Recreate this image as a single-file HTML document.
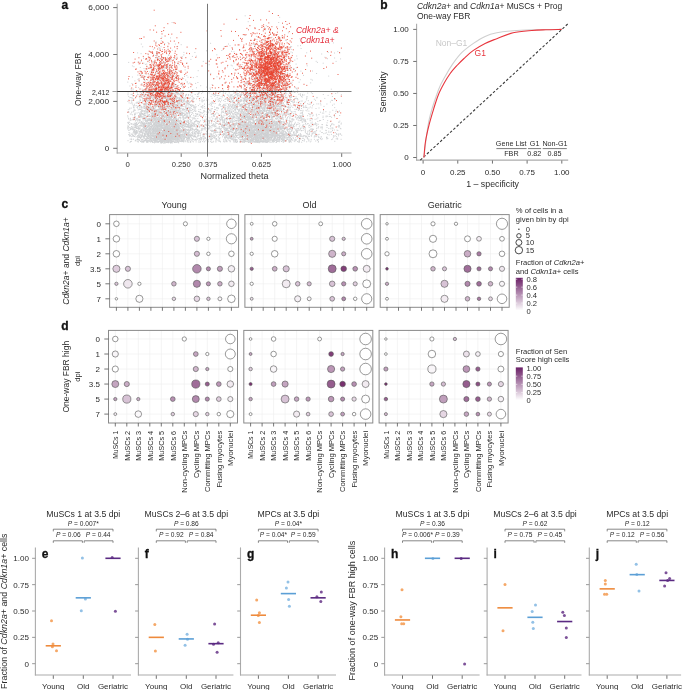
<!DOCTYPE html>
<html><head><meta charset="utf-8"><style>
html,body{margin:0;padding:0;background:#fff;}
svg{display:block;will-change:transform;font-family:"Liberation Sans", sans-serif;}
</style></head><body>
<svg width="685" height="690" viewBox="0 0 685 690" fill="#2b2b2b">
<path d="M244.8 127.9h1.0M134.2 109.9h1.0M243.8 117.5h1.0M179.5 129.0h1.0M155.8 129.4h1.0M179.8 124.4h1.0M155.5 106.9h1.0M245.2 100.4h1.0M273.6 134.4h1.0M239.9 139.6h1.0M152.0 126.0h1.0M174.1 109.7h1.0M138.6 125.5h1.0M251.3 104.4h1.0M252.2 133.7h1.0M234.9 140.3h1.0M272.4 129.4h1.0M233.2 124.2h1.0M297.4 107.7h1.0M336.5 130.1h1.0M167.9 132.0h1.0M188.8 114.2h1.0M253.5 122.7h1.0M188.4 117.2h1.0M175.5 104.8h1.0M238.1 127.7h1.0M233.4 107.4h1.0M160.0 140.5h1.0M282.9 127.0h1.0M240.5 128.3h1.0M245.8 131.6h1.0M170.6 118.2h1.0M147.6 108.1h1.0M165.3 112.7h1.0M233.3 118.2h1.0M158.0 113.7h1.0M165.4 117.9h1.0M267.8 136.3h1.0M143.7 127.2h1.0M221.9 117.0h1.0M231.6 132.7h1.0M294.0 124.4h1.0M276.1 105.6h1.0M283.6 114.1h1.0M146.5 116.3h1.0M249.1 133.0h1.0M243.0 140.1h1.0M266.9 117.3h1.0M145.5 128.8h1.0M209.7 120.2h1.0M146.5 111.4h1.0M174.4 119.4h1.0M176.2 104.4h1.0M134.9 114.3h1.0M225.0 138.8h1.0M142.7 129.3h1.0M296.4 102.3h1.0M236.9 137.6h1.0M256.6 119.4h1.0M244.0 128.0h1.0M262.3 108.6h1.0M173.8 117.6h1.0M311.5 134.6h1.0M153.7 133.3h1.0M164.0 131.7h1.0M159.6 138.1h1.0M235.4 130.1h1.0M178.6 117.7h1.0M250.0 122.8h1.0M176.2 123.6h1.0M297.8 108.0h1.0M243.0 131.0h1.0M195.5 121.0h1.0M285.1 106.2h1.0M299.4 117.7h1.0M214.4 138.3h1.0M263.5 116.3h1.0M171.0 104.2h1.0M164.6 97.7h1.0M217.6 140.6h1.0M279.6 115.0h1.0M135.2 126.0h1.0M340.4 128.8h1.0M268.8 130.0h1.0M190.2 110.1h1.0M191.1 124.7h1.0M186.1 135.3h1.0M169.2 123.2h1.0M181.9 114.3h1.0M181.3 141.7h1.0M230.3 126.6h1.0M309.6 104.3h1.0M147.1 110.8h1.0M252.5 127.6h1.0M154.0 97.7h1.0M142.2 114.6h1.0M142.9 142.2h1.0M171.5 101.6h1.0M200.6 125.0h1.0M254.7 112.2h1.0M262.9 130.2h1.0M287.1 134.1h1.0M156.5 120.8h1.0M155.2 118.5h1.0M234.9 105.7h1.0M268.4 122.4h1.0M156.7 130.2h1.0M286.6 110.0h1.0M263.6 124.2h1.0M141.2 116.4h1.0M166.2 125.2h1.0M266.1 97.7h1.0M169.2 131.3h1.0M249.6 125.7h1.0M220.6 106.5h1.0M176.8 125.0h1.0M166.2 90.2h1.0M275.7 126.7h1.0M159.5 108.6h1.0M246.8 116.5h1.0M215.3 99.2h1.0M242.0 136.5h1.0M340.9 94.7h1.0M149.9 106.2h1.0M150.3 122.3h1.0M160.2 94.3h1.0M188.8 115.8h1.0M169.7 97.9h1.0M131.7 127.0h1.0M248.9 108.6h1.0M179.6 115.3h1.0M168.8 130.8h1.0M311.7 133.2h1.0M287.9 107.3h1.0M136.8 118.3h1.0M271.4 107.0h1.0M216.8 132.3h1.0M161.3 136.1h1.0M291.1 119.1h1.0M255.5 108.4h1.0M262.5 113.1h1.0M274.4 122.8h1.0M158.7 117.1h1.0M173.5 93.6h1.0M172.9 112.7h1.0M252.2 117.2h1.0M265.0 130.2h1.0M334.2 107.6h1.0M257.0 125.0h1.0M239.1 125.8h1.0M267.6 133.4h1.0M280.6 114.0h1.0M162.1 101.3h1.0M188.4 118.4h1.0M132.5 111.9h1.0M167.0 98.3h1.0M162.2 125.4h1.0M129.2 109.0h1.0M186.2 102.1h1.0M250.8 125.5h1.0M154.3 94.9h1.0M253.8 117.9h1.0M245.1 119.1h1.0M270.2 102.9h1.0M249.1 138.9h1.0M146.6 115.9h1.0M242.7 116.8h1.0M210.9 102.1h1.0M251.4 126.8h1.0M221.2 109.3h1.0M173.4 108.6h1.0M154.8 119.6h1.0M138.8 117.3h1.0M266.3 123.8h1.0M220.8 119.2h1.0M201.5 129.6h1.0M172.4 120.4h1.0M215.1 118.9h1.0M219.2 134.6h1.0M264.5 126.9h1.0M263.2 126.3h1.0M157.3 130.5h1.0M172.1 130.1h1.0M176.8 102.9h1.0M146.2 134.1h1.0M167.0 121.7h1.0M166.6 120.5h1.0M155.0 114.8h1.0M287.6 111.1h1.0M182.3 94.3h1.0M250.2 118.1h1.0M160.1 108.6h1.0M206.3 114.6h1.0M143.5 107.9h1.0M251.6 132.5h1.0M279.3 116.3h1.0M260.7 130.8h1.0M272.6 142.2h1.0M233.7 125.8h1.0M177.3 103.6h1.0M218.6 141.5h1.0M159.6 140.4h1.0M269.1 117.6h1.0M338.2 127.1h1.0M168.1 140.3h1.0M163.2 102.2h1.0M143.0 124.1h1.0M177.1 113.5h1.0M194.5 109.6h1.0M239.9 106.1h1.0M315.9 125.8h1.0M146.0 136.6h1.0M142.5 110.7h1.0M274.7 139.7h1.0M162.6 95.2h1.0M259.5 119.2h1.0M159.4 105.2h1.0M178.9 128.4h1.0M259.8 108.2h1.0M252.3 112.7h1.0M222.8 112.5h1.0M171.3 128.6h1.0M270.6 133.1h1.0M244.7 99.2h1.0M264.4 135.3h1.0M252.6 132.3h1.0M154.4 118.9h1.0M234.3 126.7h1.0M305.0 120.8h1.0M133.9 130.2h1.0M165.2 140.4h1.0M159.8 98.6h1.0M229.9 114.4h1.0M153.8 130.7h1.0M272.7 141.0h1.0M230.4 135.4h1.0M146.8 101.2h1.0M192.5 109.6h1.0M291.5 121.1h1.0M270.4 131.7h1.0M139.0 122.3h1.0M170.4 134.5h1.0M141.9 128.9h1.0M241.5 97.7h1.0M239.0 120.4h1.0M173.8 136.3h1.0M293.8 128.7h1.0M141.3 136.0h1.0M182.0 131.0h1.0M160.8 136.6h1.0M282.2 115.1h1.0M172.5 141.7h1.0M279.4 127.4h1.0M253.6 102.1h1.0M157.6 111.6h1.0M171.5 110.9h1.0M260.2 126.0h1.0M166.4 106.1h1.0M173.3 139.4h1.0M162.7 118.9h1.0M156.6 117.8h1.0M158.2 109.5h1.0M168.2 125.5h1.0M158.1 117.7h1.0M241.6 119.1h1.0M289.3 137.1h1.0M172.5 128.5h1.0M248.7 109.9h1.0M237.0 130.8h1.0M173.7 127.3h1.0M265.3 134.7h1.0M148.9 119.4h1.0M289.1 122.8h1.0M296.3 131.1h1.0M281.4 123.3h1.0M242.5 124.0h1.0M142.9 141.3h1.0M163.8 96.1h1.0M214.1 109.6h1.0M300.2 105.1h1.0M137.0 139.2h1.0M130.3 129.3h1.0M261.3 130.5h1.0M305.4 135.6h1.0M211.9 120.1h1.0M177.3 130.5h1.0M201.3 137.7h1.0M252.9 132.8h1.0M210.1 139.6h1.0M278.8 139.0h1.0M152.4 126.5h1.0M320.7 139.6h1.0M262.0 128.7h1.0M258.9 128.1h1.0M164.1 96.3h1.0M240.3 122.3h1.0M169.6 124.6h1.0M263.3 116.0h1.0M257.2 121.0h1.0M273.1 130.2h1.0M250.4 114.4h1.0M168.4 138.5h1.0M179.4 108.4h1.0M199.1 111.9h1.0M255.6 116.3h1.0M285.2 135.8h1.0M143.4 141.9h1.0M241.4 117.2h1.0M248.2 113.9h1.0M152.8 123.4h1.0M252.4 135.1h1.0M129.2 122.3h1.0M129.6 142.3h1.0M177.1 113.2h1.0M270.7 127.5h1.0M240.9 135.6h1.0M156.0 120.1h1.0M267.5 126.9h1.0M292.3 107.4h1.0M220.6 96.7h1.0M142.7 140.8h1.0M151.7 131.6h1.0M330.9 134.4h1.0M141.6 107.2h1.0M150.5 118.3h1.0M232.1 135.1h1.0M251.4 133.5h1.0M209.5 137.7h1.0M171.9 109.5h1.0M147.4 129.5h1.0M156.0 126.0h1.0M290.9 99.7h1.0M174.8 131.7h1.0M240.6 132.8h1.0M185.9 134.2h1.0M154.6 111.1h1.0M147.7 134.4h1.0M242.5 98.9h1.0M231.4 122.6h1.0M173.7 106.4h1.0M226.1 136.5h1.0M250.2 132.5h1.0M240.8 115.3h1.0M139.1 119.5h1.0M183.3 117.6h1.0M135.4 96.9h1.0M129.7 139.1h1.0M169.2 117.5h1.0M283.9 129.0h1.0M165.5 130.7h1.0M141.5 142.2h1.0M146.9 119.9h1.0M253.6 130.7h1.0M155.1 113.5h1.0M256.6 91.2h1.0M156.7 127.5h1.0M266.9 120.3h1.0M152.0 135.4h1.0M294.4 109.3h1.0M280.5 105.4h1.0M246.9 115.2h1.0M142.4 133.2h1.0M269.6 119.2h1.0M213.9 121.4h1.0M169.2 137.7h1.0M128.4 99.9h1.0M176.7 89.9h1.0M214.3 126.8h1.0M146.4 109.0h1.0M138.4 112.4h1.0M321.9 138.9h1.0M153.8 111.3h1.0M233.7 126.2h1.0M285.5 123.8h1.0M319.9 112.2h1.0M155.7 134.9h1.0M189.8 116.7h1.0M225.0 130.9h1.0M145.1 108.9h1.0M172.5 141.7h1.0M252.7 109.5h1.0M269.3 99.7h1.0M250.4 125.1h1.0M242.7 121.9h1.0M226.8 138.8h1.0M246.7 119.0h1.0M256.1 139.5h1.0M256.2 106.9h1.0M269.6 116.9h1.0M202.7 120.7h1.0M163.7 125.5h1.0M275.7 122.4h1.0M180.5 114.5h1.0M192.3 101.6h1.0M263.9 122.4h1.0M196.1 115.0h1.0M186.8 108.7h1.0M182.9 136.5h1.0M262.9 102.1h1.0M163.6 123.3h1.0M267.7 120.4h1.0M254.9 117.4h1.0M273.5 128.6h1.0M196.1 131.5h1.0M275.7 135.1h1.0M194.8 116.5h1.0M247.2 140.0h1.0M206.2 125.4h1.0M267.9 113.3h1.0M131.5 98.9h1.0M276.5 109.9h1.0M283.3 134.4h1.0M139.7 99.6h1.0M251.1 118.5h1.0M197.9 131.6h1.0M259.9 110.1h1.0M285.1 116.8h1.0M245.2 134.8h1.0M170.6 124.2h1.0M328.8 114.3h1.0M280.4 128.4h1.0M219.7 101.6h1.0M263.8 120.9h1.0M268.2 115.0h1.0M265.7 132.8h1.0M157.8 118.0h1.0M231.4 138.5h1.0M241.6 109.6h1.0M223.6 131.4h1.0M167.9 110.8h1.0M247.6 111.5h1.0M246.5 94.0h1.0M289.6 121.9h1.0M155.1 139.0h1.0M261.9 121.4h1.0M177.7 111.2h1.0M145.6 138.5h1.0M299.4 135.3h1.0M199.7 138.4h1.0M236.8 107.4h1.0M277.1 133.3h1.0M228.9 127.1h1.0M246.6 92.0h1.0M272.4 114.1h1.0M253.9 97.6h1.0M268.5 140.1h1.0M276.7 135.9h1.0M216.6 128.6h1.0M246.7 120.1h1.0M154.3 128.9h1.0M289.1 142.1h1.0M178.7 107.2h1.0M268.5 124.1h1.0M178.4 112.0h1.0M248.0 113.5h1.0M258.4 114.1h1.0M266.4 113.4h1.0M195.6 129.5h1.0M286.8 104.4h1.0M161.7 122.3h1.0M280.7 133.3h1.0M257.7 108.4h1.0M248.3 139.8h1.0M248.0 134.9h1.0M173.7 110.0h1.0M172.5 127.0h1.0M326.8 125.5h1.0M276.1 111.0h1.0M256.3 120.2h1.0M244.7 130.5h1.0M257.4 132.5h1.0M262.0 109.3h1.0M264.4 137.4h1.0M188.0 137.1h1.0M184.6 136.6h1.0M151.7 119.5h1.0M273.1 109.7h1.0M131.5 102.9h1.0M169.3 118.0h1.0M232.0 118.0h1.0M273.4 114.0h1.0M246.4 135.3h1.0M331.1 117.3h1.0M144.0 127.1h1.0M169.6 120.9h1.0M177.6 119.1h1.0M262.4 140.2h1.0M267.1 115.0h1.0M141.3 131.5h1.0M236.7 95.1h1.0M139.4 134.5h1.0M214.4 124.9h1.0M157.8 109.2h1.0M236.9 117.0h1.0M219.8 131.3h1.0M268.6 110.3h1.0M280.2 126.7h1.0M249.2 133.1h1.0M253.2 138.7h1.0M178.5 121.1h1.0M250.3 141.0h1.0M154.2 120.1h1.0M245.5 115.8h1.0M237.7 113.7h1.0M168.4 115.5h1.0M275.5 136.4h1.0M246.5 93.4h1.0M291.0 125.8h1.0M157.5 115.2h1.0M289.0 92.8h1.0M152.2 92.3h1.0M240.0 132.0h1.0M157.9 139.1h1.0M268.1 99.4h1.0M154.6 103.7h1.0M304.9 132.7h1.0M258.1 117.2h1.0M263.3 134.5h1.0M161.4 113.1h1.0M274.6 138.2h1.0M132.1 95.2h1.0M171.1 129.5h1.0M148.9 129.8h1.0M172.5 133.3h1.0M245.4 138.3h1.0M265.7 141.6h1.0M278.1 94.5h1.0M136.2 105.7h1.0M162.0 116.3h1.0M157.6 124.8h1.0M260.3 133.9h1.0M248.6 122.3h1.0M213.9 116.1h1.0M240.6 100.5h1.0M226.3 129.3h1.0M279.8 106.5h1.0M258.9 111.4h1.0M171.8 136.6h1.0M177.6 93.4h1.0M225.9 140.1h1.0M178.7 122.4h1.0M164.7 98.6h1.0M284.1 114.9h1.0M221.5 118.2h1.0M163.8 122.7h1.0M159.3 115.2h1.0M157.0 135.1h1.0M163.0 130.3h1.0M214.7 124.1h1.0M143.0 118.9h1.0M127.6 122.6h1.0M169.0 112.5h1.0M250.9 103.5h1.0M168.3 91.4h1.0M256.9 142.0h1.0M184.6 136.4h1.0M194.0 106.9h1.0M215.3 120.0h1.0M153.5 123.9h1.0M264.3 117.4h1.0M149.2 135.1h1.0M164.3 128.8h1.0M286.1 133.8h1.0M164.9 102.4h1.0M266.1 95.4h1.0M316.4 97.9h1.0M244.6 111.2h1.0M165.4 122.4h1.0M286.6 102.9h1.0M239.5 100.4h1.0M245.0 106.6h1.0M165.8 115.4h1.0M272.0 134.3h1.0M268.3 112.6h1.0M170.2 131.8h1.0M145.7 132.4h1.0M189.6 122.1h1.0M267.5 140.2h1.0M147.9 126.3h1.0M298.0 134.6h1.0M295.1 113.2h1.0M245.6 141.7h1.0M271.9 112.9h1.0M260.0 141.7h1.0M277.2 113.1h1.0M210.1 136.6h1.0M156.7 129.7h1.0M238.4 120.9h1.0M156.2 95.5h1.0M281.2 118.0h1.0M257.9 126.8h1.0M300.9 130.5h1.0M294.8 122.3h1.0M272.8 106.1h1.0M163.8 140.3h1.0M185.1 140.8h1.0M132.8 129.7h1.0M165.9 118.0h1.0M245.1 139.6h1.0M231.2 126.7h1.0M139.9 92.2h1.0M286.3 113.4h1.0M215.0 109.7h1.0M161.5 101.0h1.0M149.0 136.9h1.0M265.9 116.5h1.0M160.6 135.5h1.0M147.9 135.0h1.0M276.1 124.4h1.0M299.1 107.2h1.0M156.8 114.0h1.0M185.3 108.1h1.0M227.1 112.8h1.0M175.3 94.1h1.0M263.3 121.9h1.0M144.9 115.5h1.0M240.0 130.7h1.0M166.5 114.2h1.0M252.4 88.8h1.0M149.7 109.1h1.0M282.0 96.9h1.0M256.4 131.0h1.0M164.4 132.3h1.0M175.5 136.3h1.0M231.9 104.2h1.0M273.6 121.1h1.0M175.2 99.1h1.0M271.6 120.1h1.0M251.9 111.5h1.0M185.0 96.1h1.0M170.2 123.9h1.0M253.0 111.8h1.0M262.8 128.0h1.0M276.3 116.9h1.0M195.2 139.8h1.0M247.0 112.9h1.0M236.5 133.4h1.0M197.0 133.1h1.0M179.1 99.5h1.0M316.2 123.8h1.0M256.3 115.9h1.0M169.5 124.2h1.0M253.5 134.8h1.0M166.4 133.1h1.0M250.6 117.2h1.0M312.7 129.4h1.0M218.9 132.4h1.0M172.4 130.9h1.0M176.8 121.5h1.0M150.4 134.4h1.0M155.7 98.4h1.0M156.6 111.2h1.0M152.5 118.2h1.0M169.9 123.6h1.0M265.0 106.7h1.0M198.0 111.6h1.0M290.7 96.5h1.0M251.8 135.7h1.0M184.4 129.0h1.0M251.2 98.4h1.0M265.5 121.1h1.0M176.2 123.2h1.0M169.4 91.6h1.0M333.9 99.6h1.0M254.1 110.0h1.0M315.2 134.7h1.0M158.7 106.4h1.0M258.9 130.8h1.0M309.0 130.5h1.0M172.2 125.1h1.0M165.5 139.6h1.0M260.7 137.7h1.0M176.8 140.4h1.0M246.7 97.9h1.0M161.6 117.8h1.0M134.3 113.3h1.0M242.7 142.3h1.0M291.7 134.7h1.0M269.5 130.2h1.0M194.3 132.2h1.0M172.2 133.8h1.0M190.5 130.2h1.0M155.3 127.8h1.0M193.2 139.7h1.0M197.2 114.6h1.0M266.7 129.4h1.0M299.3 130.3h1.0M303.1 119.8h1.0M282.9 119.7h1.0M173.1 124.9h1.0M287.0 117.8h1.0M221.4 109.8h1.0M247.3 97.3h1.0M244.1 99.5h1.0M283.6 99.4h1.0M163.2 107.6h1.0M248.5 93.5h1.0M291.2 136.4h1.0M159.4 139.3h1.0M247.0 107.4h1.0M299.6 118.4h1.0M138.1 126.9h1.0M266.5 110.6h1.0M250.6 130.6h1.0M201.6 138.1h1.0M183.0 95.8h1.0M197.0 129.5h1.0M260.9 121.4h1.0M225.3 107.2h1.0M268.2 141.7h1.0M163.9 135.5h1.0M277.3 124.6h1.0M241.3 140.9h1.0M193.5 135.1h1.0M169.9 91.8h1.0M184.4 114.9h1.0M207.8 139.7h1.0M244.6 118.1h1.0M155.2 97.2h1.0M156.7 129.9h1.0M185.9 117.8h1.0M270.8 133.9h1.0M244.4 118.7h1.0M157.5 101.8h1.0M161.3 103.1h1.0M234.0 133.2h1.0M235.8 139.7h1.0M202.2 108.0h1.0M230.4 125.3h1.0M171.0 121.4h1.0M142.1 123.4h1.0M163.3 96.0h1.0M226.5 124.5h1.0M180.7 115.2h1.0M273.7 135.6h1.0M159.1 124.1h1.0M274.6 131.0h1.0M153.5 114.0h1.0M181.2 124.4h1.0M131.9 104.1h1.0M234.7 112.3h1.0M255.7 102.0h1.0M247.5 128.6h1.0M202.3 107.2h1.0M162.3 96.5h1.0M174.2 139.9h1.0M164.5 141.5h1.0M185.7 131.6h1.0M173.3 131.0h1.0M229.8 117.4h1.0M159.5 135.1h1.0M237.6 113.5h1.0M185.3 133.2h1.0M161.8 117.1h1.0M275.0 133.7h1.0M158.7 119.7h1.0M128.2 119.1h1.0M241.5 134.8h1.0M148.8 109.3h1.0M295.8 131.1h1.0M213.1 141.3h1.0M133.8 104.2h1.0M273.5 97.5h1.0M130.7 114.0h1.0M147.0 141.8h1.0M267.1 138.8h1.0M215.5 140.3h1.0M244.8 118.0h1.0M161.7 137.2h1.0M283.2 141.9h1.0M261.3 132.5h1.0M142.0 123.0h1.0M238.7 109.2h1.0M243.1 101.6h1.0M161.0 129.9h1.0M155.5 124.0h1.0M148.6 124.7h1.0M194.2 121.7h1.0M165.0 103.4h1.0M196.9 121.5h1.0M159.6 106.8h1.0M206.1 131.2h1.0M269.2 128.6h1.0M172.9 121.8h1.0M280.2 102.4h1.0M261.9 123.8h1.0M251.2 119.4h1.0M269.0 126.3h1.0M289.6 105.9h1.0M289.4 135.1h1.0M133.0 128.9h1.0M304.9 121.5h1.0M153.3 114.8h1.0M290.5 129.5h1.0M335.8 136.6h1.0M234.3 128.8h1.0M186.1 132.8h1.0M270.5 130.6h1.0M178.5 93.7h1.0M280.0 137.6h1.0M143.0 141.5h1.0M154.1 137.5h1.0M138.0 115.5h1.0M188.2 103.0h1.0M234.3 123.6h1.0M227.3 130.6h1.0M242.1 92.0h1.0M163.0 107.2h1.0M256.5 136.5h1.0M129.9 118.3h1.0M182.4 113.2h1.0M243.2 98.1h1.0M276.2 121.8h1.0M223.8 121.7h1.0M270.1 142.1h1.0M192.9 123.9h1.0M172.2 98.2h1.0M165.1 138.7h1.0M155.1 116.3h1.0M246.3 129.5h1.0M153.5 131.5h1.0M165.6 130.4h1.0M287.7 139.2h1.0M165.7 121.6h1.0M177.9 135.1h1.0M205.8 119.3h1.0M235.0 129.7h1.0M176.3 125.7h1.0M295.9 109.5h1.0M163.8 138.5h1.0M172.9 134.3h1.0M207.7 123.9h1.0M187.2 107.7h1.0M141.0 95.3h1.0M254.8 139.4h1.0M191.9 132.3h1.0M184.6 130.9h1.0M274.6 129.6h1.0M147.3 134.6h1.0M262.1 131.7h1.0M167.8 99.6h1.0M166.6 133.5h1.0M166.0 131.7h1.0M310.4 123.0h1.0M179.4 115.2h1.0M244.4 122.6h1.0M334.6 135.6h1.0M338.8 125.6h1.0M166.4 140.0h1.0M322.8 94.5h1.0M259.2 112.7h1.0M263.7 106.8h1.0M186.3 103.9h1.0M162.5 141.2h1.0M164.0 103.4h1.0M167.4 123.5h1.0M219.7 141.3h1.0M182.0 113.9h1.0M172.3 130.8h1.0M159.4 125.7h1.0M143.8 111.9h1.0M168.5 116.8h1.0M221.1 115.3h1.0M269.9 128.0h1.0M145.3 114.0h1.0M269.5 126.0h1.0M135.5 127.3h1.0M161.2 106.9h1.0M127.2 115.8h1.0M268.7 130.4h1.0M154.6 109.6h1.0M170.7 120.6h1.0M160.6 124.8h1.0M153.7 111.3h1.0M156.3 137.1h1.0M176.1 115.3h1.0M244.6 106.8h1.0M181.1 138.8h1.0M177.3 134.6h1.0M309.7 103.0h1.0M146.4 98.3h1.0M158.9 129.5h1.0M168.4 115.0h1.0M278.3 104.0h1.0M267.4 128.3h1.0M272.9 105.3h1.0M254.0 103.6h1.0M167.6 119.9h1.0M158.4 110.4h1.0M301.7 101.0h1.0M298.5 142.1h1.0M266.0 115.9h1.0M251.7 107.9h1.0M244.8 123.0h1.0M162.6 115.1h1.0M172.5 125.5h1.0M187.6 122.4h1.0M144.9 134.3h1.0M229.0 136.3h1.0M225.7 132.8h1.0M239.0 119.0h1.0M247.5 114.5h1.0M186.2 112.8h1.0M161.2 118.8h1.0M303.3 135.4h1.0M267.5 122.0h1.0M200.9 138.6h1.0M315.2 141.0h1.0M174.8 102.9h1.0M164.9 131.0h1.0M275.5 135.6h1.0M157.7 123.3h1.0M241.8 116.3h1.0M183.7 100.4h1.0M246.1 114.3h1.0M258.1 128.8h1.0M232.4 96.6h1.0M313.7 137.0h1.0M176.9 128.3h1.0M168.2 139.7h1.0M224.6 101.5h1.0M260.6 103.4h1.0M184.1 134.2h1.0M164.4 117.1h1.0M230.7 98.4h1.0M236.0 142.3h1.0M204.0 128.2h1.0M256.9 120.9h1.0M249.7 127.3h1.0M258.5 136.8h1.0M140.0 116.3h1.0M266.8 134.4h1.0M173.0 129.6h1.0M138.1 123.5h1.0M140.0 125.7h1.0M301.9 105.3h1.0M311.7 119.7h1.0M256.5 91.2h1.0M251.2 137.1h1.0M169.5 111.0h1.0M282.5 126.4h1.0M172.6 124.7h1.0M235.7 112.5h1.0M158.3 99.4h1.0M287.9 100.5h1.0M295.5 135.2h1.0M307.6 131.0h1.0M188.1 129.5h1.0M266.0 108.7h1.0M254.8 136.7h1.0M134.4 125.0h1.0M176.7 135.2h1.0M180.2 124.5h1.0M280.4 104.5h1.0M179.6 117.9h1.0M273.6 116.8h1.0M166.7 111.0h1.0M251.7 96.9h1.0M170.6 105.1h1.0M222.7 93.0h1.0M196.3 138.9h1.0M245.3 133.9h1.0M261.1 129.4h1.0M200.8 107.1h1.0M157.0 115.6h1.0M251.3 135.1h1.0M164.3 96.3h1.0M260.4 126.9h1.0M182.7 116.5h1.0M282.3 141.2h1.0M287.7 104.1h1.0M169.4 116.7h1.0M248.6 99.3h1.0M246.7 118.1h1.0M193.1 115.3h1.0M161.8 104.0h1.0M170.7 102.5h1.0M260.5 131.1h1.0M145.1 90.4h1.0M238.6 114.4h1.0M271.5 130.0h1.0M300.0 95.6h1.0M248.6 131.0h1.0M222.1 105.9h1.0M143.1 116.1h1.0M194.2 123.8h1.0M149.5 135.9h1.0M290.1 121.5h1.0M268.6 129.6h1.0M273.0 138.2h1.0M253.1 120.6h1.0M145.1 129.1h1.0M245.9 113.8h1.0M192.1 119.1h1.0M161.1 109.1h1.0M181.8 109.4h1.0M247.7 136.8h1.0M310.2 120.2h1.0M206.9 135.6h1.0M139.4 128.6h1.0M187.4 134.2h1.0M186.3 129.7h1.0M130.8 139.4h1.0M240.0 135.7h1.0M224.7 104.1h1.0M217.7 134.8h1.0M157.2 135.3h1.0M211.8 108.6h1.0M177.8 107.3h1.0M167.1 97.3h1.0M248.7 133.3h1.0M183.6 130.1h1.0M185.4 126.6h1.0M256.2 141.8h1.0M195.4 110.9h1.0M181.5 139.6h1.0M150.5 113.1h1.0M254.4 128.5h1.0M206.3 139.2h1.0M241.0 129.7h1.0M169.0 108.1h1.0M140.4 125.0h1.0M179.7 112.7h1.0M179.3 112.4h1.0M149.2 100.7h1.0M304.7 120.0h1.0M158.0 111.3h1.0M200.1 109.5h1.0M163.2 107.6h1.0M143.5 110.7h1.0M243.3 132.8h1.0M310.1 114.3h1.0M167.2 134.2h1.0M164.8 140.4h1.0M249.5 119.5h1.0M290.0 140.3h1.0M241.7 111.6h1.0M170.7 141.5h1.0M246.1 121.9h1.0M226.9 135.6h1.0M261.2 108.1h1.0M168.3 99.1h1.0M154.9 115.7h1.0M235.3 140.8h1.0M150.1 134.2h1.0M278.4 121.5h1.0M266.6 136.1h1.0M261.3 102.7h1.0M172.9 98.2h1.0M139.2 128.8h1.0M267.0 131.3h1.0M241.5 100.8h1.0M189.9 92.3h1.0M239.2 127.6h1.0M188.8 102.1h1.0M257.8 120.5h1.0M280.6 123.4h1.0M216.0 135.4h1.0M133.9 125.0h1.0M265.0 114.7h1.0M233.1 117.7h1.0M166.1 139.0h1.0M259.8 99.5h1.0M164.5 124.1h1.0M282.1 119.0h1.0M168.5 131.2h1.0M264.8 129.0h1.0M181.0 134.4h1.0M148.3 108.6h1.0M266.5 136.4h1.0M238.4 128.6h1.0M168.5 130.2h1.0M262.1 127.3h1.0M166.9 127.6h1.0M284.9 127.1h1.0M150.3 116.2h1.0M154.2 133.7h1.0M172.5 103.4h1.0M201.2 112.8h1.0M241.1 130.2h1.0M142.6 121.8h1.0M151.8 129.6h1.0M243.6 89.8h1.0M167.7 131.6h1.0M166.1 136.4h1.0M212.9 137.7h1.0M164.7 139.9h1.0M184.1 134.1h1.0M262.0 128.8h1.0M163.3 133.5h1.0M237.4 101.5h1.0M147.1 135.0h1.0M330.0 126.7h1.0M175.7 99.3h1.0M142.2 98.3h1.0M262.7 138.4h1.0M261.2 140.2h1.0M141.7 132.2h1.0M250.4 109.4h1.0M172.5 141.2h1.0M278.5 113.4h1.0M262.0 133.6h1.0M321.9 127.0h1.0M169.0 112.1h1.0M256.3 115.2h1.0M154.4 118.5h1.0M277.1 123.1h1.0M264.0 101.6h1.0M147.7 112.3h1.0M315.3 131.3h1.0M266.2 138.4h1.0M190.0 129.0h1.0M257.0 137.1h1.0M253.5 110.9h1.0M146.4 130.0h1.0M284.2 134.9h1.0M155.4 103.3h1.0M144.3 99.7h1.0M162.9 133.8h1.0M271.5 102.7h1.0M269.4 131.5h1.0M188.1 130.8h1.0M144.4 106.2h1.0M171.7 120.1h1.0M152.6 114.3h1.0M234.2 117.4h1.0M235.6 118.1h1.0M274.4 99.3h1.0M288.5 141.0h1.0M245.5 124.5h1.0M148.0 109.9h1.0M166.7 99.8h1.0M243.7 113.9h1.0M229.2 113.4h1.0M275.6 108.0h1.0M165.0 119.9h1.0M254.0 133.1h1.0M290.6 116.4h1.0M241.5 119.7h1.0M205.3 140.7h1.0M131.1 124.1h1.0M173.1 118.5h1.0M258.2 139.3h1.0M183.4 109.7h1.0M268.5 124.8h1.0M257.6 111.8h1.0M223.4 140.2h1.0M201.7 128.2h1.0M145.8 131.8h1.0M192.1 105.3h1.0M135.3 120.6h1.0M256.3 131.0h1.0M160.7 142.0h1.0M269.1 140.0h1.0M249.6 125.8h1.0M256.2 131.8h1.0M149.9 99.9h1.0M270.9 129.6h1.0M173.3 106.0h1.0M295.3 139.9h1.0M328.3 128.5h1.0M203.0 138.8h1.0M154.5 104.7h1.0M201.6 117.1h1.0M210.7 120.3h1.0M157.3 114.7h1.0M289.4 121.2h1.0M154.6 117.8h1.0M151.3 110.3h1.0M261.2 130.5h1.0M315.5 108.5h1.0M257.8 90.2h1.0M169.8 130.1h1.0M234.3 132.5h1.0M252.1 109.0h1.0M154.2 136.7h1.0M182.9 93.3h1.0M264.6 134.7h1.0M184.2 115.4h1.0M185.0 130.8h1.0M166.1 118.7h1.0M256.2 113.8h1.0M149.7 128.2h1.0M313.9 139.3h1.0M148.3 133.6h1.0M164.7 138.7h1.0M131.4 129.2h1.0M275.1 111.4h1.0M171.8 131.8h1.0M272.9 97.9h1.0M132.9 119.2h1.0M333.6 115.5h1.0M161.4 121.3h1.0M185.2 117.2h1.0M185.7 101.2h1.0M267.5 125.1h1.0M134.7 110.3h1.0M260.8 132.3h1.0M145.5 139.2h1.0M209.9 139.7h1.0M243.9 135.6h1.0M127.6 127.0h1.0M264.5 126.1h1.0M171.3 97.7h1.0M146.9 112.7h1.0M270.0 119.5h1.0M182.2 125.0h1.0M168.5 136.0h1.0M309.4 131.1h1.0M229.5 108.5h1.0M211.0 114.2h1.0M192.8 118.7h1.0M187.8 138.9h1.0M248.4 118.4h1.0M260.1 138.2h1.0M151.1 102.7h1.0M191.1 121.0h1.0M161.8 138.6h1.0M218.8 129.1h1.0M164.3 92.6h1.0M168.6 110.0h1.0M325.6 116.8h1.0M258.5 110.3h1.0M231.4 137.4h1.0M245.0 137.3h1.0M175.9 126.2h1.0M157.7 141.8h1.0M257.9 140.8h1.0M145.3 140.7h1.0M288.9 141.0h1.0M271.6 124.5h1.0M278.2 135.2h1.0M261.1 121.6h1.0M185.0 118.1h1.0M134.4 129.1h1.0M268.6 137.8h1.0M148.0 119.2h1.0M265.4 121.1h1.0M164.8 128.0h1.0M185.3 109.2h1.0M188.6 140.3h1.0M203.7 126.3h1.0M277.8 131.1h1.0M258.9 119.6h1.0M289.4 118.1h1.0M250.5 135.4h1.0M146.9 111.2h1.0M191.7 99.0h1.0M283.1 128.3h1.0M310.7 139.4h1.0M157.3 134.6h1.0M248.6 121.0h1.0M151.6 91.0h1.0M215.6 139.2h1.0M297.0 106.5h1.0M279.4 108.6h1.0M220.3 128.6h1.0M213.0 130.8h1.0M135.6 118.9h1.0M302.3 111.2h1.0M275.1 128.4h1.0M204.6 129.9h1.0M169.4 117.1h1.0M261.1 131.3h1.0M176.7 100.7h1.0M150.0 108.1h1.0M206.0 134.0h1.0M176.0 106.2h1.0M266.9 94.1h1.0M258.8 114.6h1.0M178.0 119.0h1.0M270.1 105.1h1.0M332.9 135.7h1.0M170.0 132.9h1.0M213.1 135.8h1.0M251.8 97.8h1.0M224.7 118.5h1.0M151.2 117.5h1.0M144.4 129.0h1.0M180.1 138.4h1.0M230.5 137.0h1.0M254.9 139.9h1.0M236.3 92.2h1.0M304.8 127.9h1.0M182.1 134.9h1.0M264.7 110.9h1.0M150.7 133.2h1.0M273.1 112.7h1.0M252.2 131.6h1.0M175.6 120.1h1.0M217.9 108.6h1.0M258.8 118.2h1.0M213.7 132.2h1.0M318.2 126.6h1.0M171.2 126.8h1.0M257.7 115.3h1.0M164.0 134.3h1.0M243.9 126.5h1.0M264.8 129.6h1.0M243.3 136.7h1.0M245.3 114.3h1.0M159.5 122.1h1.0M233.6 101.9h1.0M227.8 106.8h1.0M297.7 120.0h1.0M171.4 120.9h1.0M149.0 114.6h1.0M259.8 137.9h1.0M288.9 121.1h1.0M128.1 118.4h1.0M139.2 135.7h1.0M171.8 129.7h1.0M263.2 95.1h1.0M180.1 123.0h1.0M212.9 94.8h1.0M150.9 126.5h1.0M154.7 124.4h1.0M254.2 129.7h1.0M272.8 131.6h1.0M252.7 108.0h1.0M254.4 130.1h1.0M269.6 113.4h1.0M140.4 115.1h1.0M260.7 134.9h1.0M152.0 138.5h1.0M241.0 117.4h1.0M266.2 111.8h1.0M249.5 117.7h1.0M177.4 134.1h1.0M270.6 124.0h1.0M154.1 125.9h1.0M190.4 141.9h1.0M175.5 140.8h1.0M276.2 135.4h1.0M171.3 130.5h1.0M176.7 93.5h1.0M165.1 103.3h1.0M236.8 96.7h1.0M175.6 119.2h1.0M338.5 111.6h1.0M175.0 126.8h1.0M162.6 124.9h1.0M275.3 97.1h1.0M144.6 119.8h1.0M175.4 125.3h1.0M186.1 109.8h1.0M280.6 132.5h1.0M285.9 100.1h1.0M187.8 135.5h1.0M227.4 110.6h1.0M156.6 124.7h1.0M278.8 136.2h1.0M244.1 95.8h1.0M167.5 134.0h1.0M255.8 135.2h1.0M259.7 96.5h1.0M159.6 129.8h1.0M180.8 108.2h1.0M264.4 107.8h1.0M263.5 127.6h1.0M247.9 129.2h1.0M197.6 121.3h1.0M298.6 142.1h1.0M287.8 125.9h1.0M271.8 137.0h1.0M147.9 115.3h1.0M167.3 138.2h1.0M277.0 124.0h1.0M315.1 123.8h1.0M166.6 120.4h1.0M166.9 117.8h1.0M146.2 120.2h1.0M225.6 137.5h1.0M254.7 97.5h1.0M264.1 141.8h1.0M187.3 113.1h1.0M248.2 98.4h1.0M261.4 92.5h1.0M251.2 132.1h1.0M162.4 136.4h1.0M171.7 124.2h1.0M244.4 96.1h1.0M195.2 113.5h1.0M143.9 136.0h1.0M219.9 131.4h1.0M160.4 107.6h1.0M261.1 100.4h1.0M231.9 100.4h1.0M132.5 91.1h1.0M235.9 114.0h1.0M247.0 124.8h1.0M167.1 126.9h1.0M307.2 103.7h1.0M247.2 128.0h1.0M241.3 111.9h1.0M271.6 136.8h1.0M243.7 124.0h1.0M195.6 124.5h1.0M201.7 101.9h1.0M261.8 123.4h1.0M194.3 133.7h1.0M154.0 113.1h1.0M153.6 131.1h1.0M249.1 118.2h1.0M182.5 108.6h1.0M223.8 134.3h1.0M302.9 128.7h1.0M241.4 122.2h1.0M218.9 100.3h1.0M167.1 128.5h1.0M149.0 118.6h1.0M239.8 126.7h1.0M165.3 98.1h1.0M192.4 141.3h1.0M229.4 137.5h1.0M154.3 130.6h1.0M258.9 109.6h1.0M129.8 135.7h1.0M256.4 111.7h1.0M279.2 104.1h1.0M294.8 98.6h1.0M160.5 114.2h1.0M271.7 130.6h1.0M156.1 141.9h1.0M133.2 124.3h1.0M205.4 121.4h1.0M163.2 119.1h1.0M149.3 130.5h1.0M218.9 134.1h1.0M169.5 94.0h1.0M130.6 97.6h1.0M309.4 125.2h1.0M260.8 133.4h1.0M277.4 129.5h1.0M201.2 139.6h1.0M150.3 139.0h1.0M170.7 131.4h1.0M153.2 140.5h1.0M177.6 132.0h1.0M229.4 106.9h1.0M311.9 130.6h1.0M336.7 138.1h1.0M266.8 135.1h1.0M184.7 130.1h1.0M246.7 99.0h1.0M174.4 125.9h1.0M154.5 97.7h1.0M222.3 106.7h1.0M170.8 92.2h1.0M168.9 139.6h1.0M152.7 129.8h1.0M269.3 109.8h1.0M277.7 128.1h1.0M152.5 130.0h1.0M261.0 114.0h1.0M159.5 136.5h1.0M256.7 114.7h1.0M284.6 114.1h1.0M260.7 115.9h1.0M250.5 141.1h1.0M281.0 141.5h1.0M241.2 134.4h1.0M298.1 128.5h1.0M182.8 123.8h1.0M262.3 115.7h1.0M135.3 127.4h1.0M150.0 128.4h1.0M179.6 99.9h1.0M158.5 91.3h1.0M296.9 98.8h1.0M233.4 136.7h1.0M266.0 110.9h1.0M298.6 140.1h1.0M174.8 114.9h1.0M148.4 104.2h1.0M208.1 109.3h1.0M158.7 125.3h1.0M249.0 103.8h1.0M258.1 139.1h1.0M159.0 91.5h1.0M139.1 114.3h1.0M201.3 100.1h1.0M258.6 108.5h1.0M217.7 121.1h1.0M190.0 141.6h1.0M154.5 121.0h1.0M180.5 122.8h1.0M159.6 135.8h1.0M174.2 124.6h1.0M230.3 129.1h1.0M255.9 125.3h1.0M230.0 121.1h1.0M195.1 134.3h1.0M162.8 98.9h1.0M211.2 121.9h1.0M190.4 130.6h1.0M301.1 106.5h1.0M162.8 90.0h1.0M146.1 129.9h1.0M249.7 130.4h1.0M312.1 115.9h1.0M162.1 119.8h1.0M180.6 124.9h1.0M180.2 108.7h1.0M168.0 122.3h1.0M326.9 116.2h1.0M233.3 113.9h1.0M143.8 130.6h1.0M173.6 139.4h1.0M163.4 112.5h1.0M225.0 134.1h1.0M259.6 105.0h1.0M177.6 141.9h1.0M194.7 94.5h1.0M250.3 117.6h1.0M225.9 129.5h1.0M287.7 133.8h1.0M157.4 134.9h1.0M204.1 141.4h1.0M294.4 139.8h1.0M249.4 98.7h1.0M218.1 124.3h1.0M185.6 113.7h1.0M174.5 137.3h1.0M165.6 110.2h1.0M127.8 109.7h1.0M143.3 100.8h1.0M166.6 91.4h1.0M175.5 111.1h1.0M144.9 140.4h1.0M288.7 136.8h1.0M171.8 131.5h1.0M129.0 135.8h1.0M198.9 131.8h1.0M259.5 127.0h1.0M287.8 102.5h1.0M154.7 97.5h1.0M309.5 116.1h1.0M163.8 135.4h1.0M247.0 109.5h1.0M268.9 119.7h1.0M161.5 139.3h1.0M168.1 114.9h1.0M280.2 97.3h1.0M153.9 115.5h1.0M241.8 141.8h1.0M202.7 134.5h1.0M225.4 141.7h1.0M206.4 118.9h1.0M259.8 104.0h1.0M239.4 138.0h1.0M244.3 90.3h1.0M145.6 139.1h1.0M261.0 141.5h1.0M153.8 135.9h1.0M273.2 108.1h1.0M279.3 107.9h1.0M182.5 127.8h1.0M157.6 122.5h1.0M165.6 100.6h1.0M246.8 126.9h1.0M145.0 128.8h1.0M142.4 90.1h1.0M287.7 123.9h1.0M211.3 127.8h1.0M263.5 126.6h1.0M145.8 117.7h1.0M161.7 100.5h1.0M139.3 107.4h1.0M255.6 129.8h1.0M180.3 120.5h1.0M146.9 126.6h1.0M195.7 128.4h1.0M137.6 119.8h1.0M231.1 112.5h1.0M142.3 133.0h1.0M166.5 102.6h1.0M290.1 114.4h1.0M309.8 107.0h1.0M263.4 99.0h1.0M308.3 141.0h1.0M172.6 121.9h1.0M292.2 127.5h1.0M271.7 119.6h1.0M283.8 137.6h1.0M164.9 125.8h1.0M162.8 122.5h1.0M202.9 100.8h1.0M151.1 141.4h1.0M130.8 108.1h1.0M204.0 100.2h1.0M159.2 118.3h1.0M232.0 105.4h1.0M169.6 90.2h1.0M195.7 121.1h1.0M301.9 122.1h1.0M274.0 132.2h1.0M172.0 106.7h1.0M283.3 111.6h1.0M233.8 139.3h1.0M221.7 119.8h1.0M255.9 123.3h1.0M277.5 98.8h1.0M216.4 112.9h1.0M276.5 135.1h1.0M275.6 137.8h1.0M243.1 133.4h1.0M157.5 121.2h1.0M248.5 128.6h1.0M160.6 107.9h1.0M175.9 117.0h1.0M165.3 138.2h1.0M166.3 109.4h1.0M137.8 106.2h1.0M276.8 125.3h1.0M208.0 112.0h1.0M210.6 105.6h1.0M168.2 118.6h1.0M241.1 115.4h1.0M238.6 132.5h1.0M175.0 112.1h1.0M151.1 90.8h1.0M147.8 134.6h1.0M237.8 128.9h1.0M164.3 133.5h1.0M266.5 134.2h1.0M282.0 137.0h1.0M201.9 106.1h1.0M315.0 100.3h1.0M156.6 115.0h1.0M269.0 131.3h1.0M276.9 100.2h1.0M255.0 138.2h1.0M162.1 100.2h1.0M220.0 119.8h1.0M212.9 123.8h1.0M154.2 106.6h1.0M282.5 110.4h1.0M241.9 125.5h1.0M214.4 136.7h1.0M172.2 122.7h1.0M156.4 133.0h1.0M165.2 131.7h1.0M281.5 106.7h1.0M268.4 111.6h1.0M152.0 128.8h1.0M207.1 140.8h1.0M167.1 124.3h1.0M164.7 112.5h1.0M204.3 129.0h1.0M194.2 118.8h1.0M251.4 136.9h1.0M176.8 107.2h1.0M166.8 140.2h1.0M177.9 114.3h1.0M325.3 130.3h1.0M200.1 134.1h1.0M159.2 99.7h1.0M140.8 139.7h1.0M165.4 124.6h1.0M286.2 133.4h1.0M256.0 140.6h1.0M278.6 137.4h1.0M296.5 89.2h1.0M187.2 138.6h1.0M137.7 137.0h1.0M262.9 123.0h1.0M247.6 95.5h1.0M202.2 118.9h1.0M248.0 117.7h1.0M200.0 137.3h1.0M150.8 123.7h1.0M148.5 133.7h1.0M181.2 101.4h1.0M316.5 97.4h1.0M131.8 100.6h1.0M174.6 137.3h1.0M174.6 104.5h1.0M249.3 137.5h1.0M167.0 139.1h1.0M218.7 126.8h1.0M154.2 97.5h1.0M248.7 106.2h1.0M150.9 113.9h1.0M341.2 135.2h1.0M139.0 102.3h1.0M272.2 114.0h1.0M244.4 128.8h1.0M164.3 119.8h1.0M161.5 102.0h1.0M288.7 113.6h1.0M298.3 94.3h1.0M260.3 129.1h1.0M252.6 127.4h1.0M295.6 128.9h1.0M267.0 92.2h1.0M239.3 110.0h1.0M222.9 133.6h1.0M152.2 113.6h1.0M162.9 102.5h1.0M188.0 101.5h1.0M172.8 123.3h1.0M155.5 142.0h1.0M250.2 102.2h1.0M155.5 136.0h1.0M173.6 101.6h1.0M264.6 127.0h1.0M143.9 124.6h1.0M162.9 118.5h1.0M156.0 101.7h1.0M260.9 131.1h1.0M239.4 129.8h1.0M251.1 127.1h1.0M199.5 133.4h1.0M251.5 109.4h1.0M248.8 125.4h1.0M168.7 112.6h1.0M172.4 122.6h1.0M334.3 141.3h1.0M156.1 131.0h1.0M171.2 130.7h1.0M289.2 110.0h1.0M282.8 98.0h1.0M163.0 108.9h1.0M306.7 96.8h1.0M144.4 113.5h1.0M277.4 141.5h1.0M175.6 128.1h1.0M165.3 89.8h1.0M163.1 135.6h1.0M162.2 134.7h1.0M188.7 139.2h1.0M306.1 133.7h1.0M189.1 113.2h1.0M260.4 126.1h1.0M181.5 130.7h1.0M165.0 122.5h1.0M241.7 131.8h1.0M169.0 137.0h1.0M299.1 109.3h1.0M141.2 139.9h1.0M182.6 110.1h1.0M148.2 104.8h1.0M176.1 130.6h1.0M243.3 100.6h1.0M138.1 135.9h1.0M305.2 107.0h1.0M243.5 95.2h1.0M157.7 117.8h1.0M223.7 95.5h1.0M258.4 123.2h1.0M145.6 139.1h1.0M252.3 115.9h1.0M212.6 94.9h1.0M279.3 117.3h1.0M136.8 126.0h1.0M211.2 131.6h1.0M242.1 132.5h1.0M169.4 138.3h1.0M144.4 117.9h1.0M198.5 140.4h1.0M232.7 115.3h1.0M145.7 109.5h1.0M304.2 120.9h1.0M165.4 106.6h1.0M150.2 123.0h1.0M144.5 129.3h1.0M146.7 140.2h1.0M148.8 100.0h1.0M167.9 135.5h1.0M245.4 136.7h1.0M157.8 135.8h1.0M268.1 116.5h1.0M162.5 117.5h1.0M189.6 124.8h1.0M159.4 102.9h1.0M244.7 97.1h1.0M162.8 139.2h1.0M149.3 141.0h1.0M250.0 135.0h1.0M163.8 121.1h1.0M270.8 121.3h1.0M217.6 128.1h1.0M265.6 139.2h1.0M148.4 123.7h1.0M158.9 137.8h1.0M179.8 136.5h1.0M182.6 124.9h1.0M179.5 114.1h1.0M261.8 131.2h1.0M307.0 123.8h1.0M156.5 97.7h1.0M286.8 137.7h1.0M219.1 135.5h1.0M161.9 122.1h1.0M129.8 114.1h1.0M190.3 126.8h1.0M150.3 129.2h1.0M265.9 137.1h1.0M184.9 98.3h1.0M149.8 112.1h1.0M260.7 123.4h1.0M158.4 109.8h1.0M267.5 135.1h1.0M303.6 94.9h1.0M237.9 127.3h1.0M252.3 142.4h1.0M269.1 106.9h1.0M282.3 139.1h1.0M157.2 119.2h1.0M241.9 125.8h1.0M152.5 140.9h1.0M165.5 131.6h1.0M270.4 100.3h1.0M237.9 125.7h1.0M266.4 121.7h1.0M156.0 117.2h1.0M234.8 110.6h1.0M191.8 128.3h1.0M172.9 105.8h1.0M291.2 130.7h1.0M296.9 130.7h1.0M267.9 101.4h1.0M166.8 128.5h1.0M288.5 104.8h1.0M246.3 93.1h1.0M149.1 119.4h1.0M243.6 117.3h1.0M262.9 134.4h1.0M260.2 139.1h1.0M321.5 124.6h1.0M185.7 124.3h1.0M229.8 121.2h1.0M228.4 96.3h1.0M137.1 128.1h1.0M223.2 128.2h1.0M253.2 131.1h1.0M263.1 119.9h1.0M157.4 122.1h1.0M163.4 135.5h1.0M134.6 116.8h1.0M140.5 111.5h1.0M212.4 118.4h1.0M263.8 130.9h1.0M192.6 131.2h1.0M274.6 125.3h1.0M265.4 133.6h1.0M247.2 132.8h1.0M225.6 99.0h1.0M251.9 135.1h1.0M182.4 122.5h1.0M272.2 122.0h1.0M252.3 107.6h1.0M172.0 133.5h1.0M178.0 127.1h1.0M279.1 111.5h1.0M283.8 122.5h1.0M144.8 112.2h1.0M178.8 129.7h1.0M180.0 108.2h1.0M211.4 108.8h1.0M159.9 135.1h1.0M192.0 132.0h1.0M141.5 142.0h1.0M253.1 100.4h1.0M217.8 128.3h1.0M231.7 124.2h1.0M147.4 142.4h1.0M153.3 119.1h1.0M191.6 126.1h1.0M236.4 133.1h1.0M233.0 117.4h1.0M236.4 123.2h1.0M235.7 116.3h1.0M136.7 126.4h1.0M168.7 91.3h1.0M261.4 135.8h1.0M273.8 103.4h1.0M164.2 129.6h1.0M143.7 105.1h1.0M242.2 113.2h1.0M183.5 125.2h1.0M236.8 141.8h1.0M244.2 130.1h1.0M255.7 131.2h1.0M305.3 105.8h1.0M155.3 125.4h1.0M253.1 139.3h1.0M298.8 123.4h1.0M205.4 123.0h1.0M244.0 136.1h1.0M276.3 123.2h1.0M151.1 109.9h1.0M288.8 131.0h1.0M265.5 108.2h1.0M223.3 112.3h1.0M215.0 114.0h1.0M316.3 118.9h1.0M251.8 117.6h1.0M130.1 141.5h1.0M282.7 134.5h1.0M250.9 105.7h1.0M235.1 139.2h1.0M167.9 126.0h1.0M231.2 136.7h1.0M273.5 108.3h1.0M158.2 92.3h1.0M135.5 124.8h1.0M226.4 120.1h1.0M289.7 109.2h1.0M165.7 96.5h1.0M303.1 136.3h1.0M161.2 135.9h1.0M174.9 142.0h1.0M272.5 124.0h1.0M274.6 135.0h1.0M217.2 95.7h1.0M197.6 133.3h1.0M164.2 137.7h1.0M235.6 131.3h1.0M227.7 114.2h1.0M188.9 113.1h1.0M290.8 127.8h1.0M261.5 127.7h1.0M278.1 110.6h1.0M152.4 110.0h1.0M184.6 120.8h1.0M184.4 137.0h1.0M245.7 94.2h1.0M149.7 108.4h1.0M259.8 140.0h1.0M261.0 132.0h1.0M170.3 104.9h1.0M263.0 141.5h1.0M239.3 101.3h1.0M178.7 128.3h1.0M168.8 134.0h1.0M229.3 106.3h1.0M185.4 134.0h1.0M256.7 129.1h1.0M283.3 125.7h1.0M139.7 137.6h1.0M263.3 120.7h1.0M172.8 128.3h1.0M228.4 140.1h1.0M144.4 133.6h1.0M158.2 141.4h1.0M177.3 119.3h1.0M156.7 124.0h1.0M223.3 139.7h1.0M240.2 115.7h1.0M246.0 134.9h1.0M312.8 115.2h1.0M259.1 114.4h1.0M308.7 118.9h1.0M332.5 128.2h1.0M259.0 135.4h1.0M237.1 130.0h1.0M177.6 141.5h1.0M234.4 106.7h1.0M282.7 142.3h1.0M242.3 134.6h1.0M264.0 136.0h1.0M260.7 100.6h1.0M147.5 126.8h1.0M301.7 136.4h1.0M157.6 104.0h1.0M162.6 136.1h1.0M150.3 102.7h1.0M173.1 116.1h1.0M275.2 94.2h1.0M162.9 101.3h1.0M163.1 130.1h1.0M211.1 134.0h1.0M289.7 131.9h1.0M257.8 137.1h1.0M152.1 135.6h1.0M224.1 108.9h1.0M179.2 108.9h1.0M154.3 113.4h1.0M189.4 112.0h1.0M229.7 119.1h1.0M250.2 103.9h1.0M233.6 106.9h1.0M238.5 118.5h1.0M260.1 136.5h1.0M251.5 138.6h1.0M260.1 139.4h1.0M167.3 111.0h1.0M158.6 115.2h1.0M134.9 121.0h1.0M248.7 129.3h1.0M257.5 122.2h1.0M280.1 121.8h1.0M164.8 120.3h1.0M175.5 131.2h1.0M161.1 139.3h1.0M140.1 116.7h1.0M220.9 116.0h1.0M286.7 112.3h1.0M266.1 140.4h1.0M267.8 116.6h1.0M246.5 109.5h1.0M188.3 138.6h1.0M239.5 141.8h1.0M161.8 124.9h1.0M175.9 99.1h1.0M185.0 126.2h1.0M268.7 138.2h1.0M146.3 103.7h1.0M254.7 137.4h1.0M144.1 108.3h1.0M177.7 132.5h1.0M261.9 120.0h1.0M184.3 124.4h1.0M229.1 138.2h1.0M171.8 136.3h1.0M150.9 115.7h1.0M227.1 137.7h1.0M137.6 119.3h1.0M248.8 133.4h1.0M255.3 129.4h1.0M251.0 118.0h1.0M168.1 117.0h1.0M168.0 128.6h1.0M155.1 123.2h1.0M163.1 132.7h1.0M231.7 129.6h1.0M176.1 122.0h1.0M239.2 113.9h1.0M266.8 110.5h1.0M132.5 135.4h1.0M184.6 110.9h1.0M290.1 137.4h1.0M246.7 117.2h1.0M164.5 142.1h1.0M155.8 129.2h1.0M189.9 107.8h1.0M246.6 97.4h1.0M164.4 130.0h1.0M251.1 128.3h1.0M166.7 141.8h1.0M133.9 132.8h1.0M262.6 136.6h1.0M262.5 113.7h1.0M272.0 129.2h1.0M259.8 106.1h1.0M250.0 119.6h1.0M188.1 124.0h1.0M216.2 136.0h1.0M196.9 123.1h1.0M147.3 108.7h1.0M215.6 126.2h1.0M168.1 132.0h1.0M133.0 139.2h1.0M303.5 120.4h1.0M264.4 109.1h1.0M157.0 128.3h1.0M167.5 129.0h1.0M163.8 134.2h1.0M269.4 115.4h1.0M238.2 129.9h1.0M317.3 121.4h1.0M180.6 98.1h1.0M151.7 95.9h1.0M299.1 139.3h1.0M140.5 141.4h1.0M274.0 112.8h1.0M253.0 121.6h1.0M215.4 141.2h1.0M151.4 138.0h1.0M276.8 138.8h1.0M214.1 135.7h1.0M188.8 104.7h1.0M266.0 108.0h1.0M140.7 108.1h1.0M209.5 138.4h1.0M269.2 106.5h1.0M156.3 138.8h1.0M257.5 106.6h1.0M297.6 129.2h1.0M154.3 118.8h1.0M267.1 136.2h1.0M247.9 119.5h1.0M152.2 129.7h1.0M312.0 129.3h1.0M276.0 103.7h1.0M248.1 94.8h1.0M246.5 123.1h1.0M149.7 136.6h1.0M175.3 135.6h1.0M316.2 115.8h1.0M282.3 117.9h1.0M246.9 128.9h1.0M225.1 140.1h1.0M287.4 114.1h1.0M253.8 135.6h1.0M236.8 99.6h1.0M146.3 112.6h1.0M239.5 128.3h1.0M241.0 130.3h1.0M218.7 98.6h1.0M182.1 136.2h1.0M157.1 141.6h1.0M157.9 115.3h1.0M156.1 134.5h1.0M164.4 98.0h1.0M259.6 90.0h1.0M283.8 109.7h1.0M275.1 132.1h1.0M160.5 141.4h1.0M240.0 120.0h1.0M152.2 129.6h1.0M236.4 142.0h1.0M240.4 125.6h1.0M146.5 133.4h1.0M176.0 138.7h1.0M295.4 98.6h1.0M262.1 133.1h1.0M146.5 100.2h1.0M169.7 130.1h1.0M223.5 105.3h1.0M172.5 94.2h1.0M281.1 128.7h1.0M161.8 117.6h1.0M270.4 112.7h1.0M141.3 113.9h1.0M283.1 124.8h1.0M305.4 121.9h1.0M263.0 113.4h1.0M272.8 115.0h1.0M160.9 127.6h1.0M246.7 100.4h1.0M164.1 109.6h1.0M144.3 140.3h1.0M157.3 128.3h1.0M246.4 113.9h1.0M253.8 115.7h1.0M251.2 118.6h1.0M230.8 98.3h1.0M166.7 135.3h1.0M217.6 139.9h1.0M250.0 133.3h1.0M148.3 128.6h1.0M156.4 105.4h1.0M223.3 115.2h1.0M258.6 116.2h1.0M171.6 114.0h1.0M329.9 121.6h1.0M145.4 121.1h1.0M206.1 100.2h1.0M281.2 139.1h1.0M253.0 94.2h1.0M160.1 137.6h1.0M163.1 110.1h1.0M138.5 129.8h1.0M262.3 122.1h1.0M289.3 107.7h1.0M163.1 108.5h1.0M136.6 107.5h1.0M230.0 138.2h1.0M167.2 116.3h1.0M168.4 119.5h1.0M185.5 120.9h1.0M184.7 133.6h1.0M130.0 119.0h1.0M223.9 141.9h1.0M254.2 109.6h1.0M275.8 135.2h1.0M268.7 102.6h1.0M250.3 136.1h1.0M179.3 126.0h1.0M248.8 109.2h1.0M308.5 108.0h1.0M143.0 123.7h1.0M265.1 140.0h1.0M143.8 140.5h1.0M174.9 124.5h1.0M265.9 121.4h1.0M164.9 120.8h1.0M132.9 107.0h1.0M189.4 126.9h1.0M172.4 137.4h1.0M261.3 125.2h1.0M169.2 127.2h1.0M299.8 110.6h1.0M289.7 121.2h1.0M165.6 113.3h1.0M135.6 103.0h1.0M191.0 114.4h1.0M308.4 140.1h1.0M311.5 107.9h1.0M154.3 137.5h1.0M241.4 122.5h1.0M283.1 139.0h1.0M172.6 115.2h1.0M277.3 134.5h1.0M221.3 112.2h1.0M196.7 130.7h1.0M157.8 105.5h1.0M168.0 121.8h1.0M158.0 107.6h1.0M329.9 102.0h1.0M227.2 132.1h1.0M151.9 122.1h1.0M250.6 132.6h1.0M260.8 133.5h1.0M236.1 107.4h1.0M186.0 108.5h1.0M159.9 137.2h1.0M181.7 134.1h1.0M163.9 131.6h1.0M228.6 131.1h1.0M173.7 118.1h1.0M262.0 126.7h1.0M257.7 126.9h1.0M183.2 98.6h1.0M233.5 125.7h1.0M165.4 131.9h1.0M235.5 117.9h1.0M251.8 107.1h1.0M270.4 112.7h1.0M326.4 138.9h1.0M310.9 92.8h1.0M182.5 113.2h1.0M258.3 96.1h1.0M282.5 140.3h1.0M145.5 99.3h1.0M309.6 120.7h1.0M264.0 114.7h1.0M338.2 125.3h1.0M173.2 131.5h1.0M214.3 114.7h1.0M146.0 140.8h1.0M257.5 124.8h1.0M164.4 139.5h1.0M155.3 113.5h1.0M244.7 139.4h1.0M158.4 119.4h1.0M194.7 121.6h1.0M154.0 141.8h1.0M190.4 101.3h1.0M163.9 127.4h1.0M161.8 134.0h1.0M211.3 103.7h1.0M255.8 136.2h1.0M244.7 135.0h1.0M216.5 132.2h1.0M161.0 136.1h1.0M302.9 107.6h1.0M247.0 127.0h1.0M290.0 103.9h1.0M242.1 135.9h1.0M154.4 112.2h1.0M139.9 132.0h1.0M268.1 90.1h1.0M254.3 98.0h1.0M169.2 141.0h1.0M142.6 120.2h1.0M254.4 101.9h1.0M157.8 134.5h1.0M277.0 109.2h1.0M152.7 126.8h1.0M242.8 116.3h1.0M160.7 124.0h1.0M267.6 110.5h1.0M164.5 107.8h1.0M275.4 124.4h1.0M240.0 127.1h1.0M160.7 130.5h1.0M303.2 128.3h1.0M244.8 108.4h1.0M172.4 103.6h1.0M132.6 135.2h1.0M153.5 123.1h1.0M287.1 100.3h1.0M176.1 96.6h1.0M289.4 138.3h1.0M171.8 132.2h1.0M260.9 98.7h1.0M168.8 121.3h1.0M223.4 104.3h1.0M234.1 128.6h1.0M162.0 108.7h1.0M167.5 115.1h1.0M145.2 107.9h1.0M208.0 128.6h1.0M171.8 131.3h1.0M220.9 113.1h1.0M164.0 102.6h1.0M244.4 117.2h1.0M277.6 120.1h1.0M270.0 112.4h1.0M207.8 120.3h1.0M262.9 112.5h1.0M142.1 118.1h1.0M158.1 137.5h1.0M246.5 96.0h1.0M148.3 107.5h1.0M164.6 111.4h1.0M274.0 106.1h1.0M296.6 132.0h1.0M143.7 115.1h1.0M273.7 130.0h1.0M276.9 106.6h1.0M169.7 112.0h1.0M152.6 118.3h1.0M181.2 121.5h1.0M299.8 133.5h1.0M255.9 133.2h1.0M250.5 93.0h1.0M162.7 122.3h1.0M238.1 127.4h1.0M176.8 136.6h1.0M274.3 96.8h1.0M153.3 107.7h1.0M148.9 89.3h1.0M231.3 136.1h1.0M151.2 138.5h1.0M242.1 110.1h1.0M250.2 95.3h1.0M314.6 124.6h1.0M250.4 126.3h1.0M280.2 110.1h1.0M275.7 118.8h1.0M139.7 120.1h1.0M322.5 117.6h1.0M171.0 116.8h1.0M161.3 127.4h1.0M173.8 133.0h1.0M152.5 105.4h1.0M167.9 141.2h1.0M302.0 140.5h1.0M159.6 130.3h1.0M168.9 141.1h1.0M256.2 119.5h1.0M171.9 132.3h1.0M141.2 111.8h1.0M318.0 141.4h1.0M271.2 117.5h1.0M277.3 134.8h1.0M152.6 136.5h1.0M214.9 118.3h1.0M134.5 126.6h1.0M231.7 132.4h1.0M149.3 102.1h1.0M259.8 121.5h1.0M154.2 138.9h1.0M269.9 90.9h1.0M146.1 120.9h1.0M167.8 138.5h1.0M156.0 115.7h1.0M178.6 110.5h1.0M193.8 118.1h1.0M191.3 92.7h1.0M231.1 124.7h1.0M237.4 106.4h1.0M146.0 90.6h1.0M175.8 130.7h1.0M273.3 102.4h1.0M127.4 122.4h1.0M296.3 108.9h1.0M275.0 127.2h1.0M294.8 117.1h1.0M257.6 105.3h1.0M152.6 139.7h1.0M272.0 113.7h1.0M176.5 120.5h1.0M270.7 138.5h1.0M261.8 113.2h1.0M149.5 138.3h1.0M146.4 129.3h1.0M282.8 100.3h1.0M219.3 121.5h1.0M241.4 124.1h1.0M168.0 91.7h1.0M186.8 103.0h1.0M254.3 91.4h1.0M168.4 100.2h1.0M275.5 127.3h1.0M195.7 106.8h1.0M284.3 128.8h1.0M312.1 93.6h1.0M149.3 116.6h1.0M146.8 111.9h1.0M203.1 110.8h1.0M183.1 119.4h1.0M223.2 117.2h1.0M260.8 141.9h1.0M194.7 115.7h1.0M156.6 139.7h1.0M163.8 106.3h1.0M166.5 100.8h1.0M127.5 112.4h1.0M235.4 120.5h1.0M191.1 104.9h1.0M294.0 134.8h1.0M166.8 125.8h1.0M275.7 124.5h1.0M238.2 129.7h1.0M181.7 104.9h1.0M159.9 120.5h1.0M155.0 135.6h1.0M174.5 135.5h1.0M281.0 127.1h1.0M176.9 134.4h1.0M244.0 114.2h1.0M147.5 100.4h1.0M254.8 132.6h1.0M261.5 138.1h1.0M163.3 127.4h1.0M172.4 139.8h1.0M241.6 107.1h1.0M266.6 135.2h1.0M277.1 122.9h1.0M283.4 140.3h1.0M167.0 130.1h1.0M300.6 136.4h1.0M186.8 138.4h1.0M270.1 93.2h1.0M151.5 120.7h1.0M185.3 137.4h1.0M239.1 110.7h1.0M254.3 126.6h1.0M289.7 97.3h1.0M177.1 93.9h1.0M261.2 141.0h1.0M255.0 139.0h1.0M265.0 115.4h1.0M311.8 118.6h1.0M153.7 117.5h1.0M159.9 124.5h1.0M233.5 136.4h1.0M282.8 132.4h1.0M166.6 138.8h1.0M250.0 142.2h1.0M151.9 125.6h1.0M258.8 138.1h1.0M150.6 121.4h1.0M178.4 106.4h1.0M270.6 139.1h1.0M243.9 131.0h1.0M176.3 97.0h1.0M311.3 101.8h1.0M274.4 114.3h1.0M183.3 140.0h1.0M148.1 93.0h1.0M276.8 115.0h1.0M153.3 108.4h1.0M224.5 109.7h1.0M197.6 116.3h1.0M268.6 136.2h1.0M133.5 119.1h1.0M235.8 133.5h1.0M239.1 115.9h1.0M264.6 89.5h1.0M165.0 126.5h1.0M160.6 136.7h1.0M308.2 139.1h1.0M308.8 134.5h1.0M299.7 136.0h1.0M206.9 126.8h1.0M297.1 132.4h1.0M281.9 105.1h1.0M144.4 140.8h1.0M163.5 121.2h1.0M255.1 109.1h1.0M155.3 102.7h1.0M245.1 97.3h1.0M246.3 114.9h1.0M157.3 126.1h1.0M149.1 112.1h1.0M172.8 120.4h1.0M263.3 123.5h1.0M250.1 107.9h1.0M256.8 141.4h1.0M261.6 119.6h1.0M253.0 139.1h1.0M150.9 124.7h1.0M159.2 139.1h1.0M253.2 92.3h1.0M323.0 110.9h1.0M176.1 136.0h1.0M193.6 136.9h1.0M238.1 117.3h1.0M174.6 109.7h1.0M261.0 110.5h1.0M304.9 130.3h1.0M256.9 105.3h1.0M140.3 117.8h1.0M153.8 119.1h1.0M247.8 126.8h1.0M225.2 112.7h1.0M164.1 141.0h1.0M241.4 132.1h1.0M217.5 107.8h1.0M285.7 140.9h1.0M260.4 113.5h1.0M140.2 122.1h1.0M267.2 134.0h1.0M263.7 110.4h1.0M197.4 132.8h1.0M166.8 130.4h1.0M251.6 112.9h1.0M289.4 101.2h1.0M275.3 121.7h1.0M332.9 137.2h1.0M163.9 102.7h1.0M306.1 136.5h1.0M154.4 131.6h1.0M190.4 123.0h1.0M292.8 113.9h1.0M267.7 128.1h1.0M146.1 127.9h1.0M248.5 94.9h1.0M272.5 99.8h1.0M229.7 141.8h1.0M142.2 141.5h1.0M191.5 105.2h1.0M166.4 117.7h1.0M257.3 98.1h1.0M162.1 127.2h1.0M159.0 132.2h1.0M187.9 107.2h1.0M250.3 127.3h1.0M234.8 107.2h1.0M270.7 100.1h1.0M260.1 106.3h1.0M176.4 133.5h1.0M313.1 104.4h1.0M248.2 91.4h1.0M164.4 100.7h1.0M128.1 123.2h1.0M167.6 107.2h1.0M262.6 130.4h1.0M150.0 129.7h1.0M250.0 103.6h1.0M161.9 138.9h1.0M235.3 131.6h1.0M149.9 133.6h1.0M143.6 96.3h1.0M227.8 130.4h1.0M252.5 122.7h1.0M186.7 133.2h1.0M165.7 129.6h1.0M209.3 120.6h1.0M302.6 115.0h1.0M239.7 108.7h1.0M313.3 132.5h1.0M226.1 133.0h1.0M175.2 128.1h1.0M255.1 124.3h1.0M186.6 108.2h1.0M238.6 125.2h1.0M300.0 136.1h1.0M274.9 137.5h1.0M326.4 104.0h1.0M278.2 130.5h1.0M147.8 104.5h1.0M238.6 137.4h1.0M168.4 138.9h1.0M238.6 123.1h1.0M249.0 124.3h1.0M236.2 101.0h1.0M281.4 134.2h1.0M165.3 92.6h1.0M187.6 127.0h1.0M246.4 119.9h1.0M162.6 115.7h1.0M269.8 111.2h1.0M156.2 110.0h1.0M161.7 126.3h1.0M176.6 128.0h1.0M163.4 95.4h1.0M268.8 105.5h1.0M150.8 127.4h1.0M231.8 128.3h1.0M173.7 128.0h1.0M259.8 123.2h1.0M233.5 141.4h1.0M261.8 123.9h1.0M270.3 139.2h1.0M172.3 132.1h1.0M195.1 136.6h1.0M228.0 104.9h1.0M249.4 131.9h1.0M304.1 119.1h1.0M138.9 105.8h1.0M163.1 122.8h1.0M234.7 135.5h1.0M152.5 112.6h1.0M241.7 133.3h1.0M196.6 126.6h1.0M189.1 112.5h1.0M188.0 126.5h1.0M152.1 98.7h1.0M173.3 118.5h1.0M135.7 92.0h1.0M272.9 125.5h1.0M235.9 123.6h1.0M134.2 115.9h1.0M145.1 133.9h1.0M155.5 106.5h1.0M131.8 94.0h1.0M238.3 128.0h1.0M233.8 121.4h1.0M246.2 133.9h1.0M238.3 119.3h1.0M271.7 134.9h1.0M189.4 119.5h1.0M141.7 116.7h1.0M268.0 112.6h1.0M133.4 131.7h1.0M285.0 128.2h1.0M213.0 115.4h1.0M202.4 136.4h1.0M161.5 128.2h1.0M156.1 113.6h1.0M151.4 117.9h1.0M277.0 118.3h1.0M248.3 141.0h1.0M210.8 111.1h1.0M224.2 137.5h1.0M154.9 98.0h1.0M148.0 135.4h1.0M213.2 111.4h1.0M195.6 141.9h1.0M251.0 135.7h1.0M268.4 115.6h1.0M236.3 139.7h1.0M152.9 135.9h1.0M159.2 130.0h1.0M269.4 108.8h1.0M268.7 112.9h1.0M162.2 135.5h1.0M156.4 122.5h1.0M150.8 115.2h1.0M176.3 126.1h1.0M140.4 123.3h1.0M146.7 138.6h1.0M250.3 125.2h1.0M258.7 93.8h1.0M260.0 128.7h1.0M174.9 95.1h1.0M173.3 112.0h1.0M150.5 126.4h1.0M152.8 124.9h1.0M256.9 106.3h1.0M271.6 132.8h1.0M149.1 123.9h1.0M278.3 140.5h1.0M248.5 119.5h1.0M291.0 138.6h1.0M148.6 92.2h1.0M178.9 117.3h1.0M274.5 110.1h1.0M272.5 133.6h1.0M198.9 114.3h1.0M254.5 113.6h1.0M218.8 115.4h1.0M197.9 105.6h1.0M226.8 117.4h1.0M147.6 93.9h1.0M267.0 119.2h1.0M176.9 135.8h1.0M173.7 120.6h1.0M161.9 100.6h1.0M187.3 110.4h1.0M170.6 91.5h1.0M254.3 110.8h1.0M212.6 126.3h1.0M166.9 90.5h1.0M228.1 116.5h1.0M277.0 108.2h1.0M233.4 142.0h1.0M249.6 117.1h1.0M212.7 103.1h1.0M244.8 123.2h1.0M226.0 122.1h1.0M159.0 122.2h1.0M160.1 136.4h1.0M267.4 114.7h1.0M180.6 99.2h1.0M226.2 140.8h1.0M163.4 111.5h1.0M223.4 127.5h1.0M281.8 125.1h1.0M245.7 126.2h1.0M258.6 121.7h1.0M182.5 99.1h1.0M251.6 126.0h1.0M273.2 135.2h1.0M239.4 134.4h1.0M154.4 112.8h1.0M283.0 139.9h1.0M140.1 100.5h1.0M258.0 138.1h1.0M268.1 138.3h1.0M256.4 136.2h1.0M270.8 130.8h1.0M249.3 138.0h1.0M150.4 119.8h1.0M258.8 103.2h1.0M251.5 130.5h1.0M185.1 131.8h1.0M256.0 122.4h1.0M291.6 130.7h1.0M257.6 110.1h1.0M133.0 131.0h1.0M270.2 137.8h1.0M315.0 122.9h1.0M191.3 138.6h1.0M254.6 109.7h1.0M209.4 110.1h1.0M167.2 111.9h1.0M182.0 112.7h1.0M137.5 133.1h1.0M222.5 125.3h1.0M197.1 127.2h1.0M230.8 106.8h1.0M304.1 139.3h1.0M167.8 107.8h1.0M190.0 101.8h1.0M152.7 106.8h1.0M241.5 110.3h1.0M191.3 93.6h1.0M235.2 140.9h1.0M155.3 110.2h1.0M179.6 134.9h1.0M151.7 137.0h1.0M244.0 142.3h1.0M173.0 109.8h1.0M183.3 117.2h1.0M257.0 106.4h1.0M141.0 137.2h1.0M179.2 137.8h1.0M246.3 141.3h1.0M240.4 101.4h1.0M181.9 97.9h1.0M276.7 124.5h1.0M141.3 117.1h1.0M257.4 123.7h1.0M247.4 139.5h1.0M262.5 128.8h1.0M243.9 131.0h1.0M247.0 111.1h1.0M235.5 108.3h1.0M253.6 130.4h1.0M253.0 139.4h1.0M157.9 139.5h1.0M147.9 132.8h1.0M170.5 112.4h1.0M156.0 118.2h1.0M244.0 123.9h1.0M164.0 121.0h1.0M272.6 134.7h1.0M196.8 96.6h1.0M230.0 122.4h1.0M253.1 118.4h1.0M183.2 136.1h1.0M279.7 133.5h1.0M271.1 136.7h1.0M181.7 105.4h1.0M185.7 137.6h1.0M189.7 139.8h1.0M276.9 115.8h1.0M229.2 116.8h1.0M161.8 100.2h1.0M155.5 120.0h1.0M274.0 139.7h1.0M151.3 111.2h1.0M232.6 134.5h1.0M250.2 124.1h1.0M215.1 95.3h1.0M247.8 119.2h1.0M252.1 116.6h1.0M165.3 106.8h1.0M181.6 106.6h1.0M244.9 96.4h1.0M161.1 93.8h1.0M135.0 140.2h1.0M243.2 103.4h1.0M157.5 120.0h1.0M171.9 137.0h1.0M157.0 102.2h1.0M145.2 103.2h1.0M171.3 116.8h1.0M198.7 92.3h1.0M283.5 124.4h1.0M242.3 113.9h1.0M254.8 137.7h1.0M252.7 89.8h1.0M298.4 141.8h1.0M174.7 111.4h1.0M299.0 101.6h1.0M183.2 122.9h1.0M246.0 127.5h1.0M260.4 110.9h1.0M178.9 131.5h1.0M261.5 112.9h1.0M307.7 123.7h1.0M153.4 130.2h1.0M251.6 105.4h1.0M154.0 136.3h1.0M177.4 130.4h1.0M264.6 139.7h1.0M238.7 112.0h1.0M286.4 106.9h1.0M161.4 127.9h1.0M157.0 94.6h1.0M266.1 135.3h1.0M229.1 124.1h1.0M160.2 125.6h1.0M267.3 113.3h1.0M240.4 122.3h1.0M306.8 119.1h1.0M270.7 111.2h1.0M247.4 141.8h1.0M244.0 132.2h1.0M243.9 124.7h1.0M284.8 133.8h1.0M287.2 100.3h1.0M245.1 137.4h1.0M193.5 107.9h1.0M238.7 132.5h1.0M245.7 124.7h1.0M141.8 122.4h1.0M239.8 111.4h1.0M185.2 131.5h1.0M178.8 122.1h1.0M178.2 101.0h1.0M165.0 94.9h1.0M251.2 126.8h1.0M183.3 104.2h1.0M268.5 116.0h1.0M144.8 111.2h1.0M180.3 126.6h1.0M221.3 109.8h1.0M198.1 121.6h1.0M168.7 129.0h1.0M183.9 120.3h1.0M264.0 118.7h1.0M179.9 117.9h1.0M138.8 136.4h1.0M285.3 106.5h1.0M227.9 132.4h1.0M143.4 141.4h1.0M230.2 131.6h1.0M256.3 112.1h1.0M180.0 117.8h1.0M194.5 121.7h1.0M154.8 121.4h1.0M234.4 140.1h1.0M172.0 119.7h1.0M175.7 102.3h1.0M139.5 100.8h1.0M302.6 116.6h1.0M267.3 123.1h1.0M177.3 134.2h1.0M223.5 120.8h1.0M256.6 120.2h1.0M168.9 134.5h1.0M291.2 106.0h1.0M188.7 108.6h1.0M269.3 122.1h1.0M182.0 96.6h1.0M268.3 95.6h1.0M237.6 102.8h1.0M172.5 107.7h1.0M247.9 137.5h1.0M260.0 134.6h1.0M162.6 109.7h1.0M266.5 128.7h1.0M171.8 109.1h1.0M256.1 102.7h1.0M242.1 117.1h1.0M187.8 95.7h1.0M155.4 135.1h1.0M243.8 94.7h1.0M167.8 104.5h1.0M255.5 120.2h1.0M240.6 132.4h1.0M304.6 107.6h1.0M192.7 106.3h1.0M152.9 138.1h1.0M168.7 139.4h1.0M154.1 128.9h1.0M148.0 107.1h1.0M163.1 103.5h1.0M242.5 125.3h1.0M278.9 129.0h1.0M143.3 118.1h1.0M281.1 99.3h1.0M142.1 113.7h1.0M188.3 104.7h1.0M135.0 125.4h1.0M219.9 104.7h1.0M275.8 140.2h1.0M266.7 133.1h1.0M254.8 126.7h1.0M264.9 141.6h1.0M139.7 105.5h1.0M187.6 127.3h1.0M167.3 103.0h1.0M250.4 139.2h1.0M221.9 95.2h1.0M147.0 106.3h1.0M255.0 120.2h1.0M190.9 132.8h1.0M170.6 123.5h1.0M253.6 107.0h1.0M229.6 131.0h1.0M199.7 142.1h1.0M220.1 119.4h1.0M169.6 110.0h1.0M154.2 127.7h1.0M274.1 112.2h1.0M157.1 109.5h1.0M152.9 110.9h1.0M229.0 134.7h1.0M128.7 134.7h1.0M197.4 135.5h1.0M282.7 118.0h1.0M185.9 121.6h1.0M245.1 141.3h1.0M257.1 138.4h1.0M262.6 127.3h1.0M254.9 100.9h1.0M264.9 103.1h1.0M163.3 139.5h1.0M340.8 123.1h1.0M229.2 115.5h1.0M155.5 121.2h1.0M135.2 123.3h1.0M171.9 124.6h1.0M183.1 141.8h1.0M274.3 134.1h1.0M158.3 112.1h1.0M251.4 132.9h1.0M271.6 103.8h1.0M289.4 126.6h1.0M140.9 113.5h1.0M219.0 138.6h1.0M164.3 125.0h1.0M162.4 138.7h1.0M282.8 135.5h1.0M157.2 137.8h1.0M260.4 105.1h1.0M258.4 107.4h1.0M165.3 121.2h1.0M242.5 106.0h1.0M249.2 125.8h1.0M205.1 127.5h1.0M171.0 120.7h1.0M168.1 140.4h1.0M194.6 124.6h1.0M150.1 132.2h1.0M161.5 140.0h1.0M273.5 121.5h1.0M160.0 128.1h1.0M177.2 133.7h1.0M264.4 122.4h1.0M301.2 142.2h1.0M296.0 135.6h1.0M256.8 98.7h1.0M156.9 112.9h1.0M163.5 120.2h1.0M248.4 105.6h1.0M274.3 125.0h1.0M226.4 119.3h1.0M166.7 127.6h1.0M171.6 138.9h1.0M244.7 128.2h1.0M278.9 125.7h1.0M186.4 109.2h1.0M263.2 138.9h1.0M161.3 141.0h1.0M307.8 100.7h1.0M160.5 135.4h1.0M241.9 121.9h1.0M144.1 113.5h1.0M260.2 91.2h1.0M243.3 118.5h1.0M181.0 112.7h1.0M249.8 140.4h1.0M159.6 108.1h1.0M165.6 100.2h1.0M211.3 116.9h1.0M188.9 103.0h1.0M245.9 133.9h1.0M263.6 111.7h1.0M174.7 102.1h1.0M204.0 104.1h1.0M183.2 113.6h1.0M183.1 115.9h1.0M278.4 122.7h1.0M260.8 126.2h1.0M191.9 96.1h1.0M255.8 134.1h1.0M271.7 101.2h1.0M247.8 130.7h1.0M232.8 116.6h1.0M257.6 105.2h1.0M166.1 126.5h1.0M188.6 132.4h1.0M258.5 135.6h1.0M164.0 113.6h1.0M236.7 130.6h1.0M248.4 138.4h1.0M265.7 136.2h1.0M173.7 133.1h1.0M161.9 127.3h1.0M268.9 134.5h1.0M158.9 126.5h1.0M283.6 123.4h1.0M263.8 104.0h1.0M180.6 121.4h1.0M175.9 113.1h1.0M253.2 133.3h1.0M267.0 129.3h1.0M230.5 110.2h1.0M138.4 94.7h1.0M259.6 122.7h1.0M225.1 130.4h1.0M256.3 133.5h1.0M221.7 108.4h1.0M151.8 113.0h1.0M200.2 114.9h1.0M242.5 116.7h1.0M247.8 110.0h1.0M243.7 108.8h1.0M171.4 117.9h1.0M137.4 128.7h1.0M142.5 118.7h1.0M144.9 120.1h1.0M243.7 102.7h1.0M163.3 101.2h1.0M159.0 108.0h1.0M294.3 141.6h1.0M244.2 107.9h1.0M304.0 127.2h1.0M169.0 126.2h1.0M339.9 128.4h1.0M232.9 108.5h1.0M167.1 130.1h1.0M268.2 110.4h1.0M307.8 136.4h1.0M181.2 99.6h1.0M297.9 116.7h1.0M157.0 105.3h1.0M241.6 122.0h1.0M289.3 135.5h1.0M326.2 125.1h1.0M267.5 105.0h1.0M254.9 102.3h1.0M187.6 133.3h1.0M155.1 128.0h1.0M311.7 122.1h1.0M159.4 107.4h1.0M214.6 119.3h1.0M258.5 121.4h1.0M287.8 114.5h1.0M244.0 140.3h1.0M177.8 127.1h1.0M232.1 122.9h1.0M260.0 140.0h1.0M152.8 142.3h1.0M175.6 138.4h1.0M134.8 134.2h1.0M278.5 137.8h1.0M165.9 134.2h1.0M171.2 112.9h1.0M163.1 128.4h1.0M276.8 122.0h1.0M153.3 108.8h1.0M232.6 130.6h1.0M267.0 137.9h1.0M227.3 128.7h1.0M262.7 133.9h1.0M281.3 110.7h1.0M230.7 112.4h1.0M132.6 132.9h1.0M154.9 129.2h1.0M231.2 106.9h1.0M152.8 139.0h1.0M182.3 116.0h1.0M183.7 138.6h1.0M162.2 113.5h1.0M166.2 110.5h1.0M242.0 141.9h1.0M262.6 104.1h1.0M158.6 121.7h1.0M179.9 115.6h1.0M224.1 107.1h1.0M188.8 98.0h1.0M204.5 138.5h1.0M284.0 112.2h1.0M228.8 101.2h1.0M178.8 135.8h1.0M163.9 103.4h1.0M188.5 131.3h1.0M252.1 116.8h1.0M165.4 119.3h1.0M256.4 110.9h1.0M195.1 131.6h1.0M259.1 110.9h1.0M181.1 95.7h1.0M202.3 105.5h1.0M176.7 129.5h1.0M180.4 111.0h1.0M172.7 114.2h1.0M246.0 122.2h1.0M253.1 102.8h1.0M165.2 138.6h1.0M317.9 139.7h1.0M136.0 123.0h1.0M220.3 98.6h1.0M274.2 128.1h1.0M233.6 92.3h1.0M270.8 113.1h1.0M266.0 96.4h1.0M171.7 121.1h1.0M179.1 134.4h1.0M208.5 109.7h1.0M172.8 141.1h1.0M151.6 109.8h1.0M240.6 124.5h1.0M174.0 128.3h1.0M188.6 111.4h1.0M259.1 115.7h1.0M170.5 120.1h1.0M132.3 127.7h1.0M269.6 98.5h1.0M171.8 112.1h1.0M172.7 128.2h1.0M214.3 137.8h1.0M170.8 116.2h1.0M175.7 93.4h1.0M300.6 116.7h1.0M280.9 135.8h1.0M162.0 131.8h1.0M164.5 123.0h1.0M271.2 126.0h1.0M297.7 130.7h1.0M155.3 134.9h1.0M151.2 100.8h1.0M156.3 120.0h1.0M149.1 132.0h1.0M267.7 123.7h1.0M250.6 119.4h1.0M278.0 114.6h1.0M188.8 107.3h1.0M189.9 125.1h1.0M148.5 138.9h1.0M172.4 111.5h1.0M190.1 134.7h1.0M250.2 140.1h1.0M139.5 137.1h1.0M139.3 97.9h1.0M260.0 141.4h1.0M307.1 109.2h1.0M255.1 113.9h1.0M264.3 106.3h1.0M150.4 133.0h1.0M163.6 104.4h1.0M266.7 130.6h1.0M276.4 134.4h1.0M289.5 115.1h1.0M188.2 95.1h1.0M279.1 139.1h1.0M264.2 95.9h1.0M135.4 136.9h1.0M156.4 137.0h1.0M181.3 92.8h1.0M293.8 126.7h1.0M257.8 138.8h1.0M331.2 131.8h1.0M244.9 129.3h1.0M226.6 103.7h1.0M302.4 118.3h1.0M317.4 134.9h1.0M136.0 128.4h1.0M251.1 138.4h1.0M176.3 111.3h1.0M323.3 133.7h1.0M230.2 129.5h1.0M150.5 95.8h1.0M266.6 116.1h1.0M261.2 123.6h1.0M166.4 131.3h1.0M240.9 109.6h1.0M221.2 116.5h1.0M236.9 103.1h1.0M182.0 134.8h1.0M247.7 120.3h1.0M161.5 133.6h1.0M236.0 99.2h1.0M253.8 125.1h1.0M137.7 142.1h1.0M165.5 128.1h1.0M160.6 123.3h1.0M179.8 132.0h1.0M144.8 117.1h1.0M271.4 103.6h1.0M130.6 123.5h1.0M257.4 101.9h1.0M250.6 128.7h1.0M271.3 127.1h1.0M257.0 105.4h1.0M236.4 104.5h1.0M175.2 122.2h1.0M318.0 137.1h1.0M168.4 139.5h1.0M168.7 133.2h1.0M260.3 133.7h1.0M244.4 108.8h1.0M245.2 130.0h1.0M157.6 132.2h1.0M202.1 141.4h1.0M277.9 106.8h1.0M246.8 131.2h1.0M235.2 120.7h1.0M171.9 138.1h1.0M182.9 128.8h1.0M258.9 107.2h1.0M266.3 127.8h1.0M271.5 111.9h1.0M162.0 141.1h1.0M141.0 121.9h1.0M295.0 130.0h1.0M183.7 133.7h1.0M248.2 122.6h1.0M162.2 133.9h1.0M265.9 124.2h1.0M203.0 136.3h1.0M195.3 132.9h1.0M252.6 139.9h1.0M300.7 110.6h1.0M270.7 111.9h1.0M253.3 120.8h1.0M283.9 129.5h1.0M155.1 142.1h1.0M226.2 141.1h1.0M151.7 122.3h1.0M149.8 116.7h1.0M276.4 132.8h1.0M153.7 126.5h1.0M251.7 132.1h1.0M207.7 121.8h1.0M269.0 129.8h1.0M203.6 137.6h1.0M192.6 133.9h1.0M171.7 117.0h1.0M167.3 131.2h1.0M245.7 117.4h1.0M198.4 109.6h1.0M155.8 112.5h1.0M216.3 108.0h1.0M195.4 126.8h1.0M273.8 135.8h1.0M272.8 130.0h1.0M149.4 124.0h1.0M181.9 141.5h1.0M266.1 113.1h1.0M144.5 123.4h1.0M264.5 117.0h1.0M256.4 98.6h1.0M148.2 119.2h1.0M196.6 127.2h1.0M270.2 131.8h1.0M210.8 134.1h1.0M193.4 117.3h1.0M211.2 139.6h1.0M186.0 116.8h1.0M148.4 123.0h1.0M255.6 134.3h1.0M174.9 124.7h1.0M263.5 130.8h1.0M255.0 125.6h1.0M138.1 139.3h1.0M149.5 120.8h1.0M188.2 100.6h1.0M300.3 139.1h1.0M267.3 134.7h1.0M161.2 132.5h1.0M160.7 139.6h1.0M253.2 141.2h1.0M134.5 116.9h1.0M248.5 111.4h1.0M240.9 105.7h1.0M166.1 116.0h1.0M167.7 135.8h1.0M186.8 120.2h1.0M296.2 124.3h1.0M190.0 105.4h1.0M275.4 118.1h1.0M150.9 125.0h1.0M265.9 95.9h1.0M229.0 119.8h1.0M168.1 116.9h1.0M259.3 120.8h1.0M317.8 142.2h1.0M303.8 135.7h1.0M262.8 138.6h1.0M147.0 140.9h1.0M179.2 133.3h1.0M253.4 138.4h1.0M254.6 133.8h1.0M138.4 128.9h1.0M186.3 133.2h1.0M133.2 111.5h1.0M243.0 122.1h1.0M175.1 131.7h1.0M198.9 127.0h1.0M291.7 116.2h1.0M242.5 137.6h1.0M262.0 112.8h1.0M250.7 135.6h1.0M173.3 133.8h1.0M148.2 108.8h1.0M258.7 100.1h1.0M160.5 130.7h1.0M242.0 133.0h1.0M147.4 127.4h1.0M256.0 122.6h1.0M182.1 125.6h1.0M254.5 139.4h1.0M257.5 110.9h1.0M302.8 128.1h1.0M147.6 100.8h1.0M252.9 103.9h1.0M271.7 118.2h1.0M133.6 129.3h1.0M175.2 139.0h1.0M249.9 121.2h1.0M219.3 119.4h1.0M298.7 117.3h1.0M276.4 131.6h1.0M234.7 105.4h1.0M254.8 125.6h1.0M244.1 118.6h1.0M145.3 110.4h1.0M325.8 130.7h1.0M182.1 126.0h1.0M136.2 119.7h1.0M242.8 120.1h1.0M289.9 107.4h1.0M278.4 141.2h1.0M287.3 112.6h1.0M286.3 138.1h1.0M235.6 131.9h1.0M139.8 114.2h1.0M234.0 109.8h1.0M237.9 129.4h1.0M232.6 120.7h1.0M176.3 119.6h1.0M176.8 126.7h1.0M244.1 100.6h1.0M295.2 137.8h1.0M130.3 128.0h1.0M158.4 100.1h1.0M297.4 99.9h1.0M285.5 110.6h1.0M182.2 117.2h1.0M166.7 140.5h1.0M246.2 101.9h1.0M223.8 133.5h1.0M310.2 126.7h1.0M167.8 126.7h1.0M302.2 95.4h1.0M149.6 105.4h1.0M219.2 126.7h1.0M280.1 136.6h1.0M167.0 130.9h1.0M247.9 131.2h1.0M188.2 136.9h1.0M144.2 136.3h1.0M166.4 119.5h1.0M276.5 132.2h1.0M249.2 100.3h1.0M270.9 130.8h1.0M170.7 117.0h1.0M157.6 136.8h1.0M270.1 134.7h1.0M159.1 132.4h1.0M152.4 132.1h1.0M139.5 106.8h1.0M252.4 104.8h1.0M295.7 109.4h1.0M242.6 135.2h1.0M249.9 133.8h1.0M172.2 106.9h1.0M148.3 123.3h1.0M164.0 122.8h1.0M307.0 138.9h1.0M220.7 116.0h1.0M161.3 121.8h1.0M170.9 141.3h1.0M213.8 94.4h1.0M267.4 116.7h1.0M234.2 127.9h1.0M299.9 120.5h1.0M251.7 92.6h1.0M307.1 115.7h1.0M271.1 95.3h1.0M266.5 114.4h1.0M155.4 128.7h1.0M155.7 110.1h1.0M245.7 127.5h1.0M212.0 138.3h1.0M278.6 114.8h1.0M155.9 138.7h1.0M168.8 115.0h1.0M222.4 119.6h1.0M141.1 106.4h1.0M145.5 103.2h1.0M262.5 131.4h1.0M181.7 96.9h1.0M135.8 131.2h1.0M259.5 127.3h1.0M148.6 116.6h1.0M246.4 95.2h1.0M329.4 112.1h1.0M157.1 104.0h1.0M250.7 111.5h1.0M167.0 124.4h1.0M173.7 103.8h1.0M163.1 124.3h1.0M311.3 113.9h1.0M167.2 93.2h1.0M294.9 106.7h1.0M143.3 107.9h1.0M164.7 135.8h1.0M341.0 103.2h1.0M279.5 137.2h1.0M274.6 111.4h1.0M145.4 125.3h1.0M261.9 136.7h1.0M228.7 135.5h1.0M232.4 132.6h1.0M160.6 136.0h1.0M260.3 125.2h1.0M135.6 127.5h1.0M160.1 115.4h1.0M280.2 110.1h1.0M228.7 110.0h1.0M134.3 130.8h1.0M153.5 115.3h1.0M225.5 136.7h1.0M219.9 120.3h1.0M170.6 106.0h1.0M283.1 131.6h1.0M218.8 104.7h1.0M176.1 128.3h1.0M225.0 108.1h1.0M160.3 94.6h1.0M219.6 92.2h1.0M331.5 123.6h1.0M177.8 130.8h1.0M176.2 105.9h1.0M259.1 125.0h1.0M155.9 126.1h1.0M197.9 132.8h1.0M131.0 112.2h1.0M161.6 116.0h1.0M201.8 100.0h1.0M138.9 140.2h1.0M150.6 107.7h1.0M158.1 142.3h1.0M151.4 113.8h1.0M283.7 140.6h1.0M250.1 110.6h1.0M166.1 135.4h1.0M186.4 139.3h1.0M161.2 142.1h1.0M248.9 125.8h1.0M156.1 128.4h1.0M138.2 128.8h1.0M174.8 134.4h1.0M206.9 128.7h1.0M175.4 104.5h1.0M146.9 120.1h1.0M157.6 134.3h1.0M184.2 118.3h1.0M165.0 121.7h1.0M328.6 134.9h1.0M172.0 123.2h1.0M239.9 134.8h1.0M167.8 105.1h1.0M175.0 96.1h1.0M271.8 139.7h1.0M164.5 129.5h1.0M244.7 124.5h1.0M199.1 131.9h1.0M155.2 137.6h1.0M197.9 135.8h1.0M261.8 124.2h1.0M261.8 128.2h1.0M148.4 108.0h1.0M186.8 126.6h1.0M128.2 130.4h1.0M165.9 104.6h1.0M158.5 141.0h1.0M141.2 93.4h1.0M156.3 122.7h1.0M145.7 102.7h1.0M256.4 119.8h1.0M157.7 128.3h1.0M195.2 111.5h1.0M258.7 125.3h1.0M161.9 125.3h1.0M165.5 135.2h1.0M221.8 134.6h1.0M187.6 121.2h1.0M226.4 115.5h1.0M154.4 140.0h1.0M156.0 124.8h1.0M275.7 116.5h1.0M210.1 141.4h1.0M243.4 140.7h1.0M263.8 110.9h1.0M240.6 136.7h1.0M243.5 118.7h1.0M185.4 115.1h1.0M236.3 128.6h1.0M255.1 102.6h1.0M127.5 129.2h1.0M162.2 127.2h1.0M224.7 113.6h1.0M168.3 102.1h1.0M140.0 114.8h1.0M156.7 119.5h1.0M252.0 136.5h1.0M292.9 126.6h1.0M303.4 107.0h1.0M238.0 138.2h1.0M276.8 106.3h1.0M250.3 141.5h1.0M232.8 100.8h1.0M296.2 124.6h1.0M277.3 115.9h1.0M251.0 137.2h1.0M232.8 138.9h1.0M189.4 129.2h1.0M181.4 112.7h1.0M175.4 91.6h1.0M172.2 96.9h1.0M299.9 113.2h1.0M240.8 107.2h1.0M161.2 108.3h1.0M164.8 120.4h1.0M278.6 122.2h1.0M168.7 129.5h1.0M163.6 113.9h1.0M155.3 125.2h1.0M269.1 137.3h1.0M278.1 108.7h1.0M173.8 127.3h1.0M147.2 100.2h1.0M172.1 139.5h1.0M229.3 115.9h1.0M284.9 127.3h1.0M129.7 120.0h1.0M261.4 123.5h1.0M152.2 117.2h1.0M192.4 113.6h1.0M264.0 129.7h1.0M250.2 118.5h1.0M178.3 121.2h1.0M154.2 133.9h1.0M169.3 142.3h1.0M275.6 135.2h1.0M270.3 109.8h1.0M236.7 107.2h1.0M275.3 127.6h1.0M152.1 141.7h1.0M155.2 121.0h1.0M180.7 93.5h1.0M293.6 140.9h1.0M273.2 133.8h1.0M222.3 108.4h1.0M266.0 130.1h1.0M157.4 119.8h1.0M180.4 106.1h1.0M171.4 105.9h1.0M248.4 113.9h1.0M150.6 96.8h1.0M139.0 132.0h1.0M256.3 115.7h1.0M273.8 128.5h1.0M274.2 121.3h1.0M133.2 107.2h1.0M270.4 119.8h1.0M263.5 141.6h1.0M259.0 124.4h1.0M206.7 98.7h1.0M325.9 125.2h1.0M279.6 114.3h1.0M248.5 115.8h1.0M165.1 103.0h1.0M297.1 92.3h1.0M227.4 110.0h1.0M235.6 121.2h1.0M183.1 140.7h1.0M169.0 133.8h1.0M265.0 103.7h1.0M250.7 111.1h1.0M175.4 133.2h1.0M249.6 97.4h1.0M155.5 122.2h1.0M282.3 131.0h1.0M157.7 135.3h1.0M159.9 133.1h1.0M239.9 136.5h1.0M140.2 137.8h1.0M221.9 131.7h1.0M160.9 129.0h1.0M186.0 94.4h1.0M182.0 128.3h1.0M282.7 133.2h1.0M189.9 136.0h1.0M268.7 108.1h1.0M154.8 140.3h1.0M242.5 127.0h1.0M154.6 114.7h1.0M140.1 141.4h1.0M129.2 130.1h1.0M166.6 94.9h1.0M266.7 124.7h1.0M239.2 122.8h1.0M175.8 109.1h1.0M273.1 140.5h1.0M239.6 133.9h1.0M210.5 130.3h1.0M162.2 101.6h1.0M149.9 124.3h1.0M167.8 139.2h1.0M190.7 112.3h1.0M201.6 101.4h1.0M248.3 125.5h1.0M158.9 96.8h1.0M190.9 134.8h1.0M266.5 100.6h1.0M234.9 94.9h1.0M172.9 120.1h1.0M173.6 102.2h1.0M142.7 100.9h1.0M255.8 93.4h1.0M238.1 95.8h1.0M164.8 107.2h1.0M246.2 127.3h1.0M282.3 134.8h1.0M214.3 129.5h1.0M268.2 94.3h1.0M152.8 109.7h1.0M210.3 136.5h1.0M281.3 107.0h1.0M208.0 141.2h1.0M307.1 132.0h1.0M169.9 104.4h1.0M181.3 114.3h1.0M204.7 138.0h1.0M184.2 129.4h1.0M137.0 108.0h1.0M161.4 122.3h1.0M250.2 136.0h1.0M246.8 123.3h1.0M252.1 90.9h1.0M271.6 127.5h1.0M143.2 141.4h1.0M169.1 139.5h1.0M136.8 141.2h1.0M137.1 138.9h1.0M157.9 93.7h1.0M154.1 113.1h1.0M229.4 113.4h1.0M266.9 140.0h1.0M161.7 98.3h1.0M286.2 129.8h1.0M149.4 104.4h1.0M156.8 103.0h1.0M140.6 123.6h1.0M155.0 129.9h1.0M278.4 135.3h1.0M212.4 130.6h1.0M175.7 124.3h1.0M239.0 105.9h1.0M259.9 124.6h1.0M160.7 122.6h1.0M320.6 126.8h1.0M245.7 109.4h1.0M311.2 126.1h1.0M181.6 129.8h1.0M178.0 128.4h1.0M168.5 112.2h1.0M178.3 136.0h1.0M166.9 102.3h1.0M241.2 129.0h1.0M252.7 107.0h1.0M150.2 139.2h1.0M161.7 139.6h1.0M170.1 122.8h1.0M291.6 121.1h1.0M273.0 103.2h1.0M148.2 115.1h1.0M314.2 133.1h1.0M272.0 113.0h1.0M154.1 111.6h1.0M237.6 121.1h1.0M187.9 125.2h1.0M261.3 120.2h1.0M161.9 119.5h1.0M239.6 136.0h1.0M187.0 102.2h1.0M174.6 110.4h1.0M244.2 110.8h1.0M238.7 127.1h1.0M231.3 107.2h1.0M224.7 123.8h1.0M260.3 116.8h1.0M182.9 104.4h1.0M263.5 104.3h1.0M189.1 132.1h1.0M242.9 114.8h1.0M184.5 128.3h1.0M145.2 128.8h1.0M277.1 133.9h1.0M269.2 130.8h1.0M256.2 107.9h1.0M224.5 124.4h1.0M296.7 98.7h1.0M172.6 112.3h1.0M137.3 137.3h1.0M219.9 104.8h1.0M167.1 129.2h1.0M145.5 132.5h1.0M273.3 117.0h1.0M277.7 114.8h1.0M314.4 135.7h1.0M240.9 141.6h1.0M224.0 131.0h1.0M147.1 120.2h1.0M337.3 130.5h1.0M256.1 114.1h1.0M145.5 96.4h1.0M297.7 109.1h1.0M166.1 130.0h1.0M206.9 113.9h1.0M265.5 127.9h1.0M192.6 129.5h1.0M274.9 106.9h1.0M159.4 109.3h1.0M158.7 125.6h1.0M176.1 125.9h1.0M189.9 129.2h1.0M277.1 126.9h1.0M264.0 119.2h1.0M171.1 107.8h1.0M190.7 140.2h1.0M230.0 126.8h1.0M174.3 134.8h1.0M266.7 119.7h1.0M292.9 105.1h1.0M250.1 126.6h1.0M254.0 106.6h1.0M306.8 138.4h1.0M175.0 96.1h1.0M162.4 141.8h1.0M158.1 133.0h1.0M160.5 140.2h1.0M172.0 114.5h1.0M156.2 124.6h1.0M242.4 139.2h1.0M170.5 103.4h1.0M137.4 120.1h1.0M237.4 116.3h1.0M178.5 126.1h1.0M159.2 133.6h1.0M165.1 137.1h1.0M152.1 94.0h1.0M228.1 118.6h1.0M158.9 130.4h1.0M173.1 133.0h1.0M242.6 125.6h1.0M249.8 139.3h1.0M263.5 105.5h1.0M257.9 122.7h1.0M253.1 130.3h1.0M139.9 105.8h1.0M280.7 109.0h1.0M248.8 115.5h1.0M176.2 131.8h1.0M230.4 95.9h1.0M163.5 134.7h1.0M132.8 127.0h1.0M175.7 133.9h1.0M259.9 134.7h1.0M254.0 126.4h1.0M239.5 120.7h1.0M159.5 106.6h1.0M230.8 128.4h1.0M259.0 132.0h1.0M150.7 110.2h1.0M235.1 131.5h1.0M263.6 108.0h1.0M169.7 119.3h1.0M168.9 138.6h1.0M244.9 100.8h1.0M155.6 110.7h1.0M200.2 139.3h1.0M260.2 139.4h1.0M238.9 103.8h1.0M169.5 139.8h1.0M164.3 100.5h1.0M212.5 142.1h1.0M186.7 141.0h1.0M141.5 126.1h1.0M258.6 135.0h1.0M161.0 116.5h1.0M236.1 93.9h1.0M178.3 121.0h1.0M265.0 114.6h1.0M246.4 116.2h1.0M168.0 111.3h1.0M166.9 134.9h1.0M165.1 132.0h1.0M170.7 103.6h1.0M176.6 122.9h1.0M178.8 112.6h1.0M261.4 139.9h1.0M266.5 107.5h1.0M278.1 120.4h1.0M258.2 128.7h1.0M275.6 132.9h1.0M214.6 93.6h1.0M291.4 112.3h1.0M249.1 135.6h1.0M172.9 90.6h1.0M290.5 139.4h1.0M161.1 118.4h1.0M278.4 124.2h1.0M166.7 125.1h1.0M262.4 133.4h1.0M180.5 105.2h1.0M193.8 122.3h1.0M188.0 120.3h1.0M250.3 135.5h1.0M249.2 134.6h1.0M188.9 109.8h1.0M226.9 106.9h1.0M138.2 122.9h1.0M139.0 102.8h1.0M164.2 121.4h1.0M179.7 100.3h1.0M240.4 134.7h1.0M160.0 133.0h1.0M154.6 105.8h1.0M192.7 105.3h1.0M302.2 138.3h1.0M308.7 127.5h1.0M292.2 135.2h1.0M235.0 130.7h1.0M223.7 125.0h1.0M250.4 127.6h1.0M235.3 101.1h1.0M150.8 113.1h1.0M258.5 141.4h1.0M222.5 122.7h1.0M255.5 130.6h1.0M284.8 117.1h1.0M309.0 133.0h1.0M159.5 107.7h1.0M159.0 122.5h1.0M251.1 138.2h1.0M305.5 110.3h1.0M152.4 136.4h1.0M157.8 122.3h1.0M175.2 133.0h1.0M271.6 133.0h1.0M160.4 138.5h1.0M225.3 135.4h1.0M237.0 109.1h1.0M170.3 130.7h1.0M136.7 124.4h1.0M133.4 98.6h1.0M280.7 128.7h1.0M177.7 107.0h1.0M183.3 138.1h1.0M186.8 141.9h1.0M254.8 104.4h1.0M184.0 115.2h1.0M162.5 93.2h1.0M160.9 123.4h1.0M135.1 127.5h1.0M256.6 117.9h1.0M316.1 128.7h1.0M179.8 117.3h1.0M203.1 97.6h1.0M241.6 117.9h1.0M169.9 102.7h1.0M168.2 101.9h1.0M156.4 137.0h1.0M131.9 114.8h1.0M149.5 123.2h1.0M265.2 131.3h1.0M251.3 135.7h1.0M226.0 130.6h1.0M235.0 141.0h1.0M160.1 108.5h1.0M171.9 135.8h1.0M146.2 142.3h1.0M294.7 111.4h1.0M328.8 116.5h1.0M164.2 114.9h1.0M170.2 119.7h1.0M148.7 119.0h1.0M134.1 105.1h1.0M241.7 120.3h1.0M222.8 117.2h1.0M177.3 137.8h1.0M257.2 115.1h1.0M206.1 131.7h1.0M163.1 135.4h1.0M190.1 129.7h1.0M232.9 140.2h1.0M231.6 121.6h1.0M166.1 110.7h1.0M173.1 140.0h1.0M166.8 92.7h1.0M151.7 141.5h1.0M248.6 107.2h1.0M160.9 138.9h1.0M297.0 141.6h1.0M137.1 121.0h1.0M264.6 120.9h1.0M252.1 140.5h1.0M181.6 118.0h1.0M289.2 120.1h1.0M166.0 118.9h1.0M148.1 136.5h1.0M252.0 123.6h1.0M158.4 135.1h1.0M145.6 140.3h1.0M180.2 91.8h1.0M183.7 138.9h1.0M167.7 110.5h1.0M179.0 109.4h1.0M140.9 107.5h1.0M268.3 129.9h1.0M154.5 119.6h1.0M167.8 125.5h1.0M156.7 126.7h1.0M314.5 136.2h1.0M240.4 94.6h1.0M203.5 136.5h1.0M293.2 120.0h1.0M149.6 140.1h1.0M178.5 108.9h1.0M161.7 108.8h1.0M257.3 126.7h1.0M158.2 137.8h1.0M278.5 106.2h1.0M281.8 95.2h1.0M166.1 90.6h1.0M172.0 105.5h1.0M161.2 107.0h1.0M193.3 105.7h1.0M259.1 135.8h1.0M230.7 98.9h1.0M214.2 132.6h1.0M173.4 131.5h1.0M170.3 132.0h1.0M278.7 104.6h1.0M138.9 115.7h1.0M289.8 140.9h1.0M159.9 125.8h1.0M157.9 127.8h1.0M297.4 124.5h1.0M127.5 117.0h1.0M168.0 119.9h1.0M165.7 135.8h1.0M285.6 119.7h1.0M161.3 140.2h1.0M228.1 91.5h1.0M271.5 109.7h1.0M266.9 137.4h1.0M260.7 129.0h1.0M310.9 136.2h1.0M146.5 118.7h1.0M137.9 139.6h1.0M204.0 120.0h1.0M177.8 103.0h1.0M150.3 109.1h1.0M181.1 104.7h1.0M160.8 141.5h1.0M251.8 110.4h1.0M249.4 124.1h1.0M146.6 126.9h1.0M297.2 128.7h1.0M271.0 138.2h1.0M265.7 113.5h1.0M172.8 98.4h1.0M263.0 126.9h1.0M244.3 112.8h1.0M228.8 128.1h1.0M231.4 139.6h1.0M225.9 121.9h1.0M287.7 99.7h1.0M305.0 120.0h1.0M146.9 124.1h1.0M161.9 123.3h1.0M180.9 115.2h1.0M288.6 114.2h1.0M167.7 120.0h1.0M142.4 98.1h1.0M233.6 98.2h1.0M281.0 139.6h1.0M175.9 114.9h1.0M179.4 141.3h1.0M170.9 135.6h1.0M188.4 134.9h1.0M242.3 110.0h1.0M182.4 140.3h1.0M253.3 114.9h1.0M281.7 117.4h1.0M182.8 108.9h1.0M265.4 142.4h1.0M186.9 126.6h1.0M248.6 107.6h1.0M224.5 99.4h1.0M212.4 103.0h1.0M258.7 120.9h1.0M259.1 130.0h1.0M180.0 134.5h1.0M166.9 111.1h1.0M240.1 133.6h1.0M211.7 131.5h1.0M269.1 120.2h1.0M268.8 97.7h1.0M161.4 117.9h1.0M300.5 119.2h1.0M172.1 102.3h1.0M303.0 107.0h1.0M167.4 139.9h1.0M176.6 109.8h1.0M169.2 140.9h1.0M179.0 123.4h1.0M256.3 97.2h1.0M164.4 121.0h1.0M157.0 142.1h1.0M260.1 136.7h1.0M292.7 102.3h1.0M152.0 125.5h1.0M254.9 123.7h1.0M180.3 130.4h1.0M153.5 135.8h1.0M141.1 110.1h1.0M174.0 142.4h1.0M237.9 100.0h1.0M158.6 139.1h1.0M237.9 118.7h1.0M231.8 116.7h1.0M159.8 139.9h1.0M263.5 128.6h1.0M177.8 97.9h1.0M166.1 101.6h1.0M158.6 113.9h1.0M237.1 126.8h1.0M169.1 122.7h1.0M171.7 134.2h1.0M237.3 119.0h1.0M253.1 117.2h1.0M233.7 105.4h1.0M180.6 136.4h1.0M143.6 123.2h1.0M295.8 132.3h1.0M179.0 94.3h1.0M187.8 121.8h1.0M234.4 124.9h1.0M171.6 91.5h1.0M151.7 119.4h1.0M151.8 133.1h1.0M242.1 109.3h1.0M245.2 117.9h1.0M292.3 101.8h1.0M279.0 128.0h1.0M171.3 133.4h1.0M261.1 132.0h1.0M285.7 124.3h1.0M175.1 118.6h1.0M261.3 137.8h1.0M218.8 98.3h1.0M183.7 109.7h1.0M210.9 142.2h1.0M202.8 128.8h1.0M255.4 105.4h1.0M237.9 127.4h1.0M235.3 128.2h1.0M138.8 117.2h1.0M266.1 117.6h1.0M179.8 95.2h1.0M153.9 125.0h1.0M157.2 100.0h1.0M145.3 121.3h1.0M149.9 116.4h1.0M301.3 120.3h1.0M256.8 136.0h1.0M237.3 112.8h1.0M179.0 131.5h1.0M212.1 102.1h1.0M143.1 114.5h1.0M244.6 109.1h1.0M184.9 107.2h1.0M151.3 121.9h1.0M223.1 90.6h1.0M172.2 109.0h1.0M177.6 121.0h1.0M259.4 121.6h1.0M135.5 123.2h1.0M176.5 105.5h1.0M253.1 114.6h1.0M147.2 130.0h1.0M190.7 108.4h1.0M290.7 97.4h1.0M141.4 124.7h1.0M292.9 138.6h1.0M240.8 104.0h1.0M238.1 134.7h1.0M170.0 118.4h1.0M265.9 140.1h1.0M157.3 95.1h1.0M241.3 119.5h1.0M161.1 130.4h1.0M135.6 134.1h1.0M154.5 126.1h1.0M192.8 141.9h1.0M173.2 112.4h1.0M177.9 133.9h1.0M248.0 112.7h1.0M170.4 125.8h1.0M181.4 113.3h1.0M255.7 142.1h1.0M157.7 117.2h1.0M256.3 126.5h1.0M151.2 127.7h1.0M220.9 115.4h1.0M185.6 137.4h1.0M231.6 119.3h1.0M247.3 133.1h1.0M149.7 128.7h1.0M241.4 129.6h1.0M281.8 132.6h1.0M152.3 113.9h1.0M174.8 130.4h1.0M187.9 135.5h1.0M165.7 126.7h1.0M288.3 116.6h1.0M188.4 123.5h1.0M243.8 131.1h1.0M182.5 119.9h1.0M264.7 130.0h1.0M226.9 108.8h1.0M247.0 117.2h1.0M170.0 140.9h1.0M165.6 132.4h1.0M255.7 129.5h1.0M294.0 101.8h1.0M168.8 105.6h1.0M240.1 116.7h1.0M253.4 115.3h1.0M225.2 123.9h1.0M136.0 124.9h1.0M250.6 124.6h1.0M164.5 122.4h1.0M169.2 125.4h1.0M334.1 116.8h1.0M133.6 131.7h1.0M299.0 141.1h1.0M175.8 124.4h1.0M153.6 115.3h1.0M157.1 131.1h1.0M302.7 105.2h1.0M262.0 141.9h1.0M306.5 110.9h1.0M159.3 141.4h1.0M168.3 112.7h1.0M209.3 127.4h1.0M339.1 126.8h1.0M151.0 93.7h1.0M273.3 134.9h1.0M149.2 89.5h1.0M224.0 119.3h1.0M272.2 106.5h1.0M308.9 136.4h1.0M340.6 139.3h1.0M173.6 136.5h1.0M255.0 124.4h1.0M160.3 101.6h1.0M280.5 133.2h1.0M150.7 120.4h1.0M163.0 130.7h1.0M157.3 93.5h1.0M178.0 127.5h1.0M248.0 142.4h1.0M330.3 128.8h1.0M157.8 113.0h1.0M174.9 127.7h1.0M245.1 131.8h1.0M188.1 91.3h1.0M146.0 99.9h1.0M251.2 111.0h1.0M231.6 120.2h1.0M157.3 96.0h1.0M293.1 125.5h1.0M138.9 109.1h1.0M171.0 141.3h1.0M166.0 134.2h1.0M155.5 113.5h1.0M244.4 108.8h1.0M262.4 125.0h1.0M256.3 139.7h1.0M282.8 137.4h1.0M228.1 104.9h1.0M189.4 104.5h1.0M239.9 140.7h1.0M257.6 126.9h1.0M181.8 134.1h1.0M150.6 132.9h1.0M261.1 117.1h1.0M181.0 121.3h1.0M304.5 129.7h1.0M195.1 104.7h1.0M162.2 122.4h1.0M175.1 97.2h1.0M146.4 125.6h1.0M167.3 108.0h1.0M257.4 124.8h1.0M183.9 126.5h1.0M167.3 137.4h1.0M267.5 114.3h1.0M157.7 97.1h1.0M141.4 141.0h1.0M178.3 110.0h1.0M169.2 135.8h1.0M170.9 138.3h1.0M248.7 136.1h1.0M198.2 93.1h1.0M275.2 135.9h1.0M166.9 137.2h1.0M256.1 129.5h1.0M241.5 115.5h1.0M148.8 131.9h1.0M286.3 128.3h1.0M278.1 131.6h1.0M180.0 124.6h1.0M229.2 133.7h1.0M168.3 117.6h1.0M247.8 128.3h1.0M209.0 121.4h1.0M252.3 130.1h1.0M248.8 110.8h1.0M244.6 128.5h1.0M143.2 114.4h1.0M296.6 118.7h1.0M276.1 119.1h1.0M289.0 136.7h1.0M270.3 125.2h1.0M283.7 141.0h1.0M187.0 125.9h1.0M319.0 120.7h1.0M148.4 131.2h1.0M181.3 122.0h1.0M327.2 120.6h1.0M179.1 97.4h1.0M200.7 106.6h1.0M150.5 109.4h1.0M182.8 100.5h1.0M308.3 113.5h1.0M253.5 102.5h1.0M135.2 133.3h1.0M222.3 121.4h1.0M166.0 135.8h1.0M264.3 134.1h1.0M160.4 141.4h1.0M163.3 128.5h1.0M162.5 131.9h1.0M263.1 127.9h1.0M276.5 135.1h1.0M268.6 129.7h1.0M163.5 133.1h1.0M253.0 130.2h1.0M160.4 138.0h1.0M178.9 102.2h1.0M155.4 130.6h1.0M335.0 113.5h1.0M333.8 130.0h1.0M339.0 91.4h1.0M150.8 140.4h1.0M273.7 125.6h1.0M167.5 130.2h1.0M246.6 126.6h1.0M256.9 97.3h1.0M143.6 106.6h1.0M253.8 137.2h1.0M167.3 117.5h1.0M174.5 120.5h1.0M187.1 113.6h1.0M257.9 134.1h1.0M128.5 122.1h1.0M146.2 108.7h1.0M284.1 136.3h1.0M328.4 132.4h1.0M301.1 117.8h1.0M174.8 128.9h1.0M152.9 118.3h1.0M153.1 129.6h1.0M163.0 123.2h1.0M132.8 119.8h1.0M296.8 115.5h1.0M141.2 129.8h1.0M237.2 135.2h1.0M145.4 100.4h1.0M327.3 138.5h1.0M256.4 129.5h1.0M183.0 118.8h1.0M146.9 137.6h1.0M177.9 112.2h1.0M156.6 137.7h1.0M275.1 104.1h1.0M161.9 134.8h1.0M205.3 116.8h1.0M171.9 100.3h1.0M146.8 137.2h1.0M179.5 114.3h1.0M242.8 117.6h1.0M157.3 138.3h1.0M288.2 136.0h1.0M283.1 128.5h1.0M248.5 111.9h1.0M258.5 120.0h1.0M143.2 92.0h1.0M167.2 95.2h1.0M159.4 134.6h1.0M193.3 107.3h1.0M170.4 107.8h1.0M278.5 117.1h1.0M196.3 137.4h1.0M155.5 131.8h1.0M250.9 134.2h1.0M240.7 93.9h1.0M144.7 105.7h1.0M183.4 122.6h1.0M189.4 125.3h1.0M250.6 96.9h1.0M151.7 141.9h1.0M276.1 128.4h1.0M139.4 109.5h1.0M166.8 120.6h1.0M291.1 139.5h1.0M255.9 100.4h1.0M280.0 108.8h1.0M265.4 135.7h1.0M243.8 115.9h1.0M170.7 111.4h1.0M141.8 139.8h1.0M178.9 100.7h1.0M289.6 124.9h1.0M167.8 129.8h1.0M179.7 135.6h1.0M223.1 111.1h1.0M174.9 117.1h1.0M197.8 135.2h1.0M259.2 96.7h1.0M185.6 105.7h1.0M150.1 130.0h1.0M241.1 135.9h1.0M160.6 92.8h1.0M166.1 142.3h1.0M153.8 120.2h1.0M176.6 107.8h1.0M165.5 115.5h1.0M171.3 130.7h1.0M274.0 136.3h1.0M176.0 120.6h1.0M279.5 122.6h1.0M264.7 138.8h1.0M171.1 102.2h1.0M271.7 94.7h1.0M293.6 111.7h1.0M184.5 137.4h1.0M302.6 126.3h1.0M185.9 97.7h1.0M161.6 140.8h1.0M135.0 131.7h1.0M168.8 120.2h1.0M234.7 109.8h1.0M159.2 122.8h1.0M232.3 118.8h1.0M261.4 108.3h1.0M165.9 112.6h1.0M187.0 110.1h1.0M141.5 130.9h1.0M312.0 105.8h1.0M248.0 116.7h1.0M147.5 120.7h1.0M231.7 130.9h1.0M159.6 130.8h1.0M257.6 127.8h1.0M169.1 135.3h1.0M168.6 119.4h1.0M289.3 96.4h1.0M259.7 111.8h1.0M161.3 119.6h1.0M152.8 116.9h1.0M164.4 112.8h1.0M156.3 91.4h1.0M169.7 117.7h1.0M139.3 119.7h1.0M137.9 106.1h1.0M173.4 106.2h1.0M169.2 114.4h1.0M261.0 137.6h1.0M275.2 125.5h1.0M245.7 115.5h1.0M202.2 130.0h1.0M136.7 113.0h1.0M288.0 132.8h1.0M150.2 103.2h1.0M172.8 137.3h1.0M233.4 133.2h1.0M158.2 123.0h1.0M182.2 109.7h1.0M248.6 131.7h1.0M266.7 142.4h1.0M148.6 128.5h1.0M288.2 137.7h1.0M241.6 133.0h1.0M268.4 130.1h1.0M159.8 137.4h1.0M170.5 136.2h1.0M258.5 108.3h1.0M186.9 130.2h1.0M250.3 96.6h1.0M172.1 126.9h1.0M150.9 107.1h1.0M235.1 109.4h1.0M198.0 133.7h1.0M335.1 113.5h1.0M175.0 129.7h1.0M190.8 124.2h1.0M159.8 117.5h1.0M243.5 116.5h1.0M184.1 122.1h1.0M300.4 135.0h1.0M259.1 123.7h1.0M254.7 109.4h1.0M279.0 121.0h1.0M132.8 105.6h1.0M244.0 100.5h1.0M238.6 123.9h1.0M231.2 137.7h1.0M164.9 128.8h1.0M161.5 135.0h1.0M173.2 124.1h1.0M169.7 137.8h1.0M139.6 109.3h1.0M134.3 119.0h1.0M159.3 108.5h1.0M222.0 96.9h1.0M208.9 122.4h1.0M293.6 105.1h1.0M259.5 94.8h1.0M149.9 137.7h1.0M158.2 123.0h1.0M152.7 132.2h1.0M166.2 101.5h1.0M227.8 130.4h1.0M141.6 92.4h1.0M314.6 124.1h1.0M131.7 128.4h1.0M185.4 133.2h1.0M238.8 118.7h1.0M244.9 139.9h1.0M211.6 98.3h1.0M167.6 137.8h1.0M302.6 118.9h1.0M183.7 99.9h1.0M250.1 134.2h1.0M177.7 120.6h1.0M237.4 94.1h1.0M247.1 137.7h1.0M200.0 120.8h1.0M165.3 121.1h1.0M145.1 129.5h1.0M220.4 114.9h1.0M226.2 111.4h1.0M233.3 140.7h1.0M242.2 105.9h1.0M142.3 118.9h1.0M301.7 113.6h1.0M203.4 139.3h1.0M172.2 108.1h1.0M144.2 111.0h1.0M229.2 110.8h1.0M159.2 120.5h1.0M255.0 114.4h1.0M260.4 126.2h1.0M250.0 102.7h1.0M162.0 142.1h1.0M225.0 112.6h1.0M249.1 117.0h1.0M199.4 130.6h1.0M244.3 132.7h1.0M230.3 101.2h1.0M321.9 113.1h1.0M197.0 114.5h1.0M159.1 131.4h1.0M243.5 126.5h1.0M256.9 125.5h1.0M228.4 107.6h1.0M256.1 106.0h1.0M199.4 142.2h1.0M331.0 124.7h1.0M209.5 134.0h1.0M249.2 110.1h1.0M300.1 117.2h1.0M210.0 89.4h1.0M140.4 130.3h1.0M153.3 100.8h1.0M157.5 137.1h1.0M253.6 139.4h1.0M147.9 125.8h1.0M296.6 131.3h1.0M285.9 110.4h1.0M245.0 134.4h1.0M241.4 121.3h1.0M279.4 124.3h1.0M329.9 116.4h1.0M242.9 112.6h1.0M198.1 121.9h1.0M175.7 95.1h1.0M148.9 116.6h1.0M249.6 137.2h1.0M179.0 132.1h1.0M339.3 121.1h1.0M173.4 114.6h1.0M284.1 131.1h1.0M190.2 127.0h1.0M252.4 125.6h1.0M252.9 131.4h1.0M196.5 125.5h1.0M182.3 92.4h1.0M212.9 116.1h1.0M263.9 136.6h1.0M130.7 100.7h1.0M253.9 134.4h1.0M240.3 99.5h1.0M330.9 100.3h1.0M191.6 117.7h1.0M254.9 115.5h1.0M245.9 89.5h1.0M170.9 126.5h1.0M238.6 104.3h1.0M251.2 131.8h1.0M220.5 117.5h1.0M174.5 136.9h1.0M326.6 137.2h1.0M320.1 120.5h1.0M176.5 110.6h1.0M279.3 118.4h1.0M156.7 111.3h1.0M277.8 110.8h1.0M258.7 125.7h1.0M225.2 99.0h1.0M183.6 124.8h1.0M152.5 107.7h1.0M178.0 110.5h1.0M265.3 122.5h1.0M145.4 91.9h1.0M152.2 129.8h1.0M166.0 115.2h1.0M252.5 135.9h1.0M263.1 123.2h1.0M235.9 132.9h1.0M229.7 125.9h1.0M292.2 127.6h1.0M233.4 125.0h1.0M171.8 131.3h1.0M140.5 126.3h1.0M145.6 135.0h1.0M271.9 141.3h1.0M257.2 119.1h1.0M252.2 136.3h1.0M261.9 117.7h1.0M177.5 107.4h1.0M134.0 114.5h1.0M299.7 134.9h1.0M248.9 116.9h1.0M161.7 120.9h1.0M179.0 98.5h1.0M154.7 119.3h1.0M159.4 111.3h1.0M192.0 109.4h1.0M131.5 123.9h1.0M158.4 98.0h1.0M173.9 122.1h1.0M142.4 99.2h1.0M153.7 123.5h1.0M141.2 97.0h1.0M264.9 113.5h1.0M268.1 138.7h1.0M227.9 122.1h1.0M184.0 133.2h1.0M166.1 116.1h1.0M158.3 133.8h1.0M263.3 123.1h1.0M166.3 119.3h1.0M267.1 98.9h1.0M247.9 137.4h1.0M230.2 130.0h1.0M269.9 107.5h1.0M140.3 138.2h1.0M181.3 102.2h1.0M203.8 110.7h1.0M251.0 117.8h1.0M241.9 132.8h1.0M165.9 129.0h1.0M164.1 123.9h1.0M296.6 98.5h1.0M160.9 120.4h1.0M174.3 129.3h1.0M156.7 110.9h1.0M187.0 103.4h1.0M152.6 111.7h1.0M245.0 101.0h1.0M183.5 137.0h1.0M156.2 141.3h1.0M177.4 106.0h1.0M148.9 125.8h1.0M294.9 135.3h1.0M239.4 109.8h1.0M188.1 94.7h1.0M156.7 114.6h1.0M291.4 135.5h1.0M138.3 102.0h1.0M233.8 103.2h1.0M282.5 128.5h1.0M177.9 138.9h1.0M259.3 139.0h1.0M142.7 123.3h1.0M268.3 120.8h1.0M142.0 113.7h1.0M291.1 123.9h1.0M155.6 104.9h1.0M164.9 126.1h1.0M207.7 139.7h1.0M301.0 120.0h1.0M278.4 121.5h1.0M139.8 113.3h1.0M257.7 142.4h1.0M166.1 106.0h1.0M258.0 132.2h1.0M189.7 142.0h1.0M233.7 116.9h1.0M171.0 140.6h1.0M265.2 121.7h1.0M151.3 120.9h1.0M259.2 139.0h1.0M305.9 99.8h1.0M268.6 126.5h1.0M279.9 120.9h1.0M245.6 120.8h1.0M138.8 133.6h1.0M147.2 114.0h1.0M129.8 120.3h1.0M182.5 100.8h1.0M176.0 130.8h1.0M169.5 132.5h1.0M253.0 131.8h1.0M263.5 134.1h1.0M155.6 122.7h1.0M186.6 136.3h1.0M189.8 135.5h1.0M206.2 131.7h1.0M178.1 139.9h1.0M180.1 101.9h1.0M146.1 141.6h1.0M335.4 111.6h1.0M142.3 101.6h1.0M244.7 113.7h1.0M143.0 124.2h1.0M161.1 136.8h1.0M242.5 129.1h1.0M156.4 131.3h1.0M173.4 138.2h1.0M236.4 123.0h1.0M169.1 114.7h1.0M146.5 139.9h1.0M289.4 125.8h1.0M153.1 128.5h1.0M271.4 104.5h1.0M204.4 108.3h1.0M277.6 119.0h1.0M146.7 133.5h1.0M161.2 118.9h1.0M324.3 98.4h1.0M327.6 95.4h1.0M172.0 126.4h1.0M282.9 108.5h1.0M175.3 126.1h1.0M142.5 139.7h1.0M180.4 93.9h1.0M237.3 101.6h1.0M278.1 125.3h1.0M307.2 93.1h1.0M286.9 135.5h1.0M148.4 140.8h1.0M205.6 124.6h1.0M184.3 135.6h1.0M244.2 98.5h1.0M204.3 111.4h1.0M289.2 139.3h1.0M247.9 130.9h1.0M331.2 139.6h1.0M276.4 121.3h1.0M260.2 141.4h1.0M243.0 98.8h1.0M189.1 123.7h1.0M259.6 111.2h1.0M153.7 115.6h1.0M226.9 129.2h1.0M177.0 131.5h1.0M281.9 133.5h1.0M162.8 118.3h1.0M293.4 134.9h1.0M158.7 111.9h1.0M186.4 102.6h1.0M304.8 101.8h1.0M255.3 127.3h1.0M281.6 129.8h1.0M179.9 132.3h1.0M158.7 119.0h1.0M158.4 102.5h1.0M256.0 123.1h1.0M252.2 97.0h1.0M241.4 112.2h1.0M258.3 134.6h1.0M157.3 99.4h1.0M148.2 110.9h1.0M246.8 138.5h1.0M266.6 133.4h1.0M160.8 113.8h1.0M167.8 139.2h1.0M178.4 121.2h1.0M176.9 136.7h1.0M160.5 108.5h1.0M246.7 102.6h1.0M275.0 112.3h1.0M166.2 118.4h1.0M228.0 104.3h1.0M179.6 130.4h1.0M253.9 125.4h1.0M247.2 113.2h1.0M140.4 114.7h1.0M278.6 137.4h1.0M269.6 126.4h1.0M281.2 102.8h1.0M159.7 136.3h1.0M168.8 94.4h1.0M145.0 118.4h1.0M199.2 100.7h1.0M290.6 127.6h1.0M276.5 123.6h1.0M279.4 121.6h1.0M248.3 133.3h1.0M298.5 120.7h1.0M262.0 141.7h1.0M284.9 132.9h1.0M264.2 116.7h1.0M221.7 127.4h1.0M236.7 114.3h1.0M266.2 123.4h1.0M140.5 114.9h1.0M148.8 102.6h1.0M167.0 123.3h1.0M234.6 132.4h1.0M192.2 135.9h1.0M271.2 108.4h1.0M182.4 110.9h1.0M167.0 141.9h1.0M242.8 139.5h1.0M167.1 122.7h1.0M172.0 130.2h1.0M248.0 124.1h1.0M164.6 133.5h1.0M292.0 119.7h1.0M142.2 123.9h1.0M256.2 105.6h1.0M295.8 129.9h1.0M226.0 121.9h1.0M198.7 138.5h1.0M339.7 133.5h1.0M211.1 139.9h1.0M258.9 115.5h1.0M276.0 124.4h1.0M260.6 111.4h1.0M243.6 134.1h1.0M177.3 132.3h1.0M249.0 134.0h1.0M218.6 105.4h1.0M271.7 117.3h1.0M261.5 125.2h1.0M214.6 94.5h1.0M173.6 136.2h1.0M209.4 118.0h1.0M192.1 138.6h1.0M251.9 131.7h1.0M310.6 128.6h1.0M196.3 132.1h1.0M252.5 115.2h1.0M154.2 137.1h1.0M166.5 131.8h1.0M267.0 133.0h1.0M287.7 114.6h1.0M286.8 104.5h1.0M190.1 95.0h1.0M188.3 117.2h1.0M158.1 106.0h1.0M146.2 107.7h1.0M182.1 113.6h1.0M163.5 136.6h1.0M168.5 129.7h1.0M176.3 111.2h1.0M249.9 117.3h1.0M179.4 121.6h1.0M279.2 135.3h1.0M302.0 112.6h1.0M134.7 124.6h1.0M152.5 112.3h1.0M151.8 110.0h1.0M251.7 105.2h1.0M255.0 127.9h1.0M171.2 128.4h1.0M174.7 123.2h1.0M280.9 104.0h1.0M239.2 135.0h1.0M271.7 117.6h1.0M260.9 104.2h1.0M257.4 137.6h1.0M160.0 130.2h1.0M251.5 116.3h1.0M168.6 134.4h1.0M244.9 117.1h1.0M145.4 94.4h1.0M135.8 128.6h1.0M234.6 142.3h1.0M231.3 115.8h1.0M181.5 106.5h1.0M138.6 126.7h1.0M159.1 111.6h1.0M233.2 96.5h1.0M306.1 107.5h1.0M152.8 131.5h1.0M167.6 139.6h1.0M186.2 110.5h1.0M203.1 115.7h1.0M150.3 131.1h1.0M163.5 111.5h1.0M272.1 134.9h1.0M298.9 107.9h1.0M235.8 129.9h1.0M167.9 106.8h1.0M145.9 123.5h1.0M256.8 121.6h1.0M222.5 105.4h1.0M278.9 141.8h1.0M155.9 111.8h1.0M281.8 130.6h1.0M214.2 96.3h1.0M302.8 125.2h1.0M254.6 141.6h1.0M262.1 127.6h1.0M331.6 127.7h1.0M240.6 122.8h1.0M257.9 122.6h1.0M187.0 124.6h1.0M172.7 103.3h1.0M149.0 119.9h1.0M296.1 119.1h1.0M231.5 117.9h1.0M244.0 120.9h1.0M266.3 126.1h1.0M154.3 116.2h1.0M171.7 109.2h1.0M196.3 120.4h1.0M272.7 110.4h1.0M330.1 132.1h1.0M311.1 112.5h1.0M233.0 127.8h1.0M168.4 129.7h1.0M282.0 138.0h1.0M192.1 139.1h1.0M256.3 100.2h1.0M184.0 138.5h1.0M207.7 136.2h1.0M296.1 130.9h1.0M301.7 126.9h1.0M172.8 114.3h1.0M162.4 127.3h1.0M166.7 127.3h1.0M152.6 138.4h1.0M174.6 117.3h1.0M262.8 97.6h1.0M226.0 113.7h1.0M248.4 118.2h1.0M170.3 129.5h1.0M186.3 101.1h1.0M290.4 93.6h1.0M294.1 102.2h1.0M185.8 123.1h1.0M292.8 125.3h1.0M317.4 117.9h1.0M172.9 100.4h1.0M136.5 139.6h1.0M164.1 118.0h1.0M142.9 117.9h1.0M158.5 89.9h1.0M173.2 104.4h1.0M154.1 140.5h1.0M264.2 111.4h1.0M252.7 137.9h1.0M143.9 106.5h1.0M228.4 135.5h1.0M255.9 110.0h1.0M149.8 141.9h1.0M227.9 100.7h1.0M253.2 135.9h1.0M259.8 130.7h1.0M236.1 99.8h1.0M213.7 121.5h1.0M168.0 101.7h1.0M176.0 125.5h1.0M144.3 120.0h1.0M246.8 114.4h1.0M201.0 137.9h1.0M276.8 128.6h1.0M315.9 114.3h1.0M139.4 120.4h1.0M152.3 121.0h1.0M197.3 118.5h1.0M251.2 125.8h1.0M156.1 105.7h1.0M320.3 127.8h1.0M187.4 141.4h1.0M258.2 141.6h1.0M155.7 121.4h1.0M250.0 116.7h1.0M159.3 120.8h1.0M211.8 125.3h1.0M252.3 118.2h1.0M267.2 127.8h1.0M258.4 114.5h1.0M264.9 133.7h1.0M237.9 101.2h1.0M166.3 123.5h1.0M224.7 108.7h1.0M246.0 104.7h1.0M273.1 126.2h1.0M162.1 116.6h1.0M154.4 103.8h1.0M325.7 116.0h1.0M260.2 107.1h1.0M276.3 106.0h1.0M214.8 136.8h1.0M276.9 110.9h1.0M280.9 121.9h1.0M246.7 116.5h1.0M300.3 115.7h1.0M226.5 141.7h1.0M145.1 139.7h1.0M170.3 126.1h1.0M255.7 138.7h1.0M242.5 109.6h1.0M302.5 130.5h1.0M301.0 118.1h1.0M231.4 112.9h1.0M165.9 108.1h1.0M156.2 95.0h1.0M171.9 109.6h1.0M234.5 113.2h1.0M155.9 126.3h1.0M317.7 124.3h1.0M175.0 111.4h1.0M231.3 118.8h1.0M279.0 97.4h1.0M128.4 112.2h1.0M290.9 113.1h1.0M262.5 99.2h1.0M290.7 142.1h1.0M153.4 113.7h1.0M197.2 125.9h1.0M265.3 121.8h1.0M272.1 136.0h1.0M140.2 115.6h1.0M245.7 128.4h1.0M177.2 129.8h1.0M175.1 134.9h1.0M140.5 112.1h1.0M149.4 106.0h1.0M148.3 140.7h1.0M133.4 136.4h1.0M243.1 115.5h1.0M265.2 124.1h1.0M253.4 96.3h1.0M331.9 96.5h1.0M288.3 106.2h1.0M320.0 138.5h1.0M151.0 133.7h1.0M247.6 104.2h1.0M174.3 111.6h1.0M295.4 117.6h1.0M243.4 132.5h1.0M157.9 96.4h1.0M150.9 118.2h1.0M267.7 136.9h1.0M226.3 135.7h1.0M183.3 106.5h1.0M221.2 115.9h1.0M239.5 121.1h1.0M326.0 137.3h1.0M191.9 129.9h1.0M247.1 130.5h1.0M148.4 108.5h1.0M289.0 123.2h1.0M276.5 114.0h1.0M290.1 115.0h1.0M208.2 125.6h1.0M211.5 142.3h1.0M225.5 128.7h1.0M186.8 108.3h1.0M152.7 121.1h1.0M168.7 116.1h1.0M180.0 99.6h1.0M243.7 129.3h1.0M263.8 108.8h1.0M159.9 102.0h1.0M232.4 134.5h1.0M167.2 132.0h1.0M239.5 94.7h1.0M233.6 114.0h1.0M153.0 116.2h1.0M140.2 115.7h1.0M131.4 89.8h1.0M148.6 130.5h1.0M184.1 135.3h1.0M238.6 118.0h1.0M188.9 98.7h1.0M141.4 130.9h1.0M249.6 116.3h1.0M142.3 133.2h1.0M245.8 119.5h1.0M187.4 140.2h1.0M174.6 126.8h1.0M237.4 120.4h1.0M303.6 140.3h1.0M257.3 139.9h1.0M161.7 125.4h1.0M174.3 130.8h1.0M290.1 125.9h1.0M157.1 126.3h1.0M165.0 129.6h1.0M168.4 104.0h1.0M183.5 136.2h1.0M162.3 115.1h1.0M143.1 103.8h1.0M183.8 120.8h1.0M171.3 109.2h1.0M246.1 99.9h1.0M139.8 95.7h1.0M163.4 115.0h1.0M131.4 134.0h1.0M159.1 109.2h1.0M199.9 141.5h1.0M151.8 109.5h1.0M264.8 107.0h1.0M254.4 124.8h1.0M256.6 124.8h1.0M229.3 140.6h1.0M269.0 122.1h1.0M234.3 123.3h1.0M165.9 140.5h1.0M260.6 126.1h1.0M246.6 111.6h1.0M290.6 138.7h1.0M246.3 131.1h1.0M165.7 113.4h1.0M258.1 123.6h1.0M165.8 97.9h1.0M279.2 104.4h1.0M265.9 132.0h1.0M255.4 136.3h1.0M142.0 110.2h1.0M260.6 128.5h1.0M151.0 116.6h1.0M171.9 91.2h1.0M137.0 139.5h1.0M194.6 108.4h1.0M144.5 126.2h1.0M249.9 123.8h1.0M155.2 129.1h1.0M173.8 121.1h1.0M160.9 124.5h1.0M176.3 125.9h1.0M142.4 136.9h1.0M197.2 94.5h1.0M213.7 116.2h1.0M176.3 137.0h1.0M249.6 121.0h1.0M150.6 135.4h1.0M187.9 124.4h1.0M281.5 121.5h1.0M136.0 130.6h1.0M172.5 131.8h1.0M239.9 105.0h1.0M195.1 129.7h1.0M260.3 103.7h1.0M265.2 141.9h1.0M167.9 136.9h1.0M293.2 133.9h1.0M173.1 115.2h1.0M145.0 121.0h1.0M189.8 142.1h1.0M194.7 107.2h1.0M163.4 102.9h1.0M134.0 136.5h1.0M143.9 108.1h1.0M236.4 118.7h1.0M287.8 135.0h1.0M158.1 130.4h1.0M264.2 103.5h1.0M268.4 106.2h1.0M253.5 131.2h1.0M196.6 139.5h1.0M150.4 119.0h1.0M151.4 135.5h1.0M162.7 120.0h1.0M335.7 110.1h1.0M153.5 136.9h1.0M245.3 128.1h1.0M316.2 136.6h1.0M259.4 127.3h1.0M129.3 133.2h1.0M170.7 133.5h1.0M264.5 139.6h1.0M143.6 136.9h1.0M247.9 130.3h1.0M291.7 140.3h1.0M271.3 137.2h1.0M168.4 138.5h1.0M178.1 124.6h1.0M160.4 135.0h1.0M260.5 136.5h1.0M176.1 131.9h1.0M202.8 125.8h1.0M161.0 125.4h1.0M176.3 125.1h1.0M247.5 127.7h1.0M155.5 122.1h1.0M226.2 130.1h1.0M312.5 133.5h1.0M297.1 135.5h1.0M336.8 139.0h1.0M257.1 132.5h1.0M143.5 127.4h1.0M250.2 132.3h1.0M258.6 133.9h1.0M302.8 138.3h1.0M165.7 129.0h1.0M162.0 128.5h1.0M164.2 128.3h1.0M133.3 132.8h1.0M190.7 126.0h1.0M232.2 138.8h1.0M239.3 132.8h1.0M161.1 133.1h1.0M173.2 135.9h1.0M298.0 135.5h1.0M251.9 139.8h1.0M276.6 127.4h1.0M166.9 133.1h1.0M166.6 130.3h1.0M255.4 137.4h1.0M275.2 136.0h1.0M131.0 139.1h1.0M173.6 135.7h1.0M287.9 124.8h1.0M134.8 130.0h1.0M152.0 132.1h1.0M232.2 127.8h1.0M184.2 135.2h1.0M135.4 140.7h1.0M246.6 133.0h1.0M167.7 121.4h1.0M311.6 123.7h1.0M150.8 127.8h1.0M187.1 140.4h1.0M272.0 140.6h1.0M194.0 136.5h1.0M146.8 130.2h1.0M173.2 129.3h1.0M214.8 126.6h1.0M249.5 134.5h1.0M149.3 130.3h1.0M219.4 137.8h1.0M193.7 125.1h1.0M174.3 129.9h1.0M155.1 132.0h1.0M136.7 124.1h1.0M338.4 122.4h1.0M134.8 140.8h1.0M139.1 140.1h1.0M276.4 123.8h1.0M243.4 133.9h1.0M157.9 139.2h1.0M215.3 132.3h1.0M261.9 137.0h1.0M253.7 141.9h1.0M248.6 122.6h1.0M240.5 137.2h1.0M147.9 138.5h1.0M177.5 129.7h1.0M318.2 136.8h1.0M318.5 134.4h1.0M272.5 126.1h1.0M149.7 127.0h1.0M162.5 139.8h1.0M245.2 129.8h1.0M242.7 141.4h1.0M257.7 139.3h1.0M243.7 134.8h1.0M258.8 142.2h1.0M141.2 136.2h1.0M271.2 139.9h1.0M154.1 124.4h1.0M259.9 133.1h1.0M268.4 140.4h1.0M139.1 136.6h1.0M171.4 137.6h1.0M181.4 136.2h1.0M178.4 133.2h1.0M230.8 135.6h1.0M292.0 128.6h1.0M239.3 139.5h1.0M162.6 136.4h1.0M282.4 127.0h1.0M139.3 131.9h1.0M177.4 139.8h1.0M164.0 133.4h1.0M276.4 139.3h1.0M150.7 137.9h1.0M164.3 124.4h1.0M150.6 124.5h1.0M211.6 130.2h1.0M146.5 121.5h1.0M169.6 124.4h1.0M212.8 134.0h1.0M155.2 138.7h1.0M208.3 129.7h1.0M257.0 132.5h1.0M321.9 124.6h1.0M270.2 140.6h1.0M139.1 137.4h1.0M258.1 130.9h1.0M196.3 129.3h1.0M239.6 132.9h1.0M236.7 123.9h1.0M257.1 133.0h1.0M186.0 129.7h1.0M245.3 125.4h1.0M239.0 137.0h1.0M221.8 124.3h1.0M330.1 125.5h1.0M224.7 132.3h1.0M251.6 140.3h1.0M270.3 136.2h1.0M165.4 125.8h1.0M242.5 135.1h1.0M264.1 133.0h1.0M135.8 123.2h1.0M156.1 131.1h1.0M224.6 137.2h1.0M216.1 123.4h1.0M169.9 139.8h1.0M250.4 129.6h1.0M162.9 122.1h1.0M181.7 139.1h1.0M203.3 126.5h1.0M264.0 128.2h1.0M207.1 131.2h1.0M151.5 139.8h1.0M224.6 125.2h1.0M129.6 135.1h1.0M183.4 129.5h1.0M270.4 126.3h1.0M148.1 135.1h1.0M309.0 125.3h1.0M251.0 129.1h1.0M253.4 126.9h1.0M157.2 140.2h1.0M155.6 129.8h1.0M146.9 135.2h1.0M288.6 133.7h1.0M236.1 129.6h1.0M160.6 136.9h1.0M135.4 132.6h1.0M307.7 135.0h1.0M285.8 134.3h1.0M164.6 138.0h1.0M271.7 128.9h1.0M251.5 138.9h1.0M230.8 134.3h1.0M181.2 131.5h1.0M141.2 136.6h1.0M184.2 133.8h1.0M131.7 134.7h1.0M252.1 138.2h1.0M284.5 136.2h1.0M190.4 125.7h1.0M216.0 138.8h1.0M192.5 139.3h1.0M146.1 131.6h1.0M172.0 136.9h1.0M229.2 127.0h1.0M248.8 131.6h1.0M199.6 133.2h1.0M245.8 132.6h1.0M287.0 129.8h1.0M311.7 133.1h1.0M148.4 141.4h1.0M172.6 134.4h1.0M169.4 133.0h1.0M217.5 132.2h1.0M304.9 136.6h1.0M155.6 133.1h1.0M187.5 124.8h1.0M266.2 138.1h1.0M169.6 129.3h1.0M303.7 141.1h1.0M273.6 135.7h1.0M145.6 130.0h1.0M295.4 140.3h1.0M170.4 127.0h1.0M245.1 132.1h1.0M203.7 142.0h1.0M221.5 134.9h1.0M171.4 137.1h1.0M263.4 123.8h1.0M238.6 130.9h1.0M169.3 127.9h1.0M275.8 130.7h1.0M186.3 133.1h1.0M247.7 124.6h1.0M221.6 131.5h1.0M166.1 135.1h1.0M286.4 139.5h1.0M262.4 133.4h1.0M274.6 123.7h1.0M255.5 134.8h1.0M142.4 132.8h1.0M284.6 134.5h1.0M166.5 126.7h1.0M147.3 141.2h1.0M321.5 132.5h1.0M295.9 133.8h1.0M164.3 139.0h1.0M252.6 134.0h1.0M270.3 134.0h1.0M266.8 127.8h1.0M255.9 139.7h1.0M139.8 131.7h1.0M158.4 128.8h1.0M176.6 129.7h1.0M258.1 124.3h1.0M261.7 130.4h1.0M151.4 128.7h1.0M148.8 127.6h1.0M173.6 137.1h1.0M287.9 136.9h1.0M138.1 134.8h1.0M163.7 137.9h1.0M188.1 122.5h1.0M250.7 140.1h1.0M266.4 125.5h1.0M313.1 124.9h1.0M163.8 124.2h1.0M273.5 130.4h1.0M176.7 136.4h1.0M146.9 138.2h1.0M235.0 134.7h1.0M185.9 126.8h1.0M340.6 124.1h1.0M149.1 128.8h1.0M181.8 122.8h1.0M154.4 133.3h1.0M226.7 128.6h1.0M138.0 127.7h1.0M169.6 140.1h1.0M327.1 134.4h1.0M138.7 140.1h1.0M158.8 138.5h1.0M211.3 130.7h1.0M255.3 133.2h1.0M157.2 138.3h1.0M148.1 131.9h1.0M138.1 137.2h1.0M191.0 125.9h1.0M279.0 131.4h1.0M237.6 126.0h1.0M257.1 140.4h1.0M218.9 128.5h1.0M260.0 135.9h1.0M271.6 135.6h1.0M168.7 133.8h1.0M131.8 136.1h1.0M163.9 131.4h1.0M173.1 132.0h1.0M158.0 123.8h1.0M252.2 141.0h1.0M269.7 130.3h1.0M264.5 131.4h1.0M154.9 139.6h1.0M180.8 137.2h1.0M173.6 124.0h1.0M185.3 129.2h1.0M156.5 127.5h1.0M285.2 141.0h1.0M273.0 139.6h1.0M178.3 132.6h1.0M184.6 125.4h1.0M246.7 130.1h1.0M129.5 136.2h1.0M167.0 130.7h1.0M183.0 137.0h1.0M150.5 136.2h1.0M144.0 123.7h1.0M143.4 124.5h1.0M194.2 135.7h1.0M271.5 135.4h1.0M199.6 135.6h1.0M150.9 140.9h1.0M261.2 134.9h1.0M290.3 125.1h1.0M264.4 123.8h1.0M156.0 133.8h1.0M191.1 135.4h1.0M167.6 133.3h1.0M245.6 131.4h1.0M148.0 125.3h1.0M133.2 135.6h1.0M192.2 133.5h1.0M188.1 123.3h1.0M156.7 131.9h1.0M269.1 126.2h1.0M219.5 131.0h1.0M175.8 123.8h1.0M136.3 132.1h1.0M257.5 137.4h1.0M197.4 138.9h1.0M156.2 128.2h1.0M248.6 132.8h1.0M168.3 132.5h1.0M259.3 138.0h1.0M338.4 122.0h1.0M228.7 137.1h1.0M255.0 130.2h1.0M215.9 130.4h1.0M242.5 135.5h1.0M169.8 127.0h1.0M159.5 136.0h1.0M156.8 125.5h1.0M215.8 139.3h1.0M267.7 127.1h1.0M282.7 122.8h1.0M282.1 136.9h1.0M255.2 125.3h1.0M220.8 132.4h1.0M271.5 123.4h1.0M127.6 126.9h1.0M195.5 129.1h1.0M164.7 131.4h1.0M168.7 131.9h1.0M189.1 127.6h1.0M159.4 125.9h1.0M185.2 124.4h1.0M186.5 125.0h1.0M280.4 129.4h1.0M222.4 127.5h1.0M217.8 137.8h1.0M267.8 141.2h1.0M175.2 138.1h1.0M174.8 138.4h1.0M279.8 132.9h1.0M146.3 128.2h1.0M238.5 132.8h1.0M148.7 131.5h1.0M177.9 127.8h1.0M143.4 127.4h1.0M160.1 130.2h1.0M270.7 125.8h1.0M176.3 131.7h1.0M274.8 123.1h1.0M230.3 138.4h1.0M224.2 127.1h1.0M188.1 126.1h1.0M161.9 139.9h1.0M178.7 125.8h1.0M128.2 134.7h1.0M146.8 141.9h1.0M222.9 134.8h1.0M222.0 136.8h1.0M170.8 131.4h1.0M237.0 141.5h1.0M254.3 137.4h1.0M157.2 125.9h1.0M176.9 138.6h1.0M229.0 127.8h1.0M230.2 137.9h1.0M158.4 137.8h1.0M190.8 135.7h1.0M127.5 125.3h1.0M187.6 130.9h1.0M244.0 132.1h1.0M256.5 133.7h1.0M153.0 136.6h1.0M171.8 131.4h1.0M167.9 134.9h1.0M310.8 135.6h1.0M208.4 136.9h1.0M232.6 139.2h1.0M240.9 135.2h1.0M142.5 129.8h1.0M185.4 134.0h1.0M241.7 139.3h1.0M211.6 134.9h1.0M254.9 136.7h1.0M179.9 137.9h1.0M201.5 126.3h1.0M187.1 135.2h1.0M251.4 141.0h1.0M270.9 127.8h1.0M194.8 136.1h1.0M180.7 136.1h1.0M191.8 135.7h1.0M232.7 135.1h1.0M282.9 134.7h1.0M207.6 128.4h1.0M173.2 124.3h1.0M263.3 130.8h1.0M194.0 126.2h1.0M154.1 138.8h1.0M174.1 138.9h1.0M284.9 132.3h1.0M164.4 133.6h1.0M175.4 139.7h1.0M281.7 130.8h1.0M163.9 132.1h1.0M276.2 131.2h1.0M234.4 127.0h1.0M246.3 125.6h1.0M174.1 122.7h1.0M244.4 130.7h1.0M256.6 137.0h1.0M246.0 129.0h1.0M240.4 125.0h1.0M257.1 127.7h1.0M136.3 122.7h1.0M151.1 127.9h1.0M160.2 126.5h1.0M259.3 133.3h1.0M280.4 129.9h1.0M140.2 135.8h1.0M160.9 132.6h1.0M260.9 122.7h1.0M156.5 125.9h1.0M166.5 130.2h1.0M296.2 135.5h1.0M248.6 129.7h1.0M312.9 129.3h1.0M184.4 137.1h1.0M274.7 136.9h1.0M177.6 135.8h1.0M237.9 132.6h1.0M154.8 122.4h1.0M228.4 132.1h1.0M228.4 131.4h1.0M259.6 141.9h1.0M205.0 137.9h1.0M210.8 125.7h1.0M164.7 139.2h1.0M238.4 135.2h1.0M159.0 139.8h1.0M144.3 126.5h1.0M180.4 131.9h1.0M178.1 134.9h1.0M250.2 140.7h1.0M229.1 125.0h1.0M155.0 131.0h1.0M167.1 128.7h1.0M168.5 137.1h1.0M131.0 141.3h1.0M163.5 137.0h1.0M157.0 139.5h1.0M179.7 128.6h1.0M252.9 137.4h1.0M137.6 140.0h1.0M238.6 124.9h1.0M242.0 133.7h1.0M270.2 135.8h1.0M157.5 129.4h1.0M207.4 133.8h1.0M226.4 125.8h1.0M141.1 135.1h1.0M180.3 132.2h1.0M254.8 140.2h1.0M268.2 131.0h1.0M150.4 138.9h1.0M176.8 139.7h1.0M166.6 131.2h1.0M181.1 123.4h1.0M150.8 139.1h1.0M271.1 138.1h1.0M279.8 124.1h1.0M172.4 129.6h1.0M316.3 125.1h1.0M289.0 128.4h1.0M153.3 129.5h1.0M167.3 123.0h1.0M172.5 128.7h1.0M223.2 134.4h1.0M278.1 139.3h1.0M177.5 126.0h1.0M163.3 129.2h1.0M291.0 131.2h1.0M163.8 140.2h1.0M148.5 125.8h1.0M253.3 126.6h1.0M164.7 134.3h1.0M177.9 129.4h1.0M226.5 127.9h1.0M157.0 129.8h1.0M168.0 135.0h1.0M275.1 140.6h1.0M139.7 131.3h1.0M236.4 134.0h1.0M250.1 126.5h1.0M192.5 123.4h1.0M242.1 138.1h1.0M179.8 124.7h1.0M256.7 128.6h1.0M333.5 124.8h1.0M168.3 141.6h1.0M286.9 134.3h1.0M282.5 125.9h1.0M289.5 137.0h1.0M154.2 139.2h1.0M250.7 122.4h1.0M228.6 128.5h1.0M179.0 134.3h1.0M306.2 141.8h1.0M267.4 135.6h1.0M277.7 136.2h1.0M277.2 135.8h1.0M144.9 135.9h1.0M278.8 135.5h1.0M135.4 133.5h1.0M283.8 134.4h1.0M252.3 134.2h1.0M170.6 140.5h1.0M231.2 137.0h1.0M263.0 122.5h1.0M237.4 123.7h1.0M221.1 130.6h1.0M169.2 138.4h1.0M174.1 127.1h1.0M156.4 130.1h1.0M272.7 130.8h1.0M150.4 134.2h1.0M170.6 136.6h1.0M256.0 122.4h1.0M173.9 137.4h1.0M155.4 139.6h1.0M268.2 139.0h1.0M241.0 132.1h1.0M252.1 136.5h1.0M199.1 121.9h1.0M251.1 128.8h1.0M267.3 124.9h1.0M158.8 133.8h1.0M249.2 136.5h1.0M265.0 133.4h1.0M201.1 130.3h1.0M133.7 136.4h1.0M263.6 139.1h1.0M175.4 130.9h1.0M212.2 125.0h1.0M258.6 125.8h1.0M223.7 134.4h1.0M170.6 140.9h1.0M294.1 132.0h1.0M246.0 133.5h1.0M151.9 128.7h1.0M176.1 132.1h1.0M304.8 131.6h1.0M149.1 123.1h1.0M164.9 138.7h1.0M164.1 135.7h1.0M229.2 134.9h1.0M203.1 140.2h1.0M187.4 136.0h1.0M166.2 134.8h1.0M296.4 136.5h1.0M159.8 133.2h1.0M191.6 128.2h1.0M290.6 134.9h1.0M225.9 137.2h1.0M242.1 125.5h1.0M276.6 127.2h1.0M264.7 135.6h1.0M166.8 127.6h1.0M267.2 128.2h1.0M173.8 126.5h1.0M229.9 136.9h1.0M177.0 123.5h1.0M277.1 134.6h1.0M276.9 138.2h1.0M160.6 136.2h1.0M144.1 128.6h1.0M182.2 130.8h1.0M167.7 125.8h1.0M218.9 140.8h1.0M249.9 136.3h1.0M273.5 141.0h1.0M182.7 130.7h1.0M153.3 130.2h1.0M160.6 133.8h1.0M189.1 130.5h1.0M263.4 133.5h1.0M272.2 128.8h1.0M214.2 131.1h1.0M153.9 135.8h1.0M203.5 135.1h1.0M297.5 122.8h1.0M307.3 134.4h1.0M181.2 131.9h1.0M234.6 129.4h1.0M247.5 129.6h1.0M141.5 134.9h1.0M283.1 125.5h1.0M177.4 126.6h1.0M170.1 136.4h1.0M260.4 127.1h1.0M127.5 140.7h1.0M175.4 127.7h1.0M184.7 132.6h1.0M169.7 127.7h1.0M178.2 135.9h1.0M176.4 124.2h1.0M261.2 124.7h1.0M247.9 127.2h1.0M235.2 125.6h1.0M157.8 137.0h1.0M166.3 138.1h1.0M275.6 130.1h1.0M169.0 122.8h1.0M276.7 135.1h1.0M256.0 134.6h1.0M257.3 132.1h1.0M150.1 122.5h1.0M175.2 136.8h1.0M242.1 135.5h1.0M160.4 135.0h1.0M273.8 137.4h1.0M284.8 131.6h1.0M145.3 132.1h1.0M300.5 128.0h1.0M176.6 130.4h1.0M265.0 140.0h1.0M168.2 127.3h1.0M240.0 129.2h1.0M172.1 122.6h1.0M279.1 126.8h1.0M135.2 132.5h1.0M316.3 135.2h1.0M257.3 127.3h1.0M160.5 139.2h1.0M149.8 131.7h1.0M249.2 132.0h1.0M144.6 134.9h1.0M279.4 140.9h1.0M199.2 127.1h1.0M304.7 127.8h1.0M210.2 130.3h1.0M163.3 125.6h1.0M259.7 141.2h1.0M146.2 125.9h1.0M261.4 128.3h1.0M129.3 127.5h1.0M249.2 127.3h1.0M156.4 122.6h1.0M179.0 131.0h1.0M227.6 136.2h1.0M212.4 135.9h1.0M336.3 134.5h1.0M178.6 137.1h1.0M174.9 133.5h1.0M159.2 122.2h1.0M200.8 129.0h1.0M232.7 130.4h1.0M262.8 131.0h1.0M270.5 135.3h1.0M224.6 133.0h1.0M131.9 129.7h1.0M176.2 127.5h1.0M154.2 123.6h1.0M205.4 128.5h1.0M280.9 137.1h1.0M249.2 141.0h1.0M162.4 138.6h1.0M151.6 129.5h1.0M172.2 128.1h1.0M158.0 138.8h1.0M158.6 124.0h1.0M274.3 132.4h1.0M252.7 137.9h1.0M165.8 127.7h1.0M187.7 134.7h1.0M156.4 125.4h1.0M251.7 127.4h1.0M260.4 136.5h1.0M161.8 134.8h1.0M154.2 136.4h1.0M221.2 126.3h1.0M223.9 122.5h1.0M166.0 133.2h1.0M262.4 133.6h1.0M143.2 138.1h1.0M141.2 132.7h1.0M160.7 133.8h1.0M252.4 130.7h1.0M227.0 128.4h1.0M168.9 139.9h1.0M264.7 140.7h1.0M254.9 135.4h1.0M223.6 126.3h1.0M320.7 136.6h1.0M177.5 135.9h1.0M171.3 137.1h1.0M280.4 129.3h1.0M247.7 126.3h1.0M221.7 124.3h1.0M194.0 133.8h1.0M155.0 128.3h1.0M233.4 137.5h1.0M143.8 135.3h1.0M232.8 134.5h1.0M168.4 122.0h1.0M272.1 141.4h1.0M185.0 123.7h1.0M267.9 132.5h1.0M224.4 124.4h1.0M274.5 129.5h1.0M131.3 128.5h1.0M316.7 139.5h1.0M172.7 123.6h1.0M249.5 134.8h1.0M150.0 126.2h1.0M274.7 135.2h1.0M331.8 128.9h1.0M252.9 131.3h1.0M251.7 133.3h1.0M254.1 136.8h1.0M159.6 127.7h1.0M165.9 135.7h1.0M177.3 129.1h1.0M178.7 135.9h1.0M212.5 131.5h1.0M148.6 137.6h1.0M309.7 129.5h1.0M318.0 127.8h1.0M201.6 128.7h1.0M204.7 124.5h1.0M267.1 123.1h1.0M265.7 130.6h1.0M279.6 138.7h1.0M147.0 134.6h1.0M224.3 129.0h1.0M281.8 140.3h1.0M144.8 123.9h1.0M159.2 133.3h1.0M269.8 123.5h1.0M252.2 139.4h1.0M299.6 129.5h1.0M159.0 124.4h1.0M164.1 128.7h1.0M133.9 134.0h1.0M166.8 136.0h1.0M140.3 130.3h1.0M162.7 136.5h1.0M275.8 135.4h1.0M186.7 138.7h1.0M144.1 125.5h1.0M321.5 127.6h1.0M187.9 137.1h1.0M144.1 134.0h1.0M256.9 137.2h1.0M150.6 136.8h1.0M136.6 136.5h1.0M174.3 122.8h1.0M164.1 130.6h1.0M245.5 127.9h1.0M166.1 124.0h1.0M171.4 135.5h1.0M140.2 132.8h1.0M173.0 124.4h1.0M158.9 137.8h1.0M278.9 130.3h1.0M242.7 126.6h1.0M140.7 130.2h1.0M176.3 126.7h1.0M247.7 127.4h1.0M252.1 135.8h1.0M286.4 123.6h1.0M316.1 130.5h1.0M257.2 134.1h1.0M158.2 135.9h1.0M161.6 131.8h1.0M245.3 130.9h1.0M168.4 126.1h1.0M261.0 123.7h1.0M153.9 138.9h1.0M249.8 136.9h1.0M247.0 138.6h1.0M172.3 125.8h1.0M263.5 135.2h1.0M145.6 123.2h1.0M260.0 122.3h1.0M158.6 141.5h1.0M254.3 136.6h1.0M171.7 139.7h1.0M179.4 130.5h1.0M167.5 126.1h1.0M252.7 123.7h1.0M247.9 123.7h1.0M251.3 122.7h1.0M282.6 139.2h1.0M321.7 128.9h1.0M234.3 124.2h1.0M256.1 133.7h1.0M257.7 126.9h1.0M143.6 131.0h1.0M144.1 135.6h1.0M193.0 136.7h1.0M208.8 123.7h1.0M273.2 133.7h1.0M179.1 127.3h1.0M243.7 130.4h1.0M246.5 136.6h1.0M235.8 131.7h1.0M280.3 135.4h1.0M282.8 128.8h1.0M153.3 134.9h1.0M232.4 128.3h1.0M145.7 122.6h1.0M255.4 133.1h1.0M337.9 134.1h1.0M273.6 139.2h1.0M309.9 131.7h1.0M244.5 134.4h1.0M229.7 141.1h1.0M164.6 137.2h1.0M163.7 132.2h1.0M165.9 130.9h1.0M163.3 128.1h1.0M265.8 127.8h1.0M278.5 139.2h1.0M155.2 140.5h1.0M256.5 141.4h1.0M242.2 140.0h1.0M152.9 128.9h1.0M295.6 139.6h1.0M301.3 135.9h1.0M149.0 127.0h1.0M270.2 132.0h1.0M179.5 130.8h1.0M256.2 138.3h1.0M248.8 129.9h1.0M269.7 134.6h1.0M181.5 130.0h1.0M227.4 134.2h1.0M258.4 130.1h1.0M244.5 138.5h1.0M281.8 127.3h1.0M251.3 132.8h1.0M197.3 136.5h1.0M199.8 135.9h1.0M256.4 141.7h1.0M148.5 132.7h1.0M135.0 134.9h1.0M215.1 128.7h1.0M174.5 124.2h1.0M303.6 121.8h1.0M287.6 129.8h1.0M241.2 135.5h1.0M282.0 135.2h1.0M259.7 127.3h1.0M179.3 131.7h1.0M177.2 124.0h1.0M248.6 125.5h1.0M154.6 126.3h1.0M239.7 123.3h1.0M177.0 138.9h1.0M234.7 134.9h1.0M225.9 135.7h1.0M173.0 134.9h1.0M169.6 131.1h1.0M161.3 122.7h1.0M209.3 128.4h1.0M240.8 130.7h1.0M130.0 129.3h1.0M269.5 131.9h1.0M172.1 139.9h1.0M158.5 135.5h1.0M293.0 132.0h1.0M158.0 130.2h1.0M213.2 124.4h1.0M211.3 138.5h1.0M175.2 130.7h1.0M270.5 132.7h1.0M151.5 124.9h1.0M270.1 127.5h1.0M165.5 132.5h1.0M228.5 127.3h1.0M294.5 133.7h1.0M279.4 136.5h1.0M282.2 133.9h1.0M283.4 135.0h1.0M252.8 132.0h1.0M281.4 138.8h1.0M239.5 132.6h1.0M174.8 133.1h1.0M326.1 137.8h1.0M225.7 128.3h1.0M153.4 124.8h1.0M147.8 137.0h1.0M179.6 139.1h1.0M152.1 140.2h1.0M173.9 127.9h1.0M254.4 135.8h1.0M258.9 130.9h1.0M297.1 138.1h1.0M154.9 141.7h1.0M140.8 136.3h1.0M252.3 125.5h1.0M300.8 130.8h1.0M275.9 131.6h1.0M215.0 132.6h1.0M263.0 124.8h1.0M165.8 133.5h1.0M228.8 132.4h1.0M202.0 124.8h1.0M150.1 140.2h1.0M231.2 131.4h1.0M292.6 135.7h1.0M161.0 140.0h1.0M230.0 125.8h1.0M232.7 135.5h1.0M281.4 135.0h1.0M280.7 136.0h1.0M190.1 126.6h1.0M167.1 139.6h1.0M268.1 138.6h1.0M166.1 121.8h1.0M146.6 136.5h1.0M148.0 136.1h1.0M135.6 131.9h1.0M243.9 130.9h1.0M169.1 134.7h1.0M163.0 124.5h1.0M256.6 138.2h1.0M298.8 137.0h1.0M171.1 135.3h1.0M173.1 136.4h1.0M127.4 127.7h1.0M153.5 130.5h1.0M236.5 129.5h1.0M292.4 127.1h1.0M211.2 135.3h1.0M241.0 127.4h1.0M257.9 126.5h1.0M141.9 139.3h1.0M164.6 135.6h1.0M168.6 136.8h1.0M164.5 138.6h1.0M276.3 129.3h1.0M261.1 134.8h1.0M150.8 130.0h1.0M157.4 126.3h1.0M156.1 134.1h1.0M287.0 130.9h1.0M174.4 132.6h1.0M206.4 134.0h1.0M166.2 121.6h1.0M305.5 124.7h1.0M175.6 131.9h1.0M180.4 126.0h1.0M153.1 127.5h1.0M180.7 123.8h1.0M168.8 126.1h1.0M193.9 130.8h1.0M174.8 142.1h1.0M148.4 129.7h1.0M162.8 131.1h1.0M245.5 138.1h1.0M247.1 128.1h1.0M170.6 123.9h1.0M260.1 130.2h1.0M241.2 136.9h1.0M274.7 132.6h1.0M175.4 129.7h1.0M171.7 141.1h1.0M265.8 122.2h1.0M174.4 128.4h1.0M168.4 127.6h1.0M135.9 131.2h1.0M171.4 133.4h1.0M250.4 130.0h1.0M266.1 128.4h1.0M168.3 129.3h1.0M304.2 126.5h1.0M257.4 127.0h1.0M240.0 123.6h1.0M157.9 129.7h1.0M279.2 138.4h1.0M136.6 133.0h1.0M285.3 138.0h1.0M233.4 137.2h1.0M210.9 137.2h1.0M270.0 132.0h1.0M178.0 142.3h1.0M260.3 131.9h1.0M269.5 129.9h1.0M316.6 128.0h1.0M222.9 126.7h1.0M294.3 123.5h1.0M266.6 129.0h1.0M198.2 134.0h1.0M248.6 136.4h1.0M140.8 129.4h1.0M143.1 130.5h1.0M245.9 139.8h1.0M177.5 139.6h1.0M288.4 129.4h1.0M168.2 136.5h1.0M214.9 132.8h1.0M250.3 133.7h1.0M178.2 137.2h1.0M197.6 130.5h1.0M238.1 138.1h1.0M240.2 133.9h1.0M147.8 126.7h1.0M165.3 132.1h1.0M252.3 136.1h1.0M144.2 134.5h1.0M184.3 135.0h1.0M242.3 130.3h1.0M239.3 142.0h1.0M268.0 127.6h1.0M253.3 126.0h1.0M156.8 130.2h1.0M212.5 125.4h1.0M131.4 134.2h1.0M222.0 131.7h1.0M128.6 132.5h1.0M227.5 126.3h1.0M297.8 128.7h1.0M163.8 131.7h1.0M189.5 135.8h1.0M183.1 125.3h1.0M169.2 132.3h1.0M249.6 121.5h1.0M276.1 139.6h1.0M238.6 127.6h1.0M319.7 131.1h1.0M260.7 133.2h1.0M169.5 133.2h1.0M144.9 129.9h1.0M252.7 131.3h1.0M168.8 137.4h1.0M172.4 141.8h1.0M169.0 128.6h1.0M247.3 130.0h1.0M177.8 138.0h1.0M180.9 140.1h1.0M335.0 132.7h1.0M143.0 136.4h1.0M332.0 130.5h1.0M187.8 133.7h1.0M303.3 124.7h1.0M178.0 129.3h1.0M172.2 126.8h1.0M150.6 135.6h1.0M242.2 131.9h1.0M250.1 131.9h1.0M315.3 133.2h1.0M270.8 137.4h1.0M134.1 127.4h1.0M230.6 129.4h1.0M227.8 138.3h1.0M189.5 126.0h1.0M191.6 140.1h1.0M295.7 125.9h1.0M153.9 124.2h1.0M261.4 128.5h1.0M181.0 139.9h1.0M234.2 132.9h1.0M245.0 137.0h1.0M177.8 136.2h1.0M268.2 126.6h1.0M154.0 123.6h1.0M298.8 126.8h1.0M207.5 142.0h1.0M169.8 135.7h1.0M146.5 125.9h1.0M167.2 134.5h1.0M175.0 123.8h1.0M146.8 138.1h1.0M259.1 137.8h1.0M169.1 139.3h1.0M146.8 131.4h1.0M194.9 136.8h1.0M234.8 129.6h1.0M196.6 130.7h1.0M137.3 139.4h1.0M233.7 139.1h1.0M156.0 138.9h1.0M281.4 131.5h1.0M169.9 127.4h1.0M168.5 132.8h1.0M281.8 134.9h1.0M162.6 123.7h1.0M277.5 137.9h1.0M220.8 128.8h1.0M252.6 141.2h1.0M155.3 139.0h1.0M165.3 131.4h1.0M195.6 140.6h1.0M182.7 134.1h1.0M253.6 132.0h1.0M314.9 133.2h1.0M225.6 137.4h1.0M221.6 125.4h1.0M153.3 122.6h1.0M273.3 127.5h1.0M266.9 137.4h1.0M143.8 127.4h1.0M267.1 127.2h1.0M244.1 138.4h1.0M286.0 132.9h1.0M228.7 133.7h1.0M153.3 133.2h1.0M149.3 135.5h1.0M209.9 133.9h1.0M221.4 126.2h1.0M136.9 128.4h1.0M203.9 127.2h1.0M275.9 122.6h1.0M239.7 132.4h1.0M234.7 134.1h1.0M240.9 134.2h1.0M140.8 132.1h1.0M283.2 134.5h1.0M165.3 136.1h1.0M194.4 136.1h1.0M149.4 133.9h1.0M171.2 136.5h1.0M209.8 135.8h1.0M175.2 132.2h1.0M167.5 128.9h1.0M251.0 129.0h1.0M193.8 130.1h1.0M265.9 134.6h1.0M181.0 138.5h1.0M275.0 127.2h1.0M273.7 122.1h1.0M157.0 127.2h1.0M244.0 129.6h1.0M173.9 139.5h1.0M250.8 136.5h1.0M166.7 123.9h1.0M284.5 137.9h1.0M258.9 127.3h1.0M166.5 125.7h1.0M131.3 139.3h1.0M277.2 141.2h1.0M311.7 129.8h1.0M264.9 121.4h1.0M143.0 125.4h1.0M191.7 129.1h1.0M255.0 137.6h1.0M174.0 137.0h1.0M241.4 125.0h1.0M172.5 130.1h1.0M251.5 134.6h1.0M184.0 129.7h1.0M156.5 123.6h1.0M227.8 138.9h1.0M180.1 135.4h1.0M267.1 131.5h1.0M245.4 136.6h1.0M156.8 127.8h1.0M250.2 139.8h1.0M247.3 133.3h1.0M257.4 129.2h1.0M176.0 133.3h1.0M153.2 130.2h1.0M161.5 130.8h1.0M257.1 138.2h1.0M184.7 132.8h1.0M282.6 126.6h1.0M191.7 125.2h1.0M219.9 132.6h1.0M181.5 134.6h1.0M137.9 135.8h1.0M283.8 139.6h1.0M337.8 134.2h1.0M276.3 140.6h1.0M273.4 134.9h1.0M253.9 129.7h1.0M181.6 126.0h1.0M156.6 129.6h1.0M256.8 132.5h1.0M184.7 123.7h1.0M177.9 136.6h1.0M247.8 135.5h1.0M263.6 130.1h1.0M179.1 123.4h1.0M287.8 125.8h1.0M173.6 137.5h1.0M224.5 127.5h1.0M171.7 131.8h1.0M256.1 128.5h1.0M276.2 141.5h1.0M164.3 132.9h1.0M196.6 133.9h1.0M254.0 122.5h1.0M156.6 138.5h1.0M163.2 123.1h1.0M250.0 137.5h1.0M223.8 122.9h1.0M224.8 128.9h1.0M229.6 136.6h1.0M159.1 130.1h1.0M212.3 136.5h1.0M137.4 131.5h1.0M151.3 133.0h1.0M176.7 131.7h1.0M152.4 131.5h1.0M176.6 135.3h1.0M154.3 141.6h1.0M157.0 123.3h1.0M187.9 126.2h1.0M178.3 127.4h1.0M160.7 124.2h1.0M261.6 136.0h1.0M269.9 137.0h1.0M263.8 140.3h1.0M200.5 140.1h1.0M241.3 134.3h1.0M175.4 126.8h1.0M260.4 123.7h1.0M157.5 134.6h1.0M241.5 139.5h1.0M235.1 139.5h1.0M263.4 134.2h1.0M136.7 124.5h1.0M188.3 137.6h1.0M192.5 129.0h1.0M127.8 123.5h1.0M226.0 129.2h1.0M245.3 128.2h1.0M257.0 137.0h1.0M271.6 134.4h1.0M220.0 129.7h1.0M162.9 126.9h1.0M215.8 138.5h1.0M165.9 124.5h1.0M166.7 127.3h1.0M257.8 135.1h1.0M203.3 133.9h1.0M214.6 131.1h1.0M189.7 136.9h1.0M142.5 135.3h1.0M167.5 128.1h1.0M189.5 136.6h1.0M226.4 130.9h1.0M140.1 134.9h1.0M163.9 138.6h1.0M134.0 130.6h1.0M171.3 129.4h1.0M252.8 134.4h1.0M169.4 128.1h1.0M183.5 134.9h1.0M143.7 137.4h1.0M300.2 128.5h1.0M169.8 128.5h1.0M249.8 137.5h1.0M261.5 123.4h1.0M288.8 126.5h1.0M245.7 138.5h1.0M163.1 134.7h1.0M265.0 123.5h1.0M263.0 137.3h1.0M248.8 136.4h1.0M183.4 141.7h1.0M279.5 135.9h1.0M259.7 131.6h1.0M314.5 136.7h1.0M154.6 139.1h1.0M251.4 130.0h1.0M220.0 141.9h1.0M294.6 140.2h1.0M279.2 137.8h1.0M155.0 132.6h1.0M236.0 124.1h1.0M305.0 123.6h1.0M312.5 124.5h1.0M256.0 141.6h1.0M176.1 127.5h1.0M163.8 135.4h1.0M336.0 133.7h1.0M250.1 123.7h1.0M287.5 137.6h1.0M247.6 125.7h1.0M166.3 130.6h1.0M268.0 134.1h1.0M274.8 138.6h1.0M173.3 122.4h1.0M321.5 132.5h1.0M155.6 126.4h1.0M253.9 132.7h1.0M215.9 121.9h1.0M152.5 135.7h1.0M239.0 127.1h1.0M243.5 141.8h1.0M224.5 128.9h1.0M252.2 122.1h1.0M235.8 135.7h1.0M265.9 137.1h1.0M174.1 131.6h1.0M162.1 134.3h1.0M165.6 131.9h1.0M261.9 124.0h1.0M227.3 124.3h1.0M189.3 127.3h1.0M223.9 134.8h1.0M182.9 131.2h1.0M199.3 126.3h1.0M142.8 127.7h1.0M150.2 126.4h1.0M140.4 141.0h1.0M155.2 125.5h1.0M163.5 139.9h1.0M138.8 131.6h1.0M302.1 125.3h1.0M249.5 137.7h1.0M195.4 136.9h1.0M184.5 132.8h1.0M333.5 136.6h1.0M170.7 132.6h1.0M255.6 133.9h1.0M254.7 129.5h1.0M171.5 135.2h1.0M142.0 134.2h1.0M146.5 127.6h1.0M134.3 132.7h1.0M192.1 134.0h1.0M240.3 136.0h1.0M237.7 132.9h1.0M172.7 123.8h1.0M193.4 124.1h1.0M256.5 123.3h1.0M174.2 135.0h1.0M254.1 123.5h1.0M276.4 125.3h1.0M158.0 136.0h1.0M259.5 136.4h1.0M155.0 128.9h1.0M145.4 131.6h1.0M230.6 127.7h1.0M155.5 130.1h1.0M269.2 137.8h1.0M242.7 135.7h1.0M163.4 132.1h1.0M186.6 137.3h1.0M256.6 137.3h1.0M231.4 126.7h1.0M247.1 141.1h1.0M272.5 136.1h1.0M166.9 137.8h1.0M153.0 136.5h1.0M236.1 136.6h1.0M240.3 125.7h1.0M264.5 122.3h1.0M232.4 122.0h1.0M149.7 132.8h1.0M265.5 129.5h1.0M195.0 139.5h1.0M153.6 138.1h1.0M171.2 128.1h1.0M242.7 126.8h1.0M236.9 141.0h1.0M178.7 133.2h1.0M255.9 128.5h1.0M272.2 129.1h1.0M298.8 140.8h1.0M157.2 137.2h1.0M290.0 125.5h1.0M143.8 138.4h1.0M143.0 136.9h1.0M274.9 128.9h1.0M185.9 139.7h1.0M143.3 128.9h1.0M276.8 129.9h1.0M173.4 124.0h1.0M176.5 127.4h1.0M197.9 142.0h1.0M239.7 135.0h1.0M179.1 137.5h1.0M131.2 136.7h1.0M179.3 132.6h1.0M335.7 138.8h1.0M227.3 122.9h1.0M216.3 128.0h1.0M167.8 130.9h1.0M241.7 130.7h1.0M252.9 138.4h1.0M251.9 128.3h1.0M177.8 125.4h1.0M286.1 137.0h1.0M156.8 136.2h1.0M166.6 141.1h1.0M268.3 136.2h1.0M151.1 130.8h1.0M267.8 136.9h1.0M264.3 123.9h1.0M147.7 123.9h1.0M136.5 132.5h1.0M268.9 142.0h1.0M129.7 128.2h1.0M260.5 129.2h1.0M171.0 126.2h1.0M210.5 136.3h1.0M252.1 136.4h1.0M158.7 131.4h1.0M257.6 140.6h1.0M215.4 134.7h1.0M263.4 136.9h1.0M272.3 126.2h1.0M145.3 130.4h1.0M173.7 123.8h1.0M186.9 129.8h1.0M277.2 125.9h1.0M282.6 127.2h1.0M156.3 131.0h1.0M239.8 141.1h1.0M289.7 133.6h1.0M277.5 137.6h1.0M139.2 128.4h1.0M207.0 141.0h1.0M219.8 122.9h1.0M190.4 127.8h1.0M320.6 137.8h1.0M244.7 131.7h1.0M291.8 129.4h1.0M252.1 132.9h1.0M163.0 140.8h1.0M173.4 126.6h1.0M217.3 123.4h1.0M187.8 142.2h1.0M249.7 129.0h1.0M192.3 135.2h1.0M159.0 126.5h1.0M151.0 123.3h1.0M166.2 140.7h1.0M271.9 133.4h1.0M282.9 130.7h1.0M182.8 127.3h1.0M259.7 138.6h1.0M271.2 131.5h1.0M281.0 133.4h1.0M262.9 136.9h1.0M150.4 126.9h1.0M186.6 130.4h1.0M279.8 128.6h1.0M180.3 131.5h1.0M142.0 135.8h1.0M153.1 132.8h1.0M245.8 136.3h1.0M176.2 131.5h1.0M267.2 133.1h1.0M156.7 131.2h1.0M301.6 121.9h1.0M178.8 127.1h1.0M263.3 128.7h1.0M241.5 128.2h1.0M266.5 134.9h1.0M153.6 133.4h1.0M156.6 135.9h1.0M158.3 136.9h1.0M167.2 138.1h1.0M161.1 129.1h1.0M193.9 125.8h1.0M146.2 123.8h1.0M168.2 137.4h1.0M229.5 137.1h1.0M175.2 135.7h1.0M257.2 129.9h1.0M241.4 127.4h1.0M144.0 133.9h1.0M229.0 131.4h1.0M290.1 135.8h1.0M225.7 128.7h1.0M268.6 126.2h1.0M245.4 129.8h1.0M213.4 133.1h1.0M229.6 131.8h1.0M197.3 130.3h1.0M290.1 128.2h1.0M188.0 126.4h1.0M137.5 130.4h1.0M174.3 134.6h1.0M272.8 124.4h1.0M287.2 122.6h1.0M226.9 124.4h1.0M273.7 139.8h1.0M231.6 139.7h1.0M287.4 135.0h1.0M135.8 132.6h1.0M162.3 131.1h1.0M144.1 135.4h1.0M194.4 129.5h1.0M234.8 133.5h1.0M274.3 131.9h1.0M164.1 132.6h1.0M308.8 133.8h1.0M187.9 129.2h1.0M158.7 124.0h1.0M164.2 126.9h1.0M285.9 133.1h1.0M208.6 125.6h1.0M214.0 125.8h1.0M178.2 122.0h1.0M177.6 133.4h1.0M254.1 141.9h1.0M280.1 127.8h1.0M251.4 124.3h1.0M306.7 133.4h1.0M252.4 129.8h1.0M291.2 122.2h1.0M239.9 127.2h1.0M225.5 125.5h1.0M159.1 129.6h1.0M266.2 124.6h1.0M259.0 134.5h1.0M191.4 128.3h1.0M140.4 125.2h1.0M158.6 138.8h1.0M284.1 125.5h1.0M176.6 133.2h1.0M253.3 121.6h1.0M151.4 136.1h1.0M188.3 127.6h1.0M257.1 121.7h1.0M273.2 128.2h1.0M144.2 133.1h1.0M181.0 134.9h1.0M261.9 127.8h1.0M157.2 126.3h1.0M180.2 141.5h1.0M262.3 130.7h1.0M160.0 128.0h1.0M223.6 129.1h1.0M275.4 124.7h1.0M293.0 132.6h1.0M173.3 125.3h1.0M152.8 130.6h1.0M198.3 124.6h1.0M188.9 135.6h1.0M257.6 137.6h1.0M194.7 133.4h1.0M310.6 141.0h1.0M168.0 123.3h1.0M243.6 123.0h1.0M154.2 138.1h1.0M158.1 137.6h1.0M207.4 127.5h1.0M171.7 133.5h1.0M237.7 123.9h1.0M292.7 124.9h1.0M291.4 124.7h1.0M255.9 129.9h1.0M326.1 132.8h1.0M250.7 128.9h1.0M283.5 134.7h1.0M166.5 134.2h1.0M274.6 126.6h1.0M224.3 137.2h1.0M159.3 128.6h1.0M223.0 135.6h1.0M243.6 122.3h1.0M158.2 123.1h1.0M159.4 131.9h1.0M164.2 134.3h1.0M249.4 129.0h1.0M248.1 135.9h1.0M256.6 130.4h1.0M226.5 134.6h1.0M245.2 126.6h1.0M176.7 139.3h1.0M248.0 122.9h1.0M164.2 129.0h1.0M263.4 142.1h1.0M168.7 135.3h1.0M152.8 133.7h1.0M274.6 137.6h1.0M274.4 132.9h1.0M243.8 134.1h1.0M162.3 128.6h1.0M274.0 138.0h1.0M245.4 139.8h1.0M305.4 137.0h1.0M218.8 139.0h1.0M231.7 125.7h1.0M231.4 129.7h1.0M268.2 129.5h1.0M171.2 122.6h1.0M177.0 138.9h1.0M247.8 135.9h1.0M242.1 124.1h1.0M242.1 137.4h1.0M260.8 133.1h1.0M290.2 133.5h1.0M249.0 127.9h1.0M263.6 138.8h1.0M241.2 131.2h1.0M146.8 141.3h1.0M233.7 136.7h1.0M274.1 138.4h1.0M237.1 126.0h1.0M153.0 127.3h1.0M289.8 132.2h1.0M223.9 125.8h1.0M280.2 127.7h1.0M169.5 134.3h1.0M271.3 135.1h1.0M144.9 125.4h1.0M188.4 138.5h1.0M183.5 134.0h1.0M184.7 129.7h1.0M167.0 128.6h1.0M149.0 125.3h1.0M143.3 131.7h1.0M157.0 129.4h1.0M261.7 127.5h1.0M171.3 141.3h1.0M255.2 126.4h1.0M194.1 140.0h1.0M222.1 132.1h1.0M180.9 140.7h1.0M313.5 124.2h1.0M157.9 134.9h1.0M178.5 140.5h1.0M198.5 126.2h1.0M243.6 140.0h1.0M147.7 123.9h1.0M281.8 128.5h1.0M156.6 136.3h1.0M163.2 135.4h1.0M161.3 141.4h1.0M164.5 130.0h1.0M239.8 136.9h1.0M288.2 134.5h1.0M165.3 136.8h1.0M155.3 131.7h1.0M139.3 125.4h1.0M144.7 127.6h1.0M183.7 139.1h1.0M143.7 122.6h1.0M284.4 129.0h1.0M299.3 125.1h1.0M177.3 141.7h1.0M326.6 122.8h1.0M185.7 126.7h1.0M146.5 131.1h1.0M253.3 133.0h1.0M144.3 135.2h1.0M328.3 131.2h1.0M148.8 130.3h1.0M274.2 124.2h1.0M258.2 127.9h1.0M247.2 125.5h1.0M311.4 129.7h1.0M258.3 125.9h1.0M296.7 135.7h1.0M237.2 125.9h1.0M176.3 126.2h1.0M147.7 132.6h1.0M188.1 123.2h1.0M232.6 127.3h1.0M150.1 133.7h1.0M270.5 125.1h1.0M240.5 130.9h1.0M173.5 122.3h1.0M154.6 133.4h1.0M289.3 128.5h1.0M138.2 129.0h1.0M172.0 137.9h1.0M250.2 132.6h1.0M168.9 138.7h1.0M170.2 134.9h1.0M183.2 121.5h1.0M232.3 130.2h1.0M273.6 129.5h1.0M228.7 133.6h1.0M175.9 141.1h1.0M255.2 127.4h1.0M250.7 131.2h1.0M240.6 125.1h1.0M190.2 127.0h1.0M243.7 127.4h1.0M253.2 135.0h1.0M337.2 138.9h1.0M313.7 131.5h1.0M252.3 132.8h1.0M191.0 137.3h1.0M172.4 131.5h1.0M297.7 137.4h1.0M266.4 127.5h1.0M197.4 129.7h1.0M245.9 126.6h1.0M145.2 131.7h1.0M137.1 135.7h1.0M159.4 131.7h1.0M272.4 131.2h1.0M133.8 131.3h1.0M272.5 141.0h1.0M159.9 139.0h1.0M181.3 123.3h1.0M278.1 137.7h1.0M283.6 125.3h1.0M166.0 142.2h1.0M279.7 121.7h1.0M258.2 140.4h1.0M230.5 139.0h1.0M136.5 132.2h1.0M288.1 126.6h1.0M261.7 126.2h1.0M185.7 123.5h1.0M187.6 133.2h1.0M190.5 129.2h1.0M213.8 137.3h1.0M173.7 122.2h1.0M171.3 126.2h1.0M224.1 138.1h1.0M174.3 133.0h1.0M167.2 141.2h1.0M176.1 128.2h1.0M271.9 122.0h1.0M252.5 127.0h1.0M224.1 129.6h1.0M256.5 140.6h1.0M215.4 130.2h1.0M312.0 129.2h1.0M157.8 125.9h1.0M182.8 138.1h1.0M265.5 123.5h1.0M226.9 123.6h1.0M276.7 136.6h1.0M250.4 127.8h1.0M165.2 134.9h1.0M199.3 139.6h1.0M153.2 130.4h1.0M210.9 123.2h1.0M288.8 133.0h1.0M338.0 135.8h1.0M284.1 136.2h1.0M261.7 140.7h1.0M176.8 128.3h1.0M283.1 136.4h1.0M179.9 122.6h1.0M179.2 140.3h1.0M166.8 122.6h1.0M266.4 128.8h1.0M249.4 139.9h1.0M235.6 136.0h1.0M254.2 127.7h1.0M275.7 136.3h1.0M174.5 138.3h1.0M168.0 130.3h1.0M199.0 122.3h1.0M131.2 126.7h1.0M278.5 126.4h1.0M290.1 141.5h1.0M162.5 141.5h1.0M211.7 136.3h1.0M238.7 131.4h1.0M188.0 138.0h1.0M251.2 128.0h1.0M156.7 127.8h1.0M149.7 129.0h1.0M205.1 133.9h1.0M140.8 122.4h1.0M253.9 131.9h1.0M215.7 132.0h1.0M176.3 136.4h1.0M170.1 76.0h1.0M152.2 71.8h1.0M195.9 56.1h1.0M174.2 73.2h1.0M163.5 97.2h1.0M147.8 101.9h1.0M172.2 91.9h1.0M155.0 55.5h1.0M146.8 97.5h1.0M164.2 43.5h1.0M154.9 104.0h1.0M163.0 111.0h1.0M156.0 51.8h1.0M161.9 115.4h1.0M165.9 96.8h1.0M136.4 102.9h1.0M161.2 73.7h1.0M138.5 78.5h1.0M173.9 58.5h1.0M163.4 94.6h1.0M154.2 85.1h1.0M167.3 79.6h1.0M162.4 107.5h1.0M143.1 93.8h1.0M153.4 109.4h1.0M155.4 117.8h1.0M170.3 61.7h1.0M167.3 87.4h1.0M166.2 102.2h1.0M152.2 79.6h1.0M147.3 120.2h1.0M166.8 75.6h1.0M176.0 84.7h1.0M141.6 89.1h1.0M147.9 94.4h1.0M171.1 95.0h1.0M173.9 83.2h1.0M171.0 75.9h1.0M156.7 68.1h1.0M151.2 77.5h1.0M178.3 70.8h1.0M156.0 55.9h1.0M140.8 44.1h1.0M167.5 98.8h1.0M166.1 66.0h1.0M167.6 42.5h1.0M156.8 72.2h1.0M165.2 57.8h1.0M177.5 110.7h1.0M140.6 53.7h1.0M160.2 100.5h1.0M187.8 112.7h1.0M156.5 80.4h1.0M151.4 108.8h1.0M146.5 69.7h1.0M169.6 102.3h1.0M180.3 136.3h1.0M158.5 92.7h1.0M162.5 80.2h1.0M168.8 89.2h1.0M161.2 90.4h1.0M165.6 85.6h1.0M174.8 101.9h1.0M157.5 94.5h1.0M165.8 115.9h1.0M148.1 100.0h1.0M152.7 61.6h1.0M165.5 60.8h1.0M184.5 102.9h1.0M168.4 75.6h1.0M158.6 93.8h1.0M174.1 115.7h1.0M157.3 91.4h1.0M144.4 124.4h1.0M158.8 77.8h1.0M164.0 90.9h1.0M180.1 120.1h1.0M146.2 64.1h1.0M170.9 95.9h1.0M170.8 84.5h1.0M158.1 102.6h1.0M146.8 109.9h1.0M170.0 101.3h1.0M175.8 109.9h1.0M158.0 64.8h1.0M175.1 92.5h1.0M179.4 105.8h1.0M183.8 97.8h1.0M156.6 86.3h1.0M148.4 130.9h1.0M171.0 67.7h1.0M156.1 66.0h1.0M127.3 101.4h1.0M156.0 77.7h1.0M148.4 93.1h1.0M169.7 72.5h1.0M171.7 85.0h1.0M158.1 78.1h1.0M152.9 88.0h1.0M175.7 77.6h1.0M156.1 95.4h1.0M165.1 83.9h1.0M169.9 75.2h1.0M163.3 87.3h1.0M153.2 68.3h1.0M186.8 82.1h1.0M145.9 108.9h1.0M149.3 105.6h1.0M161.6 60.9h1.0M168.0 81.3h1.0M146.0 83.9h1.0M157.6 90.3h1.0M153.2 98.1h1.0M153.6 115.1h1.0M177.3 75.9h1.0M146.5 113.0h1.0M179.2 111.9h1.0M164.5 98.1h1.0M165.5 80.8h1.0M153.7 110.8h1.0M131.9 98.0h1.0M150.9 85.9h1.0M156.3 117.0h1.0M148.6 96.5h1.0M152.6 130.3h1.0M160.8 40.8h1.0M196.9 96.7h1.0M151.6 90.9h1.0M159.4 95.7h1.0M163.6 86.3h1.0M157.2 77.4h1.0M131.5 83.5h1.0M168.6 115.5h1.0M167.0 72.1h1.0M172.0 77.2h1.0M157.5 106.4h1.0M158.8 102.2h1.0M168.4 54.7h1.0M133.4 66.7h1.0M157.7 85.1h1.0M148.7 81.0h1.0M164.1 87.7h1.0M165.7 79.4h1.0M147.9 54.7h1.0M166.4 79.6h1.0M141.5 97.3h1.0M162.9 87.9h1.0M156.2 93.0h1.0M155.9 42.1h1.0M161.0 62.5h1.0M174.3 96.1h1.0M186.7 114.9h1.0M153.0 89.7h1.0M141.0 77.0h1.0M162.5 76.3h1.0M160.5 46.8h1.0M162.4 94.0h1.0M170.1 89.4h1.0M157.8 64.4h1.0M174.1 118.2h1.0M153.9 91.6h1.0M171.0 66.4h1.0M172.6 75.8h1.0M154.1 84.8h1.0M154.4 103.7h1.0M169.8 93.2h1.0M163.7 66.5h1.0M168.8 94.5h1.0M170.4 110.0h1.0M174.9 75.8h1.0M162.8 109.9h1.0M169.4 113.0h1.0M165.8 90.2h1.0M170.5 94.4h1.0M160.8 62.3h1.0M167.7 95.3h1.0M155.4 129.6h1.0M155.8 71.4h1.0M178.0 77.8h1.0M181.1 104.9h1.0M148.9 114.9h1.0M180.7 44.7h1.0M167.6 75.4h1.0M177.9 93.1h1.0M167.2 65.9h1.0M172.1 102.2h1.0M151.5 87.4h1.0M169.0 93.0h1.0M137.1 94.5h1.0M127.3 82.1h1.0M160.9 67.2h1.0M169.3 98.3h1.0M156.9 91.6h1.0M175.8 76.9h1.0M172.2 117.2h1.0M166.5 96.5h1.0M164.5 104.4h1.0M158.1 68.2h1.0M156.8 91.5h1.0M165.5 68.5h1.0M142.9 126.6h1.0M156.9 60.7h1.0M148.6 84.7h1.0M161.6 113.2h1.0M170.9 79.6h1.0M182.0 56.9h1.0M157.6 72.2h1.0M145.7 91.9h1.0M182.9 91.0h1.0M158.2 75.6h1.0M177.5 100.5h1.0M186.4 62.8h1.0M140.2 74.3h1.0M160.2 74.7h1.0M156.5 106.3h1.0M154.5 122.6h1.0M151.9 69.7h1.0M163.2 85.9h1.0M154.1 108.8h1.0M169.3 77.1h1.0M162.5 69.5h1.0M162.0 74.4h1.0M164.7 96.7h1.0M157.6 114.4h1.0M161.0 77.2h1.0M158.5 47.5h1.0M155.5 73.7h1.0M170.9 70.4h1.0M175.3 96.6h1.0M177.7 91.8h1.0M173.7 112.7h1.0M156.7 54.0h1.0M138.4 62.2h1.0M164.0 80.9h1.0M129.4 108.1h1.0M158.4 87.8h1.0M154.6 86.8h1.0M163.0 75.0h1.0M140.7 96.3h1.0M158.7 86.2h1.0M155.3 71.6h1.0M144.7 82.0h1.0M143.3 63.2h1.0M159.1 104.4h1.0M146.6 108.7h1.0M169.5 71.7h1.0M163.7 62.8h1.0M167.4 101.3h1.0M185.9 95.0h1.0M170.8 86.3h1.0M172.4 115.4h1.0M146.6 98.9h1.0M168.4 90.1h1.0M164.9 82.4h1.0M177.7 101.7h1.0M176.2 79.0h1.0M179.1 103.8h1.0M164.7 113.4h1.0M158.6 86.9h1.0M146.6 107.8h1.0M139.5 104.9h1.0M164.1 84.4h1.0M156.3 96.9h1.0M162.1 84.4h1.0M164.1 68.9h1.0M156.7 103.8h1.0M160.2 97.8h1.0M156.0 87.1h1.0M164.6 83.6h1.0M172.6 89.7h1.0M162.7 101.9h1.0M144.9 89.6h1.0M176.0 92.0h1.0M154.5 98.3h1.0M151.4 90.7h1.0M176.6 101.0h1.0M173.7 86.6h1.0M145.4 104.4h1.0M156.4 84.2h1.0M157.8 56.4h1.0M157.9 117.9h1.0M152.1 82.4h1.0M152.3 114.2h1.0M132.8 89.1h1.0M165.4 103.8h1.0M157.0 99.1h1.0M189.3 83.0h1.0M162.0 83.9h1.0M155.7 90.5h1.0M175.1 86.9h1.0M163.9 67.4h1.0M153.4 82.1h1.0M183.2 84.4h1.0M169.9 79.9h1.0M163.8 97.9h1.0M169.1 66.4h1.0M167.3 100.3h1.0M170.2 85.9h1.0M174.1 72.3h1.0M167.4 94.4h1.0M167.6 77.3h1.0M167.4 98.6h1.0M149.2 91.3h1.0M148.2 140.2h1.0M172.4 70.6h1.0M159.7 67.8h1.0M131.9 65.9h1.0M167.0 57.4h1.0M153.9 74.4h1.0M149.8 93.6h1.0M162.6 59.7h1.0M160.3 59.4h1.0M164.2 95.8h1.0M172.0 117.1h1.0M155.5 83.2h1.0M162.2 58.9h1.0M163.5 105.2h1.0M173.2 59.6h1.0M161.9 75.4h1.0M155.8 57.4h1.0M177.8 93.3h1.0M141.4 84.8h1.0M165.9 97.4h1.0M158.0 89.8h1.0M188.1 87.6h1.0M155.1 100.1h1.0M184.0 109.4h1.0M166.0 80.5h1.0M154.4 77.5h1.0M153.8 102.4h1.0M151.0 140.5h1.0M168.5 113.6h1.0M150.3 109.8h1.0M173.3 76.9h1.0M175.4 77.6h1.0M150.3 93.7h1.0M149.6 74.7h1.0M148.3 89.3h1.0M171.8 74.0h1.0M166.8 111.7h1.0M130.3 97.5h1.0M160.6 92.8h1.0M173.9 111.1h1.0M143.7 70.9h1.0M161.5 69.4h1.0M146.9 121.3h1.0M153.2 55.1h1.0M167.3 105.5h1.0M173.9 84.4h1.0M177.8 94.8h1.0M153.2 101.6h1.0M163.1 93.7h1.0M161.9 57.5h1.0M161.1 97.6h1.0M166.3 92.6h1.0M168.9 68.1h1.0M163.3 82.7h1.0M174.0 106.4h1.0M164.8 93.4h1.0M154.5 108.8h1.0M155.4 87.0h1.0M141.3 125.6h1.0M170.6 97.1h1.0M160.8 87.9h1.0M173.2 93.6h1.0M161.7 90.8h1.0M164.2 100.6h1.0M167.6 73.5h1.0M181.0 86.4h1.0M158.4 58.1h1.0M162.7 77.7h1.0M168.7 92.3h1.0M163.1 85.6h1.0M159.5 48.5h1.0M159.8 79.2h1.0M157.5 92.2h1.0M169.1 119.1h1.0M171.1 119.3h1.0M158.0 67.0h1.0M172.8 86.9h1.0M139.0 113.9h1.0M160.2 90.6h1.0M184.4 103.8h1.0M160.6 103.8h1.0M139.5 116.1h1.0M175.2 71.7h1.0M176.3 100.5h1.0M171.6 116.4h1.0M177.2 97.7h1.0M166.5 66.7h1.0M193.7 132.5h1.0M182.3 102.6h1.0M159.2 58.8h1.0M162.5 70.1h1.0M161.1 73.9h1.0M151.1 117.8h1.0M155.4 89.5h1.0M156.1 99.6h1.0M167.5 97.2h1.0M137.5 79.4h1.0M158.5 119.4h1.0M176.4 86.6h1.0M168.6 78.0h1.0M161.8 121.8h1.0M166.5 119.5h1.0M154.0 77.6h1.0M159.0 86.9h1.0M165.8 86.3h1.0M178.6 103.6h1.0M153.2 81.1h1.0M154.7 110.4h1.0M155.5 85.7h1.0M168.4 83.9h1.0M164.4 61.9h1.0M149.8 96.7h1.0M158.0 125.9h1.0M196.0 98.9h1.0M150.5 80.0h1.0M169.8 99.4h1.0M141.4 83.5h1.0M161.0 72.8h1.0M178.3 99.7h1.0M171.9 76.9h1.0M158.3 87.9h1.0M157.3 119.1h1.0M149.5 92.0h1.0M171.2 95.3h1.0M180.7 57.5h1.0M158.0 80.1h1.0M151.3 80.4h1.0M161.1 109.8h1.0M169.9 86.6h1.0M137.3 75.1h1.0M175.4 125.5h1.0M149.6 95.9h1.0M158.4 114.0h1.0M175.2 88.4h1.0M177.4 90.7h1.0M172.5 75.2h1.0M147.5 60.1h1.0M168.6 88.4h1.0M170.1 93.5h1.0M169.3 74.7h1.0M172.7 110.5h1.0M173.9 91.7h1.0M137.1 106.8h1.0M170.6 78.6h1.0M146.7 84.6h1.0M173.4 119.4h1.0M158.8 121.7h1.0M167.3 68.0h1.0M165.8 82.8h1.0M170.5 87.3h1.0M162.2 75.4h1.0M147.6 95.7h1.0M158.9 90.7h1.0M142.1 77.1h1.0M157.5 73.4h1.0M170.6 59.4h1.0M180.3 103.9h1.0M168.5 87.5h1.0M157.4 100.6h1.0M170.0 37.9h1.0M160.3 107.6h1.0M156.4 90.6h1.0M159.2 48.8h1.0M163.0 98.1h1.0M154.7 66.5h1.0M165.9 80.0h1.0M150.1 86.1h1.0M167.3 64.7h1.0M153.0 95.1h1.0M151.4 100.8h1.0M159.7 94.8h1.0M152.2 81.0h1.0M141.1 75.1h1.0M152.5 93.4h1.0M170.0 92.6h1.0M164.6 120.9h1.0M144.7 88.6h1.0M153.0 109.0h1.0M153.6 82.5h1.0M171.8 50.3h1.0M161.0 56.7h1.0M143.5 68.6h1.0M173.5 84.8h1.0M160.7 82.6h1.0M182.6 87.9h1.0M151.6 74.2h1.0M169.8 88.1h1.0M149.6 120.8h1.0M155.2 85.2h1.0M143.0 58.2h1.0M173.5 99.4h1.0M147.6 118.8h1.0M166.8 87.5h1.0M145.2 76.6h1.0M176.6 76.3h1.0M163.1 67.2h1.0M154.9 106.4h1.0M146.5 66.8h1.0M154.9 79.2h1.0M197.8 96.3h1.0M174.3 63.3h1.0M164.5 63.0h1.0M187.5 77.2h1.0M150.3 98.3h1.0M156.5 71.8h1.0M167.3 100.6h1.0M153.8 62.3h1.0M141.5 91.3h1.0M155.3 85.9h1.0M155.1 95.7h1.0M171.6 22.5h1.0M144.9 119.9h1.0M152.7 85.3h1.0M166.4 83.1h1.0M158.9 91.4h1.0M151.2 68.8h1.0M149.2 129.4h1.0M178.8 100.7h1.0M154.1 84.5h1.0M154.9 42.3h1.0M157.1 59.5h1.0M144.1 77.6h1.0M156.1 89.9h1.0M158.4 82.0h1.0M156.2 52.5h1.0M161.7 76.2h1.0M154.7 95.8h1.0M169.4 114.1h1.0M168.0 59.6h1.0M181.4 92.1h1.0M129.4 86.0h1.0M158.2 66.9h1.0M169.0 70.3h1.0M151.6 93.5h1.0M144.0 77.2h1.0M165.7 66.8h1.0M164.0 117.5h1.0M192.2 89.5h1.0M164.0 84.8h1.0M174.6 116.1h1.0M190.1 97.9h1.0M153.3 62.0h1.0M157.0 80.7h1.0M133.3 107.2h1.0M184.0 76.5h1.0M139.6 70.6h1.0M144.1 95.1h1.0M167.9 113.5h1.0M154.2 90.4h1.0M176.3 97.4h1.0M163.6 89.6h1.0M158.4 110.8h1.0M144.3 80.5h1.0M176.3 76.0h1.0M160.6 64.1h1.0M159.4 113.7h1.0M170.4 70.6h1.0M164.1 90.5h1.0M159.5 62.7h1.0M161.2 99.9h1.0M166.4 97.1h1.0M167.8 89.1h1.0M144.0 117.2h1.0M170.2 99.5h1.0M138.7 81.5h1.0M197.4 82.5h1.0M151.1 71.7h1.0M171.0 65.7h1.0M154.5 132.4h1.0M134.4 80.9h1.0M164.2 84.2h1.0M148.1 110.3h1.0M163.3 93.1h1.0M168.3 96.0h1.0M177.1 46.4h1.0M169.5 91.0h1.0M169.8 86.3h1.0M176.8 62.1h1.0M154.5 92.1h1.0M167.7 66.9h1.0M164.1 114.0h1.0M177.4 63.7h1.0M150.0 99.9h1.0M163.3 90.2h1.0M152.2 115.5h1.0M178.6 136.9h1.0M158.1 78.6h1.0M176.6 86.3h1.0M150.9 115.2h1.0M148.0 83.2h1.0M166.9 73.5h1.0M170.3 90.7h1.0M150.1 92.1h1.0M176.6 91.0h1.0M151.2 75.2h1.0M163.1 75.7h1.0M148.4 93.1h1.0M140.7 112.5h1.0M152.4 114.6h1.0M170.8 108.4h1.0M164.3 65.8h1.0M146.9 80.1h1.0M168.3 81.4h1.0M156.1 70.9h1.0M158.2 70.7h1.0M180.4 84.6h1.0M153.7 88.3h1.0M171.5 136.2h1.0M145.8 94.8h1.0M174.1 106.2h1.0M174.8 58.8h1.0M146.9 88.3h1.0M166.6 121.2h1.0M169.4 86.8h1.0M143.0 79.4h1.0M143.2 104.4h1.0M156.6 53.9h1.0M156.8 59.3h1.0M162.2 104.7h1.0M166.4 96.2h1.0M173.2 93.3h1.0M156.3 97.7h1.0M159.1 79.2h1.0M157.4 80.7h1.0M195.1 83.4h1.0M186.3 75.6h1.0M154.5 113.8h1.0M155.7 92.0h1.0M162.9 96.5h1.0M169.1 124.8h1.0M148.5 60.6h1.0M168.2 55.5h1.0M160.9 78.4h1.0M185.2 80.1h1.0M173.3 98.2h1.0M143.2 78.2h1.0M149.9 68.4h1.0M165.3 88.1h1.0M149.7 88.0h1.0M142.2 46.8h1.0M163.5 64.1h1.0M145.3 88.3h1.0M160.0 85.4h1.0M160.7 89.1h1.0M176.2 98.9h1.0M163.2 81.9h1.0M196.0 87.8h1.0M175.5 121.6h1.0M171.5 75.6h1.0M168.7 99.1h1.0M164.7 88.7h1.0M156.9 93.6h1.0M163.3 62.8h1.0M170.8 91.5h1.0M145.6 74.6h1.0M163.7 107.0h1.0M187.9 94.4h1.0M168.0 63.5h1.0M169.1 86.4h1.0M155.7 84.0h1.0M164.4 117.1h1.0M145.6 85.6h1.0M152.8 78.7h1.0M164.7 73.6h1.0M154.9 121.2h1.0M153.9 84.2h1.0M192.9 77.6h1.0M183.1 78.6h1.0M177.1 102.7h1.0M144.3 91.3h1.0M163.2 79.0h1.0M145.4 107.1h1.0M159.3 84.5h1.0M166.8 97.9h1.0M161.3 37.2h1.0M166.4 112.0h1.0M168.8 82.6h1.0M149.2 88.9h1.0M151.4 90.8h1.0M160.3 81.2h1.0M164.2 75.2h1.0M144.9 64.4h1.0M133.1 100.5h1.0M155.6 111.2h1.0M155.8 92.5h1.0M169.3 104.1h1.0M164.4 77.2h1.0M149.0 62.4h1.0M168.7 90.0h1.0M187.7 83.8h1.0M171.3 96.2h1.0M172.6 90.1h1.0M171.3 82.2h1.0M152.9 49.3h1.0M163.1 119.3h1.0M289.2 86.9h1.0M253.3 58.1h1.0M267.5 68.7h1.0M280.8 96.0h1.0M265.5 111.7h1.0M265.6 69.0h1.0M259.8 65.1h1.0M263.3 54.6h1.0M271.3 58.9h1.0M282.8 80.1h1.0M261.8 75.0h1.0M270.8 96.5h1.0M265.1 85.5h1.0M274.5 44.9h1.0M274.3 83.2h1.0M238.3 110.3h1.0M260.2 87.7h1.0M289.1 83.4h1.0M295.6 96.9h1.0M258.5 106.4h1.0M296.7 58.8h1.0M274.7 93.1h1.0M250.2 85.5h1.0M265.6 63.6h1.0M284.9 72.1h1.0M285.3 106.5h1.0M269.7 105.4h1.0M264.5 62.0h1.0M248.9 91.0h1.0M264.9 54.2h1.0M247.7 21.7h1.0M269.9 103.6h1.0M267.2 82.6h1.0M270.4 102.3h1.0M286.3 57.0h1.0M259.0 84.1h1.0M244.7 15.8h1.0M251.1 63.3h1.0M280.9 76.7h1.0M252.3 107.3h1.0M278.4 73.9h1.0M257.9 75.5h1.0M287.3 110.7h1.0M264.7 97.0h1.0M255.5 51.5h1.0M289.0 64.1h1.0M284.9 105.5h1.0M257.2 78.6h1.0M270.5 71.9h1.0M264.3 85.7h1.0M288.4 48.2h1.0M272.0 87.7h1.0M285.9 119.1h1.0M274.6 59.5h1.0M247.2 85.9h1.0M269.1 121.1h1.0M265.0 82.8h1.0M276.9 51.6h1.0M263.8 73.8h1.0M277.2 59.7h1.0M250.2 100.4h1.0M271.4 69.8h1.0M265.4 80.9h1.0M258.7 75.4h1.0M285.3 89.3h1.0M260.7 68.4h1.0M274.0 53.2h1.0M265.2 40.4h1.0M281.3 90.3h1.0M287.2 75.4h1.0M275.5 91.8h1.0M248.3 75.3h1.0M270.3 102.6h1.0M288.1 65.9h1.0M291.1 46.7h1.0M268.0 90.0h1.0M241.7 64.5h1.0M266.5 69.1h1.0M251.8 75.8h1.0M253.2 69.1h1.0M270.6 87.8h1.0M280.5 73.4h1.0M255.0 66.1h1.0M253.9 88.8h1.0M264.2 56.2h1.0M282.9 68.5h1.0M283.4 81.0h1.0M266.8 72.9h1.0M271.7 62.9h1.0M259.2 60.7h1.0M261.7 121.0h1.0M276.3 67.9h1.0M254.2 65.6h1.0M286.7 98.7h1.0M272.3 49.7h1.0M272.4 55.7h1.0M267.8 45.3h1.0M281.0 53.5h1.0M279.4 40.4h1.0M262.0 92.7h1.0M263.1 83.9h1.0M281.2 95.0h1.0M256.0 92.8h1.0M279.3 85.5h1.0M270.3 91.4h1.0M287.5 87.4h1.0M259.5 72.4h1.0M297.2 90.4h1.0M268.1 105.6h1.0M253.5 48.7h1.0M263.3 102.7h1.0M282.5 138.3h1.0M267.5 85.1h1.0M250.9 91.0h1.0M255.8 81.8h1.0M291.0 101.5h1.0M245.4 76.6h1.0M248.6 98.5h1.0M280.5 128.5h1.0M275.2 113.2h1.0M262.0 105.2h1.0M267.5 94.5h1.0M296.6 104.4h1.0M250.3 63.6h1.0M274.4 92.2h1.0M262.7 108.7h1.0M290.6 67.4h1.0M240.8 67.3h1.0M260.7 73.5h1.0M271.8 44.7h1.0M275.3 90.9h1.0M256.5 94.9h1.0M275.9 65.4h1.0M276.7 89.4h1.0M237.5 100.5h1.0M270.7 105.9h1.0M272.7 59.0h1.0M282.6 81.6h1.0M262.5 77.3h1.0M251.5 52.0h1.0M250.2 60.6h1.0M262.4 74.7h1.0M272.4 120.9h1.0M259.0 130.7h1.0M257.2 100.2h1.0M254.2 90.9h1.0M271.0 87.9h1.0M266.8 98.4h1.0M241.5 76.8h1.0M282.9 64.3h1.0M262.7 112.1h1.0M273.6 87.8h1.0M265.6 68.1h1.0M251.6 103.5h1.0M259.0 77.4h1.0M260.7 93.5h1.0M255.2 72.9h1.0M287.9 90.4h1.0M255.5 91.2h1.0M277.7 105.5h1.0M252.8 120.4h1.0M270.1 89.9h1.0M273.1 105.7h1.0M280.4 52.1h1.0M268.4 81.3h1.0M265.2 43.9h1.0M287.2 102.5h1.0M275.5 62.4h1.0M259.9 84.6h1.0M267.6 105.0h1.0M265.1 83.6h1.0M276.4 115.1h1.0M290.8 83.5h1.0M257.8 60.7h1.0M283.8 74.5h1.0M271.6 60.2h1.0M270.3 53.0h1.0M267.4 96.5h1.0M280.4 75.1h1.0M266.1 75.0h1.0M248.6 83.1h1.0M274.1 129.1h1.0M258.5 80.9h1.0M285.4 85.8h1.0M254.5 85.1h1.0M276.0 85.8h1.0M258.9 58.6h1.0M252.6 48.7h1.0M290.5 97.0h1.0M278.1 60.5h1.0M264.6 93.0h1.0M260.3 84.3h1.0M246.6 84.2h1.0M271.4 95.1h1.0M252.3 72.5h1.0M240.9 59.1h1.0M266.9 65.4h1.0M249.8 94.2h1.0M259.7 81.6h1.0M270.4 85.1h1.0M274.5 61.1h1.0M255.9 70.0h1.0M270.5 77.8h1.0M276.9 73.2h1.0M244.1 84.0h1.0M259.1 85.2h1.0M289.1 53.4h1.0M269.8 59.8h1.0M284.2 99.7h1.0M272.1 85.9h1.0M288.7 67.2h1.0M255.3 97.0h1.0M262.3 48.5h1.0M280.2 80.9h1.0M262.4 88.7h1.0M258.9 62.3h1.0M269.5 73.7h1.0M279.6 104.6h1.0M265.5 52.5h1.0M285.1 92.7h1.0M252.7 44.3h1.0M242.3 67.0h1.0M279.5 54.8h1.0M233.5 63.0h1.0M273.9 90.8h1.0M289.6 98.8h1.0M279.6 72.3h1.0M294.3 60.1h1.0M241.9 127.2h1.0M258.9 45.9h1.0M286.9 130.9h1.0M258.6 95.0h1.0M261.9 40.9h1.0M269.7 75.4h1.0M257.3 87.2h1.0M278.7 73.9h1.0M277.0 34.4h1.0M277.2 84.9h1.0M270.7 73.8h1.0M263.5 82.2h1.0M269.5 48.6h1.0M258.0 72.2h1.0M271.7 92.8h1.0M289.3 117.9h1.0M299.5 38.7h1.0M276.1 90.5h1.0M295.6 64.1h1.0M266.7 93.3h1.0M280.5 92.0h1.0M246.7 81.2h1.0M288.6 81.0h1.0M251.5 100.4h1.0M258.2 60.0h1.0M286.4 67.4h1.0M285.0 93.8h1.0M267.6 95.9h1.0M284.6 80.1h1.0M256.5 95.1h1.0M289.0 93.3h1.0M266.2 96.2h1.0M259.0 131.4h1.0M295.2 116.4h1.0M274.0 69.0h1.0M285.5 113.2h1.0M262.9 109.9h1.0M271.2 118.7h1.0M256.3 100.0h1.0M286.3 102.7h1.0M285.0 58.3h1.0M280.1 74.7h1.0M278.9 82.5h1.0M240.5 80.4h1.0M281.2 97.1h1.0M281.2 122.2h1.0M267.1 90.2h1.0M275.1 93.0h1.0M262.0 43.3h1.0M278.9 85.7h1.0M276.4 104.7h1.0M266.2 78.8h1.0M276.0 76.0h1.0M276.5 74.0h1.0M271.8 85.9h1.0M281.3 71.1h1.0M278.2 22.5h1.0M275.0 62.4h1.0M263.6 103.0h1.0M267.7 37.7h1.0M280.5 71.2h1.0M283.6 90.9h1.0M251.9 85.2h1.0M278.6 79.9h1.0M268.1 67.0h1.0M267.8 121.2h1.0M259.0 98.5h1.0M262.7 104.3h1.0M259.8 49.2h1.0M251.7 97.7h1.0M262.6 104.2h1.0M259.8 57.5h1.0M255.9 36.4h1.0M284.3 49.1h1.0M268.0 64.4h1.0M259.3 70.2h1.0M259.2 107.4h1.0M276.4 87.0h1.0M271.2 101.9h1.0M263.5 86.1h1.0M275.3 93.5h1.0M269.2 116.4h1.0M277.8 82.8h1.0M291.3 92.2h1.0M276.3 105.7h1.0M267.5 113.4h1.0M285.2 95.6h1.0M264.7 117.5h1.0M275.8 126.1h1.0M263.4 80.6h1.0M280.2 85.5h1.0M288.5 79.6h1.0M266.0 43.9h1.0M261.4 81.8h1.0M272.3 58.0h1.0M266.0 128.4h1.0M264.1 27.8h1.0M255.8 90.5h1.0M271.4 37.2h1.0M288.0 63.0h1.0M259.7 92.3h1.0M276.3 92.4h1.0M289.9 46.4h1.0M250.3 125.5h1.0M272.2 71.4h1.0M257.2 105.7h1.0M275.5 69.4h1.0M279.8 64.1h1.0M269.9 94.4h1.0M264.8 102.9h1.0M261.9 54.1h1.0M266.6 89.0h1.0M269.8 71.7h1.0M293.2 96.3h1.0M280.9 119.2h1.0M274.0 67.2h1.0M280.7 102.9h1.0M280.9 100.5h1.0M291.9 52.8h1.0M269.5 67.0h1.0M262.2 87.3h1.0M274.3 70.8h1.0M252.5 89.6h1.0M267.6 129.2h1.0M251.7 108.2h1.0M243.7 85.3h1.0M279.1 78.5h1.0M268.4 73.7h1.0M275.3 57.4h1.0M269.3 72.6h1.0M275.3 43.8h1.0M282.3 62.5h1.0M277.8 64.6h1.0M266.9 88.2h1.0M276.1 102.1h1.0M260.7 93.1h1.0M262.9 110.4h1.0M276.5 95.1h1.0M276.7 96.9h1.0M246.4 64.0h1.0M254.9 80.1h1.0M277.8 54.6h1.0M262.9 59.1h1.0M263.7 100.8h1.0M274.0 60.3h1.0M273.5 96.0h1.0M265.8 25.7h1.0M256.2 71.7h1.0M283.4 106.4h1.0M273.1 125.9h1.0M269.4 86.7h1.0M246.4 103.8h1.0M275.8 87.3h1.0M231.7 65.8h1.0M273.9 73.1h1.0M260.8 80.4h1.0M254.3 69.7h1.0M265.7 80.8h1.0M271.4 86.8h1.0M260.0 76.0h1.0M273.4 112.5h1.0M273.1 99.7h1.0M273.3 87.5h1.0M268.6 81.9h1.0M256.6 118.1h1.0M261.6 72.1h1.0M260.1 97.8h1.0M257.0 107.1h1.0M254.7 112.4h1.0M273.9 71.7h1.0M280.6 94.8h1.0M258.2 77.7h1.0M254.0 72.2h1.0M261.1 77.3h1.0M261.8 69.2h1.0M269.9 101.0h1.0M253.2 81.6h1.0M258.7 111.4h1.0M281.6 36.9h1.0M255.8 72.8h1.0M276.5 73.0h1.0M272.7 72.4h1.0M293.4 99.7h1.0M253.1 72.7h1.0M267.5 87.0h1.0M272.8 57.6h1.0M248.4 62.7h1.0M263.4 100.1h1.0M272.1 90.4h1.0M255.9 105.1h1.0M274.4 102.1h1.0M249.7 90.6h1.0M287.7 77.4h1.0M267.0 71.7h1.0M272.9 103.2h1.0M287.9 32.8h1.0M291.5 139.8h1.0M250.4 140.7h1.0M257.5 101.5h1.0M258.4 74.9h1.0M249.7 84.4h1.0M276.1 89.5h1.0M285.2 88.0h1.0M251.4 73.3h1.0M287.8 70.7h1.0M259.4 70.2h1.0M270.0 33.6h1.0M283.5 96.7h1.0M266.4 86.0h1.0M287.0 117.3h1.0M270.6 53.7h1.0M267.2 112.9h1.0M274.8 115.1h1.0M275.6 110.2h1.0M273.5 52.8h1.0M299.8 79.7h1.0M273.0 93.5h1.0M284.4 89.0h1.0M259.5 102.1h1.0M272.0 73.1h1.0M277.6 124.8h1.0M263.2 107.2h1.0M281.9 64.1h1.0M255.7 66.2h1.0M272.7 110.6h1.0M267.5 98.7h1.0M270.6 45.9h1.0M262.2 60.8h1.0M253.4 90.2h1.0M268.7 98.0h1.0M271.6 79.1h1.0M273.2 98.9h1.0M271.3 54.9h1.0M256.8 107.3h1.0M272.9 100.7h1.0M284.6 79.5h1.0M259.8 86.1h1.0M289.2 86.8h1.0M274.9 72.9h1.0M278.6 91.1h1.0M269.1 78.3h1.0M261.4 84.2h1.0M286.1 84.0h1.0M270.9 70.8h1.0M259.6 113.1h1.0M272.3 105.0h1.0M257.4 52.0h1.0M258.4 88.3h1.0M295.8 67.7h1.0M267.3 108.4h1.0M269.3 77.4h1.0M248.4 84.6h1.0M259.0 78.5h1.0M255.4 101.0h1.0M286.9 72.9h1.0M278.1 69.1h1.0M262.2 50.3h1.0M269.0 98.7h1.0M265.9 85.4h1.0M248.6 95.5h1.0M268.4 136.0h1.0M267.4 88.9h1.0M287.8 86.0h1.0M272.0 77.6h1.0M268.6 82.8h1.0M273.4 116.3h1.0M284.5 88.9h1.0M251.8 66.0h1.0M261.2 92.7h1.0M271.3 92.4h1.0M260.1 122.8h1.0M269.6 104.2h1.0M261.0 75.5h1.0M310.2 82.9h1.0M249.5 54.0h1.0M258.7 71.6h1.0M256.1 73.9h1.0M286.2 51.3h1.0M251.2 91.3h1.0M287.2 54.5h1.0M263.3 92.1h1.0M256.0 72.8h1.0M263.7 92.1h1.0M243.9 104.0h1.0M262.6 118.5h1.0M272.9 100.7h1.0M279.3 71.4h1.0M253.8 86.1h1.0M266.8 72.7h1.0M273.8 67.2h1.0M259.7 62.0h1.0M281.1 73.8h1.0M268.4 86.4h1.0M245.4 63.5h1.0M268.7 121.5h1.0M246.3 81.4h1.0M267.2 91.2h1.0M255.9 111.6h1.0M268.9 94.7h1.0M266.9 92.7h1.0M291.0 90.7h1.0M251.5 72.8h1.0M273.6 83.5h1.0M279.5 70.3h1.0M238.0 73.3h1.0M267.9 67.7h1.0M280.1 75.1h1.0M271.3 116.1h1.0M285.8 121.5h1.0M282.7 84.9h1.0M245.7 58.0h1.0M271.1 87.4h1.0M279.7 83.9h1.0M259.5 95.2h1.0M303.0 103.7h1.0M265.7 85.5h1.0M274.1 92.5h1.0M266.8 124.7h1.0M282.4 84.0h1.0M258.0 115.1h1.0M257.0 109.1h1.0M279.2 63.0h1.0M244.7 63.6h1.0M274.5 61.3h1.0M265.3 65.0h1.0M267.6 75.3h1.0M278.8 85.0h1.0M283.8 104.8h1.0M278.9 62.7h1.0M272.8 67.0h1.0M272.0 117.0h1.0M255.9 70.4h1.0M281.1 60.9h1.0M251.5 76.2h1.0M262.1 91.6h1.0M276.8 84.9h1.0M269.3 94.8h1.0M275.0 83.0h1.0M254.5 46.2h1.0M262.6 88.7h1.0M298.6 82.2h1.0M259.3 52.2h1.0M266.9 45.8h1.0M236.5 94.4h1.0M272.8 90.4h1.0M269.0 88.6h1.0M256.4 80.6h1.0M278.7 106.7h1.0M284.3 83.5h1.0M267.0 92.7h1.0M287.3 73.1h1.0M280.7 92.4h1.0M268.7 94.4h1.0M250.5 81.0h1.0M265.0 59.5h1.0M272.1 54.4h1.0M272.1 85.0h1.0M249.9 68.2h1.0M263.6 117.7h1.0M255.5 77.7h1.0M267.7 78.6h1.0M286.6 97.2h1.0M244.6 35.5h1.0M254.1 63.8h1.0M284.2 94.1h1.0M254.0 44.9h1.0M281.6 80.1h1.0M285.3 92.7h1.0M279.8 65.0h1.0M283.9 54.9h1.0M260.7 70.3h1.0M259.9 79.0h1.0M264.2 80.1h1.0M272.1 71.4h1.0M265.7 122.3h1.0M275.3 54.4h1.0M268.2 76.2h1.0M265.7 127.9h1.0M285.8 40.7h1.0M261.1 96.0h1.0M271.7 86.8h1.0M250.6 87.7h1.0M286.6 67.5h1.0M267.0 84.5h1.0M267.1 84.9h1.0M236.3 89.9h1.0M257.8 67.9h1.0M280.6 110.4h1.0M254.6 115.7h1.0M257.7 68.4h1.0M263.9 92.8h1.0M286.1 89.2h1.0M265.8 78.1h1.0M271.0 108.6h1.0M301.0 108.5h1.0M260.9 135.4h1.0M285.6 59.6h1.0M254.2 88.8h1.0M258.8 89.0h1.0M280.3 94.9h1.0M268.2 68.7h1.0M261.7 73.0h1.0M267.7 113.8h1.0M266.7 103.8h1.0M255.4 79.5h1.0M298.2 117.9h1.0M264.2 95.9h1.0M278.2 105.9h1.0M258.0 87.2h1.0M275.6 71.9h1.0M262.9 85.5h1.0M303.0 75.4h1.0M261.3 73.1h1.0M269.0 110.3h1.0M270.2 107.0h1.0M268.8 130.3h1.0M280.7 47.6h1.0M278.8 104.7h1.0M261.6 94.9h1.0M258.7 91.6h1.0M267.7 57.6h1.0M273.2 68.8h1.0M254.1 87.9h1.0M271.8 100.0h1.0M274.7 105.8h1.0M273.4 87.8h1.0M271.0 113.9h1.0M270.1 60.6h1.0M270.2 96.7h1.0M275.3 82.4h1.0M281.7 77.5h1.0M271.1 61.6h1.0M264.2 80.8h1.0M273.9 89.3h1.0M297.4 45.8h1.0M259.9 59.2h1.0M283.7 51.0h1.0M284.9 40.1h1.0M275.6 97.0h1.0M300.6 48.5h1.0M265.3 90.2h1.0M279.0 88.8h1.0M270.3 98.4h1.0M270.6 101.9h1.0M259.9 74.3h1.0M279.6 119.8h1.0M271.3 88.4h1.0M294.9 87.8h1.0M262.9 116.1h1.0M256.5 39.5h1.0M268.7 108.2h1.0M274.7 95.5h1.0M278.4 82.9h1.0M261.0 55.0h1.0M243.7 89.5h1.0M261.4 95.4h1.0M254.6 60.8h1.0M266.5 90.4h1.0M257.0 61.4h1.0M288.1 86.2h1.0M256.1 82.1h1.0M270.2 60.1h1.0M273.4 104.2h1.0M261.3 102.5h1.0M263.0 64.4h1.0M250.1 100.1h1.0M250.3 87.8h1.0M286.1 88.1h1.0M273.0 102.4h1.0M263.0 124.8h1.0M275.4 86.5h1.0M261.7 95.0h1.0M264.9 53.3h1.0M293.8 71.6h1.0M275.3 101.8h1.0M271.9 99.1h1.0M267.1 87.0h1.0M267.9 93.4h1.0M271.0 90.7h1.0M283.2 109.3h1.0M284.7 96.1h1.0M291.6 82.1h1.0M248.2 111.6h1.0M254.6 81.2h1.0M264.5 47.3h1.0M246.4 107.5h1.0M273.7 81.9h1.0M269.1 56.5h1.0M270.7 99.7h1.0M264.7 60.7h1.0M283.8 45.8h1.0M261.4 72.9h1.0M279.9 83.3h1.0M264.6 29.9h1.0M261.8 83.8h1.0M264.6 82.3h1.0M266.2 83.8h1.0M272.0 92.9h1.0M277.3 77.1h1.0M275.9 112.9h1.0M254.1 52.9h1.0M265.3 97.3h1.0M270.6 87.2h1.0M262.0 89.1h1.0M276.9 55.8h1.0M252.8 82.1h1.0M263.7 59.7h1.0M254.8 70.7h1.0M277.1 100.1h1.0M259.5 106.3h1.0M262.0 60.3h1.0M273.0 86.9h1.0M276.7 76.6h1.0M269.0 111.1h1.0M271.1 72.0h1.0M255.9 71.1h1.0M260.9 95.2h1.0M255.5 106.9h1.0M277.5 84.9h1.0M266.1 110.7h1.0M273.3 82.1h1.0M243.1 79.3h1.0M257.8 67.5h1.0M272.4 74.4h1.0M279.2 89.4h1.0M250.7 77.9h1.0M281.1 105.5h1.0M257.3 51.5h1.0M263.5 81.5h1.0M270.5 89.8h1.0M287.7 75.2h1.0M264.8 95.2h1.0M260.6 77.8h1.0M289.3 63.6h1.0M293.8 68.9h1.0M266.6 47.1h1.0M282.7 87.2h1.0M276.6 86.7h1.0M274.1 115.8h1.0M267.2 98.7h1.0M266.5 73.2h1.0M253.1 79.6h1.0M264.6 72.7h1.0M250.6 56.6h1.0M264.3 65.7h1.0M263.8 93.1h1.0M271.5 41.1h1.0M262.8 70.4h1.0M275.2 64.8h1.0M263.6 55.3h1.0M296.2 56.0h1.0M253.2 106.9h1.0M262.2 88.9h1.0M249.3 89.1h1.0M262.6 90.4h1.0M250.2 73.2h1.0M259.7 70.7h1.0M274.7 56.9h1.0M274.3 93.4h1.0M259.6 85.5h1.0M258.0 74.8h1.0M287.6 69.7h1.0M253.1 100.0h1.0M288.1 90.6h1.0M266.8 72.6h1.0M272.4 53.0h1.0M257.4 131.1h1.0M273.8 79.3h1.0M272.2 82.3h1.0M267.2 81.6h1.0M256.0 95.4h1.0M282.6 73.6h1.0M271.7 84.4h1.0M272.4 91.4h1.0M288.5 70.0h1.0M258.7 95.0h1.0M270.2 86.2h1.0M283.0 57.5h1.0M280.2 69.8h1.0M264.2 100.3h1.0M268.9 103.3h1.0M245.7 83.1h1.0M278.1 82.8h1.0M273.0 51.9h1.0M248.9 78.1h1.0M265.2 100.5h1.0M273.4 63.6h1.0M292.8 68.4h1.0M264.8 82.4h1.0M271.4 77.1h1.0M278.7 39.7h1.0M264.4 93.7h1.0M246.9 82.9h1.0M256.1 64.2h1.0M290.8 49.4h1.0M285.8 135.5h1.0M284.9 83.7h1.0M271.7 84.4h1.0M264.2 94.5h1.0M285.3 82.7h1.0M261.3 72.7h1.0M280.9 106.3h1.0M271.3 116.2h1.0M269.2 60.6h1.0M264.0 99.3h1.0M271.1 127.7h1.0M250.6 89.5h1.0M268.4 75.9h1.0M245.5 84.0h1.0M259.3 82.2h1.0M253.2 100.6h1.0M254.3 43.9h1.0M270.0 97.3h1.0M241.6 106.5h1.0M272.6 116.4h1.0M268.5 62.3h1.0M271.7 89.7h1.0M285.5 68.0h1.0M267.8 73.1h1.0M294.7 92.0h1.0M274.7 101.1h1.0M263.6 105.2h1.0M269.9 106.2h1.0M279.7 92.7h1.0M252.4 81.6h1.0M273.3 66.9h1.0M264.1 114.8h1.0M271.6 55.7h1.0M261.9 70.0h1.0M279.5 108.8h1.0M282.7 78.0h1.0M267.6 65.3h1.0M271.2 57.8h1.0M277.2 43.8h1.0M278.4 127.4h1.0M265.0 99.8h1.0M280.3 81.1h1.0M260.0 94.7h1.0M264.2 52.3h1.0M269.5 74.5h1.0M258.0 62.0h1.0M255.6 79.5h1.0M273.1 129.3h1.0M274.3 86.0h1.0M276.3 95.0h1.0M250.2 97.7h1.0M279.2 17.3h1.0M249.9 108.3h1.0M279.1 82.5h1.0M286.9 77.8h1.0M262.9 82.1h1.0M283.6 73.5h1.0M251.2 68.1h1.0M276.3 79.9h1.0M246.6 87.6h1.0M268.6 100.4h1.0M261.8 96.4h1.0M262.1 77.8h1.0M264.9 113.7h1.0M265.2 81.3h1.0M263.6 83.4h1.0M273.6 90.4h1.0M267.9 79.5h1.0M265.6 82.3h1.0M259.6 83.3h1.0M240.7 87.0h1.0M257.1 84.0h1.0M286.4 91.6h1.0M242.7 57.0h1.0M260.4 103.5h1.0M261.4 80.8h1.0M270.8 93.4h1.0M216.3 54.8h1.0M333.7 104.1h1.0M257.5 45.6h1.0M253.6 133.5h1.0M219.2 79.1h1.0M254.6 125.4h1.0M311.8 80.1h1.0M332.3 110.3h1.0M251.1 49.7h1.0M265.3 85.6h1.0M138.1 87.6h1.0M203.8 111.7h1.0M243.0 125.7h1.0M250.6 136.6h1.0M199.3 104.1h1.0M171.6 143.0h1.0M282.7 78.3h1.0M186.7 81.9h1.0M161.0 66.3h1.0M309.8 141.9h1.0M254.9 77.4h1.0M323.2 113.1h1.0M273.0 48.3h1.0M267.7 126.7h1.0M281.7 101.1h1.0M130.5 89.0h1.0M215.4 142.0h1.0M248.6 74.8h1.0M195.5 116.4h1.0M154.1 63.9h1.0M278.7 134.2h1.0M257.1 88.4h1.0M202.5 135.0h1.0M171.7 114.3h1.0M254.6 45.5h1.0M148.4 122.5h1.0M290.5 52.0h1.0M300.4 134.6h1.0M190.4 59.4h1.0M140.7 61.4h1.0M292.9 126.1h1.0M339.2 115.5h1.0M158.8 68.0h1.0M274.2 112.9h1.0M226.9 99.6h1.0M322.7 63.2h1.0M326.5 127.4h1.0M174.5 87.8h1.0M273.0 54.3h1.0M263.3 89.9h1.0M231.8 136.6h1.0M139.9 138.3h1.0M166.6 111.0h1.0M243.9 94.8h1.0M231.1 51.3h1.0M265.9 125.4h1.0M213.2 78.8h1.0M221.5 126.5h1.0M279.2 125.5h1.0M134.5 105.8h1.0M173.5 76.4h1.0M296.0 88.3h1.0M338.9 111.0h1.0M312.0 71.0h1.0M334.1 58.0h1.0M320.4 104.9h1.0M127.5 94.8h1.0M135.3 113.1h1.0M146.8 133.8h1.0M128.9 124.7h1.0M178.3 125.0h1.0M234.1 116.2h1.0M132.7 117.8h1.0M233.5 51.8h1.0M152.6 139.6h1.0M276.5 43.4h1.0M168.9 76.1h1.0M227.2 100.8h1.0M279.4 139.9h1.0M194.4 52.5h1.0M252.9 89.8h1.0M137.1 92.9h1.0M187.6 139.9h1.0M316.1 73.5h1.0M265.6 99.9h1.0M330.8 89.2h1.0M284.3 137.5h1.0M137.7 141.4h1.0M263.1 55.5h1.0M196.6 76.6h1.0M327.7 52.5h1.0M223.2 141.6h1.0M288.8 141.7h1.0M211.7 84.6h1.0M261.7 132.8h1.0M265.3 71.4h1.0M274.7 100.3h1.0M251.6 89.4h1.0M208.2 121.0h1.0M266.8 59.8h1.0M176.9 129.8h1.0M269.4 51.4h1.0M334.0 53.0h1.0M332.0 105.2h1.0M233.0 68.4h1.0M300.0 138.3h1.0M268.2 101.6h1.0M147.9 122.9h1.0M212.9 112.8h1.0M301.1 96.4h1.0M257.7 123.4h1.0M282.5 62.4h1.0M173.4 82.1h1.0M265.7 44.6h1.0M257.8 76.9h1.0M290.5 91.4h1.0M282.4 115.8h1.0M139.5 127.4h1.0M203.6 134.0h1.0M297.9 110.5h1.0M168.4 103.8h1.0M157.5 58.6h1.0M139.8 67.5h1.0M306.8 137.5h1.0M166.5 117.2h1.0M285.9 90.3h1.0M239.5 124.1h1.0M287.1 139.3h1.0M329.0 43.3h1.0M318.6 137.7h1.0M281.5 135.7h1.0M191.9 56.4h1.0M228.0 44.0h1.0M156.6 52.1h1.0M131.0 126.6h1.0M176.3 66.3h1.0M259.3 112.6h1.0M227.0 66.8h1.0M169.8 88.8h1.0M206.0 50.8h1.0M197.7 70.7h1.0M131.9 77.0h1.0M335.6 61.4h1.0M262.1 102.3h1.0M322.8 119.5h1.0M299.8 94.6h1.0M288.8 134.0h1.0M229.5 45.7h1.0M206.2 87.1h1.0M159.4 132.5h1.0M274.4 105.4h1.0M249.0 77.7h1.0M216.0 118.2h1.0M185.7 104.9h1.0M135.5 85.5h1.0M163.8 126.3h1.0M339.4 52.8h1.0M299.0 118.6h1.0M236.7 130.1h1.0M187.6 132.5h1.0M232.8 57.4h1.0M292.6 137.4h1.0M316.9 140.5h1.0M208.7 64.7h1.0M209.6 88.1h1.0M291.8 100.9h1.0M300.0 45.6h1.0M127.5 128.4h1.0M151.2 65.1h1.0M323.5 106.4h1.0M137.1 52.9h1.0M206.6 139.8h1.0M324.8 133.2h1.0M293.2 132.9h1.0M332.5 124.2h1.0M276.4 69.0h1.0M262.1 138.6h1.0M276.1 123.5h1.0M230.7 65.2h1.0M216.7 107.9h1.0M315.7 61.3h1.0M316.9 62.4h1.0M260.9 76.0h1.0M161.3 114.8h1.0M176.1 118.8h1.0M243.3 88.0h1.0M223.9 46.5h1.0M251.9 66.2h1.0M255.2 82.4h1.0M324.4 57.3h1.0M292.3 118.5h1.0M200.2 85.7h1.0M216.5 76.8h1.0M271.1 74.8h1.0M131.1 102.0h1.0M162.9 143.0h1.0M174.9 44.0h1.0M129.3 124.6h1.0M177.7 124.5h1.0M156.4 110.7h1.0M184.6 69.9h1.0M136.4 118.6h1.0M252.9 121.6h1.0M321.2 54.0h1.0M320.1 103.2h1.0M202.8 61.4h1.0M178.7 64.7h1.0M337.3 51.6h1.0M300.4 71.1h1.0M180.8 123.8h1.0M152.2 97.1h1.0M187.0 99.0h1.0M158.6 98.6h1.0M198.7 138.4h1.0M174.0 138.2h1.0M301.5 115.9h1.0M281.3 99.5h1.0M275.7 73.7h1.0M300.3 103.5h1.0M332.0 100.4h1.0M157.4 76.6h1.0M143.0 86.5h1.0M269.6 107.2h1.0M183.3 54.9h1.0M308.2 125.9h1.0M187.1 116.5h1.0M232.1 49.4h1.0M340.1 58.9h1.0M190.3 105.8h1.0M241.8 91.5h1.0M176.5 57.1h1.0M255.9 121.8h1.0M210.1 43.3h1.0M339.7 134.5h1.0M316.4 103.9h1.0M332.9 42.9h1.0M200.8 132.2h1.0M222.3 89.8h1.0M306.2 52.8h1.0M253.5 53.5h1.0M224.3 82.9h1.0M310.5 79.3h1.0M155.4 96.6h1.0M294.8 135.2h1.0M337.6 126.5h1.0M264.0 99.2h1.0M210.2 73.4h1.0M128.1 111.6h1.0M221.3 50.5h1.0M149.3 71.8h1.0M162.0 49.4h1.0M146.7 97.8h1.0M276.8 86.1h1.0M247.2 93.2h1.0M335.0 99.2h1.0M173.7 69.9h1.0M193.4 125.2h1.0M164.8 87.9h1.0M202.5 134.2h1.0M282.3 74.3h1.0M328.2 76.1h1.0M144.3 108.5h1.0M335.2 93.5h1.0M277.5 117.0h1.0M175.6 105.3h1.0M175.2 119.0h1.0M225.8 123.1h1.0M337.7 112.3h1.0M183.4 52.4h1.0M154.3 87.6h1.0M158.1 65.3h1.0M177.8 91.6h1.0M180.5 129.7h1.0M281.9 133.5h1.0M337.2 92.8h1.0M302.0 94.4h1.0M138.7 96.9h1.0M332.1 139.0h1.0M160.8 73.9h1.0M259.9 54.3h1.0M215.7 91.3h1.0M161.8 103.6h1.0M167.3 46.9h1.0M253.5 138.4h1.0M182.9 125.5h1.0M210.7 134.4h1.0M289.8 61.7h1.0M327.0 58.7h1.0M251.0 109.4h1.0M306.7 65.8h1.0M135.7 133.6h1.0M325.4 111.7h1.0M250.0 101.1h1.0M247.9 68.6h1.0M264.6 84.8h1.0M243.5 121.4h1.0M128.2 62.4h1.0M263.9 94.5h1.0M169.3 139.8h1.0M163.5 141.1h1.0M166.4 131.1h1.0M169.7 128.4h1.0M160.2 125.3h1.0M170.8 133.7h1.0M167.0 132.7h1.0M167.9 142.6h1.0M176.8 136.7h1.0M175.0 130.1h1.0M156.1 130.6h1.0M162.5 141.1h1.0M176.0 134.3h1.0M170.0 130.5h1.0M173.0 134.5h1.0M171.4 141.2h1.0M172.2 136.2h1.0M173.9 125.5h1.0M181.8 135.4h1.0M160.4 136.7h1.0M156.6 140.2h1.0M164.1 141.2h1.0M165.4 128.0h1.0M150.0 134.7h1.0M170.2 138.4h1.0M157.0 132.0h1.0M161.2 143.0h1.0M164.9 138.7h1.0M165.8 134.1h1.0M164.1 125.9h1.0M163.6 140.5h1.0M164.5 135.8h1.0M152.6 133.0h1.0M182.8 141.6h1.0M169.0 130.9h1.0M178.8 141.2h1.0M167.6 136.3h1.0M169.8 139.8h1.0M166.1 121.1h1.0M156.5 131.7h1.0M181.5 135.6h1.0M173.2 126.6h1.0M177.4 126.2h1.0M152.8 139.1h1.0M165.2 133.4h1.0M163.4 136.6h1.0M170.5 140.6h1.0M159.2 128.1h1.0M169.8 132.3h1.0M164.0 135.6h1.0M148.0 134.0h1.0M160.4 133.7h1.0M164.4 140.0h1.0M175.8 124.6h1.0M189.5 130.8h1.0M146.2 127.9h1.0M170.2 134.5h1.0M181.0 130.5h1.0M156.6 139.7h1.0M169.3 139.1h1.0M157.1 134.4h1.0M167.2 141.1h1.0M160.8 128.1h1.0M159.6 127.1h1.0M150.1 141.8h1.0M166.9 135.3h1.0M175.3 135.9h1.0M149.6 131.9h1.0M157.0 133.2h1.0M167.8 142.1h1.0M151.0 137.8h1.0M149.8 124.0h1.0M165.2 131.2h1.0M186.6 135.5h1.0M160.7 142.8h1.0M163.9 120.2h1.0M165.3 137.3h1.0M164.3 132.3h1.0M154.2 130.2h1.0M165.0 135.1h1.0M178.7 132.5h1.0M163.2 134.0h1.0M167.0 130.5h1.0M159.0 134.9h1.0M180.3 124.1h1.0M156.3 140.8h1.0M168.7 130.2h1.0M153.6 138.2h1.0M179.9 137.5h1.0M171.0 138.9h1.0M163.5 138.1h1.0M169.0 128.8h1.0M161.5 132.8h1.0M175.1 140.0h1.0M166.9 134.3h1.0M165.8 135.8h1.0M161.6 139.0h1.0M189.2 137.7h1.0M170.6 132.3h1.0M166.7 131.0h1.0M164.0 131.3h1.0M159.6 129.9h1.0M177.7 134.0h1.0M168.1 131.2h1.0M168.2 129.2h1.0M176.0 122.1h1.0M172.6 133.0h1.0M167.1 135.9h1.0M172.5 139.9h1.0M180.4 140.8h1.0M179.3 131.2h1.0M175.1 136.2h1.0M152.3 142.5h1.0M157.6 128.6h1.0M172.0 133.6h1.0M157.2 131.9h1.0M171.7 133.5h1.0M162.4 131.9h1.0M165.9 137.0h1.0M169.8 127.5h1.0M166.4 136.8h1.0M179.4 139.8h1.0M156.8 129.0h1.0M173.7 120.8h1.0M160.2 136.7h1.0M166.8 135.0h1.0M167.9 132.8h1.0M189.1 127.0h1.0M178.8 130.8h1.0M169.7 131.5h1.0M158.5 131.7h1.0M175.4 140.4h1.0M169.3 134.1h1.0M157.6 128.6h1.0M160.3 125.0h1.0M175.0 121.6h1.0M157.4 135.1h1.0M169.7 132.3h1.0M167.6 130.6h1.0M165.9 126.4h1.0M165.4 135.9h1.0M176.6 132.1h1.0M156.5 133.8h1.0M169.2 139.9h1.0M172.6 134.8h1.0M163.5 137.5h1.0M152.6 128.6h1.0M178.3 138.2h1.0M177.0 135.0h1.0M155.1 139.1h1.0M149.6 139.1h1.0M180.6 134.6h1.0M160.5 141.7h1.0M170.9 133.8h1.0M171.4 134.3h1.0M165.6 127.8h1.0M150.5 133.3h1.0M160.1 135.9h1.0M167.8 131.4h1.0M169.8 138.5h1.0M157.6 131.6h1.0M175.9 142.4h1.0M164.1 134.2h1.0M160.5 135.4h1.0M157.8 132.8h1.0M163.7 132.6h1.0M153.5 138.6h1.0M163.7 129.8h1.0M157.6 121.9h1.0M176.4 130.2h1.0M161.6 136.2h1.0M158.5 134.0h1.0M159.0 141.1h1.0M173.2 133.3h1.0M166.1 136.0h1.0M172.5 130.0h1.0M159.9 142.8h1.0M171.6 126.6h1.0M150.7 137.5h1.0M188.8 138.2h1.0M156.1 137.4h1.0M162.6 136.9h1.0M165.2 133.6h1.0M162.1 136.3h1.0M145.4 131.5h1.0M166.4 132.7h1.0M170.0 131.0h1.0M150.0 139.2h1.0M157.0 127.5h1.0M170.4 140.9h1.0M159.3 137.3h1.0M155.8 135.8h1.0M152.6 134.5h1.0M170.9 142.6h1.0M159.0 136.4h1.0M153.2 136.3h1.0M175.3 137.3h1.0M175.9 137.3h1.0M161.0 126.8h1.0M153.6 131.1h1.0M159.2 128.9h1.0M165.0 128.3h1.0M160.1 139.8h1.0M182.0 137.2h1.0M169.9 129.7h1.0M160.2 130.9h1.0M163.3 129.6h1.0M181.7 132.2h1.0M173.2 130.9h1.0M158.0 131.8h1.0M178.0 139.2h1.0M178.1 124.5h1.0M156.4 131.0h1.0M167.0 132.8h1.0M170.0 136.0h1.0M165.4 142.1h1.0M148.0 138.5h1.0M162.1 134.5h1.0M166.2 136.3h1.0M169.8 142.0h1.0M165.9 135.5h1.0M158.5 133.1h1.0M164.5 135.8h1.0M163.8 142.2h1.0M165.8 128.5h1.0M163.1 136.9h1.0M170.9 140.9h1.0M154.0 133.7h1.0M179.7 135.6h1.0M170.4 142.5h1.0M181.4 127.6h1.0M178.7 123.7h1.0M176.1 133.5h1.0M167.6 142.6h1.0M164.0 133.0h1.0M176.6 125.7h1.0M154.0 137.4h1.0M161.3 135.1h1.0M173.8 128.9h1.0M166.3 133.8h1.0M146.2 137.1h1.0M163.8 143.0h1.0M170.1 132.4h1.0M168.7 131.0h1.0M167.0 129.5h1.0M187.6 133.2h1.0M162.4 119.6h1.0M160.8 142.3h1.0M163.3 139.4h1.0M178.6 131.2h1.0M188.6 137.9h1.0M169.9 139.3h1.0M167.5 136.7h1.0M171.9 133.5h1.0M174.0 139.3h1.0M168.2 134.4h1.0M160.9 123.9h1.0M165.4 134.4h1.0M160.4 137.9h1.0M166.7 134.5h1.0M178.0 124.2h1.0M168.0 132.4h1.0M172.7 139.2h1.0M176.5 136.0h1.0M158.1 125.4h1.0M161.9 131.1h1.0M163.1 140.8h1.0M151.8 133.0h1.0M176.7 133.7h1.0M161.0 136.8h1.0M164.0 119.7h1.0M158.1 137.6h1.0M181.4 141.4h1.0M154.2 133.8h1.0M167.9 141.9h1.0M164.0 135.3h1.0M177.3 140.9h1.0M156.1 140.6h1.0M165.5 133.2h1.0M153.1 115.4h1.0M158.8 130.0h1.0M164.6 139.4h1.0M167.0 129.1h1.0M177.8 135.9h1.0M163.3 129.5h1.0M182.7 138.8h1.0M159.7 134.0h1.0M184.2 131.2h1.0M172.6 138.4h1.0M177.0 137.9h1.0M179.4 139.7h1.0M176.1 134.9h1.0M178.2 142.8h1.0M157.8 128.2h1.0M165.0 127.6h1.0M169.8 138.0h1.0M149.1 141.0h1.0M153.5 135.2h1.0M161.4 142.5h1.0M167.1 136.0h1.0M176.4 135.3h1.0M153.6 139.1h1.0M182.2 138.0h1.0M153.5 128.4h1.0M170.7 137.1h1.0M163.4 123.6h1.0M170.2 132.4h1.0M182.1 140.5h1.0M158.8 133.8h1.0M176.0 120.0h1.0M169.1 134.6h1.0M163.1 131.2h1.0M171.7 126.4h1.0M158.5 139.3h1.0M179.7 133.8h1.0M162.1 139.6h1.0M163.1 138.2h1.0M180.2 136.1h1.0M181.3 141.2h1.0M163.0 136.9h1.0M165.9 131.0h1.0M152.0 133.0h1.0M164.8 142.9h1.0M160.7 135.8h1.0M175.3 127.5h1.0M162.7 133.0h1.0M160.6 137.0h1.0M177.1 136.5h1.0M169.6 137.3h1.0M156.6 142.1h1.0M162.3 133.5h1.0M182.8 139.6h1.0M169.7 136.9h1.0M169.9 139.2h1.0M167.9 131.8h1.0M157.9 141.8h1.0M167.4 131.6h1.0M167.5 137.0h1.0M173.8 141.0h1.0M169.2 129.8h1.0M171.0 139.7h1.0M158.4 141.2h1.0M151.8 134.6h1.0M172.0 134.4h1.0M157.0 133.2h1.0M170.7 132.2h1.0M146.7 132.7h1.0M167.6 130.0h1.0M168.4 130.9h1.0M171.0 130.8h1.0M175.4 134.1h1.0M156.0 131.4h1.0M176.3 140.9h1.0M162.4 134.9h1.0M160.2 138.8h1.0M163.0 132.1h1.0M172.9 132.3h1.0M169.1 139.2h1.0M174.6 139.5h1.0M175.2 135.0h1.0M155.5 135.4h1.0M183.6 127.0h1.0M158.0 124.9h1.0M151.9 127.9h1.0M149.3 139.3h1.0M162.9 140.3h1.0M168.1 129.5h1.0M160.1 133.5h1.0M172.3 138.4h1.0M165.6 131.9h1.0M163.6 139.7h1.0M175.7 139.5h1.0M170.6 117.9h1.0M160.9 141.7h1.0M172.1 133.1h1.0M168.1 142.6h1.0M171.9 132.6h1.0M181.8 134.6h1.0M159.3 136.8h1.0M158.3 136.5h1.0M163.5 141.0h1.0M173.6 126.4h1.0M170.1 139.7h1.0M189.5 133.5h1.0M159.9 138.0h1.0M165.7 129.3h1.0M164.5 136.9h1.0M161.3 137.2h1.0M166.3 124.1h1.0M159.4 136.5h1.0M166.4 130.4h1.0M166.8 130.0h1.0M174.5 121.9h1.0M172.0 141.8h1.0M177.7 134.0h1.0M190.4 136.2h1.0M160.2 137.6h1.0M159.4 128.5h1.0M168.4 127.6h1.0M169.1 131.1h1.0M172.0 138.7h1.0M176.0 130.6h1.0M160.6 134.7h1.0M166.0 131.6h1.0M170.6 131.8h1.0M172.6 127.8h1.0M149.5 137.0h1.0M171.0 142.1h1.0M164.1 132.5h1.0M159.1 129.1h1.0M157.3 127.6h1.0M179.9 134.7h1.0M161.7 141.6h1.0M158.3 133.8h1.0M168.6 132.4h1.0M171.0 137.5h1.0M163.1 138.9h1.0M176.2 129.8h1.0M177.2 142.1h1.0M146.1 128.5h1.0M168.9 122.4h1.0M180.7 130.8h1.0M165.4 141.1h1.0M163.7 128.1h1.0M163.2 137.8h1.0M155.4 136.8h1.0M159.3 133.1h1.0M154.7 136.5h1.0M174.9 136.3h1.0M188.7 135.1h1.0M153.8 127.9h1.0M155.8 137.3h1.0M169.7 139.5h1.0M168.1 134.7h1.0M155.7 137.0h1.0M167.9 136.0h1.0M165.6 135.1h1.0M164.9 134.7h1.0M186.3 138.1h1.0M171.1 135.7h1.0M155.8 133.6h1.0M166.0 126.2h1.0M155.3 140.9h1.0M154.4 133.0h1.0M160.2 134.1h1.0M158.4 139.2h1.0M165.3 134.9h1.0M158.8 128.1h1.0M166.1 126.5h1.0M173.2 133.8h1.0M187.8 132.9h1.0M182.8 132.5h1.0M168.6 128.4h1.0M170.5 137.1h1.0M169.7 137.2h1.0M168.6 128.2h1.0M168.9 131.8h1.0M176.8 141.4h1.0M165.5 133.6h1.0M154.8 127.9h1.0M168.8 132.2h1.0M161.7 133.1h1.0M181.6 127.6h1.0M176.4 130.8h1.0M167.5 135.2h1.0M174.7 142.1h1.0M157.8 137.9h1.0M171.1 131.8h1.0M167.7 133.2h1.0M173.0 129.2h1.0M176.8 139.3h1.0M167.3 134.6h1.0M154.2 140.5h1.0M171.4 130.5h1.0M160.3 134.2h1.0M166.7 135.8h1.0M166.2 134.8h1.0M188.9 134.5h1.0M171.2 126.1h1.0M168.6 135.9h1.0M169.3 124.8h1.0M159.0 137.6h1.0M158.1 139.4h1.0M161.6 140.9h1.0M160.1 141.8h1.0M177.3 138.7h1.0M153.4 140.2h1.0M172.7 137.9h1.0M170.2 142.2h1.0M163.8 135.9h1.0M180.6 134.5h1.0M166.7 133.1h1.0M168.7 138.5h1.0M158.8 135.3h1.0M172.8 138.6h1.0M145.2 136.3h1.0M183.1 135.1h1.0M162.2 130.7h1.0M169.2 122.2h1.0M161.3 140.4h1.0M173.9 131.4h1.0M164.9 138.9h1.0M153.5 133.4h1.0M147.8 135.7h1.0M172.7 128.0h1.0M159.7 129.6h1.0M155.5 123.4h1.0M168.5 134.1h1.0M170.0 142.6h1.0M171.5 133.8h1.0M174.3 134.4h1.0M150.7 135.1h1.0M163.6 139.4h1.0M164.2 130.4h1.0M169.2 128.7h1.0M171.3 124.1h1.0M170.2 136.6h1.0M169.9 124.4h1.0M174.6 134.1h1.0M170.1 143.0h1.0M162.7 135.5h1.0M156.3 131.8h1.0M168.6 129.0h1.0M159.2 130.2h1.0M160.5 138.1h1.0M167.7 124.8h1.0M177.1 137.3h1.0M148.1 129.6h1.0M165.5 142.0h1.0M157.5 138.1h1.0M165.9 136.8h1.0M166.9 138.1h1.0M176.9 129.2h1.0M170.1 134.1h1.0M173.0 130.1h1.0M157.6 136.8h1.0M162.8 134.6h1.0M162.8 132.0h1.0M165.5 133.0h1.0M166.3 136.0h1.0M180.4 126.2h1.0M161.4 127.6h1.0M161.6 135.8h1.0M159.5 136.4h1.0M150.7 138.9h1.0M164.0 127.8h1.0M179.2 138.7h1.0M155.4 131.8h1.0M163.4 123.8h1.0M169.7 139.3h1.0M160.9 137.2h1.0M170.8 122.8h1.0M175.5 139.0h1.0M175.5 137.6h1.0M180.5 135.3h1.0M163.1 136.2h1.0M161.2 125.4h1.0M169.5 134.2h1.0M167.7 136.9h1.0M156.0 130.6h1.0M174.1 133.0h1.0M155.0 140.2h1.0M147.5 133.2h1.0M172.7 141.2h1.0M175.0 125.5h1.0M186.5 137.6h1.0M171.0 138.7h1.0M171.5 141.4h1.0M156.5 136.9h1.0M172.5 119.6h1.0M167.9 136.1h1.0M163.7 138.4h1.0M178.0 128.0h1.0M172.0 130.6h1.0M156.6 137.9h1.0M167.3 136.0h1.0M184.8 141.7h1.0M170.8 136.6h1.0M169.1 132.5h1.0M192.1 123.0h1.0M173.2 134.1h1.0M154.0 142.8h1.0M182.7 131.6h1.0M144.0 140.3h1.0M174.0 142.1h1.0M166.9 137.9h1.0M162.8 132.4h1.0M167.6 131.4h1.0M167.7 132.4h1.0M150.1 137.6h1.0M154.2 129.4h1.0M167.3 136.3h1.0M170.6 131.0h1.0M171.8 134.8h1.0M182.9 130.0h1.0M157.0 130.2h1.0M153.3 129.0h1.0M165.5 137.3h1.0M161.9 136.4h1.0M159.0 135.1h1.0M183.6 140.3h1.0M172.1 136.9h1.0M158.7 141.2h1.0M167.0 136.7h1.0M161.7 127.6h1.0M157.2 133.7h1.0M157.8 138.0h1.0M184.8 133.8h1.0M168.2 141.5h1.0M164.7 138.2h1.0M160.7 140.1h1.0M178.1 130.2h1.0M177.4 124.8h1.0M180.2 136.9h1.0M147.1 134.7h1.0M177.7 133.1h1.0M154.1 133.6h1.0M162.1 141.7h1.0M169.2 131.1h1.0M164.2 132.0h1.0M164.7 139.4h1.0M163.7 136.8h1.0M161.6 142.5h1.0M170.1 130.3h1.0M180.8 137.8h1.0M168.7 130.2h1.0M154.1 140.8h1.0M177.2 129.2h1.0M180.1 137.4h1.0M160.3 125.9h1.0M171.6 138.4h1.0M166.4 132.9h1.0M180.6 126.8h1.0M165.4 133.1h1.0M164.4 142.1h1.0M157.5 129.1h1.0M160.0 118.3h1.0M166.8 142.4h1.0M154.3 126.3h1.0M162.2 121.6h1.0M279.1 133.0h1.0M256.9 131.1h1.0M283.8 137.5h1.0M248.5 133.0h1.0M262.8 141.0h1.0M274.8 137.4h1.0M270.1 122.3h1.0M262.3 141.4h1.0M268.4 135.9h1.0M266.5 135.0h1.0M251.7 120.2h1.0M231.1 136.4h1.0M257.4 132.5h1.0M254.3 129.4h1.0M265.9 129.6h1.0M217.9 136.7h1.0M256.6 133.6h1.0M251.1 139.0h1.0M262.0 132.4h1.0M261.6 131.1h1.0M257.8 139.5h1.0M254.5 120.4h1.0M257.0 130.6h1.0M253.3 128.1h1.0M240.5 135.0h1.0M263.7 135.8h1.0M256.7 131.6h1.0M276.6 140.6h1.0M259.1 130.8h1.0M249.4 136.1h1.0M269.0 129.8h1.0M261.5 132.4h1.0M266.4 132.1h1.0M283.5 133.3h1.0M244.6 128.4h1.0M287.6 129.2h1.0M271.6 132.1h1.0M255.5 123.5h1.0M250.6 140.0h1.0M231.8 132.5h1.0M261.7 134.0h1.0M283.6 125.8h1.0M271.5 137.6h1.0M263.9 133.1h1.0M262.9 127.8h1.0M259.4 136.8h1.0M261.3 138.3h1.0M280.5 132.1h1.0M254.9 137.6h1.0M283.8 138.3h1.0M241.3 137.7h1.0M276.1 139.1h1.0M246.5 138.5h1.0M275.0 123.2h1.0M271.5 137.1h1.0M263.6 126.1h1.0M253.7 139.0h1.0M246.6 133.9h1.0M232.8 130.8h1.0M275.9 142.4h1.0M240.3 128.6h1.0M243.1 124.9h1.0M264.2 136.1h1.0M241.1 130.5h1.0M274.3 131.2h1.0M247.1 138.1h1.0M266.5 127.7h1.0M247.7 133.6h1.0M252.1 126.7h1.0M259.3 126.5h1.0M277.4 129.0h1.0M258.5 141.8h1.0M273.0 122.6h1.0M293.9 135.6h1.0M268.7 123.8h1.0M256.1 136.7h1.0M257.7 130.3h1.0M262.5 142.1h1.0M266.7 141.7h1.0M256.6 135.5h1.0M267.5 128.7h1.0M246.6 127.7h1.0M262.0 128.6h1.0M264.4 141.2h1.0M247.4 125.3h1.0M272.4 131.9h1.0M236.4 139.9h1.0M249.9 132.7h1.0M260.7 139.8h1.0M262.0 132.2h1.0M271.6 140.6h1.0M267.5 130.6h1.0M270.1 126.6h1.0M268.4 131.5h1.0M224.4 136.9h1.0M271.9 135.3h1.0M262.7 138.6h1.0M268.9 134.3h1.0M256.3 128.6h1.0M283.7 141.1h1.0M280.2 117.7h1.0M257.1 132.7h1.0M280.9 138.9h1.0M264.6 136.8h1.0M255.7 133.3h1.0M259.3 135.1h1.0M273.4 141.8h1.0M249.1 136.0h1.0M265.1 136.0h1.0M237.7 128.2h1.0M248.1 142.2h1.0M268.0 127.5h1.0M269.9 137.2h1.0M250.7 139.9h1.0M253.6 135.7h1.0M286.7 128.7h1.0M285.5 124.7h1.0M279.0 139.7h1.0M275.6 142.4h1.0M263.1 139.2h1.0M263.9 130.0h1.0M245.2 135.6h1.0M295.8 135.3h1.0M275.3 113.1h1.0M266.0 135.1h1.0M258.7 142.7h1.0M242.9 134.2h1.0M227.6 137.7h1.0M257.9 135.6h1.0M270.9 126.3h1.0M262.1 133.6h1.0M240.4 129.2h1.0M241.7 137.5h1.0M259.5 136.7h1.0M260.3 119.1h1.0M271.6 137.9h1.0M268.3 133.2h1.0M246.0 131.8h1.0M242.2 138.5h1.0M246.5 136.1h1.0M265.3 123.5h1.0M243.8 128.8h1.0M263.3 140.6h1.0M247.9 130.1h1.0M261.0 130.8h1.0M261.5 135.2h1.0M250.0 132.0h1.0M270.3 132.1h1.0M262.5 133.3h1.0M274.8 125.6h1.0M235.7 136.1h1.0M265.5 124.0h1.0M263.1 123.4h1.0M247.4 133.6h1.0M271.8 122.1h1.0M253.5 127.6h1.0M244.4 125.7h1.0M260.5 133.9h1.0M271.9 133.4h1.0M256.2 139.6h1.0M255.0 136.7h1.0M259.9 128.9h1.0M272.3 133.6h1.0M255.1 138.5h1.0M256.3 136.2h1.0M274.0 141.3h1.0M260.4 134.4h1.0M250.6 130.9h1.0M244.6 141.6h1.0M235.0 141.5h1.0M288.4 140.4h1.0M274.8 137.9h1.0M254.8 142.2h1.0M260.6 135.7h1.0M270.9 129.4h1.0M255.4 130.6h1.0M267.4 133.0h1.0M262.8 129.4h1.0M273.3 133.6h1.0M257.3 135.1h1.0M235.4 124.5h1.0M258.3 136.3h1.0M265.0 133.6h1.0M249.3 141.9h1.0M262.5 138.6h1.0M267.2 139.7h1.0M233.0 133.8h1.0M267.1 139.8h1.0M276.0 129.2h1.0M288.6 142.1h1.0M289.4 129.7h1.0M240.7 137.6h1.0M247.7 139.0h1.0M267.4 136.2h1.0M267.6 138.5h1.0M261.4 121.9h1.0M242.1 133.3h1.0M274.8 134.3h1.0M255.4 130.0h1.0M262.2 127.2h1.0M263.3 137.6h1.0M254.8 141.7h1.0M283.2 121.8h1.0M265.5 129.7h1.0M266.5 136.4h1.0M243.1 128.1h1.0M248.6 141.9h1.0M282.4 139.8h1.0M249.7 142.3h1.0M256.7 129.5h1.0M267.6 135.0h1.0M257.6 129.7h1.0M261.4 138.1h1.0M279.5 131.2h1.0M261.7 131.8h1.0M244.9 141.1h1.0M259.2 123.9h1.0M288.4 131.6h1.0M279.3 127.0h1.0M277.1 137.4h1.0M270.7 135.0h1.0M264.2 133.8h1.0M264.8 136.2h1.0M260.8 135.6h1.0M265.1 132.7h1.0M260.3 133.0h1.0M267.0 135.9h1.0M289.9 135.4h1.0M252.2 134.7h1.0M262.0 126.6h1.0M243.9 141.3h1.0M266.3 134.3h1.0M261.6 133.8h1.0M266.2 128.8h1.0M266.4 130.7h1.0M270.8 133.5h1.0M261.8 137.0h1.0M243.5 132.9h1.0M265.5 136.8h1.0M262.5 130.4h1.0M280.9 136.2h1.0M270.6 137.6h1.0M269.3 134.4h1.0M242.8 128.2h1.0M219.2 134.6h1.0M280.8 138.4h1.0M264.6 139.3h1.0M257.0 135.3h1.0M215.0 131.1h1.0M262.7 133.1h1.0M250.8 124.2h1.0M228.8 122.6h1.0M268.1 120.1h1.0M256.3 127.4h1.0M267.9 135.2h1.0M273.6 138.1h1.0M279.1 135.9h1.0M285.7 140.3h1.0M264.1 120.3h1.0M255.6 125.2h1.0M260.4 127.9h1.0M256.7 140.2h1.0M259.7 140.9h1.0M250.3 122.1h1.0M273.5 139.8h1.0M247.4 137.8h1.0M236.3 130.2h1.0M255.2 140.5h1.0M268.2 139.6h1.0M243.4 131.4h1.0M243.6 122.7h1.0M261.3 131.3h1.0M278.7 126.9h1.0M259.1 131.7h1.0M259.4 141.3h1.0M266.7 133.2h1.0M249.2 128.5h1.0M234.5 132.2h1.0M276.9 126.8h1.0M248.7 133.8h1.0M274.0 131.1h1.0M260.8 134.0h1.0M256.1 129.5h1.0M263.4 139.5h1.0M252.9 122.4h1.0M267.3 126.2h1.0M268.9 128.1h1.0M253.2 140.2h1.0M272.8 140.9h1.0M268.4 130.6h1.0M246.5 127.5h1.0M275.3 128.7h1.0M269.9 127.8h1.0M278.9 136.5h1.0M256.3 132.3h1.0M264.7 140.7h1.0M235.4 137.5h1.0M268.2 137.7h1.0M254.6 127.1h1.0M253.2 131.7h1.0M261.0 131.3h1.0M251.6 141.3h1.0M253.7 131.1h1.0M266.6 139.9h1.0M269.5 124.3h1.0M256.8 135.1h1.0M246.9 132.3h1.0M265.0 134.7h1.0M272.5 136.1h1.0M276.3 132.3h1.0M244.2 132.7h1.0M268.8 138.1h1.0M268.8 134.9h1.0M253.5 127.4h1.0M262.8 126.4h1.0M279.0 139.4h1.0M263.4 132.6h1.0M279.8 128.4h1.0M257.3 132.6h1.0M261.9 131.4h1.0M254.8 141.2h1.0M279.4 134.0h1.0M286.6 139.0h1.0M258.9 140.9h1.0M266.6 130.8h1.0M259.0 131.6h1.0M280.4 122.0h1.0M247.5 129.1h1.0M269.4 137.7h1.0M272.8 130.0h1.0M261.9 125.9h1.0M258.3 134.1h1.0M266.7 130.0h1.0M267.1 130.2h1.0M254.3 136.9h1.0M266.1 134.0h1.0M248.9 136.1h1.0M251.7 122.8h1.0M254.2 129.3h1.0M254.5 130.9h1.0M250.0 137.3h1.0M271.5 125.6h1.0M264.5 128.0h1.0M247.8 135.6h1.0M258.4 125.6h1.0M252.7 126.4h1.0M273.0 140.7h1.0M274.2 136.4h1.0M267.2 132.4h1.0M244.9 139.2h1.0M255.6 133.3h1.0M246.1 133.2h1.0M257.3 140.2h1.0M265.1 132.0h1.0M242.1 121.5h1.0M257.1 141.7h1.0M269.6 137.4h1.0M261.0 136.0h1.0M260.2 129.0h1.0M260.5 133.9h1.0M264.4 128.0h1.0M272.5 133.0h1.0M257.6 130.9h1.0M260.2 133.3h1.0M260.4 139.7h1.0M270.4 129.5h1.0M278.5 129.0h1.0M267.9 138.1h1.0M264.0 134.7h1.0M277.2 131.4h1.0M276.9 139.3h1.0M268.2 131.7h1.0M271.9 132.7h1.0M234.8 137.8h1.0M256.9 142.2h1.0M260.0 124.2h1.0M262.6 134.2h1.0M258.4 128.6h1.0M247.7 124.8h1.0M280.7 126.3h1.0M250.5 142.9h1.0M266.0 124.4h1.0M270.1 130.3h1.0M259.3 137.6h1.0M281.5 139.8h1.0M254.0 132.2h1.0M263.6 135.9h1.0M274.3 122.2h1.0M240.6 132.4h1.0M264.8 128.6h1.0M252.1 130.8h1.0M266.9 122.4h1.0M271.3 135.0h1.0M245.4 134.1h1.0M265.8 129.3h1.0M273.9 114.4h1.0M229.2 122.4h1.0M218.9 128.0h1.0M251.1 136.9h1.0M280.0 121.2h1.0M279.4 124.3h1.0M268.2 133.9h1.0M256.2 138.8h1.0M263.2 141.5h1.0M264.2 128.0h1.0M253.5 134.1h1.0M272.9 136.1h1.0M263.3 137.2h1.0M259.6 117.4h1.0M252.6 132.5h1.0M273.8 123.5h1.0M246.2 123.8h1.0M271.3 142.2h1.0M251.3 119.6h1.0M235.9 135.5h1.0M263.8 138.5h1.0M271.5 125.8h1.0M262.9 131.8h1.0M265.1 127.6h1.0M266.2 135.7h1.0M265.6 125.3h1.0M242.1 138.7h1.0M246.7 133.4h1.0M246.0 138.7h1.0M256.9 129.0h1.0M272.9 132.1h1.0M264.1 127.7h1.0M268.4 132.8h1.0M257.1 129.1h1.0M283.8 134.2h1.0M254.5 124.9h1.0M270.4 129.2h1.0M257.5 126.3h1.0M241.2 120.9h1.0M243.7 125.7h1.0M266.8 128.7h1.0M253.3 141.8h1.0M264.5 124.3h1.0M264.6 137.5h1.0M245.6 138.3h1.0M241.6 134.8h1.0M243.8 139.6h1.0M253.0 127.6h1.0M277.5 134.0h1.0M251.9 130.8h1.0M248.1 140.6h1.0M255.8 133.5h1.0M280.2 135.8h1.0M244.7 136.7h1.0M266.3 142.4h1.0M257.6 133.3h1.0M245.0 138.8h1.0M275.3 133.4h1.0M260.4 138.5h1.0M282.6 135.7h1.0M271.1 127.2h1.0M258.3 130.5h1.0M272.6 129.7h1.0M275.4 131.7h1.0M245.1 124.6h1.0M251.0 133.5h1.0M273.7 124.0h1.0M265.5 136.5h1.0M265.0 135.5h1.0M257.0 132.7h1.0M247.8 136.1h1.0M250.4 135.2h1.0M254.4 128.1h1.0M236.9 135.6h1.0M257.1 127.0h1.0M255.6 141.7h1.0M243.0 129.9h1.0M264.3 130.0h1.0M269.3 125.6h1.0M251.4 137.8h1.0M265.8 128.5h1.0M263.1 136.9h1.0M272.9 124.8h1.0M254.3 135.1h1.0M255.8 126.7h1.0M265.1 128.6h1.0M275.4 135.6h1.0M271.7 128.8h1.0M265.7 141.3h1.0M266.0 132.2h1.0M256.5 126.8h1.0M270.5 124.8h1.0M266.4 130.8h1.0M273.6 133.5h1.0M266.3 134.3h1.0M231.8 135.7h1.0M267.2 141.8h1.0M274.6 140.4h1.0M267.1 136.2h1.0M264.0 133.7h1.0M255.2 135.4h1.0M268.4 141.2h1.0M250.3 140.2h1.0M245.4 124.2h1.0M262.6 136.1h1.0M241.3 139.5h1.0M256.8 119.9h1.0M262.5 137.9h1.0M254.4 126.5h1.0M238.6 133.8h1.0M261.3 138.1h1.0M265.6 137.0h1.0M259.8 138.0h1.0M259.4 137.4h1.0M257.4 132.9h1.0M259.0 132.8h1.0M251.2 128.3h1.0M254.5 126.2h1.0M247.5 129.4h1.0M279.6 137.6h1.0M278.2 135.3h1.0M269.4 139.1h1.0M257.1 128.0h1.0M266.9 141.5h1.0M254.6 139.8h1.0M279.2 139.8h1.0M277.4 141.6h1.0M269.3 135.7h1.0M263.8 126.6h1.0M242.8 132.1h1.0M261.7 136.7h1.0M252.6 129.1h1.0M267.4 136.6h1.0M258.5 131.5h1.0M255.9 135.2h1.0M264.9 126.1h1.0M256.2 137.5h1.0M231.8 129.3h1.0M275.9 121.8h1.0M267.7 129.1h1.0M259.1 132.1h1.0M287.9 134.3h1.0M254.8 133.7h1.0M269.7 139.3h1.0M260.5 136.4h1.0M263.5 126.1h1.0M267.3 124.4h1.0M248.6 94.2h1.0M192.6 97.7h1.0M247.0 110.7h1.0M288.3 108.2h1.0M275.8 101.2h1.0M224.3 120.5h1.0M216.7 119.2h1.0M235.2 104.0h1.0M232.2 98.1h1.0M244.3 97.8h1.0M244.6 125.1h1.0M203.1 116.5h1.0M261.6 117.7h1.0M219.0 92.6h1.0M244.5 94.8h1.0M251.3 115.0h1.0M245.6 96.0h1.0M242.8 125.5h1.0M255.6 105.7h1.0M260.3 92.6h1.0M255.7 93.9h1.0M272.5 97.9h1.0M239.8 105.1h1.0M256.8 121.3h1.0M258.4 107.3h1.0M263.6 100.8h1.0M286.6 119.0h1.0M257.4 109.6h1.0M262.5 108.0h1.0M243.5 109.2h1.0M210.6 96.4h1.0M247.8 110.4h1.0M223.1 92.8h1.0M232.9 97.7h1.0M258.6 101.1h1.0M318.5 114.5h1.0M246.3 91.4h1.0M214.6 125.9h1.0M225.9 118.5h1.0M259.8 91.4h1.0M233.0 111.1h1.0M258.8 124.6h1.0M224.4 115.7h1.0M226.9 98.7h1.0M230.1 102.4h1.0M246.7 98.7h1.0M266.8 105.8h1.0M237.7 118.2h1.0M232.5 108.7h1.0M265.8 95.4h1.0M201.8 113.2h1.0M258.4 92.2h1.0M267.4 95.7h1.0M251.6 105.5h1.0M244.8 106.1h1.0M256.2 113.8h1.0M240.5 112.9h1.0M245.2 115.7h1.0M241.2 104.6h1.0M276.3 97.1h1.0M252.1 106.3h1.0M244.2 111.1h1.0M263.5 107.2h1.0M226.6 112.0h1.0M241.6 94.3h1.0M198.2 93.4h1.0M289.2 97.2h1.0M256.5 115.5h1.0M241.8 106.6h1.0M298.9 107.1h1.0M306.2 97.0h1.0M265.9 127.1h1.0M276.4 105.3h1.0M301.7 119.4h1.0M246.0 111.6h1.0M255.7 109.3h1.0M275.2 96.2h1.0M277.6 116.8h1.0M190.0 120.0h1.0M277.4 111.1h1.0M237.0 103.6h1.0M226.1 125.0h1.0M223.9 96.6h1.0M243.7 124.7h1.0M228.5 111.2h1.0M254.9 108.1h1.0M258.4 113.0h1.0M258.5 119.6h1.0M226.8 94.8h1.0M272.0 92.6h1.0M236.6 115.9h1.0M273.7 93.7h1.0M229.6 111.8h1.0M238.4 100.7h1.0M256.5 112.4h1.0M291.3 111.5h1.0M239.1 117.7h1.0M279.0 113.6h1.0M255.6 115.5h1.0M240.1 126.0h1.0M262.5 120.5h1.0M263.9 98.3h1.0M281.1 109.1h1.0M200.1 112.8h1.0M313.8 99.2h1.0M272.6 94.7h1.0M269.0 115.9h1.0M271.2 105.2h1.0M217.9 101.2h1.0M276.3 102.2h1.0M247.2 102.5h1.0M254.0 121.3h1.0M260.1 117.7h1.0M237.2 95.5h1.0M255.9 113.2h1.0M246.3 107.1h1.0M265.6 103.0h1.0M272.0 116.8h1.0M246.2 104.5h1.0M244.8 117.6h1.0M255.4 92.1h1.0M257.8 97.3h1.0M214.7 103.5h1.0M227.7 95.2h1.0M306.3 107.4h1.0M238.3 127.0h1.0M263.8 120.3h1.0M280.2 102.8h1.0M280.5 124.8h1.0M244.2 105.9h1.0M236.3 107.6h1.0M301.8 115.7h1.0M256.1 105.6h1.0M261.0 116.4h1.0M237.9 117.4h1.0M256.6 112.8h1.0M231.6 109.8h1.0M271.1 105.6h1.0M223.6 120.7h1.0M251.1 94.5h1.0M274.5 110.2h1.0M274.3 107.6h1.0M213.1 113.8h1.0M269.7 103.3h1.0M297.2 117.6h1.0M244.2 110.0h1.0M248.4 106.8h1.0M306.3 98.5h1.0M255.4 125.0h1.0M204.6 125.3h1.0M267.0 107.7h1.0M318.5 108.0h1.0M302.9 91.6h1.0M224.7 119.2h1.0M249.7 92.6h1.0M242.9 126.1h1.0M262.1 98.5h1.0M236.6 105.6h1.0M241.3 122.4h1.0M243.3 106.3h1.0M237.8 98.8h1.0M259.1 94.6h1.0M229.8 105.1h1.0M250.2 93.2h1.0M236.3 122.8h1.0M260.5 114.1h1.0M299.4 115.4h1.0M229.5 97.6h1.0M234.2 119.9h1.0M267.9 125.8h1.0M239.4 95.7h1.0M171.9 108.7h1.0M249.0 95.5h1.0M221.6 118.9h1.0M261.3 101.6h1.0M248.4 107.6h1.0M232.5 111.1h1.0M198.9 115.4h1.0M267.1 122.3h1.0M271.9 123.9h1.0M246.8 116.2h1.0M252.5 99.6h1.0M254.1 98.5h1.0M270.9 112.2h1.0M266.4 116.1h1.0M261.6 127.0h1.0M257.5 91.9h1.0M250.4 94.5h1.0M240.0 96.1h1.0M276.1 109.3h1.0M260.3 110.5h1.0M287.8 107.0h1.0M250.3 96.7h1.0M243.0 107.2h1.0M264.7 98.4h1.0M241.7 111.3h1.0M223.2 125.8h1.0M259.8 115.3h1.0M216.9 121.2h1.0M221.7 111.4h1.0M249.2 118.4h1.0M211.5 94.3h1.0M235.2 114.7h1.0M261.6 92.8h1.0M219.1 118.3h1.0M240.0 105.6h1.0M235.8 115.6h1.0M231.9 101.5h1.0M244.5 115.5h1.0M228.6 126.0h1.0M239.6 101.8h1.0M240.4 125.8h1.0M219.5 91.5h1.0M207.4 99.8h1.0M268.3 119.4h1.0M299.8 93.8h1.0M218.3 115.4h1.0M217.6 99.7h1.0M271.1 122.9h1.0M244.1 99.5h1.0M266.9 104.6h1.0M240.6 100.4h1.0M267.6 105.4h1.0M270.4 104.5h1.0M290.1 110.9h1.0M232.9 99.0h1.0M230.6 94.5h1.0M276.7 109.6h1.0M256.6 94.0h1.0M233.1 102.2h1.0M229.3 103.7h1.0M267.3 106.0h1.0M282.6 114.0h1.0M250.8 99.5h1.0M277.3 92.4h1.0M221.5 125.1h1.0M272.6 92.9h1.0M245.8 117.1h1.0M282.3 103.2h1.0M228.3 105.2h1.0M229.4 113.1h1.0M264.0 127.1h1.0M282.0 116.1h1.0M232.1 113.7h1.0M262.1 111.7h1.0M283.5 113.3h1.0M282.4 115.2h1.0M273.6 94.0h1.0M238.0 111.7h1.0M239.7 126.9h1.0M262.6 124.6h1.0M249.8 123.6h1.0M261.7 111.2h1.0M255.1 126.6h1.0M260.8 126.0h1.0M265.2 97.5h1.0M221.7 117.4h1.0M256.2 91.7h1.0M238.0 123.1h1.0M229.3 125.4h1.0M261.4 110.3h1.0M275.1 118.6h1.0M261.4 106.3h1.0M247.6 100.1h1.0M233.2 111.6h1.0M206.4 112.1h1.0M231.8 94.9h1.0M250.2 97.7h1.0M237.8 91.2h1.0M272.0 103.1h1.0M262.1 123.9h1.0M243.5 113.1h1.0M240.6 95.5h1.0M283.6 121.9h1.0M218.5 95.3h1.0M273.4 106.7h1.0M208.6 104.6h1.0M286.4 101.0h1.0M264.4 119.6h1.0M287.5 102.9h1.0M252.6 120.0h1.0M252.5 123.5h1.0M276.6 116.2h1.0M281.2 93.1h1.0M243.8 115.6h1.0M269.7 108.2h1.0M225.1 109.1h1.0M248.4 120.2h1.0M227.2 100.5h1.0M242.0 122.6h1.0M272.7 116.8h1.0M231.7 106.6h1.0M293.4 113.9h1.0M209.8 112.1h1.0M289.2 124.2h1.0M289.4 125.5h1.0M240.6 95.1h1.0M260.1 103.0h1.0M264.5 98.7h1.0M278.4 121.1h1.0M240.7 95.7h1.0M264.4 94.1h1.0M260.5 100.9h1.0M233.9 95.6h1.0M235.2 114.5h1.0M255.5 97.1h1.0M231.2 111.9h1.0M255.3 93.8h1.0M264.2 92.5h1.0M276.9 109.0h1.0M275.2 93.4h1.0M270.2 114.2h1.0M318.2 103.9h1.0M274.0 101.9h1.0M260.6 107.2h1.0M271.2 110.4h1.0M251.4 113.7h1.0M266.8 109.3h1.0M286.2 93.8h1.0M262.4 96.5h1.0M286.0 111.7h1.0M166.3 119.9h1.0M269.0 110.1h1.0M247.5 103.2h1.0M265.8 91.0h1.0M287.4 120.6h1.0M245.6 125.4h1.0M282.4 98.1h1.0M248.9 105.5h1.0M246.9 104.7h1.0M210.8 104.5h1.0M231.0 95.7h1.0M279.8 107.4h1.0M302.1 114.1h1.0M253.5 113.1h1.0M261.2 116.1h1.0M278.3 116.9h1.0M283.1 102.9h1.0M243.5 108.2h1.0M261.9 123.9h1.0M286.3 104.0h1.0M216.8 118.0h1.0M244.8 119.3h1.0M229.1 122.5h1.0M238.0 125.2h1.0M254.2 109.0h1.0M261.3 93.5h1.0M253.3 126.6h1.0M233.2 116.4h1.0M293.2 91.7h1.0M239.5 96.8h1.0M229.0 99.3h1.0M203.1 112.3h1.0M256.0 100.9h1.0M253.7 111.7h1.0M210.8 114.3h1.0M238.3 110.2h1.0M288.2 95.0h1.0M298.4 116.2h1.0M276.3 123.1h1.0M258.4 119.2h1.0M244.8 115.8h1.0M263.0 110.7h1.0M229.1 111.3h1.0M259.4 99.1h1.0M266.7 94.9h1.0M256.3 94.4h1.0M265.4 115.6h1.0M274.1 112.8h1.0M259.4 99.9h1.0M267.4 121.9h1.0M270.9 95.3h1.0M207.6 112.8h1.0M308.4 111.1h1.0M281.3 112.9h1.0M245.0 107.1h1.0M205.3 120.2h1.0M228.7 110.6h1.0M272.9 102.6h1.0M247.1 113.7h1.0M265.1 125.4h1.0M276.0 122.3h1.0M167.8 95.6h1.0M213.9 111.6h1.0M270.3 103.6h1.0M232.6 91.2h1.0M268.4 105.3h1.0M246.6 120.3h1.0M244.6 122.8h1.0M245.2 93.1h1.0M252.9 98.7h1.0M259.5 122.0h1.0M240.6 112.6h1.0M230.7 97.9h1.0M229.4 113.1h1.0M269.5 113.5h1.0M248.3 116.1h1.0M250.5 102.8h1.0M249.7 96.0h1.0M237.9 100.3h1.0M322.6 116.2h1.0M258.9 119.4h1.0M245.0 104.7h1.0M287.1 110.7h1.0M275.0 95.3h1.0M314.6 119.3h1.0M230.3 109.1h1.0M253.5 126.1h1.0M231.5 107.8h1.0M215.3 93.8h1.0M270.4 92.4h1.0M284.0 109.2h1.0M214.5 101.2h1.0M254.5 105.3h1.0M224.6 109.1h1.0M280.6 96.5h1.0M264.0 104.3h1.0M253.0 97.0h1.0M249.4 105.5h1.0M252.3 93.1h1.0M246.9 92.0h1.0M275.7 115.3h1.0M256.4 125.7h1.0M291.4 91.4h1.0M249.0 105.0h1.0M227.1 122.5h1.0M238.3 109.8h1.0M235.6 104.7h1.0M231.5 102.1h1.0M284.1 106.9h1.0M259.7 112.0h1.0M222.5 122.7h1.0M225.5 124.5h1.0M260.9 107.0h1.0M252.3 103.1h1.0M256.8 102.8h1.0M248.2 93.5h1.0M261.4 98.4h1.0M237.3 93.5h1.0M279.9 97.3h1.0M253.6 112.4h1.0M261.5 107.4h1.0M254.1 126.2h1.0M247.5 118.1h1.0M217.4 117.9h1.0M245.1 93.1h1.0M272.5 107.4h1.0M292.8 126.3h1.0M284.2 101.2h1.0M249.1 96.8h1.0M216.2 91.4h1.0M277.8 121.8h1.0M244.4 118.6h1.0M240.3 101.5h1.0M275.4 110.3h1.0M232.8 102.5h1.0M255.9 101.6h1.0M211.7 106.5h1.0M226.2 113.6h1.0M293.0 90.9h1.0M274.2 100.1h1.0M256.6 119.5h1.0M255.7 108.2h1.0M236.8 109.6h1.0M266.6 108.5h1.0M280.0 96.0h1.0M261.5 125.2h1.0M249.3 121.4h1.0M259.1 118.5h1.0M272.4 106.3h1.0M263.7 118.4h1.0M304.1 102.7h1.0M277.9 99.1h1.0M265.9 122.1h1.0M249.8 94.4h1.0M236.7 99.3h1.0M259.8 94.8h1.0M257.5 101.9h1.0M253.4 125.2h1.0M257.8 113.4h1.0M210.8 114.0h1.0M271.6 94.0h1.0M274.4 120.1h1.0M244.8 98.9h1.0M215.5 95.4h1.0M247.4 94.7h1.0M279.3 120.7h1.0M208.6 93.0h1.0M268.2 95.3h1.0M233.5 105.8h1.0M253.6 105.5h1.0M272.9 106.8h1.0M221.1 100.2h1.0M260.0 120.1h1.0M239.6 124.7h1.0M253.1 120.0h1.0M287.2 107.6h1.0M218.0 91.7h1.0M235.0 123.3h1.0M288.6 114.7h1.0M224.3 105.7h1.0M233.3 117.1h1.0M249.2 114.1h1.0M271.1 119.8h1.0M278.4 99.0h1.0M240.9 110.9h1.0M241.4 126.7h1.0M276.0 100.1h1.0M214.0 107.0h1.0M192.5 100.9h1.0M233.7 125.6h1.0M258.3 99.2h1.0M264.1 110.4h1.0M272.0 106.7h1.0M209.8 103.3h1.0M253.2 110.3h1.0M250.9 102.6h1.0M252.5 113.7h1.0M255.3 109.1h1.0M270.9 99.3h1.0M238.1 121.1h1.0M221.6 118.0h1.0M238.3 126.4h1.0M271.8 121.1h1.0M248.4 108.0h1.0M280.3 126.0h1.0M235.7 97.7h1.0M215.0 122.8h1.0M206.8 108.7h1.0M302.5 110.3h1.0M221.3 125.7h1.0M239.7 115.3h1.0M300.0 116.7h1.0M275.8 92.6h1.0M248.7 102.3h1.0M292.7 91.7h1.0M192.7 123.2h1.0M251.9 116.1h1.0M276.4 111.1h1.0M286.6 101.6h1.0M272.5 112.7h1.0M197.2 94.1h1.0M240.3 104.5h1.0M251.1 94.2h1.0M266.5 120.3h1.0M209.6 110.5h1.0M283.6 114.4h1.0M272.8 102.8h1.0M253.9 121.4h1.0M257.5 103.2h1.0M258.0 100.4h1.0M262.9 100.8h1.0M275.6 102.7h1.0M230.7 105.0h1.0M233.0 91.0h1.0M225.3 105.6h1.0M227.0 119.1h1.0M234.3 124.7h1.0M236.9 125.9h1.0M247.5 113.9h1.0M273.1 109.4h1.0M298.2 103.3h1.0M252.2 119.6h1.0M260.9 103.7h1.0M227.9 122.8h1.0M259.1 109.8h1.0M216.7 97.7h1.0M245.1 103.9h1.0M261.5 119.7h1.0M234.4 107.7h1.0M245.6 120.0h1.0M223.7 121.3h1.0M260.0 124.2h1.0M294.0 98.8h1.0M294.1 92.5h1.0M296.9 107.4h1.0M252.4 101.4h1.0M247.4 117.2h1.0M225.1 111.1h1.0M255.3 106.3h1.0M258.7 107.2h1.0M308.9 114.3h1.0M278.5 100.8h1.0M224.9 93.6h1.0M252.1 99.6h1.0M242.8 114.0h1.0M258.0 100.1h1.0M285.0 116.0h1.0M263.1 91.2h1.0M259.1 103.6h1.0M217.5 95.6h1.0M203.7 114.3h1.0M266.3 113.7h1.0M268.1 124.0h1.0M233.3 117.8h1.0M250.4 112.2h1.0M262.8 121.2h1.0M244.3 116.7h1.0M229.7 105.1h1.0M261.8 125.4h1.0M274.4 93.3h1.0M219.1 104.0h1.0M259.4 119.5h1.0M308.5 104.5h1.0M244.9 112.9h1.0M264.0 108.4h1.0M251.1 113.6h1.0M270.8 99.3h1.0M266.4 112.4h1.0M254.3 115.6h1.0M225.8 111.4h1.0M241.0 100.0h1.0M249.9 123.1h1.0M260.7 120.6h1.0M274.9 96.3h1.0M237.7 98.3h1.0M280.2 117.1h1.0M214.9 100.5h1.0M263.1 119.3h1.0M234.7 105.9h1.0M273.2 105.9h1.0M275.6 94.9h1.0M281.9 127.0h1.0M219.2 123.4h1.0M256.6 119.3h1.0M201.2 93.6h1.0M261.0 119.3h1.0M244.8 123.2h1.0M245.6 122.1h1.0M258.3 120.4h1.0M238.9 116.2h1.0M320.0 100.9h1.0M220.1 101.9h1.0M234.5 112.6h1.0M241.6 117.9h1.0M228.7 92.9h1.0M215.9 107.8h1.0M247.4 118.1h1.0M252.3 105.1h1.0M246.6 112.0h1.0M271.6 95.2h1.0M233.5 104.2h1.0M257.9 101.7h1.0M264.0 109.1h1.0M265.2 98.2h1.0M242.1 104.2h1.0M252.7 118.9h1.0M202.2 92.2h1.0M221.8 120.5h1.0M269.2 92.8h1.0M232.4 114.3h1.0M247.0 109.0h1.0M235.6 94.7h1.0M240.7 123.2h1.0M238.2 93.8h1.0M240.7 113.3h1.0M256.9 120.1h1.0M262.6 112.3h1.0M246.7 124.9h1.0M261.5 93.5h1.0M229.7 95.1h1.0M230.8 99.1h1.0M220.0 124.2h1.0M265.7 102.4h1.0M237.7 120.8h1.0M229.4 97.3h1.0M232.5 121.7h1.0M257.9 104.2h1.0M248.4 105.9h1.0M276.7 96.0h1.0M228.1 113.2h1.0M265.9 93.7h1.0M234.6 108.0h1.0M246.2 99.8h1.0M278.4 114.3h1.0M266.1 125.5h1.0M247.4 123.0h1.0M272.2 104.8h1.0M232.7 104.6h1.0M248.9 118.8h1.0M228.0 108.1h1.0M228.6 112.0h1.0M264.8 97.6h1.0M260.0 105.1h1.0M264.5 110.0h1.0M241.6 116.7h1.0M300.6 101.1h1.0M225.3 92.1h1.0M273.8 111.4h1.0M253.1 117.0h1.0M243.2 100.8h1.0M223.1 100.6h1.0M222.7 125.3h1.0M286.6 101.5h1.0M230.9 99.6h1.0M236.4 108.7h1.0M272.7 94.9h1.0M240.7 108.4h1.0M236.7 105.0h1.0M245.1 97.6h1.0M216.6 110.3h1.0M237.3 104.2h1.0M234.6 109.0h1.0M193.3 111.4h1.0M255.8 103.9h1.0M280.9 92.6h1.0M243.5 123.0h1.0M231.8 124.4h1.0M270.8 115.7h1.0M229.1 124.5h1.0M212.8 113.2h1.0M278.1 114.5h1.0M230.7 120.9h1.0M187.1 109.5h1.0M209.1 126.4h1.0M238.1 98.4h1.0M269.2 112.2h1.0M234.6 97.5h1.0M254.1 105.3h1.0M263.1 113.9h1.0M265.2 106.1h1.0M244.1 101.0h1.0M282.9 105.2h1.0M256.1 93.3h1.0M275.8 111.0h1.0M241.0 94.2h1.0M221.6 112.0h1.0M273.4 93.1h1.0M283.4 99.1h1.0M262.5 125.2h1.0M270.7 99.9h1.0M251.2 100.2h1.0M244.1 122.0h1.0M240.5 124.3h1.0M254.0 107.9h1.0M264.9 90.9h1.0M272.5 119.2h1.0M230.5 125.0h1.0M254.4 110.8h1.0M239.8 114.3h1.0M266.9 91.0h1.0M233.7 124.0h1.0M244.3 104.1h1.0M300.9 112.9h1.0M276.0 106.6h1.0M256.6 115.6h1.0M254.4 126.6h1.0M258.6 105.8h1.0M246.3 119.5h1.0M240.5 118.6h1.0M293.3 119.7h1.0M236.0 120.6h1.0M224.0 122.3h1.0M230.9 116.3h1.0M269.7 105.1h1.0M301.7 97.1h1.0M198.0 93.8h1.0M230.1 96.1h1.0M271.5 101.9h1.0M247.0 97.5h1.0M247.7 112.7h1.0M228.7 119.0h1.0M236.5 106.1h1.0M248.2 121.7h1.0M246.2 106.8h1.0M243.0 111.9h1.0M253.9 116.7h1.0M244.2 90.9h1.0M254.5 115.0h1.0M292.6 96.5h1.0M223.3 104.6h1.0M250.6 101.2h1.0M235.5 111.9h1.0M231.0 111.9h1.0M282.7 111.8h1.0M260.1 102.1h1.0M217.8 113.9h1.0M242.7 114.6h1.0M245.6 113.8h1.0M292.7 102.9h1.0M233.4 93.3h1.0M272.5 121.1h1.0M265.7 125.8h1.0M243.7 94.6h1.0M243.7 107.2h1.0M278.2 103.6h1.0M254.0 126.4h1.0M262.5 96.6h1.0M245.5 123.0h1.0M237.1 112.9h1.0M250.6 122.8h1.0M270.5 112.1h1.0M283.1 96.5h1.0M250.2 91.7h1.0M275.7 109.5h1.0M282.8 103.3h1.0M258.0 118.3h1.0M266.3 99.2h1.0M144.5 124.9h1.0M158.5 97.3h1.0M165.9 91.9h1.0M142.6 100.5h1.0M133.4 110.1h1.0M173.2 124.4h1.0M169.0 117.0h1.0M148.8 102.9h1.0M155.5 105.7h1.0M175.2 111.0h1.0M176.7 106.6h1.0M153.6 118.6h1.0M153.4 99.5h1.0M146.9 122.9h1.0M149.2 120.5h1.0M133.8 123.2h1.0M154.8 107.4h1.0M156.5 109.9h1.0M180.5 98.3h1.0M172.1 109.8h1.0M182.7 97.8h1.0M171.1 92.1h1.0M134.5 117.4h1.0M132.7 96.1h1.0M151.3 97.3h1.0M159.7 96.6h1.0M151.3 115.4h1.0M168.0 94.4h1.0M167.4 122.6h1.0M162.0 120.7h1.0M142.1 111.3h1.0M150.4 97.2h1.0M143.8 114.9h1.0M148.6 107.5h1.0M161.1 126.5h1.0M179.4 109.3h1.0M173.1 102.4h1.0M166.0 125.5h1.0M141.6 108.0h1.0M153.9 98.0h1.0M163.7 96.4h1.0M151.7 91.9h1.0M149.1 110.1h1.0M175.2 122.2h1.0M183.8 104.6h1.0M148.2 106.0h1.0M183.7 113.1h1.0M163.0 112.4h1.0M132.2 119.7h1.0M180.4 110.9h1.0M189.9 121.2h1.0M160.9 98.3h1.0M165.3 97.8h1.0M166.8 93.0h1.0M174.8 105.5h1.0M141.8 94.5h1.0M148.2 120.6h1.0M170.9 112.6h1.0M162.9 115.8h1.0M189.0 91.0h1.0M185.7 101.9h1.0M172.5 104.7h1.0M153.2 90.9h1.0M155.3 100.4h1.0M134.7 123.6h1.0M186.1 124.4h1.0M128.6 102.9h1.0M128.2 96.6h1.0M180.2 111.3h1.0M145.5 104.6h1.0M149.6 101.2h1.0M177.6 102.0h1.0M161.3 125.3h1.0M189.6 117.0h1.0M147.7 98.0h1.0M151.4 115.7h1.0M147.2 115.4h1.0M165.2 109.7h1.0M178.0 105.0h1.0M178.4 104.2h1.0M199.9 112.3h1.0M187.9 103.5h1.0M152.7 121.6h1.0M157.0 122.2h1.0M174.5 116.0h1.0M185.2 114.6h1.0M175.3 110.6h1.0M175.7 116.1h1.0M193.4 101.7h1.0M158.9 119.2h1.0M163.4 125.3h1.0M186.1 113.0h1.0M141.1 93.5h1.0M138.4 109.3h1.0M155.1 106.6h1.0M164.9 98.1h1.0M165.4 91.5h1.0M195.7 114.0h1.0M170.5 103.3h1.0M191.2 122.9h1.0M187.4 105.0h1.0M185.7 97.9h1.0M180.0 123.3h1.0M138.7 120.9h1.0M135.2 126.8h1.0M198.3 123.6h1.0M190.0 115.7h1.0M143.0 94.7h1.0M166.7 105.1h1.0M156.7 121.7h1.0M191.9 112.4h1.0M127.8 126.6h1.0M186.7 117.4h1.0M159.9 108.6h1.0M166.6 98.2h1.0M169.5 100.1h1.0M152.8 100.2h1.0M169.2 120.6h1.0M166.3 96.0h1.0M166.8 112.4h1.0M180.4 92.3h1.0M164.1 116.6h1.0M207.4 124.7h1.0M186.2 107.0h1.0M192.0 125.6h1.0M177.3 98.3h1.0M184.2 122.2h1.0M171.6 100.3h1.0M212.5 114.5h1.0M130.7 94.5h1.0M191.1 106.6h1.0M169.6 94.4h1.0M167.3 92.3h1.0M140.9 110.2h1.0M154.4 91.7h1.0M156.8 99.0h1.0M192.5 99.5h1.0M181.8 113.5h1.0M176.6 108.8h1.0M163.0 96.2h1.0M177.3 113.0h1.0M181.5 113.6h1.0M167.2 105.3h1.0M158.5 101.2h1.0M162.2 102.7h1.0M163.0 91.8h1.0M210.6 109.0h1.0M149.0 93.3h1.0M191.3 110.5h1.0M152.9 99.1h1.0M170.7 119.1h1.0M168.5 96.0h1.0M143.9 115.5h1.0M153.3 120.8h1.0M170.4 114.3h1.0M170.7 109.6h1.0M148.0 116.6h1.0M163.4 119.7h1.0M163.6 106.8h1.0M167.0 102.3h1.0M169.1 122.6h1.0M182.2 102.4h1.0M127.6 93.0h1.0M158.5 109.3h1.0M167.4 113.4h1.0M153.5 109.2h1.0M171.0 117.5h1.0M149.8 108.5h1.0M165.5 121.2h1.0M190.1 105.1h1.0M153.7 115.0h1.0M174.9 113.4h1.0M155.8 115.4h1.0M184.8 106.3h1.0M146.7 101.1h1.0M150.2 120.3h1.0M161.0 124.2h1.0M172.5 120.3h1.0M170.2 96.3h1.0M191.2 120.7h1.0M160.6 111.3h1.0M130.7 120.0h1.0M172.0 103.7h1.0M152.6 117.5h1.0M161.4 103.4h1.0M170.9 124.9h1.0M156.5 104.6h1.0M185.0 95.8h1.0M179.3 120.7h1.0M171.5 103.7h1.0M176.9 94.1h1.0M154.0 123.2h1.0M169.9 93.4h1.0M171.9 111.6h1.0M173.7 107.8h1.0M169.0 126.0h1.0M172.9 111.8h1.0M180.2 105.9h1.0M156.9 109.7h1.0M173.1 121.9h1.0M191.4 96.3h1.0M163.9 123.2h1.0M195.6 120.3h1.0M155.9 93.7h1.0M136.9 102.9h1.0M170.3 109.5h1.0M169.3 102.5h1.0M159.6 123.4h1.0M160.8 97.3h1.0M176.5 121.0h1.0M146.2 111.3h1.0M173.9 95.7h1.0M145.1 95.2h1.0M171.3 122.9h1.0M184.4 101.4h1.0M177.9 126.4h1.0M174.2 108.0h1.0M189.7 110.3h1.0M165.0 104.7h1.0M210.2 126.7h1.0M187.1 122.0h1.0M146.6 120.4h1.0M153.6 96.3h1.0M169.8 92.4h1.0M184.3 114.2h1.0M202.0 91.1h1.0M137.7 109.9h1.0M154.8 115.6h1.0M163.2 96.5h1.0M169.3 116.9h1.0M151.1 97.0h1.0M144.4 95.0h1.0M161.9 115.1h1.0M174.6 109.4h1.0M186.8 115.9h1.0M159.0 116.5h1.0M170.9 108.3h1.0M179.1 101.9h1.0M176.5 101.1h1.0M184.9 118.0h1.0M195.8 125.6h1.0M151.3 110.4h1.0M140.2 109.5h1.0M149.9 122.5h1.0M186.9 98.1h1.0M153.8 119.6h1.0M155.2 102.4h1.0M136.6 102.1h1.0M144.6 101.5h1.0M141.1 121.7h1.0M170.1 106.3h1.0M147.3 97.4h1.0M154.9 125.1h1.0M172.8 121.4h1.0M182.3 115.6h1.0M161.3 112.5h1.0M171.8 121.0h1.0M174.2 91.1h1.0M159.2 101.9h1.0M163.6 119.6h1.0M169.9 111.9h1.0M147.9 104.4h1.0M178.9 98.8h1.0M152.3 125.8h1.0M164.3 96.0h1.0M169.3 117.0h1.0M146.7 103.7h1.0M161.9 122.1h1.0M203.9 106.5h1.0M147.6 120.5h1.0M146.8 109.2h1.0M153.3 116.9h1.0M143.6 111.7h1.0M161.1 115.5h1.0M175.4 126.4h1.0M193.2 98.3h1.0M172.1 104.5h1.0M158.2 120.7h1.0M170.4 111.0h1.0M173.1 101.2h1.0M180.3 114.0h1.0M163.0 105.2h1.0M142.8 91.6h1.0M136.0 126.0h1.0M163.6 98.0h1.0M173.2 107.4h1.0M139.1 120.6h1.0M133.5 108.0h1.0M192.7 126.6h1.0M194.2 110.6h1.0M164.9 110.2h1.0M165.0 116.2h1.0M170.2 123.7h1.0M148.6 90.9h1.0M162.0 106.5h1.0M153.2 114.2h1.0M172.6 103.9h1.0M157.3 91.7h1.0M149.0 94.2h1.0M158.5 106.5h1.0M160.4 101.3h1.0M141.8 126.2h1.0M168.3 108.4h1.0M166.4 119.9h1.0M162.1 110.8h1.0M203.4 122.5h1.0M132.6 124.8h1.0M158.3 117.4h1.0M156.9 118.9h1.0M155.7 96.0h1.0M153.0 124.8h1.0M181.6 126.3h1.0M169.7 109.9h1.0M153.4 125.2h1.0M190.5 126.3h1.0M162.6 96.6h1.0M171.4 123.9h1.0M185.7 112.1h1.0M167.1 114.1h1.0M186.3 117.2h1.0M193.8 98.4h1.0M192.7 124.8h1.0M129.3 97.8h1.0M162.0 99.5h1.0M130.4 103.3h1.0M169.2 112.7h1.0M197.2 113.8h1.0M180.1 94.9h1.0M151.0 121.4h1.0M186.3 115.9h1.0M161.0 124.6h1.0M185.7 126.8h1.0M180.5 114.2h1.0M163.8 93.7h1.0M141.8 103.2h1.0M169.1 119.9h1.0M166.7 126.2h1.0M176.6 91.6h1.0M200.3 98.0h1.0M175.0 106.8h1.0M180.9 105.2h1.0M172.1 95.1h1.0M175.8 110.3h1.0M161.4 119.8h1.0M171.9 127.1h1.0M153.4 120.0h1.0M183.1 101.6h1.0M195.2 118.8h1.0M171.1 124.0h1.0M194.7 107.2h1.0M148.4 97.9h1.0M161.1 118.3h1.0M143.7 118.4h1.0M167.8 100.2h1.0M181.1 104.3h1.0M168.0 99.0h1.0M176.7 102.4h1.0M180.3 91.5h1.0M188.6 110.9h1.0M175.5 119.0h1.0M170.0 98.6h1.0M185.2 95.0h1.0M166.6 102.6h1.0M161.1 121.1h1.0M133.6 110.3h1.0M152.1 95.3h1.0M184.2 99.3h1.0M143.4 106.2h1.0M142.5 124.9h1.0M151.5 116.9h1.0M152.3 113.6h1.0M146.7 94.8h1.0M142.5 113.4h1.0M140.5 97.2h1.0M145.9 105.7h1.0M168.2 106.7h1.0M159.8 124.5h1.0M155.5 122.1h1.0M158.1 126.3h1.0M162.1 114.0h1.0M171.9 124.6h1.0M164.2 108.7h1.0M165.7 110.9h1.0M169.3 118.0h1.0M145.4 107.7h1.0M153.7 118.7h1.0M157.9 112.4h1.0M158.2 102.8h1.0M184.6 111.6h1.0M161.3 93.2h1.0M160.1 119.7h1.0M155.9 104.5h1.0M155.6 97.8h1.0" stroke="#cfd1d3" stroke-width="1.0" stroke-opacity="1.0" fill="none"/>
<path d="M146.3 66.3h1.0M166.9 102.1h1.0M157.9 79.0h1.0M158.1 101.4h1.0M152.8 69.3h1.0M157.3 82.1h1.0M169.6 80.8h1.0M156.7 103.0h1.0M160.0 64.6h1.0M147.5 77.4h1.0M158.4 44.7h1.0M149.3 89.3h1.0M162.3 93.3h1.0M157.1 82.4h1.0M170.4 81.4h1.0M148.3 77.8h1.0M171.1 95.2h1.0M157.7 102.9h1.0M159.5 86.3h1.0M143.3 82.3h1.0M156.9 76.5h1.0M162.4 76.5h1.0M143.5 37.0h1.0M162.2 71.0h1.0M162.8 80.0h1.0M158.6 73.8h1.0M176.7 73.0h1.0M164.4 82.6h1.0M154.4 110.9h1.0M163.1 91.5h1.0M157.7 88.1h1.0M165.9 87.1h1.0M155.7 95.5h1.0M151.6 110.6h1.0M147.1 84.2h1.0M174.3 62.4h1.0M162.7 86.1h1.0M174.4 66.8h1.0M161.8 97.8h1.0M142.6 90.9h1.0M147.8 95.8h1.0M168.3 96.7h1.0M159.3 77.3h1.0M151.7 91.3h1.0M155.4 85.3h1.0M146.4 108.0h1.0M156.5 88.3h1.0M164.3 96.5h1.0M161.8 89.1h1.0M149.9 66.0h1.0M171.5 87.6h1.0M160.4 83.2h1.0M160.5 82.0h1.0M154.8 101.9h1.0M167.3 96.4h1.0M166.6 72.5h1.0M144.1 76.4h1.0M161.2 81.8h1.0M160.7 90.1h1.0M167.4 89.8h1.0M174.0 98.6h1.0M157.0 59.5h1.0M151.5 88.6h1.0M149.3 64.8h1.0M164.2 85.2h1.0M165.4 108.7h1.0M151.5 72.4h1.0M183.7 122.9h1.0M152.3 104.5h1.0M146.5 106.4h1.0M165.5 113.5h1.0M182.9 86.9h1.0M174.8 88.8h1.0M176.1 65.7h1.0M147.6 92.2h1.0M156.0 89.5h1.0M151.1 90.0h1.0M148.4 102.8h1.0M161.0 98.4h1.0M154.5 114.9h1.0M163.6 73.0h1.0M161.8 106.3h1.0M169.6 88.5h1.0M170.7 99.7h1.0M171.8 79.3h1.0M160.3 71.1h1.0M147.6 98.5h1.0M159.8 64.1h1.0M154.8 79.5h1.0M176.5 92.3h1.0M176.4 88.0h1.0M163.6 80.0h1.0M176.1 59.4h1.0M157.3 96.6h1.0M166.5 114.6h1.0M152.8 99.9h1.0M171.3 85.5h1.0M169.4 95.6h1.0M154.6 104.2h1.0M174.9 107.8h1.0M173.7 73.6h1.0M173.3 85.9h1.0M146.6 82.7h1.0M156.9 93.6h1.0M162.5 85.9h1.0M164.6 139.3h1.0M158.0 78.5h1.0M181.5 83.2h1.0M166.1 53.6h1.0M154.8 88.2h1.0M161.3 51.6h1.0M153.2 77.7h1.0M187.3 98.2h1.0M178.4 100.5h1.0M160.0 100.6h1.0M145.7 68.6h1.0M155.5 76.0h1.0M165.0 88.5h1.0M159.4 72.5h1.0M168.3 90.0h1.0M143.6 89.8h1.0M142.0 91.2h1.0M162.7 109.6h1.0M155.3 90.0h1.0M177.0 88.8h1.0M154.8 81.1h1.0M149.5 96.0h1.0M158.0 96.4h1.0M149.8 67.4h1.0M158.7 93.4h1.0M173.3 91.2h1.0M157.5 95.3h1.0M147.4 77.3h1.0M153.9 77.3h1.0M167.3 89.2h1.0M155.2 102.0h1.0M166.1 88.2h1.0M168.9 59.4h1.0M154.9 94.9h1.0M167.9 91.6h1.0M172.2 72.2h1.0M166.0 74.5h1.0M166.6 91.4h1.0M156.9 94.6h1.0M162.3 67.7h1.0M171.6 83.5h1.0M171.5 91.6h1.0M163.9 83.8h1.0M187.2 100.9h1.0M151.0 101.0h1.0M169.4 65.4h1.0M159.3 87.1h1.0M156.6 101.9h1.0M175.3 69.3h1.0M164.2 84.2h1.0M152.9 72.6h1.0M153.6 89.7h1.0M156.0 76.5h1.0M162.6 77.5h1.0M160.2 100.4h1.0M159.8 80.6h1.0M164.2 71.3h1.0M170.0 96.0h1.0M163.2 94.6h1.0M180.8 105.1h1.0M172.2 87.1h1.0M154.6 89.6h1.0M161.7 88.8h1.0M167.1 95.6h1.0M149.6 51.6h1.0M160.9 78.9h1.0M174.0 100.6h1.0M151.6 74.6h1.0M179.0 107.8h1.0M163.8 74.0h1.0M174.3 65.7h1.0M160.7 118.2h1.0M142.5 77.3h1.0M156.9 98.5h1.0M172.4 90.3h1.0M171.6 74.0h1.0M174.1 102.3h1.0M156.5 55.1h1.0M165.2 96.0h1.0M172.1 65.4h1.0M151.2 67.2h1.0M155.1 79.5h1.0M153.0 85.0h1.0M176.3 80.3h1.0M162.3 78.9h1.0M161.2 76.0h1.0M138.4 116.9h1.0M172.1 82.4h1.0M152.7 82.4h1.0M160.7 54.9h1.0M157.9 87.5h1.0M162.1 78.6h1.0M169.8 112.1h1.0M162.1 100.9h1.0M147.2 95.7h1.0M162.7 84.1h1.0M175.4 107.8h1.0M167.6 76.0h1.0M167.3 87.9h1.0M152.2 116.3h1.0M160.8 67.8h1.0M166.8 79.7h1.0M161.3 68.1h1.0M176.2 101.4h1.0M182.3 90.8h1.0M159.3 66.1h1.0M140.4 94.6h1.0M133.6 119.6h1.0M161.4 82.5h1.0M155.8 92.6h1.0M158.9 103.7h1.0M161.3 91.9h1.0M162.3 68.0h1.0M164.0 90.1h1.0M155.9 63.2h1.0M169.1 83.4h1.0M177.1 75.6h1.0M145.9 92.0h1.0M157.0 92.9h1.0M163.9 111.7h1.0M150.3 80.5h1.0M157.5 78.8h1.0M158.6 88.0h1.0M163.9 74.8h1.0M181.2 79.6h1.0M165.6 79.1h1.0M156.0 88.5h1.0M170.2 90.5h1.0M180.8 100.9h1.0M173.1 101.7h1.0M155.5 95.5h1.0M153.4 70.3h1.0M161.5 65.8h1.0M154.7 74.4h1.0M158.2 121.3h1.0M136.2 96.0h1.0M163.1 102.2h1.0M149.4 97.3h1.0M150.4 74.4h1.0M156.7 83.7h1.0M156.2 96.5h1.0M158.6 87.5h1.0M167.6 103.8h1.0M163.7 76.4h1.0M191.5 84.8h1.0M153.0 68.2h1.0M165.7 89.5h1.0M164.1 89.3h1.0M140.7 77.1h1.0M171.7 89.1h1.0M169.5 99.4h1.0M153.1 84.9h1.0M163.7 120.5h1.0M159.8 89.7h1.0M174.6 113.7h1.0M153.2 88.8h1.0M159.9 68.6h1.0M150.5 87.3h1.0M161.9 78.8h1.0M151.4 89.6h1.0M135.8 69.0h1.0M149.0 60.1h1.0M140.7 84.9h1.0M166.9 76.7h1.0M160.5 86.9h1.0M157.3 77.1h1.0M159.3 94.3h1.0M160.8 55.0h1.0M151.7 51.6h1.0M162.3 70.7h1.0M171.8 76.0h1.0M152.6 91.8h1.0M149.0 102.3h1.0M173.9 81.3h1.0M163.8 107.2h1.0M176.1 88.6h1.0M167.4 93.7h1.0M156.6 91.9h1.0M176.9 105.2h1.0M175.9 78.4h1.0M139.4 96.4h1.0M165.6 101.7h1.0M165.5 82.7h1.0M163.6 96.4h1.0M170.3 87.5h1.0M159.2 76.3h1.0M156.2 71.1h1.0M166.7 67.7h1.0M163.2 58.5h1.0M141.3 72.2h1.0M163.5 87.0h1.0M144.0 84.4h1.0M168.6 71.6h1.0M151.8 84.1h1.0M158.6 64.5h1.0M151.3 102.0h1.0M150.5 104.2h1.0M183.9 87.3h1.0M161.6 95.3h1.0M163.9 84.1h1.0M173.5 57.5h1.0M168.8 73.5h1.0M148.8 83.8h1.0M151.6 77.0h1.0M144.0 100.0h1.0M151.1 65.9h1.0M156.8 79.6h1.0M172.5 83.0h1.0M162.6 80.0h1.0M167.3 77.6h1.0M151.9 84.6h1.0M161.4 100.4h1.0M177.4 78.4h1.0M155.1 101.5h1.0M162.9 102.4h1.0M167.6 75.3h1.0M152.2 75.9h1.0M161.9 74.1h1.0M177.7 80.9h1.0M158.2 83.1h1.0M173.1 112.2h1.0M158.1 59.8h1.0M163.2 96.3h1.0M166.7 78.5h1.0M157.9 86.6h1.0M159.9 91.7h1.0M164.0 109.2h1.0M160.7 75.0h1.0M164.6 86.6h1.0M158.8 75.2h1.0M170.4 90.2h1.0M154.4 116.6h1.0M152.6 83.3h1.0M170.6 73.4h1.0M173.4 80.1h1.0M159.4 80.1h1.0M164.5 64.0h1.0M168.0 110.8h1.0M167.7 84.1h1.0M151.6 69.5h1.0M162.2 93.5h1.0M163.7 101.3h1.0M149.4 90.5h1.0M178.3 87.7h1.0M168.3 81.5h1.0M175.6 77.4h1.0M168.6 79.3h1.0M167.5 82.7h1.0M158.4 68.7h1.0M152.3 77.6h1.0M161.2 83.4h1.0M139.5 89.0h1.0M173.4 99.5h1.0M165.6 67.3h1.0M155.3 96.1h1.0M156.4 89.2h1.0M158.7 93.7h1.0M161.7 80.8h1.0M147.5 54.0h1.0M146.6 85.1h1.0M173.7 78.9h1.0M153.5 78.0h1.0M160.6 90.0h1.0M173.1 83.3h1.0M154.8 88.7h1.0M172.8 113.9h1.0M165.1 60.5h1.0M166.3 81.3h1.0M144.8 73.1h1.0M152.3 106.5h1.0M156.4 53.7h1.0M171.0 71.8h1.0M156.0 100.1h1.0M156.9 115.3h1.0M166.4 91.2h1.0M183.8 83.4h1.0M168.2 82.6h1.0M165.4 78.4h1.0M161.2 96.1h1.0M149.6 85.4h1.0M167.2 80.6h1.0M151.4 62.9h1.0M137.0 91.4h1.0M158.5 90.0h1.0M171.4 98.7h1.0M155.3 90.8h1.0M164.2 77.6h1.0M167.1 64.1h1.0M172.4 101.3h1.0M164.1 101.5h1.0M158.4 79.1h1.0M167.8 90.2h1.0M159.4 73.9h1.0M168.8 88.7h1.0M164.4 84.0h1.0M168.2 82.5h1.0M154.5 84.7h1.0M167.1 70.7h1.0M167.6 84.7h1.0M158.8 64.0h1.0M150.1 77.2h1.0M144.7 89.8h1.0M144.7 98.3h1.0M166.3 66.2h1.0M161.1 90.2h1.0M162.7 85.4h1.0M169.0 92.3h1.0M159.0 60.6h1.0M152.2 78.3h1.0M168.8 106.3h1.0M139.3 91.7h1.0M145.1 101.3h1.0M171.0 87.7h1.0M148.9 87.4h1.0M150.6 78.2h1.0M157.3 94.2h1.0M153.6 96.9h1.0M161.0 92.9h1.0M158.9 83.6h1.0M171.6 68.2h1.0M164.4 81.4h1.0M160.7 109.8h1.0M146.1 98.2h1.0M174.3 67.0h1.0M158.5 56.6h1.0M178.1 89.4h1.0M184.0 83.8h1.0M175.6 78.0h1.0M181.3 95.3h1.0M156.0 82.5h1.0M131.2 88.0h1.0M159.8 96.1h1.0M174.7 67.7h1.0M166.9 88.1h1.0M146.1 58.7h1.0M171.6 99.8h1.0M162.1 107.9h1.0M163.8 102.5h1.0M156.9 58.0h1.0M161.9 98.3h1.0M148.6 57.8h1.0M152.7 108.0h1.0M172.7 60.3h1.0M174.6 88.6h1.0M150.9 93.1h1.0M153.0 55.3h1.0M165.5 83.6h1.0M161.8 101.3h1.0M181.5 105.0h1.0M159.2 94.5h1.0M144.3 86.2h1.0M150.2 104.4h1.0M176.1 91.7h1.0M161.7 87.3h1.0M161.6 105.2h1.0M151.9 46.7h1.0M155.8 87.4h1.0M165.9 136.2h1.0M158.8 72.1h1.0M166.2 78.8h1.0M151.7 74.1h1.0M163.6 73.7h1.0M174.4 95.1h1.0M170.6 88.2h1.0M159.3 83.1h1.0M157.4 79.4h1.0M151.7 94.4h1.0M165.0 83.3h1.0M150.8 120.1h1.0M171.4 84.2h1.0M168.9 71.9h1.0M168.5 76.5h1.0M181.9 63.2h1.0M181.1 96.6h1.0M173.1 80.8h1.0M161.2 66.3h1.0M151.6 89.8h1.0M167.7 87.0h1.0M157.2 85.5h1.0M154.7 62.0h1.0M154.3 86.5h1.0M164.6 97.8h1.0M176.6 58.2h1.0M155.9 104.5h1.0M166.4 124.2h1.0M169.8 95.4h1.0M178.7 82.3h1.0M143.5 98.5h1.0M161.9 90.1h1.0M154.0 75.5h1.0M163.4 78.2h1.0M152.2 100.8h1.0M149.6 46.4h1.0M181.9 78.1h1.0M163.0 87.5h1.0M156.4 71.3h1.0M176.1 120.6h1.0M162.5 105.6h1.0M142.1 94.8h1.0M171.3 70.6h1.0M157.3 95.3h1.0M173.5 103.9h1.0M164.6 89.0h1.0M172.8 97.2h1.0M178.7 135.9h1.0M161.6 89.2h1.0M141.4 73.4h1.0M148.5 76.3h1.0M161.2 103.1h1.0M160.8 65.7h1.0M168.5 96.3h1.0M171.3 93.3h1.0M170.0 96.6h1.0M156.1 83.8h1.0M157.1 92.2h1.0M149.6 89.4h1.0M139.7 71.7h1.0M145.4 59.4h1.0M158.9 97.6h1.0M158.1 90.1h1.0M184.2 74.6h1.0M150.5 93.6h1.0M162.4 109.1h1.0M153.2 65.5h1.0M155.1 85.5h1.0M158.9 65.6h1.0M152.9 102.1h1.0M152.9 79.9h1.0M165.9 100.4h1.0M177.6 89.4h1.0M154.8 95.8h1.0M166.1 61.7h1.0M152.7 81.7h1.0M144.9 101.8h1.0M158.8 97.0h1.0M130.7 91.3h1.0M143.9 79.4h1.0M170.2 64.9h1.0M175.7 77.4h1.0M160.5 92.2h1.0M153.1 67.2h1.0M167.2 87.0h1.0M167.6 96.7h1.0M164.9 78.0h1.0M160.4 92.7h1.0M155.4 97.6h1.0M168.5 87.6h1.0M166.9 80.8h1.0M156.6 75.7h1.0M173.0 69.9h1.0M160.8 67.3h1.0M163.0 78.8h1.0M142.1 63.3h1.0M159.6 104.2h1.0M152.5 70.1h1.0M158.0 66.3h1.0M157.9 73.1h1.0M163.0 66.8h1.0M151.5 93.7h1.0M152.7 72.1h1.0M165.7 87.6h1.0M150.3 109.4h1.0M159.7 95.2h1.0M172.9 76.1h1.0M153.3 75.4h1.0M138.8 73.7h1.0M150.9 72.5h1.0M145.9 91.7h1.0M149.8 98.3h1.0M168.3 85.8h1.0M143.1 92.6h1.0M151.1 91.6h1.0M157.9 93.2h1.0M160.3 100.0h1.0M164.0 105.1h1.0M161.7 86.9h1.0M153.3 69.4h1.0M154.4 90.0h1.0M145.7 83.7h1.0M169.0 57.8h1.0M156.7 78.9h1.0M178.2 75.9h1.0M159.9 61.5h1.0M140.7 102.5h1.0M168.4 61.1h1.0M156.0 77.9h1.0M160.3 92.5h1.0M162.2 53.8h1.0M148.2 89.0h1.0M165.6 87.7h1.0M156.4 84.7h1.0M171.9 77.8h1.0M148.2 107.4h1.0M147.7 90.3h1.0M166.2 80.6h1.0M152.0 86.8h1.0M158.4 78.0h1.0M167.9 79.2h1.0M155.0 72.8h1.0M148.7 91.9h1.0M159.7 77.2h1.0M159.0 75.0h1.0M158.9 99.9h1.0M155.3 57.7h1.0M151.2 61.4h1.0M158.3 93.4h1.0M159.8 105.8h1.0M160.5 87.4h1.0M182.1 84.9h1.0M158.2 87.4h1.0M159.7 90.0h1.0M165.5 75.1h1.0M155.4 43.2h1.0M146.9 71.5h1.0M148.7 68.2h1.0M148.9 102.9h1.0M161.9 66.6h1.0M165.2 59.0h1.0M167.3 91.4h1.0M170.0 103.5h1.0M164.4 79.4h1.0M172.1 76.7h1.0M167.9 102.5h1.0M167.6 87.1h1.0M163.0 72.9h1.0M175.0 84.6h1.0M184.7 86.3h1.0M142.7 85.2h1.0M162.4 101.5h1.0M165.9 59.3h1.0M154.7 65.1h1.0M158.8 67.7h1.0M153.6 94.8h1.0M157.5 65.4h1.0M155.0 98.3h1.0M171.4 79.5h1.0M155.8 93.8h1.0M149.5 92.5h1.0M167.0 82.4h1.0M152.8 68.7h1.0M164.4 87.5h1.0M179.2 90.5h1.0M149.8 83.1h1.0M170.7 107.7h1.0M172.4 84.6h1.0M147.2 86.6h1.0M177.4 85.7h1.0M186.2 63.4h1.0M166.6 61.8h1.0M162.5 95.2h1.0M171.7 84.7h1.0M165.0 102.1h1.0M168.0 104.3h1.0M165.1 104.2h1.0M160.6 62.0h1.0M150.1 103.4h1.0M176.5 76.6h1.0M155.7 100.2h1.0M166.7 83.5h1.0M170.9 116.0h1.0M150.9 60.4h1.0M164.6 65.4h1.0M165.4 88.8h1.0M163.4 88.6h1.0M175.2 96.7h1.0M163.6 93.3h1.0M156.1 69.7h1.0M167.7 94.8h1.0M176.7 101.5h1.0M156.6 84.5h1.0M150.8 75.0h1.0M170.1 103.5h1.0M167.4 87.4h1.0M148.6 110.7h1.0M145.9 73.0h1.0M149.6 82.1h1.0M158.2 106.5h1.0M167.2 69.5h1.0M176.5 100.5h1.0M180.6 83.6h1.0M175.2 90.5h1.0M161.5 92.7h1.0M177.8 115.5h1.0M170.5 77.6h1.0M150.4 74.0h1.0M177.9 78.0h1.0M154.9 78.4h1.0M153.3 80.2h1.0M150.9 71.0h1.0M150.9 85.7h1.0M162.5 97.1h1.0M167.3 75.2h1.0M152.2 70.3h1.0M158.4 93.3h1.0M176.1 69.4h1.0M146.3 79.5h1.0M163.6 27.7h1.0M161.3 59.6h1.0M170.1 41.1h1.0M164.6 51.3h1.0M169.6 52.2h1.0M157.9 52.4h1.0M155.1 94.3h1.0M166.2 51.0h1.0M178.1 42.8h1.0M163.1 30.6h1.0M174.6 73.1h1.0M168.7 50.6h1.0M159.1 76.4h1.0M174.8 23.3h1.0M168.8 96.8h1.0M168.5 51.5h1.0M162.6 42.3h1.0M165.3 76.3h1.0M162.0 51.4h1.0M141.0 38.5h1.0M164.1 64.9h1.0M168.1 34.4h1.0M157.4 66.3h1.0M160.9 91.9h1.0M167.7 58.6h1.0M168.1 92.2h1.0M147.7 68.3h1.0M164.7 82.2h1.0M172.5 90.1h1.0M165.2 72.7h1.0M163.9 76.7h1.0M157.9 70.3h1.0M156.2 78.1h1.0M182.0 64.3h1.0M164.7 62.7h1.0M164.0 52.3h1.0M162.9 65.6h1.0M176.4 37.8h1.0M162.0 59.9h1.0M154.8 25.8h1.0M181.3 58.5h1.0M159.6 64.2h1.0M176.4 68.9h1.0M159.2 62.4h1.0M173.8 41.1h1.0M169.3 73.9h1.0M164.7 77.6h1.0M161.0 56.8h1.0M163.0 75.7h1.0M159.8 50.3h1.0M161.1 78.1h1.0M161.2 83.3h1.0M154.1 47.9h1.0M161.5 86.0h1.0M154.2 81.5h1.0M170.6 57.7h1.0M163.0 61.9h1.0M176.2 54.7h1.0M157.9 69.0h1.0M164.6 36.0h1.0M176.3 72.8h1.0M160.5 89.2h1.0M156.5 65.4h1.0M157.9 76.2h1.0M178.4 61.9h1.0M173.8 74.0h1.0M175.2 71.3h1.0M157.9 83.0h1.0M169.7 69.8h1.0M173.5 22.7h1.0M158.6 104.6h1.0M158.8 68.1h1.0M156.1 32.2h1.0M167.8 79.8h1.0M154.3 82.7h1.0M161.5 57.3h1.0M174.1 46.9h1.0M149.3 57.4h1.0M157.4 81.6h1.0M161.5 33.9h1.0M163.1 57.5h1.0M155.2 45.1h1.0M153.7 63.3h1.0M167.3 23.7h1.0M154.5 60.3h1.0M169.7 77.7h1.0M164.1 49.8h1.0M166.1 65.1h1.0M172.6 75.3h1.0M164.7 75.4h1.0M150.5 52.5h1.0M147.4 61.6h1.0M166.4 89.1h1.0M163.4 81.0h1.0M164.7 57.5h1.0M162.8 66.9h1.0M159.0 45.4h1.0M160.4 58.4h1.0M160.3 75.5h1.0M153.7 41.0h1.0M160.3 43.3h1.0M170.6 57.3h1.0M159.1 71.3h1.0M158.6 53.1h1.0M180.4 62.4h1.0M180.4 32.3h1.0M159.5 112.3h1.0M168.6 72.2h1.0M180.6 57.3h1.0M162.1 63.1h1.0M159.8 78.1h1.0M167.4 46.3h1.0M169.3 60.1h1.0M163.3 70.3h1.0M153.1 30.1h1.0M168.4 43.8h1.0M166.7 66.0h1.0M168.7 58.2h1.0M175.4 80.6h1.0M155.7 88.7h1.0M158.6 69.4h1.0M174.2 55.6h1.0M149.6 29.9h1.0M157.8 77.4h1.0M165.1 80.6h1.0M169.8 51.4h1.0M167.6 49.3h1.0M166.9 61.3h1.0M161.0 89.3h1.0M170.3 56.2h1.0M169.0 53.4h1.0M168.2 81.0h1.0M160.6 63.6h1.0M174.8 51.2h1.0M163.6 47.5h1.0M164.0 44.7h1.0M161.2 31.5h1.0M161.6 79.7h1.0M159.1 52.7h1.0M159.7 50.2h1.0M156.4 46.1h1.0M157.2 49.0h1.0M159.0 65.2h1.0M152.5 56.2h1.0M161.2 43.5h1.0M152.1 53.3h1.0M161.8 77.7h1.0M165.0 58.8h1.0M162.1 41.9h1.0M174.0 61.8h1.0M163.6 71.1h1.0M164.2 73.7h1.0M160.6 38.5h1.0M168.9 72.7h1.0M157.5 68.1h1.0M170.1 58.7h1.0M172.0 63.0h1.0M154.5 68.6h1.0M156.5 51.8h1.0M176.7 48.7h1.0M169.4 70.4h1.0M156.5 53.2h1.0M160.1 92.7h1.0M158.5 65.4h1.0M171.3 34.1h1.0M153.7 10.2h1.0M166.8 60.1h1.0M165.9 68.3h1.0M186.6 47.1h1.0M186.9 108.6h1.0M190.3 77.4h1.0M180.0 95.8h1.0M156.5 64.7h1.0M172.1 83.8h1.0M164.9 90.8h1.0M149.8 93.5h1.0M157.5 91.6h1.0M150.5 79.4h1.0M170.4 114.2h1.0M171.6 76.8h1.0M149.9 100.5h1.0M151.2 95.6h1.0M144.1 82.6h1.0M154.4 105.2h1.0M155.7 110.9h1.0M167.3 103.9h1.0M180.0 88.6h1.0M150.4 86.7h1.0M174.3 117.2h1.0M160.1 96.3h1.0M154.2 111.5h1.0M184.0 121.8h1.0M174.2 56.9h1.0M156.7 78.7h1.0M145.3 53.6h1.0M171.8 60.8h1.0M154.8 114.6h1.0M172.1 98.6h1.0M164.7 73.0h1.0M141.9 73.0h1.0M161.7 85.4h1.0M164.1 104.2h1.0M141.0 60.2h1.0M159.6 75.9h1.0M187.7 68.1h1.0M170.6 94.1h1.0M147.0 92.1h1.0M163.1 78.5h1.0M177.5 63.5h1.0M156.9 60.2h1.0M152.8 92.6h1.0M161.1 73.8h1.0M135.9 90.6h1.0M144.7 71.3h1.0M191.2 92.5h1.0M156.5 91.9h1.0M160.4 106.8h1.0M165.8 80.6h1.0M154.1 66.8h1.0M157.8 84.4h1.0M182.7 93.8h1.0M153.2 76.2h1.0M181.0 79.4h1.0M147.9 82.4h1.0M175.1 124.2h1.0M162.7 86.9h1.0M163.1 81.0h1.0M160.0 99.8h1.0M162.7 73.9h1.0M167.3 115.2h1.0M155.2 94.0h1.0M152.7 79.3h1.0M164.5 88.7h1.0M159.5 69.2h1.0M175.1 69.2h1.0M190.3 86.7h1.0M170.1 48.1h1.0M148.2 104.5h1.0M150.6 82.7h1.0M164.1 103.5h1.0M177.9 91.3h1.0M170.3 71.7h1.0M160.5 91.6h1.0M164.2 102.2h1.0M181.1 72.1h1.0M172.2 72.6h1.0M143.7 96.1h1.0M132.7 62.9h1.0M154.7 90.2h1.0M154.8 113.4h1.0M151.5 83.2h1.0M171.8 93.8h1.0M134.6 59.1h1.0M159.3 104.4h1.0M135.4 87.2h1.0M133.8 117.7h1.0M169.3 67.7h1.0M190.5 84.0h1.0M149.8 90.2h1.0M168.6 80.9h1.0M157.7 93.0h1.0M166.0 101.5h1.0M154.8 101.7h1.0M169.9 74.9h1.0M176.5 67.2h1.0M161.0 87.1h1.0M147.9 86.0h1.0M135.1 97.7h1.0M159.8 93.9h1.0M150.7 100.4h1.0M174.1 64.2h1.0M163.1 83.9h1.0M186.8 72.2h1.0M145.9 86.2h1.0M176.5 112.4h1.0M166.3 99.4h1.0M147.2 109.5h1.0M135.6 83.2h1.0M149.8 82.5h1.0M163.8 121.5h1.0M143.2 78.1h1.0M179.1 89.7h1.0M168.1 61.1h1.0M169.1 65.2h1.0M167.1 101.2h1.0M160.8 96.0h1.0M176.6 46.6h1.0M176.5 86.8h1.0M152.1 53.0h1.0M146.7 116.6h1.0M145.2 94.3h1.0M147.8 73.8h1.0M162.2 73.3h1.0M145.8 69.0h1.0M169.7 98.6h1.0M164.8 59.4h1.0M150.5 84.4h1.0M145.6 99.7h1.0M147.4 94.8h1.0M168.0 85.7h1.0M157.8 85.6h1.0M172.1 103.7h1.0M174.5 53.3h1.0M167.5 85.9h1.0M156.0 137.0h1.0M151.8 79.3h1.0M160.7 77.5h1.0M167.1 75.0h1.0M138.4 57.8h1.0M171.0 86.9h1.0M167.4 73.8h1.0M166.7 106.6h1.0M179.5 71.3h1.0M160.5 112.8h1.0M161.3 92.1h1.0M147.9 57.0h1.0M160.3 88.9h1.0M186.9 97.8h1.0M168.9 83.4h1.0M141.2 102.7h1.0M149.1 84.3h1.0M139.8 75.5h1.0M174.3 98.0h1.0M168.1 92.8h1.0M192.5 101.9h1.0M164.4 84.0h1.0M150.0 94.5h1.0M149.8 58.8h1.0M139.4 38.6h1.0M179.6 113.7h1.0M180.6 70.8h1.0M180.1 72.2h1.0M187.6 66.3h1.0M159.2 101.7h1.0M160.2 89.4h1.0M164.5 101.7h1.0M160.0 101.8h1.0M173.8 111.6h1.0M166.3 84.8h1.0M177.6 107.7h1.0M150.7 67.4h1.0M171.5 78.3h1.0M140.8 71.4h1.0M159.2 94.7h1.0M138.6 80.2h1.0M169.1 84.3h1.0M170.8 87.3h1.0M165.8 52.6h1.0M152.7 95.5h1.0M138.2 103.4h1.0M167.7 86.4h1.0M165.9 73.2h1.0M162.2 89.6h1.0M133.1 100.0h1.0M144.4 100.6h1.0M162.9 87.5h1.0M169.7 81.3h1.0M168.9 83.4h1.0M175.5 107.9h1.0M177.9 79.5h1.0M148.9 111.5h1.0M159.2 96.1h1.0M159.3 90.8h1.0M132.2 84.9h1.0M142.4 75.9h1.0M163.1 72.5h1.0M170.5 67.0h1.0M157.5 73.6h1.0M134.1 62.3h1.0M144.3 104.0h1.0M145.6 58.7h1.0M179.5 78.8h1.0M187.3 98.1h1.0M173.1 106.8h1.0M134.9 83.5h1.0M155.5 88.6h1.0M171.7 100.8h1.0M164.6 101.8h1.0M148.7 85.7h1.0M155.7 62.6h1.0M170.4 103.9h1.0M172.4 105.4h1.0M139.1 105.4h1.0M262.3 48.6h1.0M262.8 72.7h1.0M274.0 57.1h1.0M269.2 79.4h1.0M276.1 58.5h1.0M270.1 76.8h1.0M274.9 77.1h1.0M264.2 69.6h1.0M260.7 53.6h1.0M260.9 80.9h1.0M286.7 42.9h1.0M264.9 75.2h1.0M257.3 52.4h1.0M288.8 84.3h1.0M263.2 73.2h1.0M270.2 52.6h1.0M266.2 54.1h1.0M277.1 69.5h1.0M252.1 79.4h1.0M262.1 89.1h1.0M271.8 85.9h1.0M280.1 90.2h1.0M261.6 25.8h1.0M290.1 26.9h1.0M271.1 63.6h1.0M264.9 98.8h1.0M267.2 56.8h1.0M272.5 58.8h1.0M269.9 74.6h1.0M260.9 55.0h1.0M266.2 73.0h1.0M277.8 53.6h1.0M240.9 87.8h1.0M272.2 68.3h1.0M265.1 65.5h1.0M254.3 75.1h1.0M269.3 59.1h1.0M280.0 64.5h1.0M278.5 80.2h1.0M270.9 63.8h1.0M272.6 65.4h1.0M278.9 51.9h1.0M266.7 48.3h1.0M269.7 74.4h1.0M272.5 71.2h1.0M280.2 76.6h1.0M261.0 74.0h1.0M273.2 78.8h1.0M276.5 71.9h1.0M270.6 66.9h1.0M276.5 88.2h1.0M271.8 85.6h1.0M260.4 82.4h1.0M266.5 69.3h1.0M264.7 102.3h1.0M251.0 36.1h1.0M262.6 88.1h1.0M285.6 60.8h1.0M264.6 60.2h1.0M263.3 39.8h1.0M277.9 65.7h1.0M267.4 78.6h1.0M276.4 63.8h1.0M249.6 83.3h1.0M245.8 44.0h1.0M279.4 73.0h1.0M268.3 56.9h1.0M268.5 55.5h1.0M259.5 67.6h1.0M268.4 63.7h1.0M279.1 76.3h1.0M290.8 42.1h1.0M288.7 49.6h1.0M276.7 55.5h1.0M274.4 61.3h1.0M278.9 87.4h1.0M259.5 71.4h1.0M279.4 76.6h1.0M271.0 84.1h1.0M265.2 47.0h1.0M264.3 68.9h1.0M254.5 63.8h1.0M264.2 75.2h1.0M270.8 84.8h1.0M264.7 62.5h1.0M258.6 82.9h1.0M266.0 52.8h1.0M263.2 63.8h1.0M267.4 82.3h1.0M244.9 94.5h1.0M278.5 68.8h1.0M269.4 89.3h1.0M264.9 98.3h1.0M261.2 69.8h1.0M270.3 77.1h1.0M280.8 69.2h1.0M269.9 57.8h1.0M254.2 66.8h1.0M254.8 59.7h1.0M278.3 82.2h1.0M272.4 57.4h1.0M280.6 56.3h1.0M269.6 97.6h1.0M278.9 82.1h1.0M258.7 68.0h1.0M243.4 57.5h1.0M267.7 55.7h1.0M271.8 70.1h1.0M274.2 54.8h1.0M274.2 84.2h1.0M276.0 62.3h1.0M263.7 63.4h1.0M271.9 44.5h1.0M262.4 79.6h1.0M265.2 75.1h1.0M258.1 83.4h1.0M266.0 83.1h1.0M288.9 75.4h1.0M267.9 43.4h1.0M273.7 57.0h1.0M272.7 45.5h1.0M276.0 58.6h1.0M282.6 88.1h1.0M250.7 74.4h1.0M276.8 54.8h1.0M276.7 73.7h1.0M273.2 53.3h1.0M275.5 69.2h1.0M277.2 56.6h1.0M255.7 43.8h1.0M264.5 61.5h1.0M275.3 47.6h1.0M255.9 49.9h1.0M270.7 66.6h1.0M243.8 95.1h1.0M277.9 96.9h1.0M264.7 79.4h1.0M279.2 49.3h1.0M272.2 75.1h1.0M270.4 45.5h1.0M281.7 86.9h1.0M248.3 81.1h1.0M273.8 97.3h1.0M267.5 68.9h1.0M255.4 62.7h1.0M269.8 44.1h1.0M267.4 26.6h1.0M272.4 94.4h1.0M271.8 62.7h1.0M269.4 71.6h1.0M257.0 79.0h1.0M266.4 67.4h1.0M259.3 87.3h1.0M270.7 73.3h1.0M266.1 53.2h1.0M260.8 82.8h1.0M262.0 66.3h1.0M261.6 71.4h1.0M270.4 37.8h1.0M270.4 76.7h1.0M274.0 95.8h1.0M249.4 58.3h1.0M251.2 43.4h1.0M275.9 53.7h1.0M283.1 81.3h1.0M272.9 69.9h1.0M281.4 59.5h1.0M261.8 72.7h1.0M257.6 71.9h1.0M284.3 76.5h1.0M275.6 67.1h1.0M270.5 70.8h1.0M255.6 85.6h1.0M281.4 101.8h1.0M258.5 63.4h1.0M260.8 55.2h1.0M258.9 59.7h1.0M244.2 78.1h1.0M261.8 77.2h1.0M278.3 57.7h1.0M279.1 61.3h1.0M246.6 92.3h1.0M279.4 75.4h1.0M276.0 53.6h1.0M266.9 63.5h1.0M265.5 64.9h1.0M267.3 80.0h1.0M250.5 68.8h1.0M279.6 97.4h1.0M279.1 76.7h1.0M280.5 103.2h1.0M258.9 83.2h1.0M282.2 67.2h1.0M269.1 32.1h1.0M270.8 52.8h1.0M264.8 67.0h1.0M260.8 68.0h1.0M267.6 79.6h1.0M265.3 47.9h1.0M262.1 62.6h1.0M272.9 84.1h1.0M284.4 60.7h1.0M259.6 70.5h1.0M269.1 63.7h1.0M266.5 53.3h1.0M274.9 77.0h1.0M263.9 58.4h1.0M269.5 83.0h1.0M283.0 109.1h1.0M277.8 84.0h1.0M268.5 72.9h1.0M283.2 46.8h1.0M273.6 63.1h1.0M272.4 73.5h1.0M263.6 74.7h1.0M276.5 64.4h1.0M259.6 59.2h1.0M276.6 83.3h1.0M273.5 85.9h1.0M250.8 56.8h1.0M257.0 62.9h1.0M267.9 37.4h1.0M272.8 76.3h1.0M267.0 69.1h1.0M276.3 71.8h1.0M261.1 71.4h1.0M271.5 66.2h1.0M263.5 77.1h1.0M267.6 62.7h1.0M248.8 45.1h1.0M251.6 34.9h1.0M257.9 72.6h1.0M257.9 70.7h1.0M271.4 71.3h1.0M262.3 68.6h1.0M258.7 87.2h1.0M274.8 63.6h1.0M275.2 43.5h1.0M270.1 69.1h1.0M275.4 68.0h1.0M270.5 84.3h1.0M267.1 81.1h1.0M267.2 74.3h1.0M270.7 75.0h1.0M260.0 101.7h1.0M269.8 78.0h1.0M256.6 83.9h1.0M262.6 60.7h1.0M271.1 107.2h1.0M277.1 54.7h1.0M244.1 68.1h1.0M277.5 69.5h1.0M274.4 72.0h1.0M267.4 74.7h1.0M277.7 74.5h1.0M264.2 84.7h1.0M273.7 82.7h1.0M286.3 76.2h1.0M260.5 66.0h1.0M270.5 70.8h1.0M281.1 59.9h1.0M273.1 58.0h1.0M261.0 66.0h1.0M258.3 80.2h1.0M269.6 55.5h1.0M271.8 85.3h1.0M262.3 53.0h1.0M283.7 58.0h1.0M286.9 47.9h1.0M281.1 59.3h1.0M264.1 60.6h1.0M278.1 85.8h1.0M257.9 107.5h1.0M255.5 58.1h1.0M258.9 61.2h1.0M282.6 84.1h1.0M264.3 51.4h1.0M252.8 84.6h1.0M280.5 72.4h1.0M272.8 64.6h1.0M284.8 91.0h1.0M272.9 65.7h1.0M275.2 46.2h1.0M285.6 89.0h1.0M279.2 100.4h1.0M261.5 97.6h1.0M269.3 79.8h1.0M265.5 57.4h1.0M250.8 69.5h1.0M236.7 56.9h1.0M279.1 66.4h1.0M254.6 33.7h1.0M286.7 102.0h1.0M270.6 53.2h1.0M277.8 53.1h1.0M261.0 53.7h1.0M278.8 64.0h1.0M280.9 68.7h1.0M273.2 69.1h1.0M264.9 92.9h1.0M271.1 53.1h1.0M287.1 66.9h1.0M271.3 65.7h1.0M256.2 63.6h1.0M282.9 26.9h1.0M286.8 52.0h1.0M279.8 67.2h1.0M281.8 84.0h1.0M270.6 53.7h1.0M271.1 66.2h1.0M262.0 45.1h1.0M258.0 71.6h1.0M265.5 61.5h1.0M287.9 99.5h1.0M282.1 70.8h1.0M271.3 69.7h1.0M268.9 63.7h1.0M266.5 57.2h1.0M277.2 99.9h1.0M270.1 59.1h1.0M277.0 63.7h1.0M270.0 58.7h1.0M268.0 49.0h1.0M274.7 80.1h1.0M269.2 78.0h1.0M280.8 79.9h1.0M284.9 47.7h1.0M258.0 96.5h1.0M253.8 78.6h1.0M264.4 80.0h1.0M265.3 88.2h1.0M279.6 58.8h1.0M278.0 70.0h1.0M253.0 98.6h1.0M260.4 45.0h1.0M282.1 66.6h1.0M272.0 73.3h1.0M269.6 73.6h1.0M252.4 98.9h1.0M280.7 64.3h1.0M263.6 50.0h1.0M283.6 38.0h1.0M278.1 72.2h1.0M254.7 92.9h1.0M275.0 92.7h1.0M260.9 62.4h1.0M273.8 65.7h1.0M265.4 73.4h1.0M257.2 47.8h1.0M266.5 86.0h1.0M257.6 72.6h1.0M247.7 71.1h1.0M276.1 70.7h1.0M258.4 51.8h1.0M275.2 59.4h1.0M271.4 68.6h1.0M281.7 70.7h1.0M272.7 63.8h1.0M272.2 94.3h1.0M259.5 96.8h1.0M254.8 66.3h1.0M264.9 63.3h1.0M269.5 101.2h1.0M273.0 61.3h1.0M253.5 90.2h1.0M263.9 98.9h1.0M270.3 47.1h1.0M272.0 56.7h1.0M269.3 32.3h1.0M288.2 58.0h1.0M266.5 69.4h1.0M286.6 24.4h1.0M291.5 76.8h1.0M261.0 74.1h1.0M273.9 83.3h1.0M283.6 62.1h1.0M246.2 57.0h1.0M274.5 67.5h1.0M259.3 77.2h1.0M264.1 49.7h1.0M266.3 73.5h1.0M284.7 66.7h1.0M274.5 63.3h1.0M271.9 74.3h1.0M261.3 52.2h1.0M271.3 97.7h1.0M271.3 65.3h1.0M268.3 75.5h1.0M281.7 59.3h1.0M266.5 85.7h1.0M280.1 78.1h1.0M275.5 61.4h1.0M267.4 55.5h1.0M240.9 66.6h1.0M273.6 82.7h1.0M274.5 90.7h1.0M262.0 50.1h1.0M275.5 69.0h1.0M271.3 78.7h1.0M266.3 54.5h1.0M272.9 59.1h1.0M275.2 56.3h1.0M272.7 57.4h1.0M270.7 72.6h1.0M284.6 65.1h1.0M281.7 82.7h1.0M281.2 68.4h1.0M269.5 90.3h1.0M277.3 63.9h1.0M241.8 68.5h1.0M286.3 66.8h1.0M262.9 71.7h1.0M269.4 62.5h1.0M270.5 62.7h1.0M265.4 63.0h1.0M272.7 61.7h1.0M269.6 61.3h1.0M270.9 60.1h1.0M270.3 49.5h1.0M279.2 58.3h1.0M270.8 68.5h1.0M247.5 63.2h1.0M284.4 84.9h1.0M279.1 62.6h1.0M278.9 46.4h1.0M280.2 49.8h1.0M262.4 56.5h1.0M257.1 44.3h1.0M266.0 81.2h1.0M260.3 52.0h1.0M293.7 105.0h1.0M266.9 61.5h1.0M284.2 80.1h1.0M268.4 41.3h1.0M274.9 50.0h1.0M264.2 80.4h1.0M273.4 71.1h1.0M278.4 48.0h1.0M267.9 71.9h1.0M263.5 85.9h1.0M274.8 79.0h1.0M251.7 66.8h1.0M270.3 58.9h1.0M266.6 85.5h1.0M263.3 75.7h1.0M267.1 58.7h1.0M274.0 67.9h1.0M268.9 57.4h1.0M254.7 85.7h1.0M275.1 52.8h1.0M271.9 40.1h1.0M268.9 90.5h1.0M249.7 68.0h1.0M265.1 78.2h1.0M258.3 84.0h1.0M257.9 80.3h1.0M263.8 83.8h1.0M275.6 79.8h1.0M270.1 52.2h1.0M270.1 78.9h1.0M268.1 73.0h1.0M274.7 65.3h1.0M254.0 54.0h1.0M267.3 81.0h1.0M271.6 112.9h1.0M271.4 26.7h1.0M264.6 40.8h1.0M269.9 55.9h1.0M285.9 59.8h1.0M268.6 73.9h1.0M286.5 111.1h1.0M249.6 74.5h1.0M285.3 79.7h1.0M248.2 66.3h1.0M273.5 47.1h1.0M248.9 60.2h1.0M272.3 50.2h1.0M279.1 77.4h1.0M276.7 115.3h1.0M278.2 38.5h1.0M250.5 67.1h1.0M264.1 65.8h1.0M262.4 53.9h1.0M269.1 48.1h1.0M252.3 68.1h1.0M267.7 80.8h1.0M261.0 59.6h1.0M277.0 64.7h1.0M276.2 58.8h1.0M251.5 67.5h1.0M282.6 77.7h1.0M259.9 67.0h1.0M264.1 100.9h1.0M268.3 64.4h1.0M268.3 54.2h1.0M269.5 66.7h1.0M262.8 94.3h1.0M269.6 90.0h1.0M282.2 54.1h1.0M255.7 66.2h1.0M271.7 63.0h1.0M269.3 51.6h1.0M270.4 72.2h1.0M284.9 79.6h1.0M282.2 89.2h1.0M266.3 66.5h1.0M260.5 76.1h1.0M281.7 76.4h1.0M284.3 85.6h1.0M263.7 64.8h1.0M281.6 76.3h1.0M249.0 100.6h1.0M265.6 47.2h1.0M265.3 59.6h1.0M251.0 89.7h1.0M271.7 44.2h1.0M287.6 49.8h1.0M254.3 39.0h1.0M273.6 66.6h1.0M282.3 100.2h1.0M257.5 74.8h1.0M277.7 87.5h1.0M273.1 72.3h1.0M263.2 68.3h1.0M264.0 92.0h1.0M246.3 73.7h1.0M270.9 76.0h1.0M260.6 55.9h1.0M251.9 93.2h1.0M270.1 29.0h1.0M275.3 89.8h1.0M284.9 70.1h1.0M268.8 64.9h1.0M269.1 50.3h1.0M286.2 68.5h1.0M264.8 33.2h1.0M277.8 48.5h1.0M267.5 56.8h1.0M270.2 44.2h1.0M267.6 87.9h1.0M283.7 60.1h1.0M272.0 67.1h1.0M281.2 78.0h1.0M268.6 77.8h1.0M260.2 58.3h1.0M265.2 75.9h1.0M271.6 72.8h1.0M267.0 55.9h1.0M270.2 58.3h1.0M266.1 74.7h1.0M261.5 61.4h1.0M282.9 73.6h1.0M260.4 66.3h1.0M273.5 78.7h1.0M265.2 69.5h1.0M286.5 78.9h1.0M270.2 85.0h1.0M265.4 67.8h1.0M275.1 81.9h1.0M259.6 87.6h1.0M269.8 104.9h1.0M273.9 48.2h1.0M259.9 47.4h1.0M276.0 49.3h1.0M270.0 74.6h1.0M284.0 59.6h1.0M272.0 74.8h1.0M263.2 83.6h1.0M273.4 106.0h1.0M269.1 83.6h1.0M249.4 25.7h1.0M253.5 75.0h1.0M270.3 80.6h1.0M278.5 55.7h1.0M287.0 74.8h1.0M263.9 46.7h1.0M277.8 91.3h1.0M274.8 96.8h1.0M261.6 51.3h1.0M285.8 54.4h1.0M258.5 84.1h1.0M270.3 61.6h1.0M268.1 48.7h1.0M275.4 64.2h1.0M266.7 45.1h1.0M279.1 75.5h1.0M274.2 60.2h1.0M270.9 60.8h1.0M256.7 81.5h1.0M263.2 90.6h1.0M268.4 79.9h1.0M272.3 33.5h1.0M263.8 29.4h1.0M280.9 56.1h1.0M288.2 100.5h1.0M276.7 58.0h1.0M273.5 70.5h1.0M254.8 74.7h1.0M277.0 28.7h1.0M270.2 42.0h1.0M267.5 108.5h1.0M276.8 110.6h1.0M266.0 73.7h1.0M261.0 69.8h1.0M272.2 70.1h1.0M282.9 79.8h1.0M264.9 82.0h1.0M274.5 62.7h1.0M262.2 80.8h1.0M259.5 91.1h1.0M258.1 82.3h1.0M290.8 94.9h1.0M287.8 79.1h1.0M281.5 44.2h1.0M258.8 54.8h1.0M272.4 62.0h1.0M275.1 81.6h1.0M276.0 62.0h1.0M260.9 92.3h1.0M278.6 85.8h1.0M289.9 93.1h1.0M282.2 73.9h1.0M277.8 76.2h1.0M272.9 85.3h1.0M264.1 94.2h1.0M270.0 29.5h1.0M288.7 53.8h1.0M266.6 61.8h1.0M274.3 77.4h1.0M280.4 78.7h1.0M276.1 81.7h1.0M284.5 50.9h1.0M259.6 71.7h1.0M272.2 73.3h1.0M265.5 67.5h1.0M266.0 48.9h1.0M268.3 85.1h1.0M270.9 73.7h1.0M277.4 84.8h1.0M263.5 55.7h1.0M274.1 64.0h1.0M273.6 75.7h1.0M281.4 83.0h1.0M270.6 51.9h1.0M279.4 38.9h1.0M275.1 71.5h1.0M249.4 68.8h1.0M282.1 73.8h1.0M267.7 56.2h1.0M261.2 67.9h1.0M266.5 66.7h1.0M270.1 46.9h1.0M264.3 60.9h1.0M270.4 75.0h1.0M239.7 64.9h1.0M258.7 73.5h1.0M270.9 57.6h1.0M286.3 76.0h1.0M288.6 76.2h1.0M266.9 88.4h1.0M272.0 32.6h1.0M257.2 96.5h1.0M270.4 84.0h1.0M275.3 81.2h1.0M251.1 66.8h1.0M276.3 60.2h1.0M273.9 81.9h1.0M253.9 84.5h1.0M273.9 66.9h1.0M250.4 112.0h1.0M246.7 65.6h1.0M274.7 52.1h1.0M277.5 42.1h1.0M256.1 49.8h1.0M270.2 51.4h1.0M273.6 89.5h1.0M273.4 78.6h1.0M271.1 73.7h1.0M285.6 83.3h1.0M274.7 54.8h1.0M269.0 57.3h1.0M269.8 88.2h1.0M296.7 74.8h1.0M279.7 62.4h1.0M269.8 30.2h1.0M261.6 84.5h1.0M269.2 82.5h1.0M277.6 57.0h1.0M266.0 78.3h1.0M260.8 65.3h1.0M279.1 44.2h1.0M280.6 67.8h1.0M267.1 91.7h1.0M259.6 58.5h1.0M257.5 81.0h1.0M263.7 68.2h1.0M276.4 56.0h1.0M265.7 89.4h1.0M262.6 58.9h1.0M277.8 61.0h1.0M276.6 69.7h1.0M279.3 43.0h1.0M285.4 56.3h1.0M271.4 54.0h1.0M261.3 60.2h1.0M282.7 62.1h1.0M268.6 100.9h1.0M267.3 68.6h1.0M254.4 93.8h1.0M263.9 36.7h1.0M256.2 71.8h1.0M262.6 52.9h1.0M285.3 87.0h1.0M262.0 83.7h1.0M266.7 57.9h1.0M288.1 84.6h1.0M284.0 56.3h1.0M288.8 31.6h1.0M251.6 89.8h1.0M286.7 69.6h1.0M253.5 61.1h1.0M271.8 92.0h1.0M268.5 72.0h1.0M274.1 45.0h1.0M259.8 91.7h1.0M262.6 79.1h1.0M272.7 94.0h1.0M255.5 55.1h1.0M243.3 84.5h1.0M271.3 91.5h1.0M269.4 78.2h1.0M269.1 81.1h1.0M267.3 38.6h1.0M275.3 115.0h1.0M241.9 38.8h1.0M284.4 75.4h1.0M277.8 75.0h1.0M250.5 59.7h1.0M282.4 54.8h1.0M270.4 74.5h1.0M286.7 84.1h1.0M277.0 78.2h1.0M264.4 84.3h1.0M254.4 78.0h1.0M273.4 88.5h1.0M272.0 81.0h1.0M266.6 72.6h1.0M281.0 89.5h1.0M268.9 80.4h1.0M278.1 73.1h1.0M268.0 77.0h1.0M249.7 87.9h1.0M268.7 90.7h1.0M245.3 60.5h1.0M280.6 71.9h1.0M254.4 67.8h1.0M275.4 42.8h1.0M277.0 97.1h1.0M271.2 52.8h1.0M257.1 50.7h1.0M274.3 52.1h1.0M288.8 81.5h1.0M277.4 92.1h1.0M252.3 52.2h1.0M267.8 53.7h1.0M268.6 53.3h1.0M282.2 63.0h1.0M270.7 60.6h1.0M267.9 57.1h1.0M273.7 35.2h1.0M273.0 80.6h1.0M275.2 51.3h1.0M264.9 83.1h1.0M261.1 63.0h1.0M273.0 64.6h1.0M253.2 43.0h1.0M248.6 55.9h1.0M274.2 54.9h1.0M255.8 84.8h1.0M248.9 18.4h1.0M279.8 79.1h1.0M266.9 68.1h1.0M261.1 64.3h1.0M251.7 64.4h1.0M257.0 73.7h1.0M272.4 84.0h1.0M256.8 88.5h1.0M273.4 110.1h1.0M259.5 76.2h1.0M274.4 67.1h1.0M266.3 68.2h1.0M263.3 71.7h1.0M272.2 77.0h1.0M282.7 57.8h1.0M276.4 39.4h1.0M275.6 66.1h1.0M281.0 81.0h1.0M271.2 91.7h1.0M267.5 87.3h1.0M279.5 98.1h1.0M272.1 93.8h1.0M290.2 83.2h1.0M274.3 57.8h1.0M278.3 66.3h1.0M283.0 81.8h1.0M253.4 63.0h1.0M274.7 65.7h1.0M268.3 67.6h1.0M272.9 71.9h1.0M281.0 86.3h1.0M265.3 66.8h1.0M249.0 60.8h1.0M277.7 49.2h1.0M261.8 74.0h1.0M270.1 76.6h1.0M260.6 49.6h1.0M264.6 73.8h1.0M245.5 62.7h1.0M266.6 42.5h1.0M275.3 87.6h1.0M278.3 81.5h1.0M266.0 51.2h1.0M264.6 42.2h1.0M282.1 79.9h1.0M260.9 51.2h1.0M276.9 71.3h1.0M253.6 51.5h1.0M274.3 55.1h1.0M281.8 61.1h1.0M283.4 52.9h1.0M273.6 34.0h1.0M263.4 55.6h1.0M270.1 60.1h1.0M275.1 103.8h1.0M273.9 40.9h1.0M278.7 102.3h1.0M270.1 101.5h1.0M281.6 96.7h1.0M254.6 69.2h1.0M288.2 63.1h1.0M269.5 50.2h1.0M287.9 63.9h1.0M281.5 100.2h1.0M270.7 63.6h1.0M251.0 60.2h1.0M258.7 82.2h1.0M268.3 48.4h1.0M259.6 83.1h1.0M261.2 61.0h1.0M269.2 86.6h1.0M268.9 67.4h1.0M259.4 45.8h1.0M288.4 53.7h1.0M275.4 68.7h1.0M282.0 52.4h1.0M278.8 86.7h1.0M281.9 37.8h1.0M271.4 57.0h1.0M272.0 77.8h1.0M271.1 88.9h1.0M267.9 67.3h1.0M266.8 68.9h1.0M269.4 88.4h1.0M275.6 69.2h1.0M251.6 50.1h1.0M284.1 67.3h1.0M257.2 58.4h1.0M252.3 85.6h1.0M284.0 67.4h1.0M268.3 44.1h1.0M254.9 44.3h1.0M270.9 71.8h1.0M256.8 81.4h1.0M276.8 75.9h1.0M271.7 87.3h1.0M265.4 80.2h1.0M262.4 65.7h1.0M284.7 85.8h1.0M268.4 46.4h1.0M283.5 69.1h1.0M269.9 85.5h1.0M275.0 69.9h1.0M265.3 69.0h1.0M261.8 77.8h1.0M271.9 72.9h1.0M270.3 76.7h1.0M268.8 96.7h1.0M280.3 63.2h1.0M265.2 71.0h1.0M258.6 75.9h1.0M273.8 83.2h1.0M267.4 60.0h1.0M265.4 93.4h1.0M256.5 89.5h1.0M276.1 84.1h1.0M265.6 66.4h1.0M275.4 60.8h1.0M269.0 27.7h1.0M270.6 72.1h1.0M267.6 69.7h1.0M267.0 73.9h1.0M274.4 86.2h1.0M263.8 35.6h1.0M272.4 45.5h1.0M251.1 78.9h1.0M292.6 80.3h1.0M251.6 51.1h1.0M282.0 61.5h1.0M275.3 102.3h1.0M273.0 60.3h1.0M267.6 49.0h1.0M267.3 88.7h1.0M281.4 59.3h1.0M272.4 49.4h1.0M273.1 60.1h1.0M263.7 70.8h1.0M267.7 77.5h1.0M264.3 81.5h1.0M267.1 49.9h1.0M270.7 62.7h1.0M276.8 63.5h1.0M270.4 82.7h1.0M260.5 56.5h1.0M267.6 70.5h1.0M278.7 83.0h1.0M272.3 83.0h1.0M278.9 99.4h1.0M262.3 83.3h1.0M275.2 74.9h1.0M275.2 57.9h1.0M273.9 62.3h1.0M277.8 15.5h1.0M262.6 85.6h1.0M256.9 85.6h1.0M277.2 70.8h1.0M260.2 84.1h1.0M262.5 48.0h1.0M290.6 57.3h1.0M270.8 66.2h1.0M278.4 61.3h1.0M254.4 27.8h1.0M267.3 71.6h1.0M268.3 70.6h1.0M279.2 68.0h1.0M276.0 63.8h1.0M265.0 58.4h1.0M283.8 93.3h1.0M276.9 65.7h1.0M273.7 77.4h1.0M269.8 76.7h1.0M265.3 80.8h1.0M273.3 63.9h1.0M250.8 59.3h1.0M253.1 73.1h1.0M276.2 79.4h1.0M293.2 69.4h1.0M267.1 74.6h1.0M257.4 65.1h1.0M264.9 68.7h1.0M279.6 67.3h1.0M282.3 51.0h1.0M261.1 66.1h1.0M270.0 51.3h1.0M276.5 65.5h1.0M280.4 56.0h1.0M272.3 67.8h1.0M267.2 56.0h1.0M286.7 46.5h1.0M276.2 73.0h1.0M263.3 67.3h1.0M275.8 50.9h1.0M271.2 78.8h1.0M270.7 59.9h1.0M258.1 45.9h1.0M263.1 24.8h1.0M268.6 62.1h1.0M268.7 11.3h1.0M253.2 33.1h1.0M255.9 98.7h1.0M282.3 73.6h1.0M275.5 78.9h1.0M253.6 53.8h1.0M257.1 88.4h1.0M248.5 49.5h1.0M268.7 55.5h1.0M260.7 58.9h1.0M271.7 75.3h1.0M285.8 61.6h1.0M276.4 59.9h1.0M274.2 54.4h1.0M268.3 78.0h1.0M258.0 69.7h1.0M264.4 44.6h1.0M264.6 78.2h1.0M267.5 66.0h1.0M287.3 76.3h1.0M280.4 47.6h1.0M263.5 64.5h1.0M261.1 46.8h1.0M262.2 50.5h1.0M254.1 65.0h1.0M268.7 79.4h1.0M246.4 28.4h1.0M264.9 66.6h1.0M257.4 79.1h1.0M267.4 65.2h1.0M245.6 90.4h1.0M275.0 91.5h1.0M273.2 64.3h1.0M261.7 97.3h1.0M267.5 66.3h1.0M278.1 48.7h1.0M263.0 71.1h1.0M261.4 27.5h1.0M263.3 71.4h1.0M265.8 42.6h1.0M280.4 64.9h1.0M268.6 77.1h1.0M268.6 81.2h1.0M268.8 74.5h1.0M268.5 61.4h1.0M267.4 107.2h1.0M261.8 94.4h1.0M259.0 33.7h1.0M283.6 77.1h1.0M261.9 55.7h1.0M266.3 87.1h1.0M265.9 71.2h1.0M260.2 69.0h1.0M255.9 65.8h1.0M272.4 85.0h1.0M266.3 78.8h1.0M281.1 95.9h1.0M279.7 82.1h1.0M247.8 63.1h1.0M256.8 96.9h1.0M256.0 66.3h1.0M288.9 23.4h1.0M262.8 65.2h1.0M266.4 57.4h1.0M258.6 53.3h1.0M274.4 55.8h1.0M273.5 85.9h1.0M289.1 81.1h1.0M267.7 52.6h1.0M279.9 64.5h1.0M259.1 84.8h1.0M275.0 46.5h1.0M269.9 53.4h1.0M263.8 75.5h1.0M267.5 66.0h1.0M271.1 93.1h1.0M266.3 84.3h1.0M266.5 47.7h1.0M263.8 73.4h1.0M256.1 64.5h1.0M272.0 83.3h1.0M234.0 53.5h1.0M263.5 64.1h1.0M275.3 58.4h1.0M270.5 73.8h1.0M275.5 66.5h1.0M267.3 44.8h1.0M274.7 73.9h1.0M285.0 52.7h1.0M268.6 72.8h1.0M269.0 72.5h1.0M267.9 58.8h1.0M252.5 87.8h1.0M272.9 75.2h1.0M254.1 86.7h1.0M267.2 70.4h1.0M278.2 53.1h1.0M271.2 59.8h1.0M249.4 73.8h1.0M268.1 41.5h1.0M260.8 76.4h1.0M253.6 65.9h1.0M271.9 76.1h1.0M273.3 74.9h1.0M282.5 94.8h1.0M272.2 59.7h1.0M273.2 66.0h1.0M281.1 63.6h1.0M268.3 71.2h1.0M274.8 48.7h1.0M276.6 78.6h1.0M268.0 48.4h1.0M269.2 64.2h1.0M291.8 85.0h1.0M282.7 55.4h1.0M267.3 92.5h1.0M281.6 100.2h1.0M262.7 52.1h1.0M280.5 62.6h1.0M278.0 56.4h1.0M260.3 69.9h1.0M285.7 75.3h1.0M286.1 76.1h1.0M285.6 112.4h1.0M284.6 71.3h1.0M268.7 46.0h1.0M276.8 59.8h1.0M279.7 49.0h1.0M279.1 45.3h1.0M275.9 58.0h1.0M274.8 78.7h1.0M283.1 85.6h1.0M273.4 108.9h1.0M253.1 52.7h1.0M280.4 71.3h1.0M274.8 53.7h1.0M256.6 33.2h1.0M265.9 62.5h1.0M261.3 58.8h1.0M255.9 73.3h1.0M288.9 68.5h1.0M282.0 37.7h1.0M259.0 49.6h1.0M282.7 68.6h1.0M276.0 67.3h1.0M281.7 77.2h1.0M271.8 87.9h1.0M276.8 52.6h1.0M277.3 65.9h1.0M265.3 80.4h1.0M257.5 84.3h1.0M277.1 64.3h1.0M268.1 48.5h1.0M265.0 93.3h1.0M267.1 66.0h1.0M281.7 69.2h1.0M268.2 87.0h1.0M287.3 47.1h1.0M258.1 71.6h1.0M278.0 89.9h1.0M281.0 40.4h1.0M245.6 68.7h1.0M263.6 59.9h1.0M249.9 64.2h1.0M270.8 74.6h1.0M279.0 81.8h1.0M272.2 74.4h1.0M272.2 55.9h1.0M251.0 65.5h1.0M274.4 79.5h1.0M273.1 85.0h1.0M273.4 71.7h1.0M273.5 54.7h1.0M279.3 84.9h1.0M259.3 90.1h1.0M281.0 59.5h1.0M260.1 74.3h1.0M280.1 100.1h1.0M262.6 54.2h1.0M271.0 98.4h1.0M272.6 77.1h1.0M270.4 55.5h1.0M269.1 45.5h1.0M262.4 75.8h1.0M278.5 56.6h1.0M281.7 83.0h1.0M271.4 107.9h1.0M264.2 68.7h1.0M262.7 92.1h1.0M256.4 78.5h1.0M265.8 68.5h1.0M251.9 75.5h1.0M247.6 83.0h1.0M266.0 87.0h1.0M273.3 39.0h1.0M263.8 54.1h1.0M258.8 55.5h1.0M277.5 90.7h1.0M266.1 50.5h1.0M279.5 77.8h1.0M275.7 76.5h1.0M263.4 88.0h1.0M271.4 59.4h1.0M276.3 72.9h1.0M268.5 59.2h1.0M279.8 60.0h1.0M290.7 77.5h1.0M256.3 49.5h1.0M267.3 68.8h1.0M264.4 72.3h1.0M285.8 63.9h1.0M283.0 78.7h1.0M271.2 43.4h1.0M275.0 82.4h1.0M274.4 48.0h1.0M270.7 63.7h1.0M281.1 52.7h1.0M260.6 90.0h1.0M269.6 43.4h1.0M267.1 62.6h1.0M278.0 71.9h1.0M280.6 51.3h1.0M266.6 69.0h1.0M266.7 86.1h1.0M264.2 70.6h1.0M267.0 61.3h1.0M263.9 58.0h1.0M262.0 48.8h1.0M277.4 48.2h1.0M268.9 51.8h1.0M284.1 67.3h1.0M290.3 70.5h1.0M270.8 73.9h1.0M275.3 89.1h1.0M276.9 57.9h1.0M256.6 58.1h1.0M259.2 65.9h1.0M285.4 54.7h1.0M249.2 68.6h1.0M296.9 73.9h1.0M281.2 94.2h1.0M273.5 75.0h1.0M278.6 65.6h1.0M279.3 60.2h1.0M261.4 72.0h1.0M255.6 74.8h1.0M267.3 75.5h1.0M274.7 63.1h1.0M270.1 76.9h1.0M264.1 76.0h1.0M260.8 81.0h1.0M259.5 73.1h1.0M268.3 77.2h1.0M254.7 75.1h1.0M270.0 41.3h1.0M261.3 71.2h1.0M267.9 102.4h1.0M256.1 73.6h1.0M267.7 69.7h1.0M274.5 53.2h1.0M264.7 38.9h1.0M260.6 81.7h1.0M279.7 67.5h1.0M261.0 74.1h1.0M249.9 71.0h1.0M261.4 55.9h1.0M263.8 68.0h1.0M287.1 70.5h1.0M283.4 75.3h1.0M278.7 40.0h1.0M272.2 75.9h1.0M276.0 70.8h1.0M280.8 48.0h1.0M266.4 59.9h1.0M270.2 66.2h1.0M266.4 63.2h1.0M261.7 52.5h1.0M268.4 59.5h1.0M280.3 74.5h1.0M264.8 29.0h1.0M267.9 82.0h1.0M267.0 63.8h1.0M264.7 70.2h1.0M268.4 77.1h1.0M246.1 63.4h1.0M255.7 81.2h1.0M278.2 49.3h1.0M259.6 60.0h1.0M271.0 85.4h1.0M267.9 75.2h1.0M274.1 66.4h1.0M278.5 84.6h1.0M265.8 62.8h1.0M263.8 57.9h1.0M274.7 91.9h1.0M275.6 72.7h1.0M267.2 80.1h1.0M279.7 77.4h1.0M274.8 93.6h1.0M280.1 61.6h1.0M264.9 83.9h1.0M276.1 67.9h1.0M285.2 21.5h1.0M285.7 47.9h1.0M289.7 65.9h1.0M264.6 56.9h1.0M270.0 45.6h1.0M264.4 84.0h1.0M280.2 79.6h1.0M273.3 70.6h1.0M263.3 69.3h1.0M267.4 61.7h1.0M272.4 78.5h1.0M261.1 83.3h1.0M256.7 68.5h1.0M268.1 68.0h1.0M277.8 37.1h1.0M265.8 74.8h1.0M260.9 91.8h1.0M282.7 51.7h1.0M262.8 67.5h1.0M249.5 93.5h1.0M274.9 76.8h1.0M282.8 98.3h1.0M253.6 75.4h1.0M277.9 65.6h1.0M257.4 50.5h1.0M259.6 51.7h1.0M259.5 73.4h1.0M280.9 79.3h1.0M252.3 90.9h1.0M255.6 73.2h1.0M239.9 74.7h1.0M269.2 66.6h1.0M278.1 62.7h1.0M266.4 50.0h1.0M276.2 44.5h1.0M255.5 97.8h1.0M273.3 75.1h1.0M276.2 87.6h1.0M276.9 86.9h1.0M270.9 83.1h1.0M274.4 50.7h1.0M269.0 74.2h1.0M271.8 83.6h1.0M286.8 64.9h1.0M265.7 57.7h1.0M253.1 73.4h1.0M271.5 98.7h1.0M275.9 59.4h1.0M268.1 29.0h1.0M260.3 63.4h1.0M269.0 62.8h1.0M264.4 78.8h1.0M268.3 71.1h1.0M295.0 70.8h1.0M268.5 47.1h1.0M281.7 43.0h1.0M272.8 64.3h1.0M284.9 84.9h1.0M276.3 100.8h1.0M278.8 89.4h1.0M264.6 63.2h1.0M267.0 56.5h1.0M261.5 48.1h1.0M272.7 59.2h1.0M270.8 77.1h1.0M277.8 59.3h1.0M279.6 101.6h1.0M273.6 70.3h1.0M279.8 88.4h1.0M269.9 72.0h1.0M265.8 81.5h1.0M254.4 79.2h1.0M273.4 71.9h1.0M262.8 78.1h1.0M271.1 48.3h1.0M265.5 66.0h1.0M268.3 22.9h1.0M270.8 78.4h1.0M281.3 54.0h1.0M268.5 46.6h1.0M275.4 86.4h1.0M282.0 30.8h1.0M258.4 66.5h1.0M261.8 66.1h1.0M257.8 67.7h1.0M271.3 73.9h1.0M259.2 72.2h1.0M283.5 105.9h1.0M251.2 60.5h1.0M273.1 44.4h1.0M274.1 57.7h1.0M279.5 94.6h1.0M265.1 79.8h1.0M255.6 76.7h1.0M269.2 63.2h1.0M270.3 73.0h1.0M265.7 82.4h1.0M275.4 79.5h1.0M281.8 99.1h1.0M267.9 57.9h1.0M276.0 74.9h1.0M276.9 57.4h1.0M239.1 85.3h1.0M251.4 69.5h1.0M269.8 103.6h1.0M286.3 52.3h1.0M261.9 70.8h1.0M276.5 60.4h1.0M265.1 51.9h1.0M265.3 70.0h1.0M264.7 61.2h1.0M273.5 94.4h1.0M267.5 89.7h1.0M262.7 91.4h1.0M260.2 64.5h1.0M258.1 58.6h1.0M247.2 92.2h1.0M278.3 81.6h1.0M271.1 63.6h1.0M264.9 69.1h1.0M284.3 68.8h1.0M262.9 65.9h1.0M270.6 78.0h1.0M276.3 54.3h1.0M256.3 73.2h1.0M267.4 63.0h1.0M274.3 68.0h1.0M285.9 28.7h1.0M270.0 59.0h1.0M262.6 46.5h1.0M252.4 69.4h1.0M279.8 89.3h1.0M271.2 72.3h1.0M267.4 69.6h1.0M281.1 89.2h1.0M246.4 64.6h1.0M268.0 56.8h1.0M253.6 96.0h1.0M253.0 20.4h1.0M287.7 62.9h1.0M254.5 82.6h1.0M269.7 46.4h1.0M273.9 78.7h1.0M265.9 45.6h1.0M284.3 87.9h1.0M246.1 74.8h1.0M249.1 43.0h1.0M284.5 68.6h1.0M262.9 76.1h1.0M259.2 41.2h1.0M274.3 60.1h1.0M249.6 70.3h1.0M270.8 52.9h1.0M297.7 88.1h1.0M276.9 32.2h1.0M255.4 54.5h1.0M266.3 41.6h1.0M277.4 62.5h1.0M274.9 69.9h1.0M289.5 73.8h1.0M268.3 38.8h1.0M255.6 101.6h1.0M249.6 73.2h1.0M270.6 66.8h1.0M267.4 44.6h1.0M284.4 90.8h1.0M276.6 69.2h1.0M260.1 74.4h1.0M260.3 52.0h1.0M266.6 92.0h1.0M266.6 41.2h1.0M279.2 37.6h1.0M283.4 78.3h1.0M249.6 70.0h1.0M268.6 63.0h1.0M264.2 72.6h1.0M274.9 73.3h1.0M278.3 62.7h1.0M269.8 49.1h1.0M266.6 87.9h1.0M266.1 57.0h1.0M265.5 82.0h1.0M277.0 62.8h1.0M278.2 62.9h1.0M267.3 80.5h1.0M271.3 72.1h1.0M275.8 68.4h1.0M259.9 67.4h1.0M269.1 37.6h1.0M265.3 74.7h1.0M284.0 78.3h1.0M256.6 67.8h1.0M259.0 60.2h1.0M277.7 83.2h1.0M289.8 75.3h1.0M265.2 64.2h1.0M264.3 88.6h1.0M253.3 81.4h1.0M274.6 68.8h1.0M269.2 67.6h1.0M270.3 68.4h1.0M260.9 85.4h1.0M278.4 69.1h1.0M274.6 66.5h1.0M269.2 45.9h1.0M261.3 67.3h1.0M282.3 73.7h1.0M265.7 83.6h1.0M282.7 88.1h1.0M263.3 87.2h1.0M267.2 81.6h1.0M260.7 83.2h1.0M284.1 52.5h1.0M274.3 69.5h1.0M279.6 78.9h1.0M289.5 60.7h1.0M245.0 78.2h1.0M249.9 62.0h1.0M264.6 69.6h1.0M265.8 68.4h1.0M269.3 101.7h1.0M289.5 58.7h1.0M274.7 88.4h1.0M270.4 59.5h1.0M265.4 64.8h1.0M256.1 86.8h1.0M255.6 64.1h1.0M277.1 94.9h1.0M259.2 77.3h1.0M272.5 73.3h1.0M283.1 97.7h1.0M273.3 69.1h1.0M260.1 56.6h1.0M282.7 67.2h1.0M268.5 55.9h1.0M252.7 74.6h1.0M264.7 79.7h1.0M276.1 41.2h1.0M252.3 51.4h1.0M269.6 63.4h1.0M272.3 101.6h1.0M264.7 57.2h1.0M279.4 55.9h1.0M275.4 34.9h1.0M264.5 66.7h1.0M272.0 13.5h1.0M284.3 55.9h1.0M266.2 57.9h1.0M282.3 76.4h1.0M270.2 74.2h1.0M277.4 62.5h1.0M270.1 64.2h1.0M268.2 84.8h1.0M286.6 52.7h1.0M261.2 58.8h1.0M254.5 80.9h1.0M260.0 75.7h1.0M284.2 84.2h1.0M255.7 67.2h1.0M275.8 91.2h1.0M279.7 71.9h1.0M265.4 43.8h1.0M266.5 42.1h1.0M269.5 68.8h1.0M255.1 64.3h1.0M270.9 48.8h1.0M259.7 59.9h1.0M269.3 68.4h1.0M282.1 47.4h1.0M268.1 78.9h1.0M276.2 47.8h1.0M285.4 52.9h1.0M268.2 47.5h1.0M279.9 41.0h1.0M271.5 71.8h1.0M269.6 71.0h1.0M265.9 66.9h1.0M284.2 71.5h1.0M258.5 56.7h1.0M283.7 66.5h1.0M263.7 84.2h1.0M281.7 105.5h1.0M277.9 80.5h1.0M269.9 64.4h1.0M263.0 88.1h1.0M283.1 69.6h1.0M268.5 69.6h1.0M259.8 66.0h1.0M262.8 44.9h1.0M250.0 69.3h1.0M267.4 72.3h1.0M261.7 67.7h1.0M261.8 46.4h1.0M281.4 60.2h1.0M264.9 58.4h1.0M270.5 101.3h1.0M274.9 84.6h1.0M278.4 65.0h1.0M286.5 87.4h1.0M288.1 56.6h1.0M276.8 77.7h1.0M267.2 73.1h1.0M255.7 67.6h1.0M263.1 51.7h1.0M256.2 53.5h1.0M252.4 32.8h1.0M256.5 95.9h1.0M259.8 87.5h1.0M288.1 76.1h1.0M271.4 45.8h1.0M265.3 57.9h1.0M270.5 86.8h1.0M251.1 83.6h1.0M261.2 34.6h1.0M275.4 60.7h1.0M271.8 86.5h1.0M256.5 86.4h1.0M282.1 53.8h1.0M284.1 81.9h1.0M278.0 72.2h1.0M271.8 72.1h1.0M271.8 83.4h1.0M269.0 61.2h1.0M279.8 67.2h1.0M247.9 67.8h1.0M259.0 62.9h1.0M260.4 68.1h1.0M270.8 58.4h1.0M256.1 97.8h1.0M263.1 36.4h1.0M266.0 49.3h1.0M277.6 67.7h1.0M277.5 76.9h1.0M274.9 65.0h1.0M260.6 55.8h1.0M273.7 87.7h1.0M272.4 79.3h1.0M261.7 39.5h1.0M264.0 73.7h1.0M296.9 67.4h1.0M268.3 76.8h1.0M279.2 68.6h1.0M274.2 78.7h1.0M257.5 85.1h1.0M264.2 61.3h1.0M266.6 79.1h1.0M265.0 78.1h1.0M270.2 59.5h1.0M254.8 48.3h1.0M255.9 62.2h1.0M287.1 68.5h1.0M262.6 70.5h1.0M274.4 63.8h1.0M241.3 82.0h1.0M277.1 96.6h1.0M273.8 50.5h1.0M280.3 74.0h1.0M270.3 78.6h1.0M277.5 42.1h1.0M257.3 56.0h1.0M268.8 85.1h1.0M264.7 64.9h1.0M277.8 67.1h1.0M271.9 61.3h1.0M271.5 90.0h1.0M261.6 76.1h1.0M273.6 58.7h1.0M269.2 63.7h1.0M279.1 77.9h1.0M246.7 67.2h1.0M272.8 64.4h1.0M272.9 102.8h1.0M272.9 84.9h1.0M281.5 57.1h1.0M274.3 62.8h1.0M264.9 66.5h1.0M273.3 64.2h1.0M257.1 100.8h1.0M274.0 63.5h1.0M295.5 77.3h1.0M267.4 38.4h1.0M271.8 102.2h1.0M290.7 67.6h1.0M268.6 81.3h1.0M288.1 77.2h1.0M272.8 85.8h1.0M260.3 83.7h1.0M276.4 74.9h1.0M257.0 77.4h1.0M267.2 90.3h1.0M267.2 41.6h1.0M286.1 52.6h1.0M265.1 56.3h1.0M255.5 78.4h1.0M256.6 41.8h1.0M283.7 36.9h1.0M271.5 98.0h1.0M269.8 40.6h1.0M280.0 92.4h1.0M271.5 59.5h1.0M263.0 67.9h1.0M263.2 63.3h1.0M272.5 58.4h1.0M259.3 86.0h1.0M277.7 68.4h1.0M275.7 82.1h1.0M250.8 60.6h1.0M277.8 94.7h1.0M276.5 43.3h1.0M261.6 45.5h1.0M259.0 69.1h1.0M259.4 54.2h1.0M268.3 38.6h1.0M277.2 48.9h1.0M265.0 57.2h1.0M266.4 84.2h1.0M263.2 71.3h1.0M265.0 36.7h1.0M268.3 64.0h1.0M260.6 57.7h1.0M265.5 69.8h1.0M269.8 49.6h1.0M244.2 34.7h1.0M248.7 78.1h1.0M263.9 54.6h1.0M279.3 56.6h1.0M269.9 74.1h1.0M278.0 66.6h1.0M275.9 35.4h1.0M277.3 99.0h1.0M279.2 80.8h1.0M266.1 54.2h1.0M274.6 65.6h1.0M274.1 99.7h1.0M267.9 57.7h1.0M273.2 72.4h1.0M253.8 104.1h1.0M265.3 82.6h1.0M285.4 70.4h1.0M286.7 84.0h1.0M264.6 73.1h1.0M274.6 68.1h1.0M280.4 47.9h1.0M272.1 52.1h1.0M251.6 60.4h1.0M281.8 80.0h1.0M265.8 85.3h1.0M269.9 34.4h1.0M257.5 64.1h1.0M260.7 79.4h1.0M277.8 51.9h1.0M253.6 55.9h1.0M256.6 74.7h1.0M264.5 65.0h1.0M269.7 42.5h1.0M278.7 97.2h1.0M278.5 78.7h1.0M276.3 75.3h1.0M260.4 72.6h1.0M261.5 103.6h1.0M264.5 76.4h1.0M270.5 61.3h1.0M276.1 72.3h1.0M264.1 78.0h1.0M274.2 76.5h1.0M260.1 64.5h1.0M280.7 73.7h1.0M281.8 35.6h1.0M259.1 52.8h1.0M255.7 71.0h1.0M275.9 67.3h1.0M277.8 100.3h1.0M273.5 72.7h1.0M281.5 48.7h1.0M273.3 76.3h1.0M278.3 36.9h1.0M265.4 63.4h1.0M279.2 81.8h1.0M267.1 76.1h1.0M272.6 54.6h1.0M286.4 66.4h1.0M261.1 81.9h1.0M275.3 69.9h1.0M266.0 72.2h1.0M278.5 110.0h1.0M278.7 38.2h1.0M265.0 71.6h1.0M268.4 77.2h1.0M259.0 92.6h1.0M258.0 103.1h1.0M236.5 91.2h1.0M291.4 38.6h1.0M249.5 84.9h1.0M267.3 96.3h1.0M263.6 81.1h1.0M262.6 62.2h1.0M257.8 79.6h1.0M215.7 60.2h1.0M267.1 38.8h1.0M250.5 69.1h1.0M260.5 75.2h1.0M266.5 64.7h1.0M287.8 51.8h1.0M264.3 54.0h1.0M255.2 56.8h1.0M233.2 61.6h1.0M241.6 91.8h1.0M226.5 46.3h1.0M276.1 70.9h1.0M274.0 66.7h1.0M285.7 64.1h1.0M260.8 70.0h1.0M272.5 44.3h1.0M258.3 67.7h1.0M233.6 102.7h1.0M223.9 78.9h1.0M283.4 71.3h1.0M260.8 40.3h1.0M245.9 89.7h1.0M268.3 63.3h1.0M233.0 40.4h1.0M238.0 63.1h1.0M267.1 73.1h1.0M255.0 75.9h1.0M288.9 96.0h1.0M269.0 32.3h1.0M273.2 83.5h1.0M250.2 96.4h1.0M259.5 79.3h1.0M303.5 126.7h1.0M269.4 62.0h1.0M260.8 83.3h1.0M285.4 74.5h1.0M260.2 95.0h1.0M257.7 37.2h1.0M223.0 95.2h1.0M244.4 66.3h1.0M269.5 74.6h1.0M225.6 61.3h1.0M258.8 69.8h1.0M311.2 58.2h1.0M270.8 121.5h1.0M261.5 53.2h1.0M224.7 67.9h1.0M261.7 99.5h1.0M261.3 67.3h1.0M236.9 86.8h1.0M291.8 72.0h1.0M248.0 29.8h1.0M260.6 44.3h1.0M238.6 66.3h1.0M266.0 59.3h1.0M247.0 96.6h1.0M231.9 56.8h1.0M280.7 101.0h1.0M255.5 65.8h1.0M284.2 73.6h1.0M276.8 86.7h1.0M229.2 54.4h1.0M279.6 72.7h1.0M246.8 72.0h1.0M244.1 81.7h1.0M276.9 100.0h1.0M245.4 65.5h1.0M294.8 105.2h1.0M246.6 52.6h1.0M258.3 73.9h1.0M252.4 60.7h1.0M252.8 62.8h1.0M269.8 87.7h1.0M269.3 69.7h1.0M252.6 87.2h1.0M267.0 57.5h1.0M289.8 59.2h1.0M227.7 89.7h1.0M241.4 41.3h1.0M258.5 53.5h1.0M226.2 55.5h1.0M256.0 74.8h1.0M263.1 95.1h1.0M269.9 55.9h1.0M255.4 93.2h1.0M273.6 70.2h1.0M278.0 66.4h1.0M260.5 53.5h1.0M224.4 68.9h1.0M258.9 85.9h1.0M260.4 95.1h1.0M224.8 75.9h1.0M266.2 74.9h1.0M263.7 67.2h1.0M237.8 73.3h1.0M218.8 57.6h1.0M272.0 91.5h1.0M259.0 72.3h1.0M220.4 30.5h1.0M237.6 44.9h1.0M249.5 83.7h1.0M281.0 111.7h1.0M284.4 50.8h1.0M265.9 57.1h1.0M218.2 87.6h1.0M261.5 42.4h1.0M268.7 35.3h1.0M266.8 70.4h1.0M244.0 86.0h1.0M272.4 45.2h1.0M270.6 61.9h1.0M286.7 39.5h1.0M222.4 62.3h1.0M258.3 46.8h1.0M261.4 56.6h1.0M254.4 39.6h1.0M229.3 101.4h1.0M242.0 58.2h1.0M280.8 47.4h1.0M301.9 43.4h1.0M266.4 73.5h1.0M266.7 85.0h1.0M259.6 65.4h1.0M217.1 67.1h1.0M262.0 56.1h1.0M262.7 72.5h1.0M281.6 72.2h1.0M258.5 59.6h1.0M251.5 109.8h1.0M265.5 62.4h1.0M264.1 84.3h1.0M261.0 49.0h1.0M288.9 44.4h1.0M284.7 77.7h1.0M237.8 81.9h1.0M260.4 56.5h1.0M229.0 83.0h1.0M262.8 30.9h1.0M275.0 37.5h1.0M243.9 67.7h1.0M289.0 79.5h1.0M255.4 96.6h1.0M262.0 72.7h1.0M254.0 89.4h1.0M243.9 68.0h1.0M252.8 93.0h1.0M245.3 79.3h1.0M271.7 95.7h1.0M258.0 86.1h1.0M236.8 64.0h1.0M248.6 83.9h1.0M260.0 59.3h1.0M256.5 78.4h1.0M273.8 66.9h1.0M283.7 68.6h1.0M234.8 92.8h1.0M284.2 67.6h1.0M250.1 61.7h1.0M236.1 100.7h1.0M266.0 94.4h1.0M270.6 53.3h1.0M256.1 44.0h1.0M286.3 55.8h1.0M280.6 100.1h1.0M268.9 72.2h1.0M249.7 92.3h1.0M245.8 54.7h1.0M280.5 118.4h1.0M229.5 53.7h1.0M256.3 77.4h1.0M255.6 63.3h1.0M271.0 92.7h1.0M241.0 54.3h1.0M244.8 75.7h1.0M219.3 78.2h1.0M288.7 102.5h1.0M283.5 58.1h1.0M270.5 54.4h1.0M249.9 64.3h1.0M262.1 122.1h1.0M254.6 28.6h1.0M239.3 68.2h1.0M270.6 71.9h1.0M256.9 61.0h1.0M228.3 99.0h1.0M271.7 75.3h1.0M239.2 50.0h1.0M246.5 63.2h1.0M256.9 84.0h1.0M252.6 48.9h1.0M258.8 52.6h1.0M270.1 64.6h1.0M264.2 75.1h1.0M290.4 95.3h1.0M267.1 67.5h1.0M261.0 51.4h1.0M233.4 86.9h1.0M260.8 55.5h1.0M265.4 65.1h1.0M259.3 62.8h1.0M258.9 67.3h1.0M260.4 59.4h1.0M280.8 46.5h1.0M252.4 100.5h1.0M279.0 78.6h1.0M291.1 57.7h1.0M261.9 58.1h1.0M262.8 64.7h1.0M256.9 65.2h1.0M263.7 29.0h1.0M234.4 57.5h1.0M283.1 85.7h1.0M233.1 77.9h1.0M264.5 75.3h1.0M242.5 47.9h1.0M260.2 103.1h1.0M291.4 76.8h1.0M223.5 24.1h1.0M257.5 59.4h1.0M276.1 96.1h1.0M238.1 98.4h1.0M287.0 75.8h1.0M245.2 55.3h1.0M273.0 34.8h1.0M273.7 51.4h1.0M250.9 55.5h1.0M286.4 89.2h1.0M280.8 71.9h1.0M265.8 68.5h1.0M256.4 90.6h1.0M249.5 54.8h1.0M248.4 103.6h1.0M264.4 85.6h1.0M245.7 97.1h1.0M287.2 50.2h1.0M264.8 75.3h1.0M284.0 43.8h1.0M240.0 38.4h1.0M252.8 87.4h1.0M241.2 91.9h1.0M292.0 33.6h1.0M262.6 98.0h1.0M261.8 67.5h1.0M263.1 26.5h1.0M248.4 72.6h1.0M280.3 46.6h1.0M278.9 61.5h1.0M263.6 76.4h1.0M259.0 70.3h1.0M250.3 60.8h1.0M276.7 56.5h1.0M246.4 68.9h1.0M248.8 82.9h1.0M244.8 93.0h1.0M247.7 54.8h1.0M286.1 85.4h1.0M252.1 54.9h1.0M249.2 79.1h1.0M260.2 62.7h1.0M248.3 72.1h1.0M220.8 63.0h1.0M245.5 34.7h1.0M273.7 99.5h1.0M266.6 116.0h1.0M268.6 108.1h1.0M272.7 58.2h1.0M254.2 90.7h1.0M217.9 93.4h1.0M257.9 66.3h1.0M287.9 104.5h1.0M250.7 73.6h1.0M264.1 53.3h1.0M252.6 85.1h1.0M244.5 88.6h1.0M272.1 46.7h1.0M236.0 76.7h1.0M266.7 81.8h1.0M262.9 91.9h1.0M281.5 69.0h1.0M289.7 40.9h1.0M261.3 59.7h1.0M240.6 80.5h1.0M254.6 60.7h1.0M251.4 90.5h1.0M261.5 73.6h1.0M244.8 50.3h1.0M258.7 29.6h1.0M256.7 73.9h1.0M258.5 37.4h1.0M249.5 51.7h1.0M242.4 68.4h1.0M278.6 76.0h1.0M235.4 60.0h1.0M265.7 62.6h1.0M280.1 76.9h1.0M258.7 85.6h1.0M243.3 47.5h1.0M290.5 60.8h1.0M281.0 67.0h1.0M266.1 51.8h1.0M251.9 89.5h1.0M254.6 88.2h1.0M254.6 56.9h1.0M282.5 96.0h1.0M270.3 81.1h1.0M245.3 79.1h1.0M236.7 64.8h1.0M226.7 97.6h1.0M276.2 27.0h1.0M252.5 89.7h1.0M249.3 88.1h1.0M268.1 60.2h1.0M258.8 88.6h1.0M261.3 84.0h1.0M283.8 57.3h1.0M258.9 78.8h1.0M236.3 54.4h1.0M272.7 72.5h1.0M272.9 65.6h1.0M269.0 69.0h1.0M260.8 45.0h1.0M306.3 63.8h1.0M251.8 69.2h1.0M275.3 87.0h1.0M269.7 108.3h1.0M258.5 69.7h1.0M249.6 67.3h1.0M266.2 69.9h1.0M298.8 105.4h1.0M277.7 63.2h1.0M285.0 106.7h1.0M260.7 55.5h1.0M271.9 43.8h1.0M277.0 63.5h1.0M253.8 40.4h1.0M257.4 88.1h1.0M268.9 77.5h1.0M278.1 90.3h1.0M251.6 72.1h1.0M286.9 36.4h1.0M232.5 91.5h1.0M235.7 54.1h1.0M273.2 50.0h1.0M229.7 59.1h1.0M243.7 73.9h1.0M281.5 73.1h1.0M254.0 93.1h1.0M264.9 79.9h1.0M287.0 85.3h1.0M244.7 73.7h1.0M282.4 69.4h1.0M251.6 62.8h1.0M245.7 110.2h1.0M260.1 60.2h1.0M241.1 77.2h1.0M266.1 79.1h1.0M253.6 70.1h1.0M244.0 62.8h1.0M263.2 68.2h1.0M249.2 83.0h1.0M258.5 86.5h1.0M271.2 58.7h1.0M267.1 61.6h1.0M264.3 68.1h1.0M225.5 82.2h1.0M237.6 87.0h1.0M241.0 39.8h1.0M251.0 49.1h1.0M262.8 70.4h1.0M235.0 31.5h1.0M250.4 40.5h1.0M239.0 49.8h1.0M263.5 71.9h1.0M234.7 45.0h1.0M216.5 64.0h1.0M278.4 90.5h1.0M271.3 98.7h1.0M279.9 40.2h1.0M237.5 64.8h1.0M277.4 68.4h1.0M265.9 42.2h1.0M276.2 79.7h1.0M289.2 87.7h1.0M214.0 48.6h1.0M271.5 88.5h1.0M258.6 64.9h1.0M277.0 104.1h1.0M227.4 86.2h1.0M234.0 75.1h1.0M269.9 58.6h1.0M269.4 94.4h1.0M259.3 82.3h1.0M251.6 67.2h1.0M214.0 101.6h1.0M257.8 113.1h1.0M237.4 69.3h1.0M280.0 63.6h1.0M248.0 84.1h1.0M279.2 47.6h1.0M264.2 43.6h1.0M269.0 57.7h1.0M265.1 70.2h1.0M245.3 54.3h1.0M271.5 90.1h1.0M261.2 79.2h1.0M280.8 72.1h1.0M263.0 54.0h1.0M286.9 102.7h1.0M247.3 60.9h1.0M265.4 93.1h1.0M274.6 61.5h1.0M218.3 74.2h1.0M263.0 70.7h1.0M267.2 97.4h1.0M265.5 98.5h1.0M276.5 71.0h1.0M242.0 55.1h1.0M253.0 76.7h1.0M260.1 78.6h1.0M239.2 91.9h1.0M259.1 61.3h1.0M264.4 88.2h1.0M243.3 45.1h1.0M271.5 86.7h1.0M224.7 83.0h1.0M240.3 53.6h1.0M260.0 104.3h1.0M283.7 57.4h1.0M231.0 31.3h1.0M273.4 54.9h1.0M249.3 74.0h1.0M268.2 57.1h1.0M206.6 30.9h1.0M273.5 116.4h1.0M280.7 89.4h1.0M239.5 86.3h1.0M270.5 95.3h1.0M262.8 70.4h1.0M223.4 48.3h1.0M270.4 45.1h1.0M243.1 46.7h1.0M235.7 70.0h1.0M217.2 57.9h1.0M259.0 82.6h1.0M258.5 92.2h1.0M264.3 71.4h1.0M259.0 80.5h1.0M244.4 59.8h1.0M236.2 19.3h1.0M267.1 67.8h1.0M249.0 97.7h1.0M261.5 65.4h1.0M256.9 111.8h1.0M250.4 33.6h1.0M270.1 73.9h1.0M231.2 79.4h1.0M294.1 86.8h1.0M267.8 82.1h1.0M246.4 63.8h1.0M270.1 65.2h1.0M252.5 65.4h1.0M290.2 69.1h1.0M243.0 69.0h1.0M271.5 79.5h1.0M249.8 47.3h1.0M287.1 74.4h1.0M251.5 86.1h1.0M259.7 38.2h1.0M228.9 56.7h1.0M245.1 105.0h1.0M264.2 59.1h1.0M265.2 63.7h1.0M266.1 73.3h1.0M282.5 46.1h1.0M283.2 27.3h1.0M245.1 70.4h1.0M277.8 62.0h1.0M277.0 75.8h1.0M278.0 79.8h1.0M260.6 42.2h1.0M248.3 60.2h1.0M266.7 72.6h1.0M236.3 77.8h1.0M252.1 61.3h1.0M275.5 77.1h1.0M227.1 58.4h1.0M275.2 108.1h1.0M282.0 23.2h1.0M249.7 93.5h1.0M215.8 60.1h1.0M289.3 86.7h1.0M270.4 43.9h1.0M267.9 56.9h1.0M238.0 58.8h1.0M287.3 109.8h1.0M269.7 52.5h1.0M245.5 83.0h1.0M253.7 40.4h1.0M259.8 95.7h1.0M239.8 57.1h1.0M279.3 65.6h1.0M251.1 47.8h1.0M245.9 72.0h1.0M252.8 87.3h1.0M277.3 71.9h1.0M288.4 58.3h1.0M243.9 70.1h1.0M269.8 82.9h1.0M267.0 79.9h1.0M275.5 70.8h1.0M280.0 73.4h1.0M264.3 67.4h1.0M222.8 49.1h1.0M250.4 45.2h1.0M264.1 79.6h1.0M267.5 80.5h1.0M282.0 52.1h1.0M232.5 56.3h1.0M253.6 56.1h1.0M272.9 57.9h1.0M263.0 43.9h1.0M265.4 79.0h1.0M231.3 74.0h1.0M268.6 67.7h1.0M290.6 127.3h1.0M256.0 67.3h1.0M261.1 121.0h1.0M289.6 86.9h1.0M267.1 42.5h1.0M258.7 108.0h1.0M246.2 72.8h1.0M277.3 96.7h1.0M287.3 49.2h1.0M261.4 93.6h1.0M251.0 54.4h1.0M255.0 71.7h1.0M271.7 48.1h1.0M281.2 71.2h1.0M270.1 99.6h1.0M263.1 92.1h1.0M278.5 72.6h1.0M250.0 95.4h1.0M254.1 46.5h1.0M244.4 75.4h1.0M270.8 65.9h1.0M251.0 102.3h1.0M267.0 48.0h1.0M276.2 34.6h1.0M257.1 80.4h1.0M246.3 95.6h1.0M248.9 55.8h1.0M273.3 66.4h1.0M235.7 54.7h1.0M229.4 57.2h1.0M220.6 91.2h1.0M243.3 50.8h1.0M253.4 87.8h1.0M270.2 105.1h1.0M272.9 91.5h1.0M260.2 19.9h1.0M247.5 81.5h1.0M253.8 91.8h1.0M240.5 82.7h1.0M265.3 101.5h1.0M256.1 108.2h1.0M239.6 66.8h1.0M279.7 61.4h1.0M250.7 65.0h1.0M283.5 89.6h1.0M253.9 75.3h1.0M260.2 77.5h1.0M227.2 65.4h1.0M265.5 73.9h1.0M251.8 66.0h1.0M248.9 80.9h1.0M260.6 74.5h1.0M258.8 64.5h1.0M251.3 76.8h1.0M218.1 73.3h1.0M254.4 83.1h1.0M258.1 85.8h1.0M260.8 85.5h1.0M277.7 87.2h1.0M227.8 55.3h1.0M270.4 65.8h1.0M258.6 66.9h1.0M267.0 59.4h1.0M253.1 54.7h1.0M284.2 34.9h1.0M284.8 79.9h1.0M252.6 53.8h1.0M254.1 73.9h1.0M260.7 88.2h1.0M288.1 43.7h1.0M220.8 36.1h1.0M257.9 36.6h1.0M251.6 76.9h1.0M266.6 38.5h1.0M279.0 69.7h1.0M242.9 93.1h1.0M243.4 72.2h1.0M289.1 62.4h1.0M238.4 98.2h1.0M271.0 77.6h1.0M242.6 62.3h1.0M259.7 68.4h1.0M279.6 80.7h1.0M269.8 68.7h1.0M234.4 73.2h1.0M244.6 85.9h1.0M225.2 46.5h1.0M249.6 15.5h1.0M246.2 101.2h1.0M272.4 82.7h1.0M268.0 60.1h1.0M261.4 101.8h1.0M252.7 81.3h1.0M232.0 49.0h1.0M238.5 44.9h1.0M240.6 86.2h1.0M268.5 86.4h1.0M271.9 77.9h1.0M240.5 85.9h1.0M242.8 34.6h1.0M250.4 40.3h1.0M287.2 83.7h1.0M263.8 66.5h1.0M208.7 61.2h1.0M276.6 89.4h1.0M283.3 64.8h1.0M252.5 70.2h1.0M247.1 70.8h1.0M255.5 81.2h1.0M255.2 61.1h1.0M263.5 69.1h1.0M244.8 89.3h1.0M266.0 72.7h1.0M290.2 113.5h1.0M275.0 66.6h1.0M253.1 73.7h1.0M272.5 92.8h1.0M243.4 81.7h1.0M249.7 50.2h1.0M246.0 93.2h1.0M266.8 71.7h1.0M269.9 89.4h1.0M266.0 19.9h1.0M257.7 55.0h1.0M250.6 91.8h1.0M242.8 79.3h1.0M271.7 44.8h1.0M285.9 120.7h1.0M246.0 87.7h1.0M274.7 48.4h1.0M247.0 68.0h1.0M238.0 35.7h1.0M281.5 85.6h1.0M243.0 107.3h1.0M291.8 55.6h1.0M237.1 78.0h1.0M267.0 67.8h1.0M271.4 79.3h1.0M270.2 40.7h1.0M241.5 79.0h1.0M180.0 123.5h1.0M297.4 78.4h1.0M289.5 99.9h1.0M303.0 103.7h1.0M159.0 132.7h1.0M246.5 126.3h1.0M183.1 65.9h1.0M168.2 131.5h1.0M188.0 111.1h1.0M210.1 74.7h1.0M148.9 98.9h1.0M292.8 49.8h1.0M185.3 73.3h1.0M195.3 57.3h1.0M330.4 121.2h1.0M133.2 95.6h1.0M234.6 97.3h1.0M239.9 53.5h1.0M254.3 134.7h1.0M212.5 113.5h1.0M186.2 134.7h1.0M245.2 91.3h1.0M133.1 52.5h1.0M340.8 96.2h1.0M238.2 123.9h1.0M336.0 100.6h1.0M148.7 51.2h1.0M259.6 58.1h1.0M285.9 122.0h1.0M334.1 98.5h1.0M258.1 48.5h1.0M333.2 132.7h1.0M231.3 81.9h1.0M240.5 76.6h1.0M189.0 53.6h1.0M330.2 55.4h1.0M241.9 136.6h1.0M137.5 71.9h1.0M161.1 60.3h1.0M279.3 122.9h1.0M183.2 122.3h1.0M133.0 93.2h1.0M231.6 47.8h1.0M214.7 49.3h1.0M204.1 121.2h1.0M180.4 60.6h1.0M217.4 121.2h1.0M258.3 52.6h1.0M286.4 127.2h1.0M222.6 72.1h1.0M270.6 63.0h1.0M244.8 109.0h1.0M165.0 109.6h1.0M151.7 52.8h1.0M213.3 78.7h1.0M227.8 85.6h1.0M222.1 88.5h1.0M220.0 134.2h1.0M195.3 48.7h1.0M287.3 82.1h1.0M292.2 61.4h1.0M289.6 47.7h1.0M330.8 52.0h1.0M263.3 117.9h1.0M157.6 133.9h1.0M212.3 85.4h1.0M137.8 62.2h1.0M300.8 105.8h1.0M182.2 63.9h1.0M143.6 118.5h1.0M335.7 127.0h1.0M128.0 78.9h1.0M278.4 121.5h1.0M260.9 79.9h1.0M185.3 57.7h1.0M173.8 126.7h1.0M252.9 104.5h1.0M219.6 124.1h1.0M168.8 69.0h1.0M139.6 63.1h1.0M208.2 70.9h1.0M233.0 60.7h1.0M162.5 84.6h1.0M203.5 134.2h1.0M325.5 58.0h1.0M152.7 64.5h1.0M234.8 69.8h1.0M209.0 136.3h1.0M167.0 115.4h1.0M283.2 56.8h1.0M162.7 116.1h1.0M306.3 85.4h1.0M296.7 136.3h1.0M150.1 64.6h1.0M282.3 80.7h1.0M221.9 70.7h1.0M176.8 134.0h1.0M249.1 48.6h1.0M268.9 123.3h1.0M146.1 88.9h1.0M337.5 74.5h1.0M265.4 105.0h1.0M218.8 115.4h1.0M259.9 98.9h1.0M331.3 93.7h1.0M260.4 106.0h1.0M284.0 76.7h1.0M155.7 97.2h1.0M191.4 100.8h1.0M163.8 130.3h1.0M261.3 124.1h1.0M161.2 84.4h1.0M281.1 86.2h1.0M312.7 96.4h1.0M255.1 124.0h1.0M261.8 64.7h1.0M302.0 73.2h1.0M320.3 101.1h1.0M151.2 103.2h1.0M265.0 47.8h1.0M215.8 63.9h1.0M242.4 68.5h1.0M171.2 67.1h1.0M337.0 111.9h1.0M304.9 56.0h1.0M142.8 56.4h1.0M240.0 59.7h1.0M336.5 118.5h1.0M340.9 48.1h1.0M221.0 76.8h1.0M266.1 79.9h1.0M244.9 58.4h1.0M187.8 117.9h1.0M210.2 59.3h1.0M135.1 69.3h1.0M128.6 100.7h1.0M332.5 63.3h1.0M231.0 73.6h1.0M284.0 68.8h1.0M165.9 112.7h1.0M162.1 104.6h1.0M184.6 67.1h1.0M340.2 112.9h1.0M200.7 125.2h1.0M166.3 64.5h1.0M271.4 123.3h1.0M315.7 134.6h1.0M284.6 123.8h1.0M186.2 53.2h1.0M183.2 130.0h1.0M144.8 126.2h1.0M166.0 135.6h1.0M170.3 133.5h1.0M128.5 76.5h1.0M242.9 131.2h1.0M273.4 131.7h1.0M267.4 64.7h1.0M218.5 71.1h1.0M271.7 90.3h1.0M233.2 55.8h1.0M221.8 85.0h1.0M202.9 126.0h1.0M222.0 131.9h1.0M181.9 97.5h1.0M279.9 66.1h1.0M215.3 92.9h1.0M250.4 48.8h1.0M310.0 51.1h1.0M154.1 62.0h1.0M238.3 102.7h1.0M303.5 84.3h1.0M145.3 88.9h1.0M227.0 87.4h1.0M326.0 67.1h1.0M323.3 68.5h1.0M282.7 124.5h1.0M240.1 114.3h1.0M232.7 124.0h1.0M160.4 90.2h1.0M310.0 71.0h1.0M311.4 131.3h1.0M197.0 126.2h1.0M176.2 74.8h1.0M183.7 103.9h1.0M272.7 104.5h1.0M235.9 59.3h1.0M214.8 88.0h1.0M213.0 93.3h1.0M326.9 51.5h1.0M127.4 112.2h1.0M226.3 118.2h1.0M339.0 52.7h1.0M297.7 105.4h1.0M138.7 63.8h1.0M257.1 47.6h1.0M285.7 88.8h1.0M311.5 113.1h1.0M168.9 121.9h1.0M162.5 135.2h1.0M237.1 78.6h1.0M201.5 66.0h1.0M175.2 136.4h1.0M228.1 87.9h1.0M286.0 82.2h1.0M285.4 81.2h1.0M171.7 77.9h1.0M305.1 69.5h1.0M146.4 87.5h1.0M291.8 128.1h1.0M212.0 50.7h1.0M271.6 62.9h1.0M211.8 87.7h1.0M333.9 115.1h1.0M266.1 62.7h1.0M207.1 117.2h1.0M205.5 63.3h1.0M311.0 102.8h1.0M174.3 96.1h1.0M228.4 86.6h1.0M176.4 130.1h1.0M280.1 116.3h1.0M225.5 111.2h1.0M230.2 118.4h1.0M202.0 117.4h1.0M223.7 125.3h1.0M288.1 134.3h1.0M269.0 117.1h1.0M250.9 143.3h1.0M257.6 108.2h1.0M228.2 76.3h1.0M255.9 117.2h1.0M222.1 85.1h1.0M214.4 130.3h1.0M268.5 105.3h1.0M236.4 106.7h1.0M198.9 98.7h1.0M258.4 122.0h1.0M228.1 134.2h1.0M250.2 114.5h1.0M245.3 128.7h1.0M249.0 130.1h1.0M269.7 108.2h1.0M200.5 116.3h1.0M207.8 108.8h1.0M284.4 128.1h1.0M266.3 125.2h1.0M248.7 113.3h1.0M270.1 91.2h1.0M262.6 138.2h1.0M266.1 95.2h1.0M213.9 111.8h1.0M240.0 96.9h1.0M278.2 103.7h1.0M244.7 122.1h1.0M223.1 107.2h1.0M262.4 95.8h1.0M216.5 116.9h1.0M297.1 107.5h1.0M266.2 120.2h1.0M227.9 122.7h1.0M274.5 112.7h1.0M277.8 114.5h1.0M266.8 114.8h1.0M255.0 123.7h1.0M292.4 116.3h1.0M260.4 117.2h1.0M253.8 99.4h1.0M287.5 102.3h1.0M266.2 126.7h1.0M226.5 114.3h1.0M265.8 117.3h1.0M298.7 105.8h1.0M276.7 113.5h1.0M263.3 118.4h1.0M241.9 121.7h1.0M232.8 129.1h1.0M262.1 94.9h1.0M265.6 120.1h1.0M268.4 116.5h1.0M236.3 128.4h1.0M240.2 115.9h1.0M276.4 111.2h1.0M298.6 108.7h1.0M285.6 115.1h1.0M274.5 85.5h1.0M277.6 129.0h1.0M240.7 129.4h1.0M246.8 135.8h1.0M258.0 129.7h1.0M267.1 95.2h1.0M284.2 112.9h1.0M252.3 117.2h1.0M227.5 132.4h1.0M246.8 139.1h1.0M252.7 114.9h1.0M213.0 100.8h1.0M293.3 96.5h1.0M270.4 127.1h1.0M302.7 116.4h1.0M261.9 116.1h1.0M269.7 130.5h1.0M243.6 105.7h1.0M266.3 115.0h1.0M233.9 98.6h1.0M245.0 132.9h1.0M240.2 119.3h1.0M240.2 141.9h1.0M233.2 128.6h1.0M262.1 130.3h1.0M269.2 108.3h1.0M293.5 99.9h1.0M295.5 114.6h1.0M245.8 109.6h1.0M261.1 123.9h1.0M265.3 127.5h1.0M229.3 118.5h1.0M261.7 113.1h1.0M242.1 107.0h1.0M228.5 123.6h1.0M285.2 140.9h1.0M251.9 107.2h1.0M262.9 124.2h1.0M275.9 133.0h1.0M259.6 120.3h1.0M239.3 124.3h1.0M244.0 116.6h1.0M289.2 135.2h1.0M211.2 121.0h1.0M254.8 114.2h1.0M275.0 113.0h1.0M229.7 125.8h1.0M298.1 102.4h1.0M258.5 123.3h1.0M262.8 130.3h1.0M311.9 124.6h1.0M293.1 115.5h1.0M285.5 97.7h1.0M299.2 138.5h1.0M230.9 136.2h1.0M310.6 118.4h1.0M323.0 109.6h1.0" stroke="#e8432f" stroke-width="1.0" stroke-opacity="0.85" fill="none"/>
<line x1="117.20" y1="3.80" x2="117.20" y2="153.50" stroke="#ababab" stroke-width="1.1"/>
<line x1="116.70" y1="153.00" x2="351.50" y2="153.00" stroke="#ababab" stroke-width="1.1"/>
<line x1="113.20" y1="7.60" x2="117.20" y2="7.60" stroke="#707070" stroke-width="1"/>
<text x="109.10" y="10.40" font-size="8" text-anchor="end" textLength="20.8" lengthAdjust="spacingAndGlyphs">6,000</text>
<line x1="113.20" y1="54.50" x2="117.20" y2="54.50" stroke="#707070" stroke-width="1"/>
<text x="109.10" y="57.30" font-size="8" text-anchor="end" textLength="20.8" lengthAdjust="spacingAndGlyphs">4,000</text>
<line x1="113.20" y1="101.40" x2="117.20" y2="101.40" stroke="#707070" stroke-width="1"/>
<text x="109.10" y="104.20" font-size="8" text-anchor="end" textLength="20.8" lengthAdjust="spacingAndGlyphs">2,000</text>
<line x1="113.20" y1="148.30" x2="117.20" y2="148.30" stroke="#707070" stroke-width="1"/>
<text x="109.10" y="151.10" font-size="8" text-anchor="end">0</text>
<text x="109.30" y="94.50" font-size="8" text-anchor="end" textLength="17.3" lengthAdjust="spacingAndGlyphs">2,412</text>
<line x1="127.70" y1="153.30" x2="127.70" y2="156.90" stroke="#707070" stroke-width="1"/>
<line x1="181.20" y1="153.30" x2="181.20" y2="156.90" stroke="#707070" stroke-width="1"/>
<line x1="261.45" y1="153.30" x2="261.45" y2="156.90" stroke="#707070" stroke-width="1"/>
<line x1="341.70" y1="153.30" x2="341.70" y2="156.90" stroke="#707070" stroke-width="1"/>
<text x="208.00" y="166.50" font-size="7.8" text-anchor="middle" textLength="18.9" lengthAdjust="spacingAndGlyphs">0.375</text>
<text x="127.70" y="166.50" font-size="7.8" text-anchor="middle">0</text>
<text x="181.20" y="166.50" font-size="7.8" text-anchor="middle" textLength="18.9" lengthAdjust="spacingAndGlyphs">0.250</text>
<text x="261.45" y="166.50" font-size="7.8" text-anchor="middle" textLength="18.9" lengthAdjust="spacingAndGlyphs">0.625</text>
<text x="341.70" y="166.50" font-size="7.8" text-anchor="middle" textLength="18.9" lengthAdjust="spacingAndGlyphs">1.000</text>
<text x="234.50" y="178.80" font-size="9" text-anchor="middle">Normalized theta</text>
<text x="81.30" y="79.20" font-size="8.5" text-anchor="middle" transform="rotate(-90 81.30 79.20)">One-way FBR</text>
<line x1="207.50" y1="3.80" x2="207.50" y2="156.70" stroke="#767676" stroke-width="1"/>
<line x1="112.50" y1="91.50" x2="117.20" y2="91.50" stroke="#a0a0a0" stroke-width="1"/>
<line x1="117.20" y1="91.50" x2="292.00" y2="91.50" stroke="#3c3c3c" stroke-width="1"/>
<line x1="292.00" y1="91.50" x2="351.50" y2="91.50" stroke="#808080" stroke-width="1"/>
<text x="317.30" y="33.10" font-size="8.6" text-anchor="middle" fill="#e42c3a" font-style="italic">Cdkn2a+ &amp;</text>
<text x="317.30" y="42.90" font-size="8.6" text-anchor="middle" fill="#e42c3a" font-style="italic">Cdkn1a+</text>
<text x="61.60" y="8.70" font-size="12" fill="#111" font-weight="bold" stroke="#111" stroke-width="0.3">a</text>
<text x="380.30" y="8.90" font-size="12" fill="#111" font-weight="bold" stroke="#111" stroke-width="0.3">b</text>
<text x="416.9" y="9.2" font-size="8.5" fill="#2b2b2b"><tspan font-style="italic">Cdkn2a</tspan>+ and <tspan font-style="italic">Cdkn1a</tspan>+ MuSCs + Prog</text>
<text x="416.90" y="19.00" font-size="8.5">One-way FBR</text>
<line x1="416.60" y1="23.80" x2="416.60" y2="160.60" stroke="#ababab" stroke-width="1.1"/>
<line x1="416.10" y1="160.10" x2="568.20" y2="160.10" stroke="#ababab" stroke-width="1.1"/>
<line x1="413.20" y1="29.40" x2="416.60" y2="29.40" stroke="#707070" stroke-width="1"/>
<text x="408.80" y="32.30" font-size="8" text-anchor="end">1.00</text>
<line x1="413.20" y1="61.43" x2="416.60" y2="61.43" stroke="#707070" stroke-width="1"/>
<text x="408.80" y="64.33" font-size="8" text-anchor="end">0.75</text>
<line x1="413.20" y1="93.45" x2="416.60" y2="93.45" stroke="#707070" stroke-width="1"/>
<text x="408.80" y="96.35" font-size="8" text-anchor="end">0.50</text>
<line x1="413.20" y1="125.47" x2="416.60" y2="125.47" stroke="#707070" stroke-width="1"/>
<text x="408.80" y="128.38" font-size="8" text-anchor="end">0.25</text>
<line x1="413.20" y1="157.50" x2="416.60" y2="157.50" stroke="#707070" stroke-width="1"/>
<text x="408.80" y="160.40" font-size="8" text-anchor="end">0</text>
<line x1="423.10" y1="160.40" x2="423.10" y2="163.60" stroke="#707070" stroke-width="1"/>
<text x="423.10" y="174.60" font-size="8" text-anchor="middle">0</text>
<line x1="457.78" y1="160.40" x2="457.78" y2="163.60" stroke="#707070" stroke-width="1"/>
<text x="457.78" y="174.60" font-size="8" text-anchor="middle">0.25</text>
<line x1="492.45" y1="160.40" x2="492.45" y2="163.60" stroke="#707070" stroke-width="1"/>
<text x="492.45" y="174.60" font-size="8" text-anchor="middle">0.50</text>
<line x1="527.12" y1="160.40" x2="527.12" y2="163.60" stroke="#707070" stroke-width="1"/>
<text x="527.12" y="174.60" font-size="8" text-anchor="middle">0.75</text>
<line x1="561.80" y1="160.40" x2="561.80" y2="163.60" stroke="#707070" stroke-width="1"/>
<text x="561.80" y="174.60" font-size="8" text-anchor="middle">1.00</text>
<text x="492.60" y="187.40" font-size="8.8" text-anchor="middle">1 – specificity</text>
<text x="386.40" y="92.00" font-size="9.2" text-anchor="middle" transform="rotate(-90 386.40 92.00)">Sensitivity</text>
<line x1="420.30" y1="160.10" x2="567.90" y2="23.80" stroke="#3a3a3a" stroke-width="1.1" stroke-dasharray="2.6 1.9"/>
<path d="M423.90 157.50 C424.75 151.32 426.58 131.65 429.00 120.40 C431.42 109.15 435.67 97.40 438.40 90.00 C441.13 82.60 443.07 80.27 445.40 76.00 C447.73 71.73 449.68 68.28 452.40 64.40 C455.12 60.52 458.20 56.20 461.70 52.70 C465.20 49.20 469.50 46.12 473.40 43.40 C477.30 40.68 481.20 38.17 485.10 36.40 C489.00 34.63 492.13 33.75 496.80 32.80 C501.47 31.85 507.27 31.20 513.10 30.70 C518.93 30.20 523.70 30.02 531.80 29.80 C539.90 29.58 556.72 29.47 561.70 29.40" fill="none" stroke="#cfcfcf" stroke-width="1.1" stroke-linejoin="round"/>
<path d="M423.90 157.50 C424.17 154.83 424.65 146.90 425.50 141.50 C426.35 136.10 427.63 130.55 429.00 125.10 C430.37 119.65 432.13 113.87 433.70 108.80 C435.27 103.73 436.65 98.98 438.40 94.70 C440.15 90.42 442.27 86.60 444.20 83.10 C446.13 79.60 447.87 76.63 450.00 73.70 C452.13 70.77 454.67 68.03 457.00 65.50 C459.33 62.97 461.27 61.02 464.00 58.50 C466.73 55.98 469.88 52.92 473.40 50.40 C476.92 47.88 481.20 45.35 485.10 43.40 C489.00 41.45 492.13 40.47 496.80 38.70 C501.47 36.93 507.27 34.17 513.10 32.80 C518.93 31.43 526.35 31.00 531.80 30.50 C537.25 30.00 540.82 29.98 545.80 29.80 C550.78 29.62 559.05 29.47 561.70 29.40" fill="none" stroke="#e8353d" stroke-width="1.1" stroke-linejoin="round"/>
<text x="451.50" y="45.60" font-size="8.5" text-anchor="middle" fill="#c8c8c8">Non–G1</text>
<text x="480.20" y="55.60" font-size="8.5" text-anchor="middle" fill="#e8353d">G1</text>
<text x="511.20" y="145.70" font-size="7.2" text-anchor="middle">Gene List</text>
<text x="534.60" y="145.70" font-size="7.2" text-anchor="middle">G1</text>
<text x="555.00" y="145.70" font-size="7.2" text-anchor="middle">Non-G1</text>
<line x1="496.40" y1="148.60" x2="526.60" y2="148.60" stroke="#444" stroke-width="0.7"/>
<line x1="528.00" y1="148.60" x2="541.10" y2="148.60" stroke="#444" stroke-width="0.7"/>
<line x1="542.70" y1="148.60" x2="566.80" y2="148.60" stroke="#444" stroke-width="0.7"/>
<text x="511.40" y="156.20" font-size="7.2" text-anchor="middle">FBR</text>
<text x="534.30" y="156.20" font-size="7.2" text-anchor="middle">0.82</text>
<text x="554.50" y="156.20" font-size="7.2" text-anchor="middle">0.85</text>
<text x="61.40" y="208.30" font-size="12" fill="#111" font-weight="bold" stroke="#111" stroke-width="0.3">c</text>
<line x1="116.40" y1="214.60" x2="116.40" y2="307.30" stroke="#ececec" stroke-width="0.6"/>
<line x1="127.90" y1="214.60" x2="127.90" y2="307.30" stroke="#ececec" stroke-width="0.6"/>
<line x1="139.40" y1="214.60" x2="139.40" y2="307.30" stroke="#ececec" stroke-width="0.6"/>
<line x1="150.90" y1="214.60" x2="150.90" y2="307.30" stroke="#ececec" stroke-width="0.6"/>
<line x1="162.40" y1="214.60" x2="162.40" y2="307.30" stroke="#ececec" stroke-width="0.6"/>
<line x1="173.90" y1="214.60" x2="173.90" y2="307.30" stroke="#ececec" stroke-width="0.6"/>
<line x1="185.40" y1="214.60" x2="185.40" y2="307.30" stroke="#ececec" stroke-width="0.6"/>
<line x1="196.90" y1="214.60" x2="196.90" y2="307.30" stroke="#ececec" stroke-width="0.6"/>
<line x1="208.40" y1="214.60" x2="208.40" y2="307.30" stroke="#ececec" stroke-width="0.6"/>
<line x1="219.90" y1="214.60" x2="219.90" y2="307.30" stroke="#ececec" stroke-width="0.6"/>
<line x1="231.40" y1="214.60" x2="231.40" y2="307.30" stroke="#ececec" stroke-width="0.6"/>
<line x1="109.60" y1="223.80" x2="238.60" y2="223.80" stroke="#ececec" stroke-width="0.6"/>
<line x1="109.60" y1="238.80" x2="238.60" y2="238.80" stroke="#ececec" stroke-width="0.6"/>
<line x1="109.60" y1="253.80" x2="238.60" y2="253.80" stroke="#ececec" stroke-width="0.6"/>
<line x1="109.60" y1="268.80" x2="238.60" y2="268.80" stroke="#ececec" stroke-width="0.6"/>
<line x1="109.60" y1="283.80" x2="238.60" y2="283.80" stroke="#ececec" stroke-width="0.6"/>
<line x1="109.60" y1="298.80" x2="238.60" y2="298.80" stroke="#ececec" stroke-width="0.6"/>
<circle cx="116.40" cy="223.80" r="2.78" fill="#ffffff" stroke="#555" stroke-width="0.6"/>
<circle cx="185.40" cy="223.80" r="2.08" fill="#ffffff" stroke="#555" stroke-width="0.6"/>
<circle cx="231.40" cy="223.80" r="4.73" fill="#ffffff" stroke="#555" stroke-width="0.6"/>
<circle cx="116.40" cy="238.80" r="3.28" fill="#ffffff" stroke="#555" stroke-width="0.6"/>
<circle cx="196.90" cy="238.80" r="2.58" fill="#d7c2d5" stroke="#555" stroke-width="0.6"/>
<circle cx="208.40" cy="238.80" r="1.65" fill="#ffffff" stroke="#555" stroke-width="0.6"/>
<circle cx="231.40" cy="238.80" r="5.08" fill="#ffffff" stroke="#555" stroke-width="0.6"/>
<circle cx="116.40" cy="253.80" r="3.28" fill="#ffffff" stroke="#555" stroke-width="0.6"/>
<circle cx="196.90" cy="253.80" r="2.58" fill="#d3bbd0" stroke="#555" stroke-width="0.6"/>
<circle cx="208.40" cy="253.80" r="1.75" fill="#ffffff" stroke="#555" stroke-width="0.6"/>
<circle cx="231.40" cy="253.80" r="2.78" fill="#ffffff" stroke="#555" stroke-width="0.6"/>
<circle cx="116.40" cy="268.80" r="3.58" fill="#deccdc" stroke="#555" stroke-width="0.6"/>
<circle cx="127.90" cy="268.80" r="2.58" fill="#d7c2d5" stroke="#555" stroke-width="0.6"/>
<circle cx="196.90" cy="268.80" r="4.28" fill="#b188ac" stroke="#555" stroke-width="0.6"/>
<circle cx="208.40" cy="268.80" r="2.08" fill="#b188ac" stroke="#555" stroke-width="0.6"/>
<circle cx="219.90" cy="268.80" r="2.58" fill="#bf9ebb" stroke="#555" stroke-width="0.6"/>
<circle cx="231.40" cy="268.80" r="3.28" fill="#f4eff4" stroke="#555" stroke-width="0.6"/>
<circle cx="116.40" cy="283.80" r="1.65" fill="#d7c2d5" stroke="#555" stroke-width="0.6"/>
<circle cx="127.90" cy="283.80" r="4.28" fill="#efe7ee" stroke="#555" stroke-width="0.6"/>
<circle cx="139.40" cy="283.80" r="1.65" fill="#ffffff" stroke="#555" stroke-width="0.6"/>
<circle cx="173.90" cy="283.80" r="2.28" fill="#ceb4ca" stroke="#555" stroke-width="0.6"/>
<circle cx="196.90" cy="283.80" r="3.58" fill="#b188ac" stroke="#555" stroke-width="0.6"/>
<circle cx="208.40" cy="283.80" r="2.08" fill="#bb96b6" stroke="#555" stroke-width="0.6"/>
<circle cx="219.90" cy="283.80" r="2.28" fill="#c9acc5" stroke="#555" stroke-width="0.6"/>
<circle cx="231.40" cy="283.80" r="2.78" fill="#f2ebf1" stroke="#555" stroke-width="0.6"/>
<circle cx="116.40" cy="298.80" r="1.25" fill="#ffffff" stroke="#555" stroke-width="0.6"/>
<circle cx="139.40" cy="298.80" r="3.58" fill="#fcfbfc" stroke="#555" stroke-width="0.6"/>
<circle cx="173.90" cy="298.80" r="1.75" fill="#e5d6e3" stroke="#555" stroke-width="0.6"/>
<circle cx="196.90" cy="298.80" r="2.78" fill="#e5d6e3" stroke="#555" stroke-width="0.6"/>
<circle cx="208.40" cy="298.80" r="1.75" fill="#d7c2d5" stroke="#555" stroke-width="0.6"/>
<circle cx="219.90" cy="298.80" r="1.95" fill="#f8f5f8" stroke="#555" stroke-width="0.6"/>
<circle cx="231.40" cy="298.80" r="3.78" fill="#ffffff" stroke="#555" stroke-width="0.6"/>
<rect x="109.60" y="214.60" width="129" height="92.70" fill="none" stroke="#8a8a8a" stroke-width="1"/>
<line x1="116.40" y1="307.30" x2="116.40" y2="310.80" stroke="#555" stroke-width="0.8"/>
<line x1="127.90" y1="307.30" x2="127.90" y2="310.80" stroke="#555" stroke-width="0.8"/>
<line x1="139.40" y1="307.30" x2="139.40" y2="310.80" stroke="#555" stroke-width="0.8"/>
<line x1="150.90" y1="307.30" x2="150.90" y2="310.80" stroke="#555" stroke-width="0.8"/>
<line x1="162.40" y1="307.30" x2="162.40" y2="310.80" stroke="#555" stroke-width="0.8"/>
<line x1="173.90" y1="307.30" x2="173.90" y2="310.80" stroke="#555" stroke-width="0.8"/>
<line x1="185.40" y1="307.30" x2="185.40" y2="310.80" stroke="#555" stroke-width="0.8"/>
<line x1="196.90" y1="307.30" x2="196.90" y2="310.80" stroke="#555" stroke-width="0.8"/>
<line x1="208.40" y1="307.30" x2="208.40" y2="310.80" stroke="#555" stroke-width="0.8"/>
<line x1="219.90" y1="307.30" x2="219.90" y2="310.80" stroke="#555" stroke-width="0.8"/>
<line x1="231.40" y1="307.30" x2="231.40" y2="310.80" stroke="#555" stroke-width="0.8"/>
<text x="174.10" y="208.00" font-size="9" text-anchor="middle">Young</text>
<line x1="251.70" y1="214.60" x2="251.70" y2="307.30" stroke="#ececec" stroke-width="0.6"/>
<line x1="263.20" y1="214.60" x2="263.20" y2="307.30" stroke="#ececec" stroke-width="0.6"/>
<line x1="274.70" y1="214.60" x2="274.70" y2="307.30" stroke="#ececec" stroke-width="0.6"/>
<line x1="286.20" y1="214.60" x2="286.20" y2="307.30" stroke="#ececec" stroke-width="0.6"/>
<line x1="297.70" y1="214.60" x2="297.70" y2="307.30" stroke="#ececec" stroke-width="0.6"/>
<line x1="309.20" y1="214.60" x2="309.20" y2="307.30" stroke="#ececec" stroke-width="0.6"/>
<line x1="320.70" y1="214.60" x2="320.70" y2="307.30" stroke="#ececec" stroke-width="0.6"/>
<line x1="332.20" y1="214.60" x2="332.20" y2="307.30" stroke="#ececec" stroke-width="0.6"/>
<line x1="343.70" y1="214.60" x2="343.70" y2="307.30" stroke="#ececec" stroke-width="0.6"/>
<line x1="355.20" y1="214.60" x2="355.20" y2="307.30" stroke="#ececec" stroke-width="0.6"/>
<line x1="366.70" y1="214.60" x2="366.70" y2="307.30" stroke="#ececec" stroke-width="0.6"/>
<line x1="244.90" y1="223.80" x2="373.90" y2="223.80" stroke="#ececec" stroke-width="0.6"/>
<line x1="244.90" y1="238.80" x2="373.90" y2="238.80" stroke="#ececec" stroke-width="0.6"/>
<line x1="244.90" y1="253.80" x2="373.90" y2="253.80" stroke="#ececec" stroke-width="0.6"/>
<line x1="244.90" y1="268.80" x2="373.90" y2="268.80" stroke="#ececec" stroke-width="0.6"/>
<line x1="244.90" y1="283.80" x2="373.90" y2="283.80" stroke="#ececec" stroke-width="0.6"/>
<line x1="244.90" y1="298.80" x2="373.90" y2="298.80" stroke="#ececec" stroke-width="0.6"/>
<circle cx="251.70" cy="223.80" r="1.45" fill="#ffffff" stroke="#555" stroke-width="0.6"/>
<circle cx="274.70" cy="223.80" r="2.28" fill="#ffffff" stroke="#555" stroke-width="0.6"/>
<circle cx="320.70" cy="223.80" r="1.95" fill="#ffffff" stroke="#555" stroke-width="0.6"/>
<circle cx="366.70" cy="223.80" r="5.28" fill="#ffffff" stroke="#555" stroke-width="0.6"/>
<circle cx="251.70" cy="238.80" r="1.45" fill="#bf9ebb" stroke="#555" stroke-width="0.6"/>
<circle cx="274.70" cy="238.80" r="2.58" fill="#ffffff" stroke="#555" stroke-width="0.6"/>
<circle cx="332.20" cy="238.80" r="2.58" fill="#d7c2d5" stroke="#555" stroke-width="0.6"/>
<circle cx="343.70" cy="238.80" r="1.65" fill="#d3bbd0" stroke="#555" stroke-width="0.6"/>
<circle cx="366.70" cy="238.80" r="5.28" fill="#ffffff" stroke="#555" stroke-width="0.6"/>
<circle cx="251.70" cy="253.80" r="1.65" fill="#ffffff" stroke="#555" stroke-width="0.6"/>
<circle cx="274.70" cy="253.80" r="3.28" fill="#ffffff" stroke="#555" stroke-width="0.6"/>
<circle cx="332.20" cy="253.80" r="3.58" fill="#ceb4ca" stroke="#555" stroke-width="0.6"/>
<circle cx="343.70" cy="253.80" r="2.08" fill="#c9acc5" stroke="#555" stroke-width="0.6"/>
<circle cx="366.70" cy="253.80" r="5.28" fill="#ffffff" stroke="#555" stroke-width="0.6"/>
<circle cx="251.70" cy="268.80" r="1.65" fill="#955d8e" stroke="#555" stroke-width="0.6"/>
<circle cx="274.70" cy="268.80" r="2.38" fill="#c9acc5" stroke="#555" stroke-width="0.6"/>
<circle cx="286.20" cy="268.80" r="3.08" fill="#d7c2d5" stroke="#555" stroke-width="0.6"/>
<circle cx="332.20" cy="268.80" r="3.98" fill="#9f6d99" stroke="#555" stroke-width="0.6"/>
<circle cx="343.70" cy="268.80" r="2.78" fill="#813e78" stroke="#555" stroke-width="0.6"/>
<circle cx="355.20" cy="268.80" r="2.38" fill="#b68fb1" stroke="#555" stroke-width="0.6"/>
<circle cx="366.70" cy="268.80" r="3.48" fill="#f2ebf1" stroke="#555" stroke-width="0.6"/>
<circle cx="251.70" cy="283.80" r="1.65" fill="#ffffff" stroke="#555" stroke-width="0.6"/>
<circle cx="286.20" cy="283.80" r="3.98" fill="#f2ebf1" stroke="#555" stroke-width="0.6"/>
<circle cx="297.70" cy="283.80" r="2.28" fill="#d7c2d5" stroke="#555" stroke-width="0.6"/>
<circle cx="309.20" cy="283.80" r="2.08" fill="#d3bbd0" stroke="#555" stroke-width="0.6"/>
<circle cx="332.20" cy="283.80" r="2.78" fill="#d7c2d5" stroke="#555" stroke-width="0.6"/>
<circle cx="343.70" cy="283.80" r="2.15" fill="#b68fb1" stroke="#555" stroke-width="0.6"/>
<circle cx="355.20" cy="283.80" r="2.08" fill="#deccdc" stroke="#555" stroke-width="0.6"/>
<circle cx="366.70" cy="283.80" r="3.98" fill="#ffffff" stroke="#555" stroke-width="0.6"/>
<circle cx="251.70" cy="298.80" r="1.45" fill="#ebe1ea" stroke="#555" stroke-width="0.6"/>
<circle cx="297.70" cy="298.80" r="3.08" fill="#f4eff4" stroke="#555" stroke-width="0.6"/>
<circle cx="309.20" cy="298.80" r="1.95" fill="#f8f5f8" stroke="#555" stroke-width="0.6"/>
<circle cx="332.20" cy="298.80" r="2.38" fill="#d7c2d5" stroke="#555" stroke-width="0.6"/>
<circle cx="343.70" cy="298.80" r="1.95" fill="#b188ac" stroke="#555" stroke-width="0.6"/>
<circle cx="355.20" cy="298.80" r="1.75" fill="#ffffff" stroke="#555" stroke-width="0.6"/>
<circle cx="366.70" cy="298.80" r="5.08" fill="#ffffff" stroke="#555" stroke-width="0.6"/>
<rect x="244.90" y="214.60" width="129" height="92.70" fill="none" stroke="#8a8a8a" stroke-width="1"/>
<line x1="251.70" y1="307.30" x2="251.70" y2="310.80" stroke="#555" stroke-width="0.8"/>
<line x1="263.20" y1="307.30" x2="263.20" y2="310.80" stroke="#555" stroke-width="0.8"/>
<line x1="274.70" y1="307.30" x2="274.70" y2="310.80" stroke="#555" stroke-width="0.8"/>
<line x1="286.20" y1="307.30" x2="286.20" y2="310.80" stroke="#555" stroke-width="0.8"/>
<line x1="297.70" y1="307.30" x2="297.70" y2="310.80" stroke="#555" stroke-width="0.8"/>
<line x1="309.20" y1="307.30" x2="309.20" y2="310.80" stroke="#555" stroke-width="0.8"/>
<line x1="320.70" y1="307.30" x2="320.70" y2="310.80" stroke="#555" stroke-width="0.8"/>
<line x1="332.20" y1="307.30" x2="332.20" y2="310.80" stroke="#555" stroke-width="0.8"/>
<line x1="343.70" y1="307.30" x2="343.70" y2="310.80" stroke="#555" stroke-width="0.8"/>
<line x1="355.20" y1="307.30" x2="355.20" y2="310.80" stroke="#555" stroke-width="0.8"/>
<line x1="366.70" y1="307.30" x2="366.70" y2="310.80" stroke="#555" stroke-width="0.8"/>
<text x="309.40" y="208.00" font-size="9" text-anchor="middle">Old</text>
<line x1="387.00" y1="214.60" x2="387.00" y2="307.30" stroke="#ececec" stroke-width="0.6"/>
<line x1="398.50" y1="214.60" x2="398.50" y2="307.30" stroke="#ececec" stroke-width="0.6"/>
<line x1="410.00" y1="214.60" x2="410.00" y2="307.30" stroke="#ececec" stroke-width="0.6"/>
<line x1="421.50" y1="214.60" x2="421.50" y2="307.30" stroke="#ececec" stroke-width="0.6"/>
<line x1="433.00" y1="214.60" x2="433.00" y2="307.30" stroke="#ececec" stroke-width="0.6"/>
<line x1="444.50" y1="214.60" x2="444.50" y2="307.30" stroke="#ececec" stroke-width="0.6"/>
<line x1="456.00" y1="214.60" x2="456.00" y2="307.30" stroke="#ececec" stroke-width="0.6"/>
<line x1="467.50" y1="214.60" x2="467.50" y2="307.30" stroke="#ececec" stroke-width="0.6"/>
<line x1="479.00" y1="214.60" x2="479.00" y2="307.30" stroke="#ececec" stroke-width="0.6"/>
<line x1="490.50" y1="214.60" x2="490.50" y2="307.30" stroke="#ececec" stroke-width="0.6"/>
<line x1="502.00" y1="214.60" x2="502.00" y2="307.30" stroke="#ececec" stroke-width="0.6"/>
<line x1="380.20" y1="223.80" x2="509.20" y2="223.80" stroke="#ececec" stroke-width="0.6"/>
<line x1="380.20" y1="238.80" x2="509.20" y2="238.80" stroke="#ececec" stroke-width="0.6"/>
<line x1="380.20" y1="253.80" x2="509.20" y2="253.80" stroke="#ececec" stroke-width="0.6"/>
<line x1="380.20" y1="268.80" x2="509.20" y2="268.80" stroke="#ececec" stroke-width="0.6"/>
<line x1="380.20" y1="283.80" x2="509.20" y2="283.80" stroke="#ececec" stroke-width="0.6"/>
<line x1="380.20" y1="298.80" x2="509.20" y2="298.80" stroke="#ececec" stroke-width="0.6"/>
<circle cx="387.00" cy="223.80" r="1.25" fill="#ffffff" stroke="#555" stroke-width="0.6"/>
<circle cx="433.00" cy="223.80" r="2.08" fill="#ffffff" stroke="#555" stroke-width="0.6"/>
<circle cx="456.00" cy="223.80" r="1.65" fill="#ffffff" stroke="#555" stroke-width="0.6"/>
<circle cx="502.00" cy="223.80" r="5.58" fill="#ffffff" stroke="#555" stroke-width="0.6"/>
<circle cx="387.00" cy="238.80" r="1.45" fill="#ffffff" stroke="#555" stroke-width="0.6"/>
<circle cx="433.00" cy="238.80" r="3.58" fill="#ffffff" stroke="#555" stroke-width="0.6"/>
<circle cx="467.50" cy="238.80" r="2.98" fill="#ffffff" stroke="#555" stroke-width="0.6"/>
<circle cx="479.00" cy="238.80" r="2.38" fill="#f2ebf1" stroke="#555" stroke-width="0.6"/>
<circle cx="502.00" cy="238.80" r="2.38" fill="#ffffff" stroke="#555" stroke-width="0.6"/>
<circle cx="387.00" cy="253.80" r="2.15" fill="#ffffff" stroke="#555" stroke-width="0.6"/>
<circle cx="433.00" cy="253.80" r="3.98" fill="#ffffff" stroke="#555" stroke-width="0.6"/>
<circle cx="467.50" cy="253.80" r="3.28" fill="#c9acc5" stroke="#555" stroke-width="0.6"/>
<circle cx="479.00" cy="253.80" r="2.15" fill="#a87aa2" stroke="#555" stroke-width="0.6"/>
<circle cx="502.00" cy="253.80" r="2.78" fill="#ffffff" stroke="#555" stroke-width="0.6"/>
<circle cx="387.00" cy="268.80" r="1.35" fill="#78306f" stroke="#555" stroke-width="0.6"/>
<circle cx="433.00" cy="268.80" r="2.28" fill="#ceb4ca" stroke="#555" stroke-width="0.6"/>
<circle cx="444.50" cy="268.80" r="2.08" fill="#d7c2d5" stroke="#555" stroke-width="0.6"/>
<circle cx="467.50" cy="268.80" r="3.58" fill="#9f6d99" stroke="#555" stroke-width="0.6"/>
<circle cx="479.00" cy="268.80" r="2.05" fill="#9f6d99" stroke="#555" stroke-width="0.6"/>
<circle cx="490.50" cy="268.80" r="2.08" fill="#b188ac" stroke="#555" stroke-width="0.6"/>
<circle cx="502.00" cy="268.80" r="2.58" fill="#efe7ee" stroke="#555" stroke-width="0.6"/>
<circle cx="387.00" cy="283.80" r="1.65" fill="#c9acc5" stroke="#555" stroke-width="0.6"/>
<circle cx="444.50" cy="283.80" r="3.58" fill="#d7c2d5" stroke="#555" stroke-width="0.6"/>
<circle cx="467.50" cy="283.80" r="2.58" fill="#b188ac" stroke="#555" stroke-width="0.6"/>
<circle cx="479.00" cy="283.80" r="2.38" fill="#9f6d99" stroke="#555" stroke-width="0.6"/>
<circle cx="490.50" cy="283.80" r="2.28" fill="#ceb4ca" stroke="#555" stroke-width="0.6"/>
<circle cx="502.00" cy="283.80" r="2.58" fill="#f8f5f8" stroke="#555" stroke-width="0.6"/>
<circle cx="387.00" cy="298.80" r="1.45" fill="#ffffff" stroke="#555" stroke-width="0.6"/>
<circle cx="444.50" cy="298.80" r="3.58" fill="#f2ebf1" stroke="#555" stroke-width="0.6"/>
<circle cx="467.50" cy="298.80" r="2.28" fill="#ceb4ca" stroke="#555" stroke-width="0.6"/>
<circle cx="479.00" cy="298.80" r="1.75" fill="#a87aa2" stroke="#555" stroke-width="0.6"/>
<circle cx="490.50" cy="298.80" r="1.95" fill="#e5d6e3" stroke="#555" stroke-width="0.6"/>
<circle cx="502.00" cy="298.80" r="4.78" fill="#ffffff" stroke="#555" stroke-width="0.6"/>
<rect x="380.20" y="214.60" width="129" height="92.70" fill="none" stroke="#8a8a8a" stroke-width="1"/>
<line x1="387.00" y1="307.30" x2="387.00" y2="310.80" stroke="#555" stroke-width="0.8"/>
<line x1="398.50" y1="307.30" x2="398.50" y2="310.80" stroke="#555" stroke-width="0.8"/>
<line x1="410.00" y1="307.30" x2="410.00" y2="310.80" stroke="#555" stroke-width="0.8"/>
<line x1="421.50" y1="307.30" x2="421.50" y2="310.80" stroke="#555" stroke-width="0.8"/>
<line x1="433.00" y1="307.30" x2="433.00" y2="310.80" stroke="#555" stroke-width="0.8"/>
<line x1="444.50" y1="307.30" x2="444.50" y2="310.80" stroke="#555" stroke-width="0.8"/>
<line x1="456.00" y1="307.30" x2="456.00" y2="310.80" stroke="#555" stroke-width="0.8"/>
<line x1="467.50" y1="307.30" x2="467.50" y2="310.80" stroke="#555" stroke-width="0.8"/>
<line x1="479.00" y1="307.30" x2="479.00" y2="310.80" stroke="#555" stroke-width="0.8"/>
<line x1="490.50" y1="307.30" x2="490.50" y2="310.80" stroke="#555" stroke-width="0.8"/>
<line x1="502.00" y1="307.30" x2="502.00" y2="310.80" stroke="#555" stroke-width="0.8"/>
<text x="444.70" y="208.00" font-size="9" text-anchor="middle">Geriatric</text>
<line x1="105.40" y1="223.80" x2="109.60" y2="223.80" stroke="#555" stroke-width="0.8"/>
<text x="101.00" y="226.60" font-size="8" text-anchor="end">0</text>
<line x1="105.40" y1="238.80" x2="109.60" y2="238.80" stroke="#555" stroke-width="0.8"/>
<text x="101.00" y="241.60" font-size="8" text-anchor="end">1</text>
<line x1="105.40" y1="253.80" x2="109.60" y2="253.80" stroke="#555" stroke-width="0.8"/>
<text x="101.00" y="256.60" font-size="8" text-anchor="end">2</text>
<line x1="105.40" y1="268.80" x2="109.60" y2="268.80" stroke="#555" stroke-width="0.8"/>
<text x="101.00" y="271.60" font-size="8" text-anchor="end">3.5</text>
<line x1="105.40" y1="283.80" x2="109.60" y2="283.80" stroke="#555" stroke-width="0.8"/>
<text x="101.00" y="286.60" font-size="8" text-anchor="end">5</text>
<line x1="105.40" y1="298.80" x2="109.60" y2="298.80" stroke="#555" stroke-width="0.8"/>
<text x="101.00" y="301.60" font-size="8" text-anchor="end">7</text>
<text x="69.2" y="261" font-size="8.5" text-anchor="middle" transform="rotate(-90 69.2 261)"><tspan font-style="italic">Cdkn2a</tspan>+ and <tspan font-style="italic">Cdkn1a</tspan>+</text>
<text x="80.40" y="261.00" font-size="7.5" text-anchor="middle" transform="rotate(-90 80.40 261.00)">dpi</text>
<text x="61.20" y="330.20" font-size="12" fill="#111" font-weight="bold" stroke="#111" stroke-width="0.3">d</text>
<line x1="115.30" y1="330.40" x2="115.30" y2="423.00" stroke="#ececec" stroke-width="0.6"/>
<line x1="126.80" y1="330.40" x2="126.80" y2="423.00" stroke="#ececec" stroke-width="0.6"/>
<line x1="138.30" y1="330.40" x2="138.30" y2="423.00" stroke="#ececec" stroke-width="0.6"/>
<line x1="149.80" y1="330.40" x2="149.80" y2="423.00" stroke="#ececec" stroke-width="0.6"/>
<line x1="161.30" y1="330.40" x2="161.30" y2="423.00" stroke="#ececec" stroke-width="0.6"/>
<line x1="172.80" y1="330.40" x2="172.80" y2="423.00" stroke="#ececec" stroke-width="0.6"/>
<line x1="184.30" y1="330.40" x2="184.30" y2="423.00" stroke="#ececec" stroke-width="0.6"/>
<line x1="195.80" y1="330.40" x2="195.80" y2="423.00" stroke="#ececec" stroke-width="0.6"/>
<line x1="207.30" y1="330.40" x2="207.30" y2="423.00" stroke="#ececec" stroke-width="0.6"/>
<line x1="218.80" y1="330.40" x2="218.80" y2="423.00" stroke="#ececec" stroke-width="0.6"/>
<line x1="230.30" y1="330.40" x2="230.30" y2="423.00" stroke="#ececec" stroke-width="0.6"/>
<line x1="108.50" y1="339.00" x2="237.50" y2="339.00" stroke="#ececec" stroke-width="0.6"/>
<line x1="108.50" y1="354.02" x2="237.50" y2="354.02" stroke="#ececec" stroke-width="0.6"/>
<line x1="108.50" y1="369.04" x2="237.50" y2="369.04" stroke="#ececec" stroke-width="0.6"/>
<line x1="108.50" y1="384.06" x2="237.50" y2="384.06" stroke="#ececec" stroke-width="0.6"/>
<line x1="108.50" y1="399.08" x2="237.50" y2="399.08" stroke="#ececec" stroke-width="0.6"/>
<line x1="108.50" y1="414.10" x2="237.50" y2="414.10" stroke="#ececec" stroke-width="0.6"/>
<circle cx="115.30" cy="339.00" r="2.78" fill="#ffffff" stroke="#555" stroke-width="0.6"/>
<circle cx="184.30" cy="339.00" r="2.15" fill="#ffffff" stroke="#555" stroke-width="0.6"/>
<circle cx="230.30" cy="339.00" r="4.78" fill="#ffffff" stroke="#555" stroke-width="0.6"/>
<circle cx="115.30" cy="354.02" r="3.08" fill="#f8f5f8" stroke="#555" stroke-width="0.6"/>
<circle cx="195.80" cy="354.02" r="2.38" fill="#c4a5c0" stroke="#555" stroke-width="0.6"/>
<circle cx="207.30" cy="354.02" r="1.65" fill="#ffffff" stroke="#555" stroke-width="0.6"/>
<circle cx="230.30" cy="354.02" r="4.98" fill="#ffffff" stroke="#555" stroke-width="0.6"/>
<circle cx="115.30" cy="369.04" r="3.08" fill="#ffffff" stroke="#555" stroke-width="0.6"/>
<circle cx="195.80" cy="369.04" r="2.58" fill="#ceb4ca" stroke="#555" stroke-width="0.6"/>
<circle cx="207.30" cy="369.04" r="1.65" fill="#c4a5c0" stroke="#555" stroke-width="0.6"/>
<circle cx="230.30" cy="369.04" r="2.58" fill="#ffffff" stroke="#555" stroke-width="0.6"/>
<circle cx="115.30" cy="384.06" r="3.48" fill="#c4a5c0" stroke="#555" stroke-width="0.6"/>
<circle cx="126.80" cy="384.06" r="2.58" fill="#c9acc5" stroke="#555" stroke-width="0.6"/>
<circle cx="195.80" cy="384.06" r="4.08" fill="#9f6d99" stroke="#555" stroke-width="0.6"/>
<circle cx="207.30" cy="384.06" r="2.05" fill="#955d8e" stroke="#555" stroke-width="0.6"/>
<circle cx="218.80" cy="384.06" r="2.38" fill="#bb96b6" stroke="#555" stroke-width="0.6"/>
<circle cx="230.30" cy="384.06" r="3.28" fill="#f2ebf1" stroke="#555" stroke-width="0.6"/>
<circle cx="115.30" cy="399.08" r="1.65" fill="#bf9ebb" stroke="#555" stroke-width="0.6"/>
<circle cx="126.80" cy="399.08" r="4.08" fill="#d7c2d5" stroke="#555" stroke-width="0.6"/>
<circle cx="138.30" cy="399.08" r="1.65" fill="#c9acc5" stroke="#555" stroke-width="0.6"/>
<circle cx="172.80" cy="399.08" r="2.38" fill="#b68fb1" stroke="#555" stroke-width="0.6"/>
<circle cx="195.80" cy="399.08" r="3.48" fill="#b188ac" stroke="#555" stroke-width="0.6"/>
<circle cx="207.30" cy="399.08" r="2.08" fill="#b188ac" stroke="#555" stroke-width="0.6"/>
<circle cx="218.80" cy="399.08" r="2.38" fill="#deccdc" stroke="#555" stroke-width="0.6"/>
<circle cx="230.30" cy="399.08" r="2.58" fill="#f4eff4" stroke="#555" stroke-width="0.6"/>
<circle cx="115.30" cy="414.10" r="1.45" fill="#f2ebf1" stroke="#555" stroke-width="0.6"/>
<circle cx="138.30" cy="414.10" r="3.28" fill="#fbf9fb" stroke="#555" stroke-width="0.6"/>
<circle cx="172.80" cy="414.10" r="1.75" fill="#deccdc" stroke="#555" stroke-width="0.6"/>
<circle cx="195.80" cy="414.10" r="2.58" fill="#e5d6e3" stroke="#555" stroke-width="0.6"/>
<circle cx="207.30" cy="414.10" r="1.75" fill="#deccdc" stroke="#555" stroke-width="0.6"/>
<circle cx="218.80" cy="414.10" r="1.75" fill="#ffffff" stroke="#555" stroke-width="0.6"/>
<circle cx="230.30" cy="414.10" r="3.58" fill="#ffffff" stroke="#555" stroke-width="0.6"/>
<rect x="108.50" y="330.40" width="129" height="92.60" fill="none" stroke="#8a8a8a" stroke-width="1"/>
<line x1="115.30" y1="423.00" x2="115.30" y2="426.50" stroke="#555" stroke-width="0.8"/>
<line x1="126.80" y1="423.00" x2="126.80" y2="426.50" stroke="#555" stroke-width="0.8"/>
<line x1="138.30" y1="423.00" x2="138.30" y2="426.50" stroke="#555" stroke-width="0.8"/>
<line x1="149.80" y1="423.00" x2="149.80" y2="426.50" stroke="#555" stroke-width="0.8"/>
<line x1="161.30" y1="423.00" x2="161.30" y2="426.50" stroke="#555" stroke-width="0.8"/>
<line x1="172.80" y1="423.00" x2="172.80" y2="426.50" stroke="#555" stroke-width="0.8"/>
<line x1="184.30" y1="423.00" x2="184.30" y2="426.50" stroke="#555" stroke-width="0.8"/>
<line x1="195.80" y1="423.00" x2="195.80" y2="426.50" stroke="#555" stroke-width="0.8"/>
<line x1="207.30" y1="423.00" x2="207.30" y2="426.50" stroke="#555" stroke-width="0.8"/>
<line x1="218.80" y1="423.00" x2="218.80" y2="426.50" stroke="#555" stroke-width="0.8"/>
<line x1="230.30" y1="423.00" x2="230.30" y2="426.50" stroke="#555" stroke-width="0.8"/>
<text x="118.20" y="430.80" font-size="7.3" text-anchor="end" transform="rotate(-90 118.20 430.80)" textLength="28" lengthAdjust="spacingAndGlyphs">MuSCs 1</text>
<text x="129.70" y="430.80" font-size="7.3" text-anchor="end" transform="rotate(-90 129.70 430.80)" textLength="30" lengthAdjust="spacingAndGlyphs">MuSCs 2</text>
<text x="141.20" y="430.80" font-size="7.3" text-anchor="end" transform="rotate(-90 141.20 430.80)" textLength="30" lengthAdjust="spacingAndGlyphs">MuSCs 3</text>
<text x="152.70" y="430.80" font-size="7.3" text-anchor="end" transform="rotate(-90 152.70 430.80)" textLength="30" lengthAdjust="spacingAndGlyphs">MuSCs 4</text>
<text x="164.20" y="430.80" font-size="7.3" text-anchor="end" transform="rotate(-90 164.20 430.80)" textLength="30" lengthAdjust="spacingAndGlyphs">MuSCs 5</text>
<text x="175.70" y="430.80" font-size="7.3" text-anchor="end" transform="rotate(-90 175.70 430.80)" textLength="30" lengthAdjust="spacingAndGlyphs">MuSCs 6</text>
<text x="187.20" y="430.80" font-size="7.3" text-anchor="end" transform="rotate(-90 187.20 430.80)" textLength="62" lengthAdjust="spacingAndGlyphs">Non-cycling MPCs</text>
<text x="198.70" y="430.80" font-size="7.3" text-anchor="end" transform="rotate(-90 198.70 430.80)" textLength="47.3" lengthAdjust="spacingAndGlyphs">Cycling MPCs</text>
<text x="210.20" y="430.80" font-size="7.3" text-anchor="end" transform="rotate(-90 210.20 430.80)" textLength="61.1" lengthAdjust="spacingAndGlyphs">Committing MPCs</text>
<text x="221.70" y="430.80" font-size="7.3" text-anchor="end" transform="rotate(-90 221.70 430.80)" textLength="56.8" lengthAdjust="spacingAndGlyphs">Fusing myocytes</text>
<text x="233.20" y="430.80" font-size="7.3" text-anchor="end" transform="rotate(-90 233.20 430.80)" textLength="35.1" lengthAdjust="spacingAndGlyphs">Myonuclei</text>
<line x1="250.60" y1="330.40" x2="250.60" y2="423.00" stroke="#ececec" stroke-width="0.6"/>
<line x1="262.10" y1="330.40" x2="262.10" y2="423.00" stroke="#ececec" stroke-width="0.6"/>
<line x1="273.60" y1="330.40" x2="273.60" y2="423.00" stroke="#ececec" stroke-width="0.6"/>
<line x1="285.10" y1="330.40" x2="285.10" y2="423.00" stroke="#ececec" stroke-width="0.6"/>
<line x1="296.60" y1="330.40" x2="296.60" y2="423.00" stroke="#ececec" stroke-width="0.6"/>
<line x1="308.10" y1="330.40" x2="308.10" y2="423.00" stroke="#ececec" stroke-width="0.6"/>
<line x1="319.60" y1="330.40" x2="319.60" y2="423.00" stroke="#ececec" stroke-width="0.6"/>
<line x1="331.10" y1="330.40" x2="331.10" y2="423.00" stroke="#ececec" stroke-width="0.6"/>
<line x1="342.60" y1="330.40" x2="342.60" y2="423.00" stroke="#ececec" stroke-width="0.6"/>
<line x1="354.10" y1="330.40" x2="354.10" y2="423.00" stroke="#ececec" stroke-width="0.6"/>
<line x1="365.60" y1="330.40" x2="365.60" y2="423.00" stroke="#ececec" stroke-width="0.6"/>
<line x1="243.80" y1="339.00" x2="372.80" y2="339.00" stroke="#ececec" stroke-width="0.6"/>
<line x1="243.80" y1="354.02" x2="372.80" y2="354.02" stroke="#ececec" stroke-width="0.6"/>
<line x1="243.80" y1="369.04" x2="372.80" y2="369.04" stroke="#ececec" stroke-width="0.6"/>
<line x1="243.80" y1="384.06" x2="372.80" y2="384.06" stroke="#ececec" stroke-width="0.6"/>
<line x1="243.80" y1="399.08" x2="372.80" y2="399.08" stroke="#ececec" stroke-width="0.6"/>
<line x1="243.80" y1="414.10" x2="372.80" y2="414.10" stroke="#ececec" stroke-width="0.6"/>
<circle cx="250.60" cy="339.00" r="1.35" fill="#ffffff" stroke="#555" stroke-width="0.6"/>
<circle cx="273.60" cy="339.00" r="2.28" fill="#ffffff" stroke="#555" stroke-width="0.6"/>
<circle cx="319.60" cy="339.00" r="1.95" fill="#ffffff" stroke="#555" stroke-width="0.6"/>
<circle cx="365.60" cy="339.00" r="5.78" fill="#ffffff" stroke="#555" stroke-width="0.6"/>
<circle cx="250.60" cy="354.02" r="1.45" fill="#c4a5c0" stroke="#555" stroke-width="0.6"/>
<circle cx="273.60" cy="354.02" r="2.78" fill="#ffffff" stroke="#555" stroke-width="0.6"/>
<circle cx="331.10" cy="354.02" r="2.38" fill="#813e78" stroke="#555" stroke-width="0.6"/>
<circle cx="342.60" cy="354.02" r="1.65" fill="#c4a5c0" stroke="#555" stroke-width="0.6"/>
<circle cx="365.60" cy="354.02" r="5.78" fill="#ffffff" stroke="#555" stroke-width="0.6"/>
<circle cx="250.60" cy="369.04" r="1.75" fill="#deccdc" stroke="#555" stroke-width="0.6"/>
<circle cx="273.60" cy="369.04" r="3.28" fill="#f8f5f8" stroke="#555" stroke-width="0.6"/>
<circle cx="331.10" cy="369.04" r="3.58" fill="#bb96b6" stroke="#555" stroke-width="0.6"/>
<circle cx="342.60" cy="369.04" r="2.15" fill="#bf9ebb" stroke="#555" stroke-width="0.6"/>
<circle cx="365.60" cy="369.04" r="5.78" fill="#ffffff" stroke="#555" stroke-width="0.6"/>
<circle cx="250.60" cy="384.06" r="1.55" fill="#78306f" stroke="#555" stroke-width="0.6"/>
<circle cx="273.60" cy="384.06" r="2.38" fill="#bf9ebb" stroke="#555" stroke-width="0.6"/>
<circle cx="285.10" cy="384.06" r="3.08" fill="#c4a5c0" stroke="#555" stroke-width="0.6"/>
<circle cx="331.10" cy="384.06" r="3.98" fill="#955d8e" stroke="#555" stroke-width="0.6"/>
<circle cx="342.60" cy="384.06" r="2.78" fill="#78306f" stroke="#555" stroke-width="0.6"/>
<circle cx="354.10" cy="384.06" r="2.38" fill="#b68fb1" stroke="#555" stroke-width="0.6"/>
<circle cx="365.60" cy="384.06" r="3.48" fill="#f2ebf1" stroke="#555" stroke-width="0.6"/>
<circle cx="250.60" cy="399.08" r="1.75" fill="#c4a5c0" stroke="#555" stroke-width="0.6"/>
<circle cx="285.10" cy="399.08" r="3.98" fill="#d7c2d5" stroke="#555" stroke-width="0.6"/>
<circle cx="296.60" cy="399.08" r="2.28" fill="#c4a5c0" stroke="#555" stroke-width="0.6"/>
<circle cx="308.10" cy="399.08" r="2.15" fill="#bb96b6" stroke="#555" stroke-width="0.6"/>
<circle cx="331.10" cy="399.08" r="2.78" fill="#bb96b6" stroke="#555" stroke-width="0.6"/>
<circle cx="342.60" cy="399.08" r="2.08" fill="#b188ac" stroke="#555" stroke-width="0.6"/>
<circle cx="354.10" cy="399.08" r="2.15" fill="#e5d6e3" stroke="#555" stroke-width="0.6"/>
<circle cx="365.60" cy="399.08" r="3.98" fill="#ffffff" stroke="#555" stroke-width="0.6"/>
<circle cx="250.60" cy="414.10" r="1.45" fill="#ffffff" stroke="#555" stroke-width="0.6"/>
<circle cx="296.60" cy="414.10" r="3.08" fill="#f2ebf1" stroke="#555" stroke-width="0.6"/>
<circle cx="308.10" cy="414.10" r="1.85" fill="#deccdc" stroke="#555" stroke-width="0.6"/>
<circle cx="331.10" cy="414.10" r="2.38" fill="#d7c2d5" stroke="#555" stroke-width="0.6"/>
<circle cx="342.60" cy="414.10" r="1.95" fill="#bf9ebb" stroke="#555" stroke-width="0.6"/>
<circle cx="354.10" cy="414.10" r="1.75" fill="#ffffff" stroke="#555" stroke-width="0.6"/>
<circle cx="365.60" cy="414.10" r="5.28" fill="#ffffff" stroke="#555" stroke-width="0.6"/>
<rect x="243.80" y="330.40" width="129" height="92.60" fill="none" stroke="#8a8a8a" stroke-width="1"/>
<line x1="250.60" y1="423.00" x2="250.60" y2="426.50" stroke="#555" stroke-width="0.8"/>
<line x1="262.10" y1="423.00" x2="262.10" y2="426.50" stroke="#555" stroke-width="0.8"/>
<line x1="273.60" y1="423.00" x2="273.60" y2="426.50" stroke="#555" stroke-width="0.8"/>
<line x1="285.10" y1="423.00" x2="285.10" y2="426.50" stroke="#555" stroke-width="0.8"/>
<line x1="296.60" y1="423.00" x2="296.60" y2="426.50" stroke="#555" stroke-width="0.8"/>
<line x1="308.10" y1="423.00" x2="308.10" y2="426.50" stroke="#555" stroke-width="0.8"/>
<line x1="319.60" y1="423.00" x2="319.60" y2="426.50" stroke="#555" stroke-width="0.8"/>
<line x1="331.10" y1="423.00" x2="331.10" y2="426.50" stroke="#555" stroke-width="0.8"/>
<line x1="342.60" y1="423.00" x2="342.60" y2="426.50" stroke="#555" stroke-width="0.8"/>
<line x1="354.10" y1="423.00" x2="354.10" y2="426.50" stroke="#555" stroke-width="0.8"/>
<line x1="365.60" y1="423.00" x2="365.60" y2="426.50" stroke="#555" stroke-width="0.8"/>
<text x="253.50" y="430.80" font-size="7.3" text-anchor="end" transform="rotate(-90 253.50 430.80)" textLength="28" lengthAdjust="spacingAndGlyphs">MuSCs 1</text>
<text x="265.00" y="430.80" font-size="7.3" text-anchor="end" transform="rotate(-90 265.00 430.80)" textLength="30" lengthAdjust="spacingAndGlyphs">MuSCs 2</text>
<text x="276.50" y="430.80" font-size="7.3" text-anchor="end" transform="rotate(-90 276.50 430.80)" textLength="30" lengthAdjust="spacingAndGlyphs">MuSCs 3</text>
<text x="288.00" y="430.80" font-size="7.3" text-anchor="end" transform="rotate(-90 288.00 430.80)" textLength="30" lengthAdjust="spacingAndGlyphs">MuSCs 4</text>
<text x="299.50" y="430.80" font-size="7.3" text-anchor="end" transform="rotate(-90 299.50 430.80)" textLength="30" lengthAdjust="spacingAndGlyphs">MuSCs 5</text>
<text x="311.00" y="430.80" font-size="7.3" text-anchor="end" transform="rotate(-90 311.00 430.80)" textLength="30" lengthAdjust="spacingAndGlyphs">MuSCs 6</text>
<text x="322.50" y="430.80" font-size="7.3" text-anchor="end" transform="rotate(-90 322.50 430.80)" textLength="62" lengthAdjust="spacingAndGlyphs">Non-cycling MPCs</text>
<text x="334.00" y="430.80" font-size="7.3" text-anchor="end" transform="rotate(-90 334.00 430.80)" textLength="47.3" lengthAdjust="spacingAndGlyphs">Cycling MPCs</text>
<text x="345.50" y="430.80" font-size="7.3" text-anchor="end" transform="rotate(-90 345.50 430.80)" textLength="61.1" lengthAdjust="spacingAndGlyphs">Committing MPCs</text>
<text x="357.00" y="430.80" font-size="7.3" text-anchor="end" transform="rotate(-90 357.00 430.80)" textLength="56.8" lengthAdjust="spacingAndGlyphs">Fusing myocytes</text>
<text x="368.50" y="430.80" font-size="7.3" text-anchor="end" transform="rotate(-90 368.50 430.80)" textLength="35.1" lengthAdjust="spacingAndGlyphs">Myonuclei</text>
<line x1="385.90" y1="330.40" x2="385.90" y2="423.00" stroke="#ececec" stroke-width="0.6"/>
<line x1="397.40" y1="330.40" x2="397.40" y2="423.00" stroke="#ececec" stroke-width="0.6"/>
<line x1="408.90" y1="330.40" x2="408.90" y2="423.00" stroke="#ececec" stroke-width="0.6"/>
<line x1="420.40" y1="330.40" x2="420.40" y2="423.00" stroke="#ececec" stroke-width="0.6"/>
<line x1="431.90" y1="330.40" x2="431.90" y2="423.00" stroke="#ececec" stroke-width="0.6"/>
<line x1="443.40" y1="330.40" x2="443.40" y2="423.00" stroke="#ececec" stroke-width="0.6"/>
<line x1="454.90" y1="330.40" x2="454.90" y2="423.00" stroke="#ececec" stroke-width="0.6"/>
<line x1="466.40" y1="330.40" x2="466.40" y2="423.00" stroke="#ececec" stroke-width="0.6"/>
<line x1="477.90" y1="330.40" x2="477.90" y2="423.00" stroke="#ececec" stroke-width="0.6"/>
<line x1="489.40" y1="330.40" x2="489.40" y2="423.00" stroke="#ececec" stroke-width="0.6"/>
<line x1="500.90" y1="330.40" x2="500.90" y2="423.00" stroke="#ececec" stroke-width="0.6"/>
<line x1="379.10" y1="339.00" x2="508.10" y2="339.00" stroke="#ececec" stroke-width="0.6"/>
<line x1="379.10" y1="354.02" x2="508.10" y2="354.02" stroke="#ececec" stroke-width="0.6"/>
<line x1="379.10" y1="369.04" x2="508.10" y2="369.04" stroke="#ececec" stroke-width="0.6"/>
<line x1="379.10" y1="384.06" x2="508.10" y2="384.06" stroke="#ececec" stroke-width="0.6"/>
<line x1="379.10" y1="399.08" x2="508.10" y2="399.08" stroke="#ececec" stroke-width="0.6"/>
<line x1="379.10" y1="414.10" x2="508.10" y2="414.10" stroke="#ececec" stroke-width="0.6"/>
<circle cx="385.90" cy="339.00" r="1.25" fill="#ffffff" stroke="#555" stroke-width="0.6"/>
<circle cx="431.90" cy="339.00" r="2.08" fill="#ffffff" stroke="#555" stroke-width="0.6"/>
<circle cx="454.90" cy="339.00" r="1.65" fill="#d3bbd0" stroke="#555" stroke-width="0.6"/>
<circle cx="500.90" cy="339.00" r="5.78" fill="#ffffff" stroke="#555" stroke-width="0.6"/>
<circle cx="385.90" cy="354.02" r="1.35" fill="#ffffff" stroke="#555" stroke-width="0.6"/>
<circle cx="431.90" cy="354.02" r="3.78" fill="#ffffff" stroke="#555" stroke-width="0.6"/>
<circle cx="466.40" cy="354.02" r="2.98" fill="#ebe1ea" stroke="#555" stroke-width="0.6"/>
<circle cx="477.90" cy="354.02" r="2.38" fill="#f4eff4" stroke="#555" stroke-width="0.6"/>
<circle cx="500.90" cy="354.02" r="2.58" fill="#ffffff" stroke="#555" stroke-width="0.6"/>
<circle cx="385.90" cy="369.04" r="2.08" fill="#bf9ebb" stroke="#555" stroke-width="0.6"/>
<circle cx="431.90" cy="369.04" r="4.08" fill="#f8f5f8" stroke="#555" stroke-width="0.6"/>
<circle cx="466.40" cy="369.04" r="3.38" fill="#bb96b6" stroke="#555" stroke-width="0.6"/>
<circle cx="477.90" cy="369.04" r="2.15" fill="#955d8e" stroke="#555" stroke-width="0.6"/>
<circle cx="500.90" cy="369.04" r="2.98" fill="#ffffff" stroke="#555" stroke-width="0.6"/>
<circle cx="385.90" cy="384.06" r="1.35" fill="#78306f" stroke="#555" stroke-width="0.6"/>
<circle cx="431.90" cy="384.06" r="2.18" fill="#c4a5c0" stroke="#555" stroke-width="0.6"/>
<circle cx="443.40" cy="384.06" r="2.15" fill="#d3bbd0" stroke="#555" stroke-width="0.6"/>
<circle cx="466.40" cy="384.06" r="3.58" fill="#955d8e" stroke="#555" stroke-width="0.6"/>
<circle cx="477.90" cy="384.06" r="2.05" fill="#8b4d83" stroke="#555" stroke-width="0.6"/>
<circle cx="489.40" cy="384.06" r="2.08" fill="#bb96b6" stroke="#555" stroke-width="0.6"/>
<circle cx="500.90" cy="384.06" r="2.58" fill="#e5d6e3" stroke="#555" stroke-width="0.6"/>
<circle cx="385.90" cy="399.08" r="1.75" fill="#955d8e" stroke="#555" stroke-width="0.6"/>
<circle cx="443.40" cy="399.08" r="3.98" fill="#bf9ebb" stroke="#555" stroke-width="0.6"/>
<circle cx="466.40" cy="399.08" r="2.58" fill="#9f6d99" stroke="#555" stroke-width="0.6"/>
<circle cx="477.90" cy="399.08" r="2.38" fill="#955d8e" stroke="#555" stroke-width="0.6"/>
<circle cx="489.40" cy="399.08" r="2.18" fill="#ceb4ca" stroke="#555" stroke-width="0.6"/>
<circle cx="500.90" cy="399.08" r="2.78" fill="#f4eff4" stroke="#555" stroke-width="0.6"/>
<circle cx="385.90" cy="414.10" r="1.55" fill="#ceb4ca" stroke="#555" stroke-width="0.6"/>
<circle cx="443.40" cy="414.10" r="3.58" fill="#e5d6e3" stroke="#555" stroke-width="0.6"/>
<circle cx="466.40" cy="414.10" r="2.28" fill="#c4a5c0" stroke="#555" stroke-width="0.6"/>
<circle cx="477.90" cy="414.10" r="1.85" fill="#b68fb1" stroke="#555" stroke-width="0.6"/>
<circle cx="489.40" cy="414.10" r="2.05" fill="#e5d6e3" stroke="#555" stroke-width="0.6"/>
<circle cx="500.90" cy="414.10" r="4.78" fill="#ffffff" stroke="#555" stroke-width="0.6"/>
<rect x="379.10" y="330.40" width="129" height="92.60" fill="none" stroke="#8a8a8a" stroke-width="1"/>
<line x1="385.90" y1="423.00" x2="385.90" y2="426.50" stroke="#555" stroke-width="0.8"/>
<line x1="397.40" y1="423.00" x2="397.40" y2="426.50" stroke="#555" stroke-width="0.8"/>
<line x1="408.90" y1="423.00" x2="408.90" y2="426.50" stroke="#555" stroke-width="0.8"/>
<line x1="420.40" y1="423.00" x2="420.40" y2="426.50" stroke="#555" stroke-width="0.8"/>
<line x1="431.90" y1="423.00" x2="431.90" y2="426.50" stroke="#555" stroke-width="0.8"/>
<line x1="443.40" y1="423.00" x2="443.40" y2="426.50" stroke="#555" stroke-width="0.8"/>
<line x1="454.90" y1="423.00" x2="454.90" y2="426.50" stroke="#555" stroke-width="0.8"/>
<line x1="466.40" y1="423.00" x2="466.40" y2="426.50" stroke="#555" stroke-width="0.8"/>
<line x1="477.90" y1="423.00" x2="477.90" y2="426.50" stroke="#555" stroke-width="0.8"/>
<line x1="489.40" y1="423.00" x2="489.40" y2="426.50" stroke="#555" stroke-width="0.8"/>
<line x1="500.90" y1="423.00" x2="500.90" y2="426.50" stroke="#555" stroke-width="0.8"/>
<text x="388.80" y="430.80" font-size="7.3" text-anchor="end" transform="rotate(-90 388.80 430.80)" textLength="28" lengthAdjust="spacingAndGlyphs">MuSCs 1</text>
<text x="400.30" y="430.80" font-size="7.3" text-anchor="end" transform="rotate(-90 400.30 430.80)" textLength="30" lengthAdjust="spacingAndGlyphs">MuSCs 2</text>
<text x="411.80" y="430.80" font-size="7.3" text-anchor="end" transform="rotate(-90 411.80 430.80)" textLength="30" lengthAdjust="spacingAndGlyphs">MuSCs 3</text>
<text x="423.30" y="430.80" font-size="7.3" text-anchor="end" transform="rotate(-90 423.30 430.80)" textLength="30" lengthAdjust="spacingAndGlyphs">MuSCs 4</text>
<text x="434.80" y="430.80" font-size="7.3" text-anchor="end" transform="rotate(-90 434.80 430.80)" textLength="30" lengthAdjust="spacingAndGlyphs">MuSCs 5</text>
<text x="446.30" y="430.80" font-size="7.3" text-anchor="end" transform="rotate(-90 446.30 430.80)" textLength="30" lengthAdjust="spacingAndGlyphs">MuSCs 6</text>
<text x="457.80" y="430.80" font-size="7.3" text-anchor="end" transform="rotate(-90 457.80 430.80)" textLength="62" lengthAdjust="spacingAndGlyphs">Non-cycling MPCs</text>
<text x="469.30" y="430.80" font-size="7.3" text-anchor="end" transform="rotate(-90 469.30 430.80)" textLength="47.3" lengthAdjust="spacingAndGlyphs">Cycling MPCs</text>
<text x="480.80" y="430.80" font-size="7.3" text-anchor="end" transform="rotate(-90 480.80 430.80)" textLength="61.1" lengthAdjust="spacingAndGlyphs">Committing MPCs</text>
<text x="492.30" y="430.80" font-size="7.3" text-anchor="end" transform="rotate(-90 492.30 430.80)" textLength="56.8" lengthAdjust="spacingAndGlyphs">Fusing myocytes</text>
<text x="503.80" y="430.80" font-size="7.3" text-anchor="end" transform="rotate(-90 503.80 430.80)" textLength="35.1" lengthAdjust="spacingAndGlyphs">Myonuclei</text>
<line x1="104.30" y1="339.00" x2="108.50" y2="339.00" stroke="#555" stroke-width="0.8"/>
<text x="99.90" y="341.80" font-size="8" text-anchor="end">0</text>
<line x1="104.30" y1="354.02" x2="108.50" y2="354.02" stroke="#555" stroke-width="0.8"/>
<text x="99.90" y="356.82" font-size="8" text-anchor="end">1</text>
<line x1="104.30" y1="369.04" x2="108.50" y2="369.04" stroke="#555" stroke-width="0.8"/>
<text x="99.90" y="371.84" font-size="8" text-anchor="end">2</text>
<line x1="104.30" y1="384.06" x2="108.50" y2="384.06" stroke="#555" stroke-width="0.8"/>
<text x="99.90" y="386.86" font-size="8" text-anchor="end">3.5</text>
<line x1="104.30" y1="399.08" x2="108.50" y2="399.08" stroke="#555" stroke-width="0.8"/>
<text x="99.90" y="401.88" font-size="8" text-anchor="end">5</text>
<line x1="104.30" y1="414.10" x2="108.50" y2="414.10" stroke="#555" stroke-width="0.8"/>
<text x="99.90" y="416.90" font-size="8" text-anchor="end">7</text>
<text x="69.20" y="376.70" font-size="8.5" text-anchor="middle" transform="rotate(-90 69.20 376.70)">One-way FBR high</text>
<text x="80.40" y="376.70" font-size="7.5" text-anchor="middle" transform="rotate(-90 80.40 376.70)">dpi</text>
<text x="515.80" y="213.20" font-size="7.6">% of cells in a</text>
<text x="515.80" y="222.20" font-size="7.6">given bin by dpi</text>
<circle cx="518.9" cy="229.2" r="0.75" fill="#333"/>
<text x="525.80" y="231.80" font-size="7.6">0</text>
<circle cx="518.9" cy="235.8" r="2.2" fill="none" stroke="#333" stroke-width="0.9"/>
<text x="525.80" y="238.40" font-size="7.6">5</text>
<circle cx="518.9" cy="242.5" r="3.0" fill="none" stroke="#333" stroke-width="0.9"/>
<text x="525.80" y="245.10" font-size="7.6">10</text>
<circle cx="518.9" cy="250.2" r="3.7" fill="none" stroke="#333" stroke-width="0.9"/>
<text x="525.80" y="252.80" font-size="7.6">15</text>
<text x="515.8" y="264.5" font-size="7.6">Fraction of <tspan font-style="italic">Cdkn2a</tspan>+</text>
<text x="515.8" y="273.5" font-size="7.6">and <tspan font-style="italic">Cdkn1a</tspan>+ cells</text>
<defs><linearGradient id="cb" x1="0" y1="1" x2="0" y2="0"><stop offset="0" stop-color="#ffffff"/><stop offset="1" stop-color="#6a1f66"/></linearGradient></defs>
<rect x="515.8" y="277.8" width="7" height="32.7" fill="url(#cb)"/>
<line x1="515.80" y1="279.20" x2="517.30" y2="279.20" stroke="#fff" stroke-width="0.6"/>
<line x1="521.30" y1="279.20" x2="522.80" y2="279.20" stroke="#fff" stroke-width="0.6"/>
<text x="526.50" y="281.80" font-size="7.6">0.8</text>
<line x1="515.80" y1="287.15" x2="517.30" y2="287.15" stroke="#fff" stroke-width="0.6"/>
<line x1="521.30" y1="287.15" x2="522.80" y2="287.15" stroke="#fff" stroke-width="0.6"/>
<text x="526.50" y="289.75" font-size="7.6">0.6</text>
<line x1="515.80" y1="295.10" x2="517.30" y2="295.10" stroke="#fff" stroke-width="0.6"/>
<line x1="521.30" y1="295.10" x2="522.80" y2="295.10" stroke="#fff" stroke-width="0.6"/>
<text x="526.50" y="297.70" font-size="7.6">0.4</text>
<line x1="515.80" y1="303.05" x2="517.30" y2="303.05" stroke="#fff" stroke-width="0.6"/>
<line x1="521.30" y1="303.05" x2="522.80" y2="303.05" stroke="#fff" stroke-width="0.6"/>
<text x="526.50" y="305.65" font-size="7.6">0.2</text>
<text x="526.50" y="313.60" font-size="7.6">0</text>
<text x="515.80" y="353.70" font-size="7.6">Fraction of Sen</text>
<text x="515.80" y="361.90" font-size="7.6">Score high cells</text>
<rect x="515.8" y="367.4" width="7" height="32.7" fill="url(#cb)"/>
<text x="526.50" y="370.60" font-size="7.6">1.00</text>
<line x1="515.80" y1="376.17" x2="517.30" y2="376.17" stroke="#fff" stroke-width="0.6"/>
<line x1="521.30" y1="376.17" x2="522.80" y2="376.17" stroke="#fff" stroke-width="0.6"/>
<text x="526.50" y="378.77" font-size="7.6">0.75</text>
<line x1="515.80" y1="384.34" x2="517.30" y2="384.34" stroke="#fff" stroke-width="0.6"/>
<line x1="521.30" y1="384.34" x2="522.80" y2="384.34" stroke="#fff" stroke-width="0.6"/>
<text x="526.50" y="386.94" font-size="7.6">0.50</text>
<line x1="515.80" y1="392.51" x2="517.30" y2="392.51" stroke="#fff" stroke-width="0.6"/>
<line x1="521.30" y1="392.51" x2="522.80" y2="392.51" stroke="#fff" stroke-width="0.6"/>
<text x="526.50" y="395.11" font-size="7.6">0.25</text>
<text x="526.50" y="403.28" font-size="7.6">0</text>
<line x1="35.40" y1="547.40" x2="35.40" y2="675.50" stroke="#ababab" stroke-width="1.1"/>
<line x1="34.90" y1="675.00" x2="131.00" y2="675.00" stroke="#ababab" stroke-width="1.1"/>
<line x1="32.10" y1="558.30" x2="35.40" y2="558.30" stroke="#999" stroke-width="1"/>
<text x="28.90" y="561.20" font-size="8" text-anchor="end">1.00</text>
<line x1="32.10" y1="584.65" x2="35.40" y2="584.65" stroke="#999" stroke-width="1"/>
<text x="28.90" y="587.55" font-size="8" text-anchor="end">0.75</text>
<line x1="32.10" y1="611.00" x2="35.40" y2="611.00" stroke="#999" stroke-width="1"/>
<text x="28.90" y="613.90" font-size="8" text-anchor="end">0.50</text>
<line x1="32.10" y1="637.35" x2="35.40" y2="637.35" stroke="#999" stroke-width="1"/>
<text x="28.90" y="640.25" font-size="8" text-anchor="end">0.25</text>
<line x1="32.10" y1="663.70" x2="35.40" y2="663.70" stroke="#999" stroke-width="1"/>
<text x="28.90" y="666.60" font-size="8" text-anchor="end">0</text>
<line x1="53.30" y1="675.30" x2="53.30" y2="678.80" stroke="#707070" stroke-width="1"/>
<text x="53.30" y="688.60" font-size="8" text-anchor="middle">Young</text>
<line x1="83.30" y1="675.30" x2="83.30" y2="678.80" stroke="#707070" stroke-width="1"/>
<text x="83.30" y="688.60" font-size="8" text-anchor="middle">Old</text>
<line x1="113.00" y1="675.30" x2="113.00" y2="678.80" stroke="#707070" stroke-width="1"/>
<text x="113.00" y="688.60" font-size="8" text-anchor="middle">Geriatric</text>
<text x="83.30" y="516.50" font-size="8.7" text-anchor="middle">MuSCs 1 at 3.5 dpi</text>
<text x="83.30" y="526.30" font-size="6.6" text-anchor="middle"><tspan font-style="italic">P</tspan> = 0.007*</text>
<line x1="53.30" y1="529.20" x2="113.00" y2="529.20" stroke="#555" stroke-width="0.7"/>
<line x1="53.30" y1="529.20" x2="53.30" y2="531.40" stroke="#555" stroke-width="0.7"/>
<line x1="113.00" y1="529.20" x2="113.00" y2="531.40" stroke="#555" stroke-width="0.7"/>
<text x="68.30" y="537.40" font-size="6.6" text-anchor="middle"><tspan font-style="italic">P</tspan> = 0.06</text>
<text x="98.15" y="537.40" font-size="6.6" text-anchor="middle"><tspan font-style="italic">P</tspan> = 0.44</text>
<line x1="53.30" y1="540.80" x2="82.40" y2="540.80" stroke="#555" stroke-width="0.7"/>
<line x1="53.30" y1="540.80" x2="53.30" y2="542.80" stroke="#555" stroke-width="0.7"/>
<line x1="82.40" y1="540.80" x2="82.40" y2="542.80" stroke="#555" stroke-width="0.7"/>
<line x1="84.20" y1="540.80" x2="113.00" y2="540.80" stroke="#555" stroke-width="0.7"/>
<line x1="84.20" y1="540.80" x2="84.20" y2="542.80" stroke="#555" stroke-width="0.7"/>
<line x1="113.00" y1="540.80" x2="113.00" y2="542.80" stroke="#555" stroke-width="0.7"/>
<text x="41.80" y="558.00" font-size="12" fill="#111" font-weight="bold" stroke="#111" stroke-width="0.3">e</text>
<circle cx="51.5" cy="620.7" r="1.5" fill="#f5a868"/>
<circle cx="53" cy="644" r="1.5" fill="#f5a868"/>
<circle cx="52.4" cy="646.7" r="1.5" fill="#f5a868"/>
<circle cx="56.5" cy="650.7" r="1.5" fill="#f5a868"/>
<line x1="45.70" y1="645.78" x2="60.90" y2="645.78" stroke="#ee8a3c" stroke-width="1.6"/>
<circle cx="82.4" cy="558" r="1.5" fill="#93c1e6"/>
<circle cx="85.4" cy="599.1" r="1.5" fill="#93c1e6"/>
<circle cx="81.3" cy="610.7" r="1.5" fill="#93c1e6"/>
<line x1="75.70" y1="597.83" x2="90.90" y2="597.83" stroke="#5b9fd6" stroke-width="1.6"/>
<circle cx="112.2" cy="557.4" r="1.5" fill="#7d5299"/>
<circle cx="115.4" cy="611.3" r="1.5" fill="#7d5299"/>
<line x1="105.40" y1="558.30" x2="120.60" y2="558.30" stroke="#5a2a82" stroke-width="1.6"/>
<line x1="138.40" y1="547.40" x2="138.40" y2="675.50" stroke="#ababab" stroke-width="1.1"/>
<line x1="137.90" y1="675.00" x2="233.40" y2="675.00" stroke="#ababab" stroke-width="1.1"/>
<line x1="135.10" y1="558.30" x2="138.40" y2="558.30" stroke="#999" stroke-width="1"/>
<line x1="135.10" y1="584.65" x2="138.40" y2="584.65" stroke="#999" stroke-width="1"/>
<line x1="135.10" y1="611.00" x2="138.40" y2="611.00" stroke="#999" stroke-width="1"/>
<line x1="135.10" y1="637.35" x2="138.40" y2="637.35" stroke="#999" stroke-width="1"/>
<line x1="135.10" y1="663.70" x2="138.40" y2="663.70" stroke="#999" stroke-width="1"/>
<line x1="156.30" y1="675.30" x2="156.30" y2="678.80" stroke="#707070" stroke-width="1"/>
<text x="156.30" y="688.60" font-size="8" text-anchor="middle">Young</text>
<line x1="186.30" y1="675.30" x2="186.30" y2="678.80" stroke="#707070" stroke-width="1"/>
<text x="186.30" y="688.60" font-size="8" text-anchor="middle">Old</text>
<line x1="216.00" y1="675.30" x2="216.00" y2="678.80" stroke="#707070" stroke-width="1"/>
<text x="216.00" y="688.60" font-size="8" text-anchor="middle">Geriatric</text>
<text x="186.30" y="516.50" font-size="8.7" text-anchor="middle">MuSCs 2–6 at 3.5 dpi</text>
<text x="186.30" y="526.30" font-size="6.6" text-anchor="middle"><tspan font-style="italic">P</tspan> = 0.86</text>
<line x1="156.30" y1="529.20" x2="216.00" y2="529.20" stroke="#555" stroke-width="0.7"/>
<line x1="156.30" y1="529.20" x2="156.30" y2="531.40" stroke="#555" stroke-width="0.7"/>
<line x1="216.00" y1="529.20" x2="216.00" y2="531.40" stroke="#555" stroke-width="0.7"/>
<text x="171.30" y="537.40" font-size="6.6" text-anchor="middle"><tspan font-style="italic">P</tspan> = 0.92</text>
<text x="201.15" y="537.40" font-size="6.6" text-anchor="middle"><tspan font-style="italic">P</tspan> = 0.84</text>
<line x1="156.30" y1="540.80" x2="185.40" y2="540.80" stroke="#555" stroke-width="0.7"/>
<line x1="156.30" y1="540.80" x2="156.30" y2="542.80" stroke="#555" stroke-width="0.7"/>
<line x1="185.40" y1="540.80" x2="185.40" y2="542.80" stroke="#555" stroke-width="0.7"/>
<line x1="187.20" y1="540.80" x2="216.00" y2="540.80" stroke="#555" stroke-width="0.7"/>
<line x1="187.20" y1="540.80" x2="187.20" y2="542.80" stroke="#555" stroke-width="0.7"/>
<line x1="216.00" y1="540.80" x2="216.00" y2="542.80" stroke="#555" stroke-width="0.7"/>
<text x="144.80" y="558.00" font-size="12" fill="#111" font-weight="bold" stroke="#111" stroke-width="0.3">f</text>
<circle cx="154.8" cy="624.6" r="1.5" fill="#f5a868"/>
<circle cx="155.4" cy="651.1" r="1.5" fill="#f5a868"/>
<line x1="148.70" y1="637.35" x2="163.90" y2="637.35" stroke="#ee8a3c" stroke-width="1.6"/>
<circle cx="187.1" cy="634.3" r="1.5" fill="#93c1e6"/>
<circle cx="187.5" cy="639.2" r="1.5" fill="#93c1e6"/>
<circle cx="185.1" cy="645.3" r="1.5" fill="#93c1e6"/>
<line x1="178.70" y1="638.93" x2="193.90" y2="638.93" stroke="#5b9fd6" stroke-width="1.6"/>
<circle cx="214.6" cy="624.1" r="1.5" fill="#7d5299"/>
<circle cx="218.2" cy="642.8" r="1.5" fill="#7d5299"/>
<circle cx="213.5" cy="644.2" r="1.5" fill="#7d5299"/>
<circle cx="217.1" cy="652.2" r="1.5" fill="#7d5299"/>
<line x1="208.40" y1="643.67" x2="223.60" y2="643.67" stroke="#5a2a82" stroke-width="1.6"/>
<line x1="240.50" y1="547.40" x2="240.50" y2="675.50" stroke="#ababab" stroke-width="1.1"/>
<line x1="240.00" y1="675.00" x2="336.00" y2="675.00" stroke="#ababab" stroke-width="1.1"/>
<line x1="237.20" y1="558.30" x2="240.50" y2="558.30" stroke="#999" stroke-width="1"/>
<line x1="237.20" y1="584.65" x2="240.50" y2="584.65" stroke="#999" stroke-width="1"/>
<line x1="237.20" y1="611.00" x2="240.50" y2="611.00" stroke="#999" stroke-width="1"/>
<line x1="237.20" y1="637.35" x2="240.50" y2="637.35" stroke="#999" stroke-width="1"/>
<line x1="237.20" y1="663.70" x2="240.50" y2="663.70" stroke="#999" stroke-width="1"/>
<line x1="258.40" y1="675.30" x2="258.40" y2="678.80" stroke="#707070" stroke-width="1"/>
<text x="258.40" y="688.60" font-size="8" text-anchor="middle">Young</text>
<line x1="288.40" y1="675.30" x2="288.40" y2="678.80" stroke="#707070" stroke-width="1"/>
<text x="288.40" y="688.60" font-size="8" text-anchor="middle">Old</text>
<line x1="318.10" y1="675.30" x2="318.10" y2="678.80" stroke="#707070" stroke-width="1"/>
<text x="318.10" y="688.60" font-size="8" text-anchor="middle">Geriatric</text>
<text x="288.40" y="516.50" font-size="8.7" text-anchor="middle">MPCs at 3.5 dpi</text>
<text x="288.40" y="526.30" font-size="6.6" text-anchor="middle"><tspan font-style="italic">P</tspan> = 0.04*</text>
<line x1="258.40" y1="529.20" x2="318.10" y2="529.20" stroke="#555" stroke-width="0.7"/>
<line x1="258.40" y1="529.20" x2="258.40" y2="531.40" stroke="#555" stroke-width="0.7"/>
<line x1="318.10" y1="529.20" x2="318.10" y2="531.40" stroke="#555" stroke-width="0.7"/>
<text x="273.40" y="537.40" font-size="6.6" text-anchor="middle"><tspan font-style="italic">P</tspan> = 0.04*</text>
<text x="303.25" y="537.40" font-size="6.6" text-anchor="middle"><tspan font-style="italic">P</tspan> = 0.59</text>
<line x1="258.40" y1="540.80" x2="287.50" y2="540.80" stroke="#555" stroke-width="0.7"/>
<line x1="258.40" y1="540.80" x2="258.40" y2="542.80" stroke="#555" stroke-width="0.7"/>
<line x1="287.50" y1="540.80" x2="287.50" y2="542.80" stroke="#555" stroke-width="0.7"/>
<line x1="289.30" y1="540.80" x2="318.10" y2="540.80" stroke="#555" stroke-width="0.7"/>
<line x1="289.30" y1="540.80" x2="289.30" y2="542.80" stroke="#555" stroke-width="0.7"/>
<line x1="318.10" y1="540.80" x2="318.10" y2="542.80" stroke="#555" stroke-width="0.7"/>
<text x="246.90" y="558.00" font-size="12" fill="#111" font-weight="bold" stroke="#111" stroke-width="0.3">g</text>
<circle cx="256.7" cy="600.1" r="1.5" fill="#f5a868"/>
<circle cx="259.4" cy="612.8" r="1.5" fill="#f5a868"/>
<circle cx="258.3" cy="615.5" r="1.5" fill="#f5a868"/>
<circle cx="259.4" cy="622.4" r="1.5" fill="#f5a868"/>
<line x1="250.80" y1="615.22" x2="266.00" y2="615.22" stroke="#ee8a3c" stroke-width="1.6"/>
<circle cx="288" cy="582" r="1.5" fill="#93c1e6"/>
<circle cx="286.4" cy="588" r="1.5" fill="#93c1e6"/>
<circle cx="288.6" cy="599.6" r="1.5" fill="#93c1e6"/>
<circle cx="289.4" cy="606.2" r="1.5" fill="#93c1e6"/>
<line x1="280.80" y1="593.61" x2="296.00" y2="593.61" stroke="#5b9fd6" stroke-width="1.6"/>
<circle cx="321.3" cy="591.9" r="1.5" fill="#7d5299"/>
<circle cx="316.9" cy="596.8" r="1.5" fill="#7d5299"/>
<circle cx="320.8" cy="601.5" r="1.5" fill="#7d5299"/>
<line x1="310.50" y1="597.83" x2="325.70" y2="597.83" stroke="#5a2a82" stroke-width="1.6"/>
<line x1="384.60" y1="547.40" x2="384.60" y2="675.50" stroke="#ababab" stroke-width="1.1"/>
<line x1="384.10" y1="675.00" x2="479.60" y2="675.00" stroke="#ababab" stroke-width="1.1"/>
<line x1="381.30" y1="558.30" x2="384.60" y2="558.30" stroke="#999" stroke-width="1"/>
<text x="378.10" y="561.20" font-size="8" text-anchor="end">1.00</text>
<line x1="381.30" y1="584.65" x2="384.60" y2="584.65" stroke="#999" stroke-width="1"/>
<text x="378.10" y="587.55" font-size="8" text-anchor="end">0.75</text>
<line x1="381.30" y1="611.00" x2="384.60" y2="611.00" stroke="#999" stroke-width="1"/>
<text x="378.10" y="613.90" font-size="8" text-anchor="end">0.50</text>
<line x1="381.30" y1="637.35" x2="384.60" y2="637.35" stroke="#999" stroke-width="1"/>
<text x="378.10" y="640.25" font-size="8" text-anchor="end">0.25</text>
<line x1="381.30" y1="663.70" x2="384.60" y2="663.70" stroke="#999" stroke-width="1"/>
<text x="378.10" y="666.60" font-size="8" text-anchor="end">0</text>
<line x1="402.50" y1="675.30" x2="402.50" y2="678.80" stroke="#707070" stroke-width="1"/>
<text x="402.50" y="688.60" font-size="8" text-anchor="middle">Young</text>
<line x1="432.50" y1="675.30" x2="432.50" y2="678.80" stroke="#707070" stroke-width="1"/>
<text x="432.50" y="688.60" font-size="8" text-anchor="middle">Old</text>
<line x1="462.20" y1="675.30" x2="462.20" y2="678.80" stroke="#707070" stroke-width="1"/>
<text x="462.20" y="688.60" font-size="8" text-anchor="middle">Geriatric</text>
<text x="432.50" y="516.50" font-size="8.7" text-anchor="middle">MuSCs 1 at 3.5 dpi</text>
<text x="432.50" y="526.30" font-size="6.6" text-anchor="middle"><tspan font-style="italic">P</tspan> = 0.36</text>
<line x1="402.50" y1="529.20" x2="462.20" y2="529.20" stroke="#555" stroke-width="0.7"/>
<line x1="402.50" y1="529.20" x2="402.50" y2="531.40" stroke="#555" stroke-width="0.7"/>
<line x1="462.20" y1="529.20" x2="462.20" y2="531.40" stroke="#555" stroke-width="0.7"/>
<text x="417.50" y="537.40" font-size="6.6" text-anchor="middle"><tspan font-style="italic">P</tspan> = 0.006*</text>
<text x="447.35" y="537.40" font-size="6.6" text-anchor="middle"><tspan font-style="italic">P</tspan> = 0.39</text>
<line x1="402.50" y1="540.80" x2="431.60" y2="540.80" stroke="#555" stroke-width="0.7"/>
<line x1="402.50" y1="540.80" x2="402.50" y2="542.80" stroke="#555" stroke-width="0.7"/>
<line x1="431.60" y1="540.80" x2="431.60" y2="542.80" stroke="#555" stroke-width="0.7"/>
<line x1="433.40" y1="540.80" x2="462.20" y2="540.80" stroke="#555" stroke-width="0.7"/>
<line x1="433.40" y1="540.80" x2="433.40" y2="542.80" stroke="#555" stroke-width="0.7"/>
<line x1="462.20" y1="540.80" x2="462.20" y2="542.80" stroke="#555" stroke-width="0.7"/>
<text x="391.00" y="558.00" font-size="12" fill="#111" font-weight="bold" stroke="#111" stroke-width="0.3">h</text>
<circle cx="402" cy="589.8" r="1.5" fill="#f5a868"/>
<circle cx="400.9" cy="616.8" r="1.5" fill="#f5a868"/>
<circle cx="401.7" cy="623.7" r="1.5" fill="#f5a868"/>
<circle cx="403.7" cy="623.7" r="1.5" fill="#f5a868"/>
<line x1="394.90" y1="619.96" x2="410.10" y2="619.96" stroke="#ee8a3c" stroke-width="1.6"/>
<circle cx="432.9" cy="558.4" r="1.5" fill="#93c1e6"/>
<line x1="424.90" y1="558.30" x2="440.10" y2="558.30" stroke="#5b9fd6" stroke-width="1.6"/>
<circle cx="461.2" cy="558.4" r="1.5" fill="#7d5299"/>
<circle cx="464.6" cy="664" r="1.5" fill="#7d5299"/>
<line x1="454.60" y1="558.30" x2="469.80" y2="558.30" stroke="#5a2a82" stroke-width="1.6"/>
<line x1="487.10" y1="547.40" x2="487.10" y2="675.50" stroke="#ababab" stroke-width="1.1"/>
<line x1="486.60" y1="675.00" x2="581.50" y2="675.00" stroke="#ababab" stroke-width="1.1"/>
<line x1="483.80" y1="558.30" x2="487.10" y2="558.30" stroke="#999" stroke-width="1"/>
<line x1="483.80" y1="584.65" x2="487.10" y2="584.65" stroke="#999" stroke-width="1"/>
<line x1="483.80" y1="611.00" x2="487.10" y2="611.00" stroke="#999" stroke-width="1"/>
<line x1="483.80" y1="637.35" x2="487.10" y2="637.35" stroke="#999" stroke-width="1"/>
<line x1="483.80" y1="663.70" x2="487.10" y2="663.70" stroke="#999" stroke-width="1"/>
<line x1="505.00" y1="675.30" x2="505.00" y2="678.80" stroke="#707070" stroke-width="1"/>
<text x="505.00" y="688.60" font-size="8" text-anchor="middle">Young</text>
<line x1="535.00" y1="675.30" x2="535.00" y2="678.80" stroke="#707070" stroke-width="1"/>
<text x="535.00" y="688.60" font-size="8" text-anchor="middle">Old</text>
<line x1="564.70" y1="675.30" x2="564.70" y2="678.80" stroke="#707070" stroke-width="1"/>
<text x="564.70" y="688.60" font-size="8" text-anchor="middle">Geriatric</text>
<text x="535.00" y="516.50" font-size="8.7" text-anchor="middle">MuSCs 2–6 at 3.5 dpi</text>
<text x="535.00" y="526.30" font-size="6.6" text-anchor="middle"><tspan font-style="italic">P</tspan> = 0.62</text>
<line x1="505.00" y1="529.20" x2="564.70" y2="529.20" stroke="#555" stroke-width="0.7"/>
<line x1="505.00" y1="529.20" x2="505.00" y2="531.40" stroke="#555" stroke-width="0.7"/>
<line x1="564.70" y1="529.20" x2="564.70" y2="531.40" stroke="#555" stroke-width="0.7"/>
<text x="520.00" y="537.40" font-size="6.6" text-anchor="middle"><tspan font-style="italic">P</tspan> = 0.75</text>
<text x="549.85" y="537.40" font-size="6.6" text-anchor="middle"><tspan font-style="italic">P</tspan> = 0.45</text>
<line x1="505.00" y1="540.80" x2="534.10" y2="540.80" stroke="#555" stroke-width="0.7"/>
<line x1="505.00" y1="540.80" x2="505.00" y2="542.80" stroke="#555" stroke-width="0.7"/>
<line x1="534.10" y1="540.80" x2="534.10" y2="542.80" stroke="#555" stroke-width="0.7"/>
<line x1="535.90" y1="540.80" x2="564.70" y2="540.80" stroke="#555" stroke-width="0.7"/>
<line x1="535.90" y1="540.80" x2="535.90" y2="542.80" stroke="#555" stroke-width="0.7"/>
<line x1="564.70" y1="540.80" x2="564.70" y2="542.80" stroke="#555" stroke-width="0.7"/>
<text x="493.50" y="558.00" font-size="12" fill="#111" font-weight="bold" stroke="#111" stroke-width="0.3">i</text>
<circle cx="505" cy="584.5" r="1.5" fill="#f5a868"/>
<circle cx="503" cy="630.7" r="1.5" fill="#f5a868"/>
<line x1="497.40" y1="607.84" x2="512.60" y2="607.84" stroke="#ee8a3c" stroke-width="1.6"/>
<circle cx="535.5" cy="605.1" r="1.5" fill="#93c1e6"/>
<circle cx="532.2" cy="611.5" r="1.5" fill="#93c1e6"/>
<circle cx="532.8" cy="622.2" r="1.5" fill="#93c1e6"/>
<circle cx="533.3" cy="628.5" r="1.5" fill="#93c1e6"/>
<line x1="527.40" y1="617.32" x2="542.60" y2="617.32" stroke="#5b9fd6" stroke-width="1.6"/>
<circle cx="562.8" cy="612.3" r="1.5" fill="#7d5299"/>
<circle cx="564.4" cy="615.6" r="1.5" fill="#7d5299"/>
<circle cx="566.3" cy="628" r="1.5" fill="#7d5299"/>
<circle cx="566.3" cy="637.6" r="1.5" fill="#7d5299"/>
<line x1="557.10" y1="621.54" x2="572.30" y2="621.54" stroke="#5a2a82" stroke-width="1.6"/>
<line x1="589.30" y1="547.40" x2="589.30" y2="675.50" stroke="#ababab" stroke-width="1.1"/>
<line x1="588.80" y1="675.00" x2="681.10" y2="675.00" stroke="#ababab" stroke-width="1.1"/>
<line x1="586.00" y1="558.30" x2="589.30" y2="558.30" stroke="#999" stroke-width="1"/>
<line x1="586.00" y1="584.65" x2="589.30" y2="584.65" stroke="#999" stroke-width="1"/>
<line x1="586.00" y1="611.00" x2="589.30" y2="611.00" stroke="#999" stroke-width="1"/>
<line x1="586.00" y1="637.35" x2="589.30" y2="637.35" stroke="#999" stroke-width="1"/>
<line x1="586.00" y1="663.70" x2="589.30" y2="663.70" stroke="#999" stroke-width="1"/>
<line x1="607.20" y1="675.30" x2="607.20" y2="678.80" stroke="#707070" stroke-width="1"/>
<text x="607.20" y="688.60" font-size="8" text-anchor="middle">Young</text>
<line x1="637.20" y1="675.30" x2="637.20" y2="678.80" stroke="#707070" stroke-width="1"/>
<text x="637.20" y="688.60" font-size="8" text-anchor="middle">Old</text>
<line x1="666.90" y1="675.30" x2="666.90" y2="678.80" stroke="#707070" stroke-width="1"/>
<text x="666.90" y="688.60" font-size="8" text-anchor="middle">Geriatric</text>
<text x="637.20" y="516.50" font-size="8.7" text-anchor="middle">MPCs at 3.5 dpi</text>
<text x="637.20" y="526.30" font-size="6.6" text-anchor="middle"><tspan font-style="italic">P</tspan> = 0.12</text>
<line x1="607.20" y1="529.20" x2="666.90" y2="529.20" stroke="#555" stroke-width="0.7"/>
<line x1="607.20" y1="529.20" x2="607.20" y2="531.40" stroke="#555" stroke-width="0.7"/>
<line x1="666.90" y1="529.20" x2="666.90" y2="531.40" stroke="#555" stroke-width="0.7"/>
<text x="622.20" y="537.40" font-size="6.6" text-anchor="middle"><tspan font-style="italic">P</tspan> = 0.12</text>
<text x="652.05" y="537.40" font-size="6.6" text-anchor="middle"><tspan font-style="italic">P</tspan> = 0.56</text>
<line x1="607.20" y1="540.80" x2="636.30" y2="540.80" stroke="#555" stroke-width="0.7"/>
<line x1="607.20" y1="540.80" x2="607.20" y2="542.80" stroke="#555" stroke-width="0.7"/>
<line x1="636.30" y1="540.80" x2="636.30" y2="542.80" stroke="#555" stroke-width="0.7"/>
<line x1="638.10" y1="540.80" x2="666.90" y2="540.80" stroke="#555" stroke-width="0.7"/>
<line x1="638.10" y1="540.80" x2="638.10" y2="542.80" stroke="#555" stroke-width="0.7"/>
<line x1="666.90" y1="540.80" x2="666.90" y2="542.80" stroke="#555" stroke-width="0.7"/>
<text x="595.70" y="558.00" font-size="12" fill="#111" font-weight="bold" stroke="#111" stroke-width="0.3">j</text>
<circle cx="605.3" cy="580.5" r="1.5" fill="#f5a868"/>
<circle cx="605.3" cy="584.1" r="1.5" fill="#f5a868"/>
<circle cx="604.5" cy="594.3" r="1.5" fill="#f5a868"/>
<circle cx="606.7" cy="594.3" r="1.5" fill="#f5a868"/>
<line x1="599.60" y1="588.87" x2="614.80" y2="588.87" stroke="#ee8a3c" stroke-width="1.6"/>
<circle cx="636.2" cy="564.2" r="1.5" fill="#93c1e6"/>
<circle cx="636.8" cy="574.4" r="1.5" fill="#93c1e6"/>
<circle cx="639" cy="591" r="1.5" fill="#93c1e6"/>
<line x1="629.60" y1="574.64" x2="644.80" y2="574.64" stroke="#5b9fd6" stroke-width="1.6"/>
<circle cx="666" cy="572.8" r="1.5" fill="#7d5299"/>
<circle cx="669.6" cy="578.6" r="1.5" fill="#7d5299"/>
<circle cx="667.6" cy="580.5" r="1.5" fill="#7d5299"/>
<circle cx="664.6" cy="586" r="1.5" fill="#7d5299"/>
<line x1="659.30" y1="580.43" x2="674.50" y2="580.43" stroke="#5a2a82" stroke-width="1.6"/>
<text x="7.0" y="611.2" font-size="8.85" text-anchor="middle" transform="rotate(-90 7.0 611.2)">Fraction of <tspan font-style="italic">Cdkn2a</tspan>+ and <tspan font-style="italic">Cdkn1a</tspan>+ cells</text>
<text x="354.90" y="610.60" font-size="9" text-anchor="middle" transform="rotate(-90 354.90 610.60)">Fraction of one-way FBR high cells</text>
</svg></body></html>
